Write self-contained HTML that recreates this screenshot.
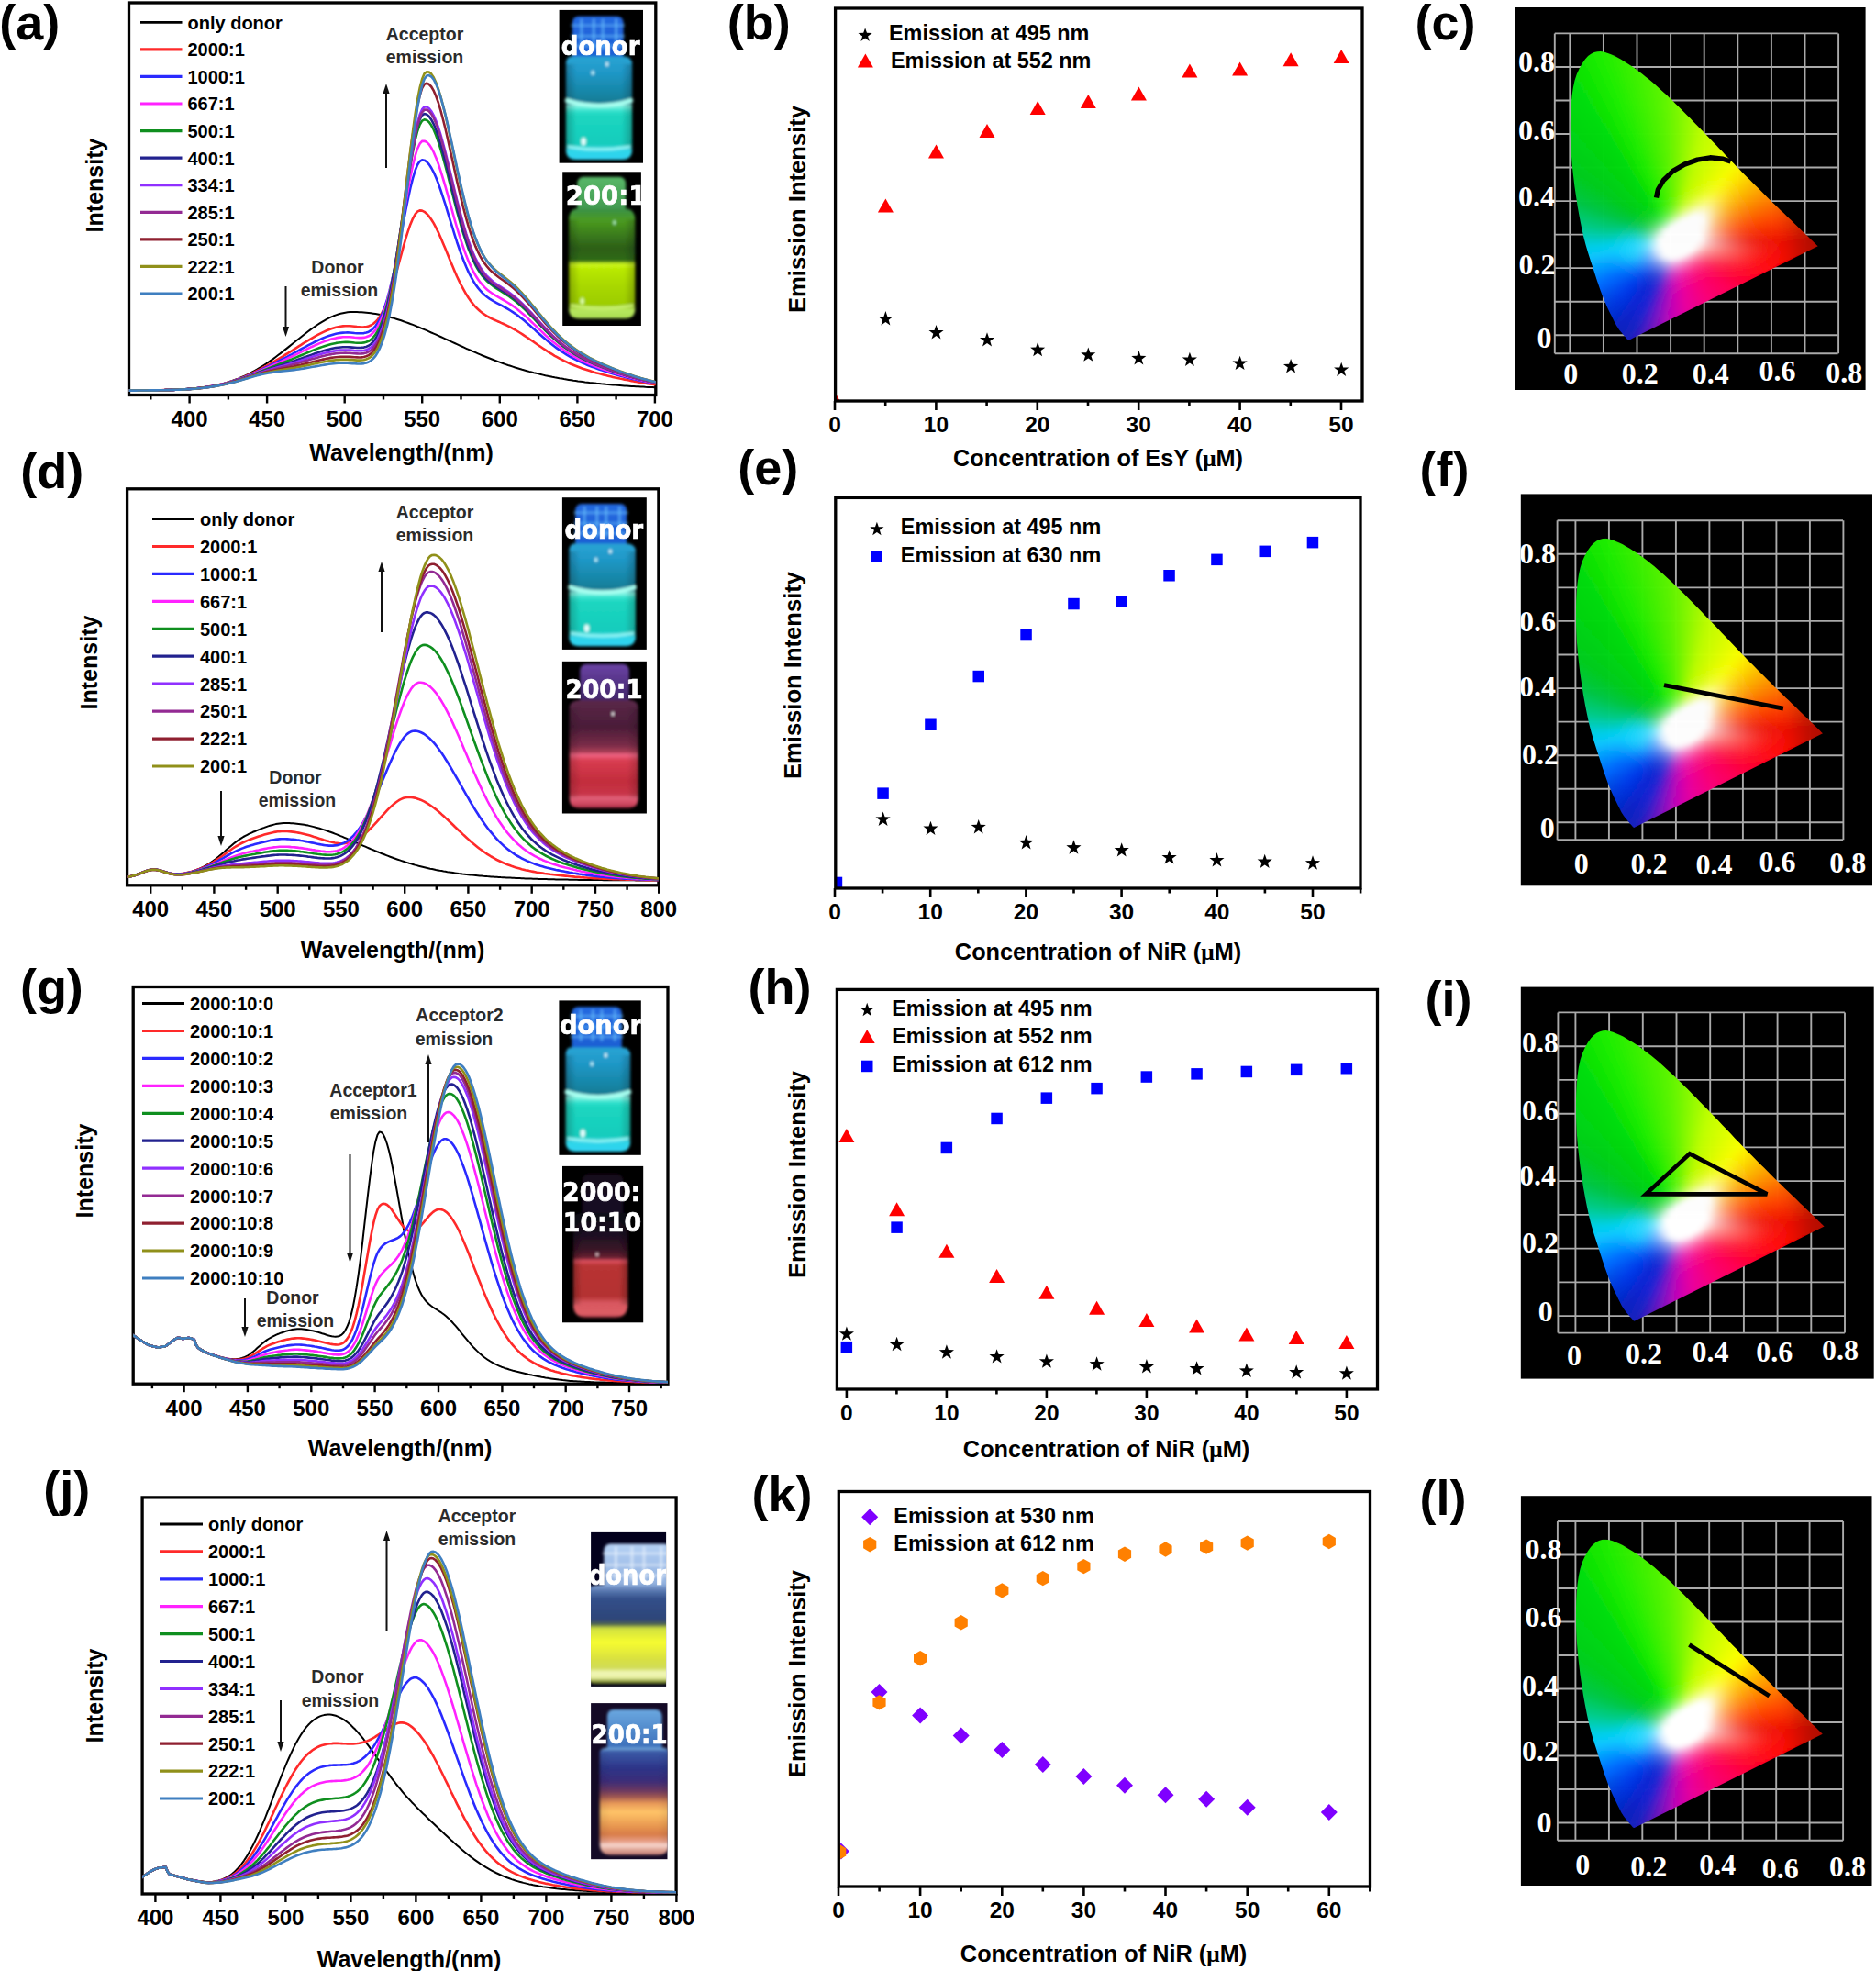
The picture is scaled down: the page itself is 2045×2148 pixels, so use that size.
<!DOCTYPE html><html><head><meta charset="utf-8"><title>figure</title><style>html,body{margin:0;padding:0;background:#fff}svg{display:block}</style></head><body><svg width="2045" height="2148" viewBox="0 0 2045 2148"><defs><filter id="vb" x="-10%" y="-10%" width="120%" height="120%"><feGaussianBlur stdDeviation="1.6"/></filter><filter id="vb3" x="-20%" y="-20%" width="140%" height="140%"><feGaussianBlur stdDeviation="3"/></filter><filter id="tb" x="-10%" y="-10%" width="120%" height="120%"><feGaussianBlur stdDeviation="0.6"/></filter><clipPath id="hsclip"><polygon points="64.5,5.5 64.4,5.5 64.4,5.5 64.3,5.6 64.2,5.6 64,5.6 63.9,5.6 63.7,5.5 63.5,5.4 63.3,5.3 63.1,5.1 62.8,4.9 62.5,4.5 62.2,4.2 61.8,3.7 61.4,3.2 60.8,2.5 60.2,1.9 59.5,1.1 58.8,0.2 57.9,-0.8 56.8,-2.2 55.5,-3.7 54.2,-5.3 53.1,-6.8 52.2,-8.1 51.5,-9.2 50.7,-10.4 49.9,-11.9 48.9,-13.8 47.8,-16 46.6,-18.4 45.4,-20.9 44.2,-23.3 42.9,-25.8 41.6,-28.6 40.1,-31.8 38.6,-35.4 36.9,-39.3 35.2,-43.7 33.4,-48.6 31.5,-54 29.5,-59.9 27.4,-66.4 25.1,-73.5 22.6,-81.2 19.9,-89.6 17.3,-98.5 14.8,-108 12.6,-118.1 10.5,-128.8 8.5,-139.8 6.8,-151 5.1,-162.5 3.7,-174.2 2.4,-186 1.5,-197.6 0.9,-209 0.5,-220.3 0.5,-231.3 0.8,-241.7 1.4,-251.6 2.2,-261.1 3.5,-269.9 5.2,-277.9 7.5,-285 10.4,-291.4 13.5,-296.8 16.7,-301.3 19.8,-304.7 23,-307.1 26.4,-308.7 29.8,-309.6 33.3,-309.8 37,-309.2 40.7,-308.1 44.3,-306.7 48,-305.2 51.7,-303.3 55.4,-301.2 59,-299 62.5,-296.9 66,-294.6 69.4,-292.2 72.8,-289.8 76.1,-287.3 79.4,-284.8 82.7,-282.1 86,-279.5 89.3,-276.7 92.5,-273.9 95.8,-271 99,-268.1 102.3,-265.1 105.5,-262.1 108.7,-259 111.9,-255.9 115.1,-252.8 118.3,-249.7 121.5,-246.5 124.7,-243.3 127.9,-240 131.1,-236.8 134.3,-233.5 137.5,-230.2 140.7,-226.9 143.9,-223.6 147.1,-220.3 150.3,-217 153.5,-213.7 156.6,-210.4 159.8,-207 163,-203.7 166.1,-200.5 169.2,-197.2 172.3,-193.9 175.4,-190.7 178.5,-187.5 181.5,-184.3 184.6,-181.2 187.6,-178.1 190.6,-175.1 193.6,-172.1 196.5,-169.2 199.4,-166.3 202.2,-163.5 205.1,-160.7 207.8,-157.9 210.5,-155.3 213.2,-152.6 215.7,-150 218.2,-147.5 220.7,-145.1 222.9,-143 225,-141 227.1,-138.9 229.8,-136.3 233.2,-133.1 237.1,-129.3 241,-125.6 244.4,-122.2 247.3,-119.5 249.8,-117 252.1,-114.8 254.1,-112.8 256,-111.1 257.6,-109.5 259,-108.1 260.3,-106.9 261.5,-105.7 262.6,-104.6 263.6,-103.7 264.5,-102.8 265.2,-102.1 265.9,-101.5 266.5,-100.9 267.1,-100.3 268,-99.5 268.9,-98.5 269.8,-97.7 270.4,-97.1"/></clipPath><linearGradient id="hr0" gradientUnits="userSpaceOnUse" x1="54.3" y1="0" x2="74.8" y2="0"><stop offset="0" stop-color="#1121be"/><stop offset="0.333" stop-color="#1720be"/><stop offset="0.667" stop-color="#231fbd"/><stop offset="1" stop-color="#3c1bba"/></linearGradient><linearGradient id="hr1" gradientUnits="userSpaceOnUse" x1="53.6" y1="0" x2="76.4" y2="0"><stop offset="0" stop-color="#0f21be"/><stop offset="0.333" stop-color="#1520be"/><stop offset="0.667" stop-color="#211fbe"/><stop offset="1" stop-color="#3f1bbb"/></linearGradient><linearGradient id="hr2" gradientUnits="userSpaceOnUse" x1="51" y1="0" x2="82.5" y2="0"><stop offset="0" stop-color="#0b21be"/><stop offset="0.25" stop-color="#1221bf"/><stop offset="0.5" stop-color="#1920c0"/><stop offset="0.75" stop-color="#331dbe"/><stop offset="1" stop-color="#5418bb"/></linearGradient><linearGradient id="hr3" gradientUnits="userSpaceOnUse" x1="48.5" y1="0" x2="88.5" y2="0"><stop offset="0" stop-color="#0822bf"/><stop offset="0.2" stop-color="#0f21bf"/><stop offset="0.4" stop-color="#1621c0"/><stop offset="0.6" stop-color="#261fc0"/><stop offset="0.8" stop-color="#481abd"/><stop offset="1" stop-color="#6c15ba"/></linearGradient><linearGradient id="hr4" gradientUnits="userSpaceOnUse" x1="46.1" y1="0" x2="94.5" y2="0"><stop offset="0" stop-color="#0725c2"/><stop offset="0.167" stop-color="#0b22bf"/><stop offset="0.333" stop-color="#1221c1"/><stop offset="0.5" stop-color="#1a21c3"/><stop offset="0.667" stop-color="#3b1cc1"/><stop offset="0.833" stop-color="#5f17bd"/><stop offset="1" stop-color="#8110b9"/></linearGradient><linearGradient id="hr5" gradientUnits="userSpaceOnUse" x1="43.9" y1="0" x2="100.5" y2="0"><stop offset="0" stop-color="#0628c5"/><stop offset="0.125" stop-color="#0823c1"/><stop offset="0.25" stop-color="#0d22c1"/><stop offset="0.375" stop-color="#1421c3"/><stop offset="0.5" stop-color="#1b21c5"/><stop offset="0.625" stop-color="#3a1dc3"/><stop offset="0.75" stop-color="#5c18c0"/><stop offset="0.875" stop-color="#7c12bc"/><stop offset="1" stop-color="#990bb7"/></linearGradient><linearGradient id="hr6" gradientUnits="userSpaceOnUse" x1="42.1" y1="0" x2="106.6" y2="0"><stop offset="0" stop-color="#042bc8"/><stop offset="0.111" stop-color="#0726c5"/><stop offset="0.222" stop-color="#0a22c2"/><stop offset="0.333" stop-color="#1122c4"/><stop offset="0.444" stop-color="#1822c6"/><stop offset="0.556" stop-color="#2f1fc6"/><stop offset="0.667" stop-color="#521ac3"/><stop offset="0.778" stop-color="#7614bf"/><stop offset="0.889" stop-color="#930dba"/><stop offset="1" stop-color="#b806ba"/></linearGradient><linearGradient id="hr7" gradientUnits="userSpaceOnUse" x1="40.5" y1="0" x2="112.6" y2="0"><stop offset="0" stop-color="#032dcb"/><stop offset="0.1" stop-color="#0629c8"/><stop offset="0.2" stop-color="#0824c5"/><stop offset="0.3" stop-color="#0e22c5"/><stop offset="0.4" stop-color="#1622c8"/><stop offset="0.5" stop-color="#2321c9"/><stop offset="0.6" stop-color="#471cc6"/><stop offset="0.7" stop-color="#6d16c2"/><stop offset="0.8" stop-color="#8d0fbd"/><stop offset="0.9" stop-color="#b107bb"/><stop offset="1" stop-color="#c703b3"/></linearGradient><linearGradient id="hr8" gradientUnits="userSpaceOnUse" x1="39.1" y1="0" x2="118.6" y2="0"><stop offset="0" stop-color="#0230ce"/><stop offset="0.091" stop-color="#042ccc"/><stop offset="0.182" stop-color="#0727c9"/><stop offset="0.273" stop-color="#0b23c7"/><stop offset="0.364" stop-color="#1223c9"/><stop offset="0.455" stop-color="#1b22cb"/><stop offset="0.545" stop-color="#3b1ec9"/><stop offset="0.636" stop-color="#6218c5"/><stop offset="0.727" stop-color="#8611c0"/><stop offset="0.818" stop-color="#aa09bd"/><stop offset="0.909" stop-color="#c404b4"/><stop offset="1" stop-color="#d402ab"/></linearGradient><linearGradient id="hr9" gradientUnits="userSpaceOnUse" x1="37.6" y1="0" x2="124.6" y2="0"><stop offset="0" stop-color="#0133d2"/><stop offset="0.083" stop-color="#032fcf"/><stop offset="0.167" stop-color="#062acc"/><stop offset="0.25" stop-color="#0825c9"/><stop offset="0.333" stop-color="#0f23ca"/><stop offset="0.417" stop-color="#1823cd"/><stop offset="0.5" stop-color="#2f20cc"/><stop offset="0.583" stop-color="#571ac8"/><stop offset="0.667" stop-color="#7e13c3"/><stop offset="0.75" stop-color="#a30bbe"/><stop offset="0.833" stop-color="#c104b6"/><stop offset="0.917" stop-color="#d202ad"/><stop offset="1" stop-color="#e200a3"/></linearGradient><linearGradient id="hr10" gradientUnits="userSpaceOnUse" x1="36.1" y1="0" x2="130.7" y2="0"><stop offset="0" stop-color="#0036d5"/><stop offset="0.077" stop-color="#0232d3"/><stop offset="0.154" stop-color="#042dd0"/><stop offset="0.231" stop-color="#0728cd"/><stop offset="0.308" stop-color="#0c24cc"/><stop offset="0.385" stop-color="#1423ce"/><stop offset="0.462" stop-color="#2122cf"/><stop offset="0.538" stop-color="#4a1ccb"/><stop offset="0.615" stop-color="#7516c6"/><stop offset="0.692" stop-color="#990dbf"/><stop offset="0.769" stop-color="#be04b8"/><stop offset="0.846" stop-color="#cf02ae"/><stop offset="0.923" stop-color="#e000a4"/><stop offset="1" stop-color="#ea009a"/></linearGradient><linearGradient id="hr11" gradientUnits="userSpaceOnUse" x1="34.6" y1="0" x2="136.7" y2="0"><stop offset="0" stop-color="#003ad8"/><stop offset="0.071" stop-color="#0135d7"/><stop offset="0.143" stop-color="#0330d5"/><stop offset="0.214" stop-color="#062bd2"/><stop offset="0.286" stop-color="#0925ce"/><stop offset="0.357" stop-color="#1124cf"/><stop offset="0.429" stop-color="#1a23d1"/><stop offset="0.5" stop-color="#3c1fce"/><stop offset="0.571" stop-color="#6818c9"/><stop offset="0.643" stop-color="#900fc2"/><stop offset="0.714" stop-color="#b606ba"/><stop offset="0.786" stop-color="#cc03b0"/><stop offset="0.857" stop-color="#de01a5"/><stop offset="0.929" stop-color="#e9009b"/><stop offset="1" stop-color="#ee0091"/></linearGradient><linearGradient id="hr12" gradientUnits="userSpaceOnUse" x1="33.1" y1="0" x2="142.7" y2="0"><stop offset="0" stop-color="#003fda"/><stop offset="0.067" stop-color="#0038da"/><stop offset="0.133" stop-color="#0234d9"/><stop offset="0.2" stop-color="#042fd6"/><stop offset="0.267" stop-color="#0729d2"/><stop offset="0.333" stop-color="#0d25d0"/><stop offset="0.4" stop-color="#1724d2"/><stop offset="0.467" stop-color="#2d21d1"/><stop offset="0.533" stop-color="#5b1acb"/><stop offset="0.6" stop-color="#8712c4"/><stop offset="0.667" stop-color="#ae09bc"/><stop offset="0.733" stop-color="#c903b2"/><stop offset="0.8" stop-color="#db01a7"/><stop offset="0.867" stop-color="#e9009c"/><stop offset="0.933" stop-color="#ee0092"/><stop offset="1" stop-color="#f20088"/></linearGradient><linearGradient id="hr13" gradientUnits="userSpaceOnUse" x1="31.8" y1="0" x2="148.7" y2="0"><stop offset="0" stop-color="#0044dc"/><stop offset="0.062" stop-color="#003ddd"/><stop offset="0.125" stop-color="#0037dd"/><stop offset="0.188" stop-color="#0332da"/><stop offset="0.25" stop-color="#062cd7"/><stop offset="0.312" stop-color="#0925d1"/><stop offset="0.375" stop-color="#1324d2"/><stop offset="0.438" stop-color="#1d24d3"/><stop offset="0.5" stop-color="#4c1dcd"/><stop offset="0.562" stop-color="#7c15c7"/><stop offset="0.625" stop-color="#a50bbe"/><stop offset="0.688" stop-color="#c504b4"/><stop offset="0.75" stop-color="#d802a9"/><stop offset="0.812" stop-color="#e9009d"/><stop offset="0.875" stop-color="#ed0092"/><stop offset="0.938" stop-color="#f20088"/><stop offset="1" stop-color="#f6007f"/></linearGradient><linearGradient id="hr14" gradientUnits="userSpaceOnUse" x1="30.5" y1="0" x2="154.7" y2="0"><stop offset="0" stop-color="#0049df"/><stop offset="0.059" stop-color="#0043e0"/><stop offset="0.118" stop-color="#003be0"/><stop offset="0.176" stop-color="#0135df"/><stop offset="0.235" stop-color="#0430db"/><stop offset="0.294" stop-color="#0829d6"/><stop offset="0.353" stop-color="#0f25d3"/><stop offset="0.412" stop-color="#1a24d4"/><stop offset="0.471" stop-color="#3c1fd0"/><stop offset="0.529" stop-color="#6f17c9"/><stop offset="0.588" stop-color="#9b0ec0"/><stop offset="0.647" stop-color="#c105b6"/><stop offset="0.706" stop-color="#d602aa"/><stop offset="0.765" stop-color="#e8009e"/><stop offset="0.824" stop-color="#ed0093"/><stop offset="0.882" stop-color="#f20088"/><stop offset="0.941" stop-color="#f6007e"/><stop offset="1" stop-color="#fa0075"/></linearGradient><linearGradient id="hr15" gradientUnits="userSpaceOnUse" x1="29.3" y1="0" x2="160.8" y2="0"><stop offset="0" stop-color="#004ee1"/><stop offset="0.056" stop-color="#0048e3"/><stop offset="0.111" stop-color="#0041e3"/><stop offset="0.167" stop-color="#0039e3"/><stop offset="0.222" stop-color="#0333e0"/><stop offset="0.278" stop-color="#062dda"/><stop offset="0.333" stop-color="#0a26d3"/><stop offset="0.389" stop-color="#1525d4"/><stop offset="0.444" stop-color="#2c22d2"/><stop offset="0.5" stop-color="#601acb"/><stop offset="0.556" stop-color="#9011c3"/><stop offset="0.611" stop-color="#bd06b9"/><stop offset="0.667" stop-color="#d303ac"/><stop offset="0.722" stop-color="#e700a0"/><stop offset="0.778" stop-color="#ed0094"/><stop offset="0.833" stop-color="#f20089"/><stop offset="0.889" stop-color="#f7007e"/><stop offset="0.944" stop-color="#fa0075"/><stop offset="1" stop-color="#fb006d"/></linearGradient><linearGradient id="hr16" gradientUnits="userSpaceOnUse" x1="28.1" y1="0" x2="166.8" y2="0"><stop offset="0" stop-color="#0053e4"/><stop offset="0.056" stop-color="#004de5"/><stop offset="0.111" stop-color="#0046e6"/><stop offset="0.167" stop-color="#003de6"/><stop offset="0.222" stop-color="#0236e3"/><stop offset="0.278" stop-color="#062fdd"/><stop offset="0.333" stop-color="#0a26d4"/><stop offset="0.389" stop-color="#1625d4"/><stop offset="0.444" stop-color="#3222d1"/><stop offset="0.5" stop-color="#6c19c9"/><stop offset="0.556" stop-color="#9f0ec0"/><stop offset="0.611" stop-color="#c705b4"/><stop offset="0.667" stop-color="#de02a6"/><stop offset="0.722" stop-color="#eb0098"/><stop offset="0.778" stop-color="#f1008b"/><stop offset="0.833" stop-color="#f60080"/><stop offset="0.889" stop-color="#fa0075"/><stop offset="0.944" stop-color="#fb006c"/><stop offset="1" stop-color="#fc0065"/></linearGradient><linearGradient id="hr17" gradientUnits="userSpaceOnUse" x1="26.9" y1="0" x2="172.8" y2="0"><stop offset="0" stop-color="#005ff9"/><stop offset="0.053" stop-color="#0053e8"/><stop offset="0.105" stop-color="#004cea"/><stop offset="0.158" stop-color="#0043ea"/><stop offset="0.211" stop-color="#003ae7"/><stop offset="0.263" stop-color="#0433e1"/><stop offset="0.316" stop-color="#082bd8"/><stop offset="0.368" stop-color="#1126d4"/><stop offset="0.421" stop-color="#1f25d4"/><stop offset="0.474" stop-color="#5b1dcc"/><stop offset="0.526" stop-color="#9312c3"/><stop offset="0.579" stop-color="#c207b7"/><stop offset="0.632" stop-color="#da03a8"/><stop offset="0.684" stop-color="#ea019a"/><stop offset="0.737" stop-color="#f0008c"/><stop offset="0.789" stop-color="#f60080"/><stop offset="0.842" stop-color="#fa0075"/><stop offset="0.895" stop-color="#fb006c"/><stop offset="0.947" stop-color="#fc0064"/><stop offset="1" stop-color="#fd005d"/></linearGradient><linearGradient id="hr18" gradientUnits="userSpaceOnUse" x1="25.8" y1="0" x2="178.8" y2="0"><stop offset="0" stop-color="#0064fb"/><stop offset="0.05" stop-color="#005df8"/><stop offset="0.1" stop-color="#0052ed"/><stop offset="0.15" stop-color="#004aed"/><stop offset="0.2" stop-color="#0040eb"/><stop offset="0.25" stop-color="#0237e5"/><stop offset="0.3" stop-color="#062fdd"/><stop offset="0.35" stop-color="#0d27d4"/><stop offset="0.4" stop-color="#1b27d4"/><stop offset="0.45" stop-color="#4921cf"/><stop offset="0.5" stop-color="#8717c6"/><stop offset="0.55" stop-color="#bc0aba"/><stop offset="0.6" stop-color="#d706ab"/><stop offset="0.65" stop-color="#ea029c"/><stop offset="0.7" stop-color="#f0018e"/><stop offset="0.75" stop-color="#f60080"/><stop offset="0.8" stop-color="#fa0075"/><stop offset="0.85" stop-color="#fb006b"/><stop offset="0.9" stop-color="#fc0063"/><stop offset="0.95" stop-color="#fe005c"/><stop offset="1" stop-color="#fe0055"/></linearGradient><linearGradient id="hr19" gradientUnits="userSpaceOnUse" x1="24.7" y1="0" x2="184.9" y2="0"><stop offset="0" stop-color="#006afd"/><stop offset="0.048" stop-color="#0063fa"/><stop offset="0.095" stop-color="#0058ef"/><stop offset="0.143" stop-color="#0050f0"/><stop offset="0.19" stop-color="#0047ee"/><stop offset="0.238" stop-color="#003cea"/><stop offset="0.286" stop-color="#0534e1"/><stop offset="0.333" stop-color="#0a2bd7"/><stop offset="0.381" stop-color="#1728d4"/><stop offset="0.429" stop-color="#3626d2"/><stop offset="0.476" stop-color="#791dc9"/><stop offset="0.524" stop-color="#b110be"/><stop offset="0.571" stop-color="#d309af"/><stop offset="0.619" stop-color="#e9059f"/><stop offset="0.667" stop-color="#f0038f"/><stop offset="0.714" stop-color="#f60181"/><stop offset="0.762" stop-color="#fa0074"/><stop offset="0.81" stop-color="#fb006a"/><stop offset="0.857" stop-color="#fd0062"/><stop offset="0.905" stop-color="#fe005a"/><stop offset="0.952" stop-color="#ff0053"/><stop offset="1" stop-color="#ff004a"/></linearGradient><linearGradient id="hr20" gradientUnits="userSpaceOnUse" x1="23.7" y1="0" x2="190.9" y2="0"><stop offset="0" stop-color="#0070ff"/><stop offset="0.045" stop-color="#0069fd"/><stop offset="0.091" stop-color="#0061f9"/><stop offset="0.136" stop-color="#0057f3"/><stop offset="0.182" stop-color="#004ef1"/><stop offset="0.227" stop-color="#0043ed"/><stop offset="0.273" stop-color="#0339e6"/><stop offset="0.318" stop-color="#0931dc"/><stop offset="0.364" stop-color="#132bd5"/><stop offset="0.409" stop-color="#252cd5"/><stop offset="0.455" stop-color="#6824cd"/><stop offset="0.5" stop-color="#a617c2"/><stop offset="0.545" stop-color="#cf0eb3"/><stop offset="0.591" stop-color="#e908a2"/><stop offset="0.636" stop-color="#f00591"/><stop offset="0.682" stop-color="#f60381"/><stop offset="0.727" stop-color="#fa0174"/><stop offset="0.773" stop-color="#fc006a"/><stop offset="0.818" stop-color="#fd0061"/><stop offset="0.864" stop-color="#fe0059"/><stop offset="0.909" stop-color="#ff0051"/><stop offset="0.955" stop-color="#ff0047"/><stop offset="1" stop-color="#ff003e"/></linearGradient><linearGradient id="hr21" gradientUnits="userSpaceOnUse" x1="22.7" y1="0" x2="196.9" y2="0"><stop offset="0" stop-color="#0179ff"/><stop offset="0.043" stop-color="#006fff"/><stop offset="0.087" stop-color="#0067fc"/><stop offset="0.13" stop-color="#005ff9"/><stop offset="0.174" stop-color="#0056f4"/><stop offset="0.217" stop-color="#004bf0"/><stop offset="0.261" stop-color="#023feb"/><stop offset="0.304" stop-color="#0837e2"/><stop offset="0.348" stop-color="#102fd7"/><stop offset="0.391" stop-color="#222fd6"/><stop offset="0.435" stop-color="#572bd1"/><stop offset="0.478" stop-color="#9b21c6"/><stop offset="0.522" stop-color="#cc15b8"/><stop offset="0.565" stop-color="#e80ea5"/><stop offset="0.609" stop-color="#ef0993"/><stop offset="0.652" stop-color="#f60583"/><stop offset="0.696" stop-color="#fa0374"/><stop offset="0.739" stop-color="#fc0169"/><stop offset="0.783" stop-color="#fd015f"/><stop offset="0.826" stop-color="#fe0158"/><stop offset="0.87" stop-color="#ff014e"/><stop offset="0.913" stop-color="#ff0144"/><stop offset="0.957" stop-color="#ff013c"/><stop offset="1" stop-color="#ff0134"/></linearGradient><linearGradient id="hr22" gradientUnits="userSpaceOnUse" x1="21.6" y1="0" x2="202.9" y2="0"><stop offset="0" stop-color="#0281ff"/><stop offset="0.042" stop-color="#0178ff"/><stop offset="0.083" stop-color="#006efe"/><stop offset="0.125" stop-color="#0066fb"/><stop offset="0.167" stop-color="#005ef8"/><stop offset="0.208" stop-color="#0154f3"/><stop offset="0.25" stop-color="#0249ee"/><stop offset="0.292" stop-color="#073fe7"/><stop offset="0.333" stop-color="#1137dd"/><stop offset="0.375" stop-color="#2134d7"/><stop offset="0.417" stop-color="#4635d5"/><stop offset="0.458" stop-color="#902ccb"/><stop offset="0.5" stop-color="#c91ebd"/><stop offset="0.542" stop-color="#e516aa"/><stop offset="0.583" stop-color="#ef0f97"/><stop offset="0.625" stop-color="#f60984"/><stop offset="0.667" stop-color="#fa0575"/><stop offset="0.708" stop-color="#fc0368"/><stop offset="0.75" stop-color="#fd025f"/><stop offset="0.792" stop-color="#fe0257"/><stop offset="0.833" stop-color="#fe024b"/><stop offset="0.875" stop-color="#ff0241"/><stop offset="0.917" stop-color="#ff0239"/><stop offset="0.958" stop-color="#ff0232"/><stop offset="1" stop-color="#ff022b"/></linearGradient><linearGradient id="hr23" gradientUnits="userSpaceOnUse" x1="20.7" y1="0" x2="209" y2="0"><stop offset="0" stop-color="#0389ff"/><stop offset="0.04" stop-color="#0281ff"/><stop offset="0.08" stop-color="#0177ff"/><stop offset="0.12" stop-color="#006dfe"/><stop offset="0.16" stop-color="#0066fb"/><stop offset="0.2" stop-color="#015ef7"/><stop offset="0.24" stop-color="#0355f2"/><stop offset="0.28" stop-color="#0749ed"/><stop offset="0.32" stop-color="#1141e3"/><stop offset="0.36" stop-color="#203bd8"/><stop offset="0.4" stop-color="#3940d9"/><stop offset="0.44" stop-color="#843ad1"/><stop offset="0.48" stop-color="#c42cc4"/><stop offset="0.52" stop-color="#e322b1"/><stop offset="0.56" stop-color="#f0189c"/><stop offset="0.6" stop-color="#f71087"/><stop offset="0.64" stop-color="#fb0976"/><stop offset="0.68" stop-color="#fc0669"/><stop offset="0.72" stop-color="#fe055e"/><stop offset="0.76" stop-color="#fe0555"/><stop offset="0.8" stop-color="#fe0549"/><stop offset="0.84" stop-color="#ff053f"/><stop offset="0.88" stop-color="#ff0437"/><stop offset="0.92" stop-color="#ff042f"/><stop offset="0.96" stop-color="#ff0329"/><stop offset="1" stop-color="#ff0223"/></linearGradient><linearGradient id="hr24" gradientUnits="userSpaceOnUse" x1="19.7" y1="0" x2="215" y2="0"><stop offset="0" stop-color="#0492ff"/><stop offset="0.038" stop-color="#038aff"/><stop offset="0.077" stop-color="#0281ff"/><stop offset="0.115" stop-color="#0177ff"/><stop offset="0.154" stop-color="#016efd"/><stop offset="0.192" stop-color="#0268fa"/><stop offset="0.231" stop-color="#0461f6"/><stop offset="0.269" stop-color="#0957f1"/><stop offset="0.308" stop-color="#124ce9"/><stop offset="0.346" stop-color="#2346de"/><stop offset="0.385" stop-color="#3c4adb"/><stop offset="0.423" stop-color="#784ad7"/><stop offset="0.462" stop-color="#bc3ecb"/><stop offset="0.5" stop-color="#e132b8"/><stop offset="0.538" stop-color="#f025a2"/><stop offset="0.577" stop-color="#f7198c"/><stop offset="0.615" stop-color="#fb1078"/><stop offset="0.654" stop-color="#fd0b6a"/><stop offset="0.692" stop-color="#fe095e"/><stop offset="0.731" stop-color="#fe0853"/><stop offset="0.769" stop-color="#fe0847"/><stop offset="0.808" stop-color="#ff083e"/><stop offset="0.846" stop-color="#ff0835"/><stop offset="0.885" stop-color="#ff072e"/><stop offset="0.923" stop-color="#ff0627"/><stop offset="0.962" stop-color="#ff0421"/><stop offset="1" stop-color="#ff031b"/></linearGradient><linearGradient id="hr25" gradientUnits="userSpaceOnUse" x1="18.7" y1="0" x2="221" y2="0"><stop offset="0" stop-color="#049aff"/><stop offset="0.037" stop-color="#0493ff"/><stop offset="0.074" stop-color="#038bff"/><stop offset="0.111" stop-color="#0282ff"/><stop offset="0.148" stop-color="#0279ff"/><stop offset="0.185" stop-color="#0373fd"/><stop offset="0.222" stop-color="#066ff9"/><stop offset="0.259" stop-color="#0b66f5"/><stop offset="0.296" stop-color="#155aef"/><stop offset="0.333" stop-color="#2754e5"/><stop offset="0.37" stop-color="#4055dd"/><stop offset="0.407" stop-color="#6e5cdd"/><stop offset="0.444" stop-color="#b655d3"/><stop offset="0.481" stop-color="#e047c2"/><stop offset="0.519" stop-color="#f137ab"/><stop offset="0.556" stop-color="#f82792"/><stop offset="0.593" stop-color="#fb1a7c"/><stop offset="0.63" stop-color="#fd126c"/><stop offset="0.667" stop-color="#fe0f60"/><stop offset="0.704" stop-color="#fe0e52"/><stop offset="0.741" stop-color="#fe0e47"/><stop offset="0.778" stop-color="#fe0d3d"/><stop offset="0.815" stop-color="#ff0d35"/><stop offset="0.852" stop-color="#ff0b2d"/><stop offset="0.889" stop-color="#ff0926"/><stop offset="0.926" stop-color="#ff071f"/><stop offset="0.963" stop-color="#ff0519"/><stop offset="1" stop-color="#fe0314"/></linearGradient><linearGradient id="hr26" gradientUnits="userSpaceOnUse" x1="17.8" y1="0" x2="227" y2="0"><stop offset="0" stop-color="#05a3ff"/><stop offset="0.036" stop-color="#059cff"/><stop offset="0.071" stop-color="#0495ff"/><stop offset="0.107" stop-color="#038dff"/><stop offset="0.143" stop-color="#0386ff"/><stop offset="0.179" stop-color="#0480ff"/><stop offset="0.214" stop-color="#087dfc"/><stop offset="0.25" stop-color="#0e77f9"/><stop offset="0.286" stop-color="#196cf4"/><stop offset="0.321" stop-color="#2c63ed"/><stop offset="0.357" stop-color="#4864e2"/><stop offset="0.393" stop-color="#6a70e3"/><stop offset="0.429" stop-color="#b36fdb"/><stop offset="0.464" stop-color="#e161cc"/><stop offset="0.5" stop-color="#f24fb5"/><stop offset="0.536" stop-color="#f93a9b"/><stop offset="0.571" stop-color="#fc2883"/><stop offset="0.607" stop-color="#fd1d70"/><stop offset="0.643" stop-color="#fe1762"/><stop offset="0.679" stop-color="#fe1653"/><stop offset="0.714" stop-color="#fe1548"/><stop offset="0.75" stop-color="#fe153f"/><stop offset="0.786" stop-color="#ff1436"/><stop offset="0.821" stop-color="#ff112e"/><stop offset="0.857" stop-color="#ff0e26"/><stop offset="0.893" stop-color="#ff0b1f"/><stop offset="0.929" stop-color="#ff0818"/><stop offset="0.964" stop-color="#fe0512"/><stop offset="1" stop-color="#fa030d"/></linearGradient><linearGradient id="hr27" gradientUnits="userSpaceOnUse" x1="16.8" y1="0" x2="233" y2="0"><stop offset="0" stop-color="#06abff"/><stop offset="0.034" stop-color="#06a5ff"/><stop offset="0.069" stop-color="#059eff"/><stop offset="0.103" stop-color="#0598ff"/><stop offset="0.138" stop-color="#0592ff"/><stop offset="0.172" stop-color="#068fff"/><stop offset="0.207" stop-color="#0a8dff"/><stop offset="0.241" stop-color="#1189fc"/><stop offset="0.276" stop-color="#1d80f8"/><stop offset="0.31" stop-color="#3175f2"/><stop offset="0.345" stop-color="#5276ea"/><stop offset="0.379" stop-color="#7783e6"/><stop offset="0.414" stop-color="#b28be4"/><stop offset="0.448" stop-color="#e380d8"/><stop offset="0.483" stop-color="#f46cc2"/><stop offset="0.517" stop-color="#fa53a7"/><stop offset="0.552" stop-color="#fc3b8c"/><stop offset="0.586" stop-color="#fe2b77"/><stop offset="0.621" stop-color="#fe2465"/><stop offset="0.655" stop-color="#fe2156"/><stop offset="0.69" stop-color="#fe204b"/><stop offset="0.724" stop-color="#fe1f42"/><stop offset="0.759" stop-color="#ff1d39"/><stop offset="0.793" stop-color="#ff1931"/><stop offset="0.828" stop-color="#ff1528"/><stop offset="0.862" stop-color="#ff101f"/><stop offset="0.897" stop-color="#ff0c18"/><stop offset="0.931" stop-color="#ff0811"/><stop offset="0.966" stop-color="#fc050b"/><stop offset="1" stop-color="#f20306"/></linearGradient><linearGradient id="hr28" gradientUnits="userSpaceOnUse" x1="15.8" y1="0" x2="239.1" y2="0"><stop offset="0" stop-color="#07b3ff"/><stop offset="0.033" stop-color="#07aeff"/><stop offset="0.067" stop-color="#06a8ff"/><stop offset="0.1" stop-color="#06a2ff"/><stop offset="0.133" stop-color="#069eff"/><stop offset="0.167" stop-color="#089dff"/><stop offset="0.2" stop-color="#0d9eff"/><stop offset="0.233" stop-color="#149bff"/><stop offset="0.267" stop-color="#2193fc"/><stop offset="0.3" stop-color="#3888f7"/><stop offset="0.333" stop-color="#5b87f1"/><stop offset="0.367" stop-color="#8696ea"/><stop offset="0.4" stop-color="#b6a9ec"/><stop offset="0.433" stop-color="#e7a4e5"/><stop offset="0.467" stop-color="#f690d2"/><stop offset="0.5" stop-color="#fb72b6"/><stop offset="0.533" stop-color="#fd5499"/><stop offset="0.567" stop-color="#fe3f81"/><stop offset="0.6" stop-color="#fe346b"/><stop offset="0.633" stop-color="#fe2f5c"/><stop offset="0.667" stop-color="#fe2d51"/><stop offset="0.7" stop-color="#fe2b48"/><stop offset="0.733" stop-color="#ff283e"/><stop offset="0.767" stop-color="#ff2335"/><stop offset="0.8" stop-color="#ff1d2b"/><stop offset="0.833" stop-color="#ff1621"/><stop offset="0.867" stop-color="#ff1018"/><stop offset="0.9" stop-color="#ff0b10"/><stop offset="0.933" stop-color="#fe0709"/><stop offset="0.967" stop-color="#f60404"/><stop offset="1" stop-color="#e80302"/></linearGradient><linearGradient id="hr29" gradientUnits="userSpaceOnUse" x1="14.9" y1="0" x2="245.1" y2="0"><stop offset="0" stop-color="#08bcff"/><stop offset="0.032" stop-color="#08b7ff"/><stop offset="0.065" stop-color="#07b2ff"/><stop offset="0.097" stop-color="#07adff"/><stop offset="0.129" stop-color="#08a9ff"/><stop offset="0.161" stop-color="#0aa9ff"/><stop offset="0.194" stop-color="#0fadff"/><stop offset="0.226" stop-color="#17aeff"/><stop offset="0.258" stop-color="#24a6ff"/><stop offset="0.29" stop-color="#3d9bfb"/><stop offset="0.323" stop-color="#659af6"/><stop offset="0.355" stop-color="#97acf2"/><stop offset="0.387" stop-color="#c3c6f3"/><stop offset="0.419" stop-color="#eccbf1"/><stop offset="0.452" stop-color="#f9bae3"/><stop offset="0.484" stop-color="#fc98c9"/><stop offset="0.516" stop-color="#fd73aa"/><stop offset="0.548" stop-color="#fe588e"/><stop offset="0.581" stop-color="#fe4875"/><stop offset="0.613" stop-color="#fe4164"/><stop offset="0.645" stop-color="#fe3e59"/><stop offset="0.677" stop-color="#fe3a4f"/><stop offset="0.71" stop-color="#fe3545"/><stop offset="0.742" stop-color="#ff2e3a"/><stop offset="0.774" stop-color="#ff252e"/><stop offset="0.806" stop-color="#ff1d23"/><stop offset="0.839" stop-color="#ff1518"/><stop offset="0.871" stop-color="#ff0e0f"/><stop offset="0.903" stop-color="#fe0a09"/><stop offset="0.935" stop-color="#f70705"/><stop offset="0.968" stop-color="#ea0503"/><stop offset="1" stop-color="#da0401"/></linearGradient><linearGradient id="hr30" gradientUnits="userSpaceOnUse" x1="13.9" y1="0" x2="251.1" y2="0"><stop offset="0" stop-color="#09c4ff"/><stop offset="0.031" stop-color="#09c0ff"/><stop offset="0.062" stop-color="#08bcff"/><stop offset="0.094" stop-color="#08b7ff"/><stop offset="0.125" stop-color="#09b4ff"/><stop offset="0.156" stop-color="#0cb4ff"/><stop offset="0.188" stop-color="#11b9ff"/><stop offset="0.219" stop-color="#1abdff"/><stop offset="0.25" stop-color="#28b8ff"/><stop offset="0.281" stop-color="#41abfe"/><stop offset="0.312" stop-color="#6dabfa"/><stop offset="0.344" stop-color="#a7bef8"/><stop offset="0.375" stop-color="#dce0f8"/><stop offset="0.406" stop-color="#f9f3fc"/><stop offset="0.438" stop-color="#fde8f6"/><stop offset="0.469" stop-color="#fdc3df"/><stop offset="0.5" stop-color="#fe98bf"/><stop offset="0.531" stop-color="#fe769e"/><stop offset="0.562" stop-color="#fe6182"/><stop offset="0.594" stop-color="#fe5670"/><stop offset="0.625" stop-color="#fe5063"/><stop offset="0.656" stop-color="#fe4a59"/><stop offset="0.688" stop-color="#fe434d"/><stop offset="0.719" stop-color="#ff3940"/><stop offset="0.75" stop-color="#ff2e33"/><stop offset="0.781" stop-color="#ff2425"/><stop offset="0.812" stop-color="#fe1a1a"/><stop offset="0.844" stop-color="#fd1311"/><stop offset="0.875" stop-color="#fc0d0b"/><stop offset="0.906" stop-color="#f80a06"/><stop offset="0.938" stop-color="#ec0703"/><stop offset="0.969" stop-color="#dd0602"/><stop offset="1" stop-color="#cd0501"/></linearGradient><linearGradient id="hr31" gradientUnits="userSpaceOnUse" x1="12.9" y1="0" x2="257.1" y2="0"><stop offset="0" stop-color="#08c9fb"/><stop offset="0.03" stop-color="#09c8fd"/><stop offset="0.061" stop-color="#09c5ff"/><stop offset="0.091" stop-color="#09c1ff"/><stop offset="0.121" stop-color="#0abeff"/><stop offset="0.152" stop-color="#0dbeff"/><stop offset="0.182" stop-color="#13c2ff"/><stop offset="0.212" stop-color="#1cc8ff"/><stop offset="0.242" stop-color="#2ac6ff"/><stop offset="0.273" stop-color="#44bcff"/><stop offset="0.303" stop-color="#72b8fe"/><stop offset="0.333" stop-color="#b3cefb"/><stop offset="0.364" stop-color="#f4f6fd"/><stop offset="0.394" stop-color="#ffffff"/><stop offset="0.424" stop-color="#ffffff"/><stop offset="0.455" stop-color="#fef3f9"/><stop offset="0.485" stop-color="#fec2d8"/><stop offset="0.515" stop-color="#fe98b2"/><stop offset="0.545" stop-color="#fe7c93"/><stop offset="0.576" stop-color="#fe6d7e"/><stop offset="0.606" stop-color="#fe6370"/><stop offset="0.636" stop-color="#fe5b63"/><stop offset="0.667" stop-color="#fe5056"/><stop offset="0.697" stop-color="#ff4447"/><stop offset="0.727" stop-color="#fe3737"/><stop offset="0.758" stop-color="#fd2b2a"/><stop offset="0.788" stop-color="#fc201e"/><stop offset="0.818" stop-color="#fb1714"/><stop offset="0.848" stop-color="#fa110d"/><stop offset="0.879" stop-color="#f80c07"/><stop offset="0.909" stop-color="#ee0904"/><stop offset="0.939" stop-color="#df0702"/><stop offset="0.97" stop-color="#cf0601"/><stop offset="1" stop-color="#c20600"/></linearGradient><linearGradient id="hr32" gradientUnits="userSpaceOnUse" x1="12" y1="0" x2="263.2" y2="0"><stop offset="0" stop-color="#06cbf5"/><stop offset="0.03" stop-color="#06caf7"/><stop offset="0.061" stop-color="#07c9fa"/><stop offset="0.091" stop-color="#09c9fc"/><stop offset="0.121" stop-color="#0bc8ff"/><stop offset="0.152" stop-color="#0ec7ff"/><stop offset="0.182" stop-color="#15cbff"/><stop offset="0.212" stop-color="#1fcfff"/><stop offset="0.242" stop-color="#2fceff"/><stop offset="0.273" stop-color="#4fc7ff"/><stop offset="0.303" stop-color="#87c8ff"/><stop offset="0.333" stop-color="#d5e5fd"/><stop offset="0.364" stop-color="#ffffff"/><stop offset="0.394" stop-color="#ffffff"/><stop offset="0.424" stop-color="#ffffff"/><stop offset="0.455" stop-color="#ffffff"/><stop offset="0.485" stop-color="#fed6e0"/><stop offset="0.515" stop-color="#fea9b7"/><stop offset="0.545" stop-color="#fe8d98"/><stop offset="0.576" stop-color="#fe7c84"/><stop offset="0.606" stop-color="#fe6f73"/><stop offset="0.636" stop-color="#fe6263"/><stop offset="0.667" stop-color="#fe5453"/><stop offset="0.697" stop-color="#fd4543"/><stop offset="0.727" stop-color="#fc3633"/><stop offset="0.758" stop-color="#fb2825"/><stop offset="0.788" stop-color="#fa1d19"/><stop offset="0.818" stop-color="#f9150f"/><stop offset="0.848" stop-color="#f80f09"/><stop offset="0.879" stop-color="#f00c05"/><stop offset="0.909" stop-color="#e30902"/><stop offset="0.939" stop-color="#d20801"/><stop offset="0.97" stop-color="#c30700"/><stop offset="1" stop-color="#ba0600"/></linearGradient><linearGradient id="hr33" gradientUnits="userSpaceOnUse" x1="11.1" y1="0" x2="269.2" y2="0"><stop offset="0" stop-color="#03cdf0"/><stop offset="0.029" stop-color="#04ccf1"/><stop offset="0.059" stop-color="#05ccf3"/><stop offset="0.088" stop-color="#06cbf5"/><stop offset="0.118" stop-color="#08cbf8"/><stop offset="0.147" stop-color="#0dcdfb"/><stop offset="0.176" stop-color="#15d0fe"/><stop offset="0.206" stop-color="#1ed3ff"/><stop offset="0.235" stop-color="#2ed4ff"/><stop offset="0.265" stop-color="#4dd2ff"/><stop offset="0.294" stop-color="#85d4ff"/><stop offset="0.324" stop-color="#d7ebff"/><stop offset="0.353" stop-color="#ffffff"/><stop offset="0.382" stop-color="#ffffff"/><stop offset="0.412" stop-color="#ffffff"/><stop offset="0.441" stop-color="#ffffff"/><stop offset="0.471" stop-color="#ffffff"/><stop offset="0.5" stop-color="#feccd1"/><stop offset="0.529" stop-color="#fea7ac"/><stop offset="0.559" stop-color="#fe9092"/><stop offset="0.588" stop-color="#fe7f7f"/><stop offset="0.618" stop-color="#fd6f6d"/><stop offset="0.647" stop-color="#fc5e5b"/><stop offset="0.676" stop-color="#fb4c49"/><stop offset="0.706" stop-color="#fa3c37"/><stop offset="0.735" stop-color="#f92d27"/><stop offset="0.765" stop-color="#f8211a"/><stop offset="0.794" stop-color="#f71810"/><stop offset="0.824" stop-color="#f6120a"/><stop offset="0.853" stop-color="#f10e05"/><stop offset="0.882" stop-color="#e50b02"/><stop offset="0.912" stop-color="#d50901"/><stop offset="0.941" stop-color="#c50800"/><stop offset="0.971" stop-color="#ba0800"/><stop offset="1" stop-color="#b70700"/></linearGradient><linearGradient id="hr34" gradientUnits="userSpaceOnUse" x1="10.2" y1="0" x2="275.2" y2="0"><stop offset="0" stop-color="#01cfea"/><stop offset="0.029" stop-color="#01ceeb"/><stop offset="0.057" stop-color="#02ceec"/><stop offset="0.086" stop-color="#03ceee"/><stop offset="0.114" stop-color="#05cef1"/><stop offset="0.143" stop-color="#0acff5"/><stop offset="0.171" stop-color="#11d1f9"/><stop offset="0.2" stop-color="#1cd5fd"/><stop offset="0.229" stop-color="#2cd8fe"/><stop offset="0.257" stop-color="#4ad9ff"/><stop offset="0.286" stop-color="#80ddff"/><stop offset="0.314" stop-color="#d3efff"/><stop offset="0.343" stop-color="#ffffff"/><stop offset="0.371" stop-color="#ffffff"/><stop offset="0.4" stop-color="#ffffff"/><stop offset="0.429" stop-color="#ffffff"/><stop offset="0.457" stop-color="#ffffff"/><stop offset="0.486" stop-color="#feefef"/><stop offset="0.514" stop-color="#fec1c1"/><stop offset="0.543" stop-color="#fea3a2"/><stop offset="0.571" stop-color="#fc8e8b"/><stop offset="0.6" stop-color="#fb7976"/><stop offset="0.629" stop-color="#fa6561"/><stop offset="0.657" stop-color="#f9514c"/><stop offset="0.686" stop-color="#f83f39"/><stop offset="0.714" stop-color="#f73028"/><stop offset="0.743" stop-color="#f6231b"/><stop offset="0.771" stop-color="#f51a11"/><stop offset="0.8" stop-color="#f5140a"/><stop offset="0.829" stop-color="#f10f05"/><stop offset="0.857" stop-color="#e60d02"/><stop offset="0.886" stop-color="#d70b01"/><stop offset="0.914" stop-color="#c70900"/><stop offset="0.943" stop-color="#bb0900"/><stop offset="0.971" stop-color="#b60800"/><stop offset="1" stop-color="#b60800"/></linearGradient><linearGradient id="hr35" gradientUnits="userSpaceOnUse" x1="9.3" y1="0" x2="277" y2="0"><stop offset="0" stop-color="#00cfe1"/><stop offset="0.028" stop-color="#00cfe2"/><stop offset="0.056" stop-color="#00cfe4"/><stop offset="0.083" stop-color="#00d0e6"/><stop offset="0.111" stop-color="#01d0e9"/><stop offset="0.139" stop-color="#05d1ed"/><stop offset="0.167" stop-color="#0dd2f3"/><stop offset="0.194" stop-color="#17d5f8"/><stop offset="0.222" stop-color="#25d7fb"/><stop offset="0.25" stop-color="#3ddbfa"/><stop offset="0.278" stop-color="#6be1fb"/><stop offset="0.306" stop-color="#b8effe"/><stop offset="0.333" stop-color="#ffffff"/><stop offset="0.361" stop-color="#ffffff"/><stop offset="0.389" stop-color="#ffffff"/><stop offset="0.417" stop-color="#ffffff"/><stop offset="0.444" stop-color="#ffffff"/><stop offset="0.472" stop-color="#ffffff"/><stop offset="0.5" stop-color="#fee6e6"/><stop offset="0.528" stop-color="#fdbebc"/><stop offset="0.556" stop-color="#fba19e"/><stop offset="0.583" stop-color="#fa8984"/><stop offset="0.611" stop-color="#f9716b"/><stop offset="0.639" stop-color="#f75b54"/><stop offset="0.667" stop-color="#f6473f"/><stop offset="0.694" stop-color="#f5372d"/><stop offset="0.722" stop-color="#f4291f"/><stop offset="0.75" stop-color="#f31f14"/><stop offset="0.778" stop-color="#f3170c"/><stop offset="0.806" stop-color="#f21307"/><stop offset="0.833" stop-color="#ec0f03"/><stop offset="0.861" stop-color="#e00d01"/><stop offset="0.889" stop-color="#d10b00"/><stop offset="0.917" stop-color="#c20a00"/><stop offset="0.944" stop-color="#b80a00"/><stop offset="0.972" stop-color="#b50900"/><stop offset="1" stop-color="#b50900"/></linearGradient><linearGradient id="hr36" gradientUnits="userSpaceOnUse" x1="8.5" y1="0" x2="273.9" y2="0"><stop offset="0" stop-color="#00cfd5"/><stop offset="0.029" stop-color="#00cfd5"/><stop offset="0.057" stop-color="#00cfd5"/><stop offset="0.086" stop-color="#00cfd6"/><stop offset="0.114" stop-color="#01cfd8"/><stop offset="0.143" stop-color="#04d0de"/><stop offset="0.171" stop-color="#0bd2e6"/><stop offset="0.2" stop-color="#15d5ef"/><stop offset="0.229" stop-color="#22d7f3"/><stop offset="0.257" stop-color="#3bdbf1"/><stop offset="0.286" stop-color="#6be4f1"/><stop offset="0.314" stop-color="#bcf2f8"/><stop offset="0.343" stop-color="#ffffff"/><stop offset="0.371" stop-color="#ffffff"/><stop offset="0.4" stop-color="#ffffff"/><stop offset="0.429" stop-color="#ffffff"/><stop offset="0.457" stop-color="#ffffff"/><stop offset="0.486" stop-color="#ffffff"/><stop offset="0.514" stop-color="#fde8e7"/><stop offset="0.543" stop-color="#fbbdba"/><stop offset="0.571" stop-color="#f99e98"/><stop offset="0.6" stop-color="#f7827b"/><stop offset="0.629" stop-color="#f6685f"/><stop offset="0.657" stop-color="#f45147"/><stop offset="0.686" stop-color="#f33e32"/><stop offset="0.714" stop-color="#f22e22"/><stop offset="0.743" stop-color="#f22316"/><stop offset="0.771" stop-color="#f11b0d"/><stop offset="0.8" stop-color="#f11507"/><stop offset="0.829" stop-color="#ef1204"/><stop offset="0.857" stop-color="#e50f02"/><stop offset="0.886" stop-color="#d70d01"/><stop offset="0.914" stop-color="#c80c00"/><stop offset="0.943" stop-color="#bb0b00"/><stop offset="0.971" stop-color="#b40a00"/><stop offset="1" stop-color="#b40a00"/></linearGradient><linearGradient id="hr37" gradientUnits="userSpaceOnUse" x1="7.7" y1="0" x2="270.8" y2="0"><stop offset="0" stop-color="#00cec8"/><stop offset="0.029" stop-color="#00cec8"/><stop offset="0.057" stop-color="#00cec7"/><stop offset="0.086" stop-color="#00cec6"/><stop offset="0.114" stop-color="#01cfc7"/><stop offset="0.143" stop-color="#03cfcb"/><stop offset="0.171" stop-color="#08d1d3"/><stop offset="0.2" stop-color="#10d3de"/><stop offset="0.229" stop-color="#1cd5e3"/><stop offset="0.257" stop-color="#30d9df"/><stop offset="0.286" stop-color="#59e0db"/><stop offset="0.314" stop-color="#a0ede3"/><stop offset="0.343" stop-color="#ffffff"/><stop offset="0.371" stop-color="#ffffff"/><stop offset="0.4" stop-color="#ffffff"/><stop offset="0.429" stop-color="#ffffff"/><stop offset="0.457" stop-color="#ffffff"/><stop offset="0.486" stop-color="#ffffff"/><stop offset="0.514" stop-color="#ffffff"/><stop offset="0.543" stop-color="#fccfc9"/><stop offset="0.571" stop-color="#faaaa0"/><stop offset="0.6" stop-color="#f88b7f"/><stop offset="0.629" stop-color="#f77061"/><stop offset="0.657" stop-color="#f55747"/><stop offset="0.686" stop-color="#f44331"/><stop offset="0.714" stop-color="#f33321"/><stop offset="0.743" stop-color="#f22815"/><stop offset="0.771" stop-color="#f2200d"/><stop offset="0.8" stop-color="#f11b07"/><stop offset="0.829" stop-color="#f11704"/><stop offset="0.857" stop-color="#ea1402"/><stop offset="0.886" stop-color="#dd1201"/><stop offset="0.914" stop-color="#ce1000"/><stop offset="0.943" stop-color="#c00f00"/><stop offset="0.971" stop-color="#b60e00"/><stop offset="1" stop-color="#b40d00"/></linearGradient><linearGradient id="hr38" gradientUnits="userSpaceOnUse" x1="6.9" y1="0" x2="267.7" y2="0"><stop offset="0" stop-color="#00cebc"/><stop offset="0.029" stop-color="#00ceba"/><stop offset="0.057" stop-color="#00ceb9"/><stop offset="0.086" stop-color="#00ceb7"/><stop offset="0.114" stop-color="#00ceb6"/><stop offset="0.143" stop-color="#02cfb8"/><stop offset="0.171" stop-color="#06d0be"/><stop offset="0.2" stop-color="#0cd1c8"/><stop offset="0.229" stop-color="#16d3cd"/><stop offset="0.257" stop-color="#27d6c9"/><stop offset="0.286" stop-color="#48dcc1"/><stop offset="0.314" stop-color="#84e6c8"/><stop offset="0.343" stop-color="#dbf7ea"/><stop offset="0.371" stop-color="#ffffff"/><stop offset="0.4" stop-color="#ffffff"/><stop offset="0.429" stop-color="#ffffff"/><stop offset="0.457" stop-color="#ffffff"/><stop offset="0.486" stop-color="#ffffff"/><stop offset="0.514" stop-color="#ffffff"/><stop offset="0.543" stop-color="#fee1d9"/><stop offset="0.571" stop-color="#fcb8a8"/><stop offset="0.6" stop-color="#fb9783"/><stop offset="0.629" stop-color="#f97a62"/><stop offset="0.657" stop-color="#f86046"/><stop offset="0.686" stop-color="#f64b30"/><stop offset="0.714" stop-color="#f53b1f"/><stop offset="0.743" stop-color="#f42f13"/><stop offset="0.771" stop-color="#f4270b"/><stop offset="0.8" stop-color="#f32206"/><stop offset="0.829" stop-color="#f31e03"/><stop offset="0.857" stop-color="#ef1b01"/><stop offset="0.886" stop-color="#e41900"/><stop offset="0.914" stop-color="#d51600"/><stop offset="0.943" stop-color="#c61400"/><stop offset="0.971" stop-color="#ba1200"/><stop offset="1" stop-color="#b51100"/></linearGradient><linearGradient id="hr39" gradientUnits="userSpaceOnUse" x1="6.2" y1="0" x2="264.5" y2="0"><stop offset="0" stop-color="#00ceb0"/><stop offset="0.029" stop-color="#00cead"/><stop offset="0.059" stop-color="#00ceab"/><stop offset="0.088" stop-color="#00cda8"/><stop offset="0.118" stop-color="#00cda5"/><stop offset="0.147" stop-color="#01cea5"/><stop offset="0.176" stop-color="#04cfa9"/><stop offset="0.206" stop-color="#0ad0af"/><stop offset="0.235" stop-color="#13d2b3"/><stop offset="0.265" stop-color="#23d4ae"/><stop offset="0.294" stop-color="#44d9a7"/><stop offset="0.324" stop-color="#7ee4b1"/><stop offset="0.353" stop-color="#d2f5dd"/><stop offset="0.382" stop-color="#ffffff"/><stop offset="0.412" stop-color="#ffffff"/><stop offset="0.441" stop-color="#ffffff"/><stop offset="0.471" stop-color="#ffffff"/><stop offset="0.5" stop-color="#ffffff"/><stop offset="0.529" stop-color="#ffffff"/><stop offset="0.559" stop-color="#fed9ca"/><stop offset="0.588" stop-color="#feb197"/><stop offset="0.618" stop-color="#fc9071"/><stop offset="0.647" stop-color="#fb7350"/><stop offset="0.676" stop-color="#f95a36"/><stop offset="0.706" stop-color="#f84722"/><stop offset="0.735" stop-color="#f73a15"/><stop offset="0.765" stop-color="#f6300c"/><stop offset="0.794" stop-color="#f62a06"/><stop offset="0.824" stop-color="#f52603"/><stop offset="0.853" stop-color="#f42301"/><stop offset="0.882" stop-color="#ec2000"/><stop offset="0.912" stop-color="#de1c00"/><stop offset="0.941" stop-color="#ce1900"/><stop offset="0.971" stop-color="#c01700"/><stop offset="1" stop-color="#b71500"/></linearGradient><linearGradient id="hr40" gradientUnits="userSpaceOnUse" x1="5.6" y1="0" x2="261.4" y2="0"><stop offset="0" stop-color="#00cda4"/><stop offset="0.029" stop-color="#00cda1"/><stop offset="0.059" stop-color="#00cd9d"/><stop offset="0.088" stop-color="#00cd99"/><stop offset="0.118" stop-color="#00cd94"/><stop offset="0.147" stop-color="#01cd91"/><stop offset="0.176" stop-color="#03cd93"/><stop offset="0.206" stop-color="#07ce98"/><stop offset="0.235" stop-color="#0dcf9a"/><stop offset="0.265" stop-color="#1ad194"/><stop offset="0.294" stop-color="#33d58c"/><stop offset="0.324" stop-color="#62dd92"/><stop offset="0.353" stop-color="#a7edb7"/><stop offset="0.382" stop-color="#fcfefd"/><stop offset="0.412" stop-color="#ffffff"/><stop offset="0.441" stop-color="#ffffff"/><stop offset="0.471" stop-color="#ffffff"/><stop offset="0.5" stop-color="#ffffff"/><stop offset="0.529" stop-color="#ffffff"/><stop offset="0.559" stop-color="#fee9db"/><stop offset="0.588" stop-color="#febfa0"/><stop offset="0.618" stop-color="#fe9c74"/><stop offset="0.647" stop-color="#fe7e52"/><stop offset="0.676" stop-color="#fc6537"/><stop offset="0.706" stop-color="#fb5122"/><stop offset="0.735" stop-color="#fa4314"/><stop offset="0.765" stop-color="#f9390b"/><stop offset="0.794" stop-color="#f83206"/><stop offset="0.824" stop-color="#f72d03"/><stop offset="0.853" stop-color="#f72a01"/><stop offset="0.882" stop-color="#f12700"/><stop offset="0.912" stop-color="#e52300"/><stop offset="0.941" stop-color="#d52000"/><stop offset="0.971" stop-color="#c61c00"/><stop offset="1" stop-color="#bb1a00"/></linearGradient><linearGradient id="hr41" gradientUnits="userSpaceOnUse" x1="4.9" y1="0" x2="258.3" y2="0"><stop offset="0" stop-color="#00cd98"/><stop offset="0.029" stop-color="#00cd94"/><stop offset="0.059" stop-color="#00cd90"/><stop offset="0.088" stop-color="#00cc8b"/><stop offset="0.118" stop-color="#00cc87"/><stop offset="0.147" stop-color="#00cc84"/><stop offset="0.176" stop-color="#02cc82"/><stop offset="0.206" stop-color="#04cc83"/><stop offset="0.235" stop-color="#09cd82"/><stop offset="0.265" stop-color="#12ce7b"/><stop offset="0.294" stop-color="#25d170"/><stop offset="0.324" stop-color="#49d976"/><stop offset="0.353" stop-color="#7fe690"/><stop offset="0.382" stop-color="#c7f6cb"/><stop offset="0.412" stop-color="#ffffff"/><stop offset="0.441" stop-color="#ffffff"/><stop offset="0.471" stop-color="#ffffff"/><stop offset="0.5" stop-color="#ffffff"/><stop offset="0.529" stop-color="#ffffff"/><stop offset="0.559" stop-color="#fef8f2"/><stop offset="0.588" stop-color="#fecfac"/><stop offset="0.618" stop-color="#feaa7a"/><stop offset="0.647" stop-color="#fe8c55"/><stop offset="0.676" stop-color="#fe7239"/><stop offset="0.706" stop-color="#fe5d23"/><stop offset="0.735" stop-color="#fd4d14"/><stop offset="0.765" stop-color="#fb420a"/><stop offset="0.794" stop-color="#fa3b05"/><stop offset="0.824" stop-color="#fa3602"/><stop offset="0.853" stop-color="#f93201"/><stop offset="0.882" stop-color="#f62f00"/><stop offset="0.912" stop-color="#eb2b00"/><stop offset="0.941" stop-color="#dc2600"/><stop offset="0.971" stop-color="#cc2200"/><stop offset="1" stop-color="#bf1f00"/></linearGradient><linearGradient id="hr42" gradientUnits="userSpaceOnUse" x1="4.3" y1="0" x2="255.3" y2="0"><stop offset="0" stop-color="#00cd8d"/><stop offset="0.03" stop-color="#00cc89"/><stop offset="0.061" stop-color="#00cc85"/><stop offset="0.091" stop-color="#00cc81"/><stop offset="0.121" stop-color="#00cb7b"/><stop offset="0.152" stop-color="#00cb76"/><stop offset="0.182" stop-color="#01cb72"/><stop offset="0.212" stop-color="#03cb6f"/><stop offset="0.242" stop-color="#07cb69"/><stop offset="0.273" stop-color="#0fcc5f"/><stop offset="0.303" stop-color="#21d15b"/><stop offset="0.333" stop-color="#41d960"/><stop offset="0.364" stop-color="#71e67f"/><stop offset="0.394" stop-color="#b0f4b3"/><stop offset="0.424" stop-color="#fafef9"/><stop offset="0.455" stop-color="#ffffff"/><stop offset="0.485" stop-color="#ffffff"/><stop offset="0.515" stop-color="#ffffff"/><stop offset="0.545" stop-color="#ffffff"/><stop offset="0.576" stop-color="#feefdd"/><stop offset="0.606" stop-color="#fec898"/><stop offset="0.636" stop-color="#fea568"/><stop offset="0.667" stop-color="#fe8845"/><stop offset="0.697" stop-color="#ff702b"/><stop offset="0.727" stop-color="#ff5d19"/><stop offset="0.758" stop-color="#fe4f0d"/><stop offset="0.788" stop-color="#fd4606"/><stop offset="0.818" stop-color="#fc3f03"/><stop offset="0.848" stop-color="#fb3b01"/><stop offset="0.879" stop-color="#fa3700"/><stop offset="0.909" stop-color="#f23300"/><stop offset="0.939" stop-color="#e42e00"/><stop offset="0.97" stop-color="#d42900"/><stop offset="1" stop-color="#c52400"/></linearGradient><linearGradient id="hr43" gradientUnits="userSpaceOnUse" x1="3.7" y1="0" x2="252.2" y2="0"><stop offset="0" stop-color="#00cc85"/><stop offset="0.03" stop-color="#00cc81"/><stop offset="0.061" stop-color="#00cb7c"/><stop offset="0.091" stop-color="#00cb77"/><stop offset="0.121" stop-color="#00cb71"/><stop offset="0.152" stop-color="#00ca6a"/><stop offset="0.182" stop-color="#00ca64"/><stop offset="0.212" stop-color="#02c95d"/><stop offset="0.242" stop-color="#04c954"/><stop offset="0.273" stop-color="#0acc4e"/><stop offset="0.303" stop-color="#16d048"/><stop offset="0.333" stop-color="#2dd749"/><stop offset="0.364" stop-color="#51e260"/><stop offset="0.394" stop-color="#83ef86"/><stop offset="0.424" stop-color="#cbfbbc"/><stop offset="0.455" stop-color="#ffffff"/><stop offset="0.485" stop-color="#ffffff"/><stop offset="0.515" stop-color="#ffffff"/><stop offset="0.545" stop-color="#ffffff"/><stop offset="0.576" stop-color="#fefbf4"/><stop offset="0.606" stop-color="#fed9a9"/><stop offset="0.636" stop-color="#feb670"/><stop offset="0.667" stop-color="#fe984a"/><stop offset="0.697" stop-color="#ff7f2f"/><stop offset="0.727" stop-color="#ff6b1b"/><stop offset="0.758" stop-color="#ff5c0e"/><stop offset="0.788" stop-color="#ff5107"/><stop offset="0.818" stop-color="#ff4903"/><stop offset="0.848" stop-color="#fe4301"/><stop offset="0.879" stop-color="#fd3f00"/><stop offset="0.909" stop-color="#f73b00"/><stop offset="0.939" stop-color="#eb3500"/><stop offset="0.97" stop-color="#db3000"/><stop offset="1" stop-color="#cb2a00"/></linearGradient><linearGradient id="hr44" gradientUnits="userSpaceOnUse" x1="3.1" y1="0" x2="249" y2="0"><stop offset="0" stop-color="#00cb7d"/><stop offset="0.03" stop-color="#00cb79"/><stop offset="0.061" stop-color="#00cb73"/><stop offset="0.091" stop-color="#00ca6e"/><stop offset="0.121" stop-color="#00ca67"/><stop offset="0.152" stop-color="#00c95f"/><stop offset="0.182" stop-color="#00c957"/><stop offset="0.212" stop-color="#01c84e"/><stop offset="0.242" stop-color="#02c947"/><stop offset="0.273" stop-color="#06cc40"/><stop offset="0.303" stop-color="#0fcf38"/><stop offset="0.333" stop-color="#1fd539"/><stop offset="0.364" stop-color="#38df48"/><stop offset="0.394" stop-color="#5fea61"/><stop offset="0.424" stop-color="#a0f888"/><stop offset="0.455" stop-color="#dffdc0"/><stop offset="0.485" stop-color="#ffffff"/><stop offset="0.515" stop-color="#ffffff"/><stop offset="0.545" stop-color="#ffffff"/><stop offset="0.576" stop-color="#ffffff"/><stop offset="0.606" stop-color="#fee8bd"/><stop offset="0.636" stop-color="#fec67d"/><stop offset="0.667" stop-color="#fea850"/><stop offset="0.697" stop-color="#ff8e33"/><stop offset="0.727" stop-color="#ff791e"/><stop offset="0.758" stop-color="#ff6910"/><stop offset="0.788" stop-color="#ff5d08"/><stop offset="0.818" stop-color="#ff5403"/><stop offset="0.848" stop-color="#ff4d01"/><stop offset="0.879" stop-color="#ff4800"/><stop offset="0.909" stop-color="#fc4300"/><stop offset="0.939" stop-color="#f13d00"/><stop offset="0.97" stop-color="#e23700"/><stop offset="1" stop-color="#d13100"/></linearGradient><linearGradient id="hr45" gradientUnits="userSpaceOnUse" x1="2.5" y1="0" x2="245.9" y2="0"><stop offset="0" stop-color="#00cb75"/><stop offset="0.031" stop-color="#00cb70"/><stop offset="0.062" stop-color="#00ca6b"/><stop offset="0.094" stop-color="#00ca64"/><stop offset="0.125" stop-color="#00c95c"/><stop offset="0.156" stop-color="#00c954"/><stop offset="0.188" stop-color="#00c849"/><stop offset="0.219" stop-color="#00c942"/><stop offset="0.25" stop-color="#02ca3b"/><stop offset="0.281" stop-color="#05cd32"/><stop offset="0.312" stop-color="#0cd12a"/><stop offset="0.344" stop-color="#19d72f"/><stop offset="0.375" stop-color="#2ee03a"/><stop offset="0.406" stop-color="#59ee4e"/><stop offset="0.438" stop-color="#96f770"/><stop offset="0.469" stop-color="#d6fda0"/><stop offset="0.5" stop-color="#f8fedd"/><stop offset="0.531" stop-color="#ffffff"/><stop offset="0.562" stop-color="#ffffff"/><stop offset="0.594" stop-color="#fefaea"/><stop offset="0.625" stop-color="#fee2a5"/><stop offset="0.656" stop-color="#fec269"/><stop offset="0.688" stop-color="#fea540"/><stop offset="0.719" stop-color="#ff8e27"/><stop offset="0.75" stop-color="#ff7b16"/><stop offset="0.781" stop-color="#ff6c0b"/><stop offset="0.812" stop-color="#ff6105"/><stop offset="0.844" stop-color="#ff5802"/><stop offset="0.875" stop-color="#ff5200"/><stop offset="0.906" stop-color="#fe4d00"/><stop offset="0.938" stop-color="#f74600"/><stop offset="0.969" stop-color="#e93f00"/><stop offset="1" stop-color="#d83800"/></linearGradient><linearGradient id="hr46" gradientUnits="userSpaceOnUse" x1="2" y1="0" x2="242.8" y2="0"><stop offset="0" stop-color="#00ca6e"/><stop offset="0.031" stop-color="#00ca69"/><stop offset="0.062" stop-color="#00ca62"/><stop offset="0.094" stop-color="#00c95b"/><stop offset="0.125" stop-color="#00c853"/><stop offset="0.156" stop-color="#00c84a"/><stop offset="0.188" stop-color="#00c842"/><stop offset="0.219" stop-color="#00c93b"/><stop offset="0.25" stop-color="#01cb32"/><stop offset="0.281" stop-color="#03cd28"/><stop offset="0.312" stop-color="#07d123"/><stop offset="0.344" stop-color="#10d724"/><stop offset="0.375" stop-color="#1ede2a"/><stop offset="0.406" stop-color="#42ec35"/><stop offset="0.438" stop-color="#77f54c"/><stop offset="0.469" stop-color="#b4fb6f"/><stop offset="0.5" stop-color="#e8fea0"/><stop offset="0.531" stop-color="#fafed9"/><stop offset="0.562" stop-color="#fefefb"/><stop offset="0.594" stop-color="#fefcec"/><stop offset="0.625" stop-color="#feedb5"/><stop offset="0.656" stop-color="#fed276"/><stop offset="0.688" stop-color="#feb547"/><stop offset="0.719" stop-color="#ff9d2a"/><stop offset="0.75" stop-color="#ff8918"/><stop offset="0.781" stop-color="#ff790d"/><stop offset="0.812" stop-color="#ff6d06"/><stop offset="0.844" stop-color="#ff6402"/><stop offset="0.875" stop-color="#ff5c00"/><stop offset="0.906" stop-color="#fe5600"/><stop offset="0.938" stop-color="#fa5000"/><stop offset="0.969" stop-color="#ee4800"/><stop offset="1" stop-color="#de4000"/></linearGradient><linearGradient id="hr47" gradientUnits="userSpaceOnUse" x1="1.5" y1="0" x2="239.7" y2="0"><stop offset="0" stop-color="#00ca67"/><stop offset="0.031" stop-color="#00c961"/><stop offset="0.062" stop-color="#00c95a"/><stop offset="0.094" stop-color="#00c853"/><stop offset="0.125" stop-color="#00c84a"/><stop offset="0.156" stop-color="#00c843"/><stop offset="0.188" stop-color="#00c93c"/><stop offset="0.219" stop-color="#00ca34"/><stop offset="0.25" stop-color="#00cc2b"/><stop offset="0.281" stop-color="#01ce20"/><stop offset="0.312" stop-color="#04d21e"/><stop offset="0.344" stop-color="#0ad71d"/><stop offset="0.375" stop-color="#13dd1e"/><stop offset="0.406" stop-color="#31ea24"/><stop offset="0.438" stop-color="#5ef332"/><stop offset="0.469" stop-color="#94f849"/><stop offset="0.5" stop-color="#d1fe6d"/><stop offset="0.531" stop-color="#effe9f"/><stop offset="0.562" stop-color="#fbfece"/><stop offset="0.594" stop-color="#fefddc"/><stop offset="0.625" stop-color="#fef4bc"/><stop offset="0.656" stop-color="#fedf84"/><stop offset="0.688" stop-color="#fec551"/><stop offset="0.719" stop-color="#ffac2f"/><stop offset="0.75" stop-color="#ff971a"/><stop offset="0.781" stop-color="#ff870e"/><stop offset="0.812" stop-color="#ff7a07"/><stop offset="0.844" stop-color="#ff6f03"/><stop offset="0.875" stop-color="#ff6701"/><stop offset="0.906" stop-color="#ff6000"/><stop offset="0.938" stop-color="#fc5900"/><stop offset="0.969" stop-color="#f25100"/><stop offset="1" stop-color="#e34800"/></linearGradient><linearGradient id="hr48" gradientUnits="userSpaceOnUse" x1="0.9" y1="0" x2="236.6" y2="0"><stop offset="0" stop-color="#00c95f"/><stop offset="0.032" stop-color="#00c959"/><stop offset="0.065" stop-color="#00c852"/><stop offset="0.097" stop-color="#00c84a"/><stop offset="0.129" stop-color="#00c843"/><stop offset="0.161" stop-color="#00c93c"/><stop offset="0.194" stop-color="#00ca35"/><stop offset="0.226" stop-color="#00cb2c"/><stop offset="0.258" stop-color="#00cd22"/><stop offset="0.29" stop-color="#01d01c"/><stop offset="0.323" stop-color="#03d419"/><stop offset="0.355" stop-color="#07d917"/><stop offset="0.387" stop-color="#13e017"/><stop offset="0.419" stop-color="#33ef19"/><stop offset="0.452" stop-color="#61f425"/><stop offset="0.484" stop-color="#97f938"/><stop offset="0.516" stop-color="#d2fe57"/><stop offset="0.548" stop-color="#ecfe85"/><stop offset="0.581" stop-color="#fafeb1"/><stop offset="0.613" stop-color="#fefbbd"/><stop offset="0.645" stop-color="#fef09e"/><stop offset="0.677" stop-color="#fedb6b"/><stop offset="0.71" stop-color="#fec23e"/><stop offset="0.742" stop-color="#ffab22"/><stop offset="0.774" stop-color="#ff9812"/><stop offset="0.806" stop-color="#ff8909"/><stop offset="0.839" stop-color="#ff7d04"/><stop offset="0.871" stop-color="#ff7301"/><stop offset="0.903" stop-color="#ff6b00"/><stop offset="0.935" stop-color="#fe6400"/><stop offset="0.968" stop-color="#f65b00"/><stop offset="1" stop-color="#e85200"/></linearGradient><linearGradient id="hr49" gradientUnits="userSpaceOnUse" x1="0.4" y1="0" x2="233.5" y2="0"><stop offset="0" stop-color="#00c958"/><stop offset="0.032" stop-color="#00c852"/><stop offset="0.065" stop-color="#00c84b"/><stop offset="0.097" stop-color="#00c844"/><stop offset="0.129" stop-color="#00c93e"/><stop offset="0.161" stop-color="#00ca38"/><stop offset="0.194" stop-color="#00cb30"/><stop offset="0.226" stop-color="#00cc27"/><stop offset="0.258" stop-color="#00ce1e"/><stop offset="0.29" stop-color="#00d11a"/><stop offset="0.323" stop-color="#01d416"/><stop offset="0.355" stop-color="#04d913"/><stop offset="0.387" stop-color="#0ee010"/><stop offset="0.419" stop-color="#29ed10"/><stop offset="0.452" stop-color="#51f217"/><stop offset="0.484" stop-color="#80f722"/><stop offset="0.516" stop-color="#b9fd36"/><stop offset="0.548" stop-color="#defe57"/><stop offset="0.581" stop-color="#f2fe82"/><stop offset="0.613" stop-color="#fcfe9e"/><stop offset="0.645" stop-color="#fef798"/><stop offset="0.677" stop-color="#fee672"/><stop offset="0.71" stop-color="#fed046"/><stop offset="0.742" stop-color="#ffb926"/><stop offset="0.774" stop-color="#ffa614"/><stop offset="0.806" stop-color="#ff960a"/><stop offset="0.839" stop-color="#ff8905"/><stop offset="0.871" stop-color="#ff7e02"/><stop offset="0.903" stop-color="#ff7500"/><stop offset="0.935" stop-color="#ff6e00"/><stop offset="0.968" stop-color="#f96500"/><stop offset="1" stop-color="#ed5b00"/></linearGradient><linearGradient id="hr50" gradientUnits="userSpaceOnUse" x1="-0" y1="0" x2="230.4" y2="0"><stop offset="0" stop-color="#00c852"/><stop offset="0.032" stop-color="#00c84b"/><stop offset="0.065" stop-color="#00c844"/><stop offset="0.097" stop-color="#00c83f"/><stop offset="0.129" stop-color="#00c93a"/><stop offset="0.161" stop-color="#00ca33"/><stop offset="0.194" stop-color="#00cb2b"/><stop offset="0.226" stop-color="#00cd22"/><stop offset="0.258" stop-color="#00cf1c"/><stop offset="0.29" stop-color="#00d218"/><stop offset="0.323" stop-color="#01d514"/><stop offset="0.355" stop-color="#02d910"/><stop offset="0.387" stop-color="#0be00c"/><stop offset="0.419" stop-color="#23ec0a"/><stop offset="0.452" stop-color="#46f10e"/><stop offset="0.484" stop-color="#6cf514"/><stop offset="0.516" stop-color="#a3fb1f"/><stop offset="0.548" stop-color="#d0fe35"/><stop offset="0.581" stop-color="#e7fe56"/><stop offset="0.613" stop-color="#f6fe78"/><stop offset="0.645" stop-color="#fdfb84"/><stop offset="0.677" stop-color="#feef71"/><stop offset="0.71" stop-color="#fedc4d"/><stop offset="0.742" stop-color="#ffc72c"/><stop offset="0.774" stop-color="#ffb416"/><stop offset="0.806" stop-color="#ffa30b"/><stop offset="0.839" stop-color="#ff9505"/><stop offset="0.871" stop-color="#ff8a02"/><stop offset="0.903" stop-color="#ff8001"/><stop offset="0.935" stop-color="#ff7800"/><stop offset="0.968" stop-color="#ff7100"/><stop offset="1" stop-color="#f06500"/></linearGradient><linearGradient id="hr51" gradientUnits="userSpaceOnUse" x1="-0.5" y1="0" x2="227.3" y2="0"><stop offset="0" stop-color="#00c84b"/><stop offset="0.033" stop-color="#00c844"/><stop offset="0.067" stop-color="#00c840"/><stop offset="0.1" stop-color="#00c93a"/><stop offset="0.133" stop-color="#00ca34"/><stop offset="0.167" stop-color="#00cb2d"/><stop offset="0.2" stop-color="#00cc25"/><stop offset="0.233" stop-color="#00ce1d"/><stop offset="0.267" stop-color="#00d01a"/><stop offset="0.3" stop-color="#00d316"/><stop offset="0.333" stop-color="#00d711"/><stop offset="0.367" stop-color="#01db0d"/><stop offset="0.4" stop-color="#12e508"/><stop offset="0.433" stop-color="#2aef06"/><stop offset="0.467" stop-color="#4df20a"/><stop offset="0.5" stop-color="#76f70e"/><stop offset="0.533" stop-color="#aafc17"/><stop offset="0.567" stop-color="#d1fe29"/><stop offset="0.6" stop-color="#e6fe46"/><stop offset="0.633" stop-color="#f5fe62"/><stop offset="0.667" stop-color="#fdfa6a"/><stop offset="0.7" stop-color="#feed58"/><stop offset="0.733" stop-color="#ffda38"/><stop offset="0.767" stop-color="#ffc51e"/><stop offset="0.8" stop-color="#ffb30e"/><stop offset="0.833" stop-color="#ffa407"/><stop offset="0.867" stop-color="#ff9703"/><stop offset="0.9" stop-color="#ff8c01"/><stop offset="0.933" stop-color="#ff8300"/><stop offset="0.967" stop-color="#ff7b00"/><stop offset="1" stop-color="#ff7400"/></linearGradient><linearGradient id="hr52" gradientUnits="userSpaceOnUse" x1="-1" y1="0" x2="224.3" y2="0"><stop offset="0" stop-color="#00c845"/><stop offset="0.033" stop-color="#00c841"/><stop offset="0.067" stop-color="#00c93c"/><stop offset="0.1" stop-color="#00ca36"/><stop offset="0.133" stop-color="#00cb30"/><stop offset="0.167" stop-color="#00cc29"/><stop offset="0.2" stop-color="#00cd21"/><stop offset="0.233" stop-color="#00cf1c"/><stop offset="0.267" stop-color="#00d118"/><stop offset="0.3" stop-color="#00d414"/><stop offset="0.333" stop-color="#00d710"/><stop offset="0.367" stop-color="#00db0b"/><stop offset="0.4" stop-color="#10e507"/><stop offset="0.433" stop-color="#26ee03"/><stop offset="0.467" stop-color="#46f205"/><stop offset="0.5" stop-color="#68f508"/><stop offset="0.533" stop-color="#99fa0c"/><stop offset="0.567" stop-color="#c5fe16"/><stop offset="0.6" stop-color="#dbfe29"/><stop offset="0.633" stop-color="#edfe42"/><stop offset="0.667" stop-color="#f9fe52"/><stop offset="0.7" stop-color="#fdf54f"/><stop offset="0.733" stop-color="#ffe53a"/><stop offset="0.767" stop-color="#ffd221"/><stop offset="0.8" stop-color="#ffc010"/><stop offset="0.833" stop-color="#ffb007"/><stop offset="0.867" stop-color="#ffa303"/><stop offset="0.9" stop-color="#ff9701"/><stop offset="0.933" stop-color="#ff8d00"/><stop offset="0.967" stop-color="#ff8500"/><stop offset="1" stop-color="#ff7d00"/></linearGradient><linearGradient id="hr53" gradientUnits="userSpaceOnUse" x1="-1.4" y1="0" x2="221.3" y2="0"><stop offset="0" stop-color="#00c841"/><stop offset="0.033" stop-color="#00c93d"/><stop offset="0.067" stop-color="#00ca38"/><stop offset="0.1" stop-color="#00ca32"/><stop offset="0.133" stop-color="#00cb2c"/><stop offset="0.167" stop-color="#00cc25"/><stop offset="0.2" stop-color="#00ce1d"/><stop offset="0.233" stop-color="#00d01a"/><stop offset="0.267" stop-color="#00d217"/><stop offset="0.3" stop-color="#00d513"/><stop offset="0.333" stop-color="#00d80f"/><stop offset="0.367" stop-color="#00db0a"/><stop offset="0.4" stop-color="#10e506"/><stop offset="0.433" stop-color="#23ee02"/><stop offset="0.467" stop-color="#40f103"/><stop offset="0.5" stop-color="#5ef404"/><stop offset="0.533" stop-color="#8af906"/><stop offset="0.567" stop-color="#b6fd0b"/><stop offset="0.6" stop-color="#d0fe16"/><stop offset="0.633" stop-color="#e3fe27"/><stop offset="0.667" stop-color="#f2fe39"/><stop offset="0.7" stop-color="#fbfc40"/><stop offset="0.733" stop-color="#fef036"/><stop offset="0.767" stop-color="#ffde24"/><stop offset="0.8" stop-color="#ffcc13"/><stop offset="0.833" stop-color="#ffbc08"/><stop offset="0.867" stop-color="#ffaf03"/><stop offset="0.9" stop-color="#ffa301"/><stop offset="0.933" stop-color="#ff9800"/><stop offset="0.967" stop-color="#ff8f00"/><stop offset="1" stop-color="#ff8700"/></linearGradient><linearGradient id="hr54" gradientUnits="userSpaceOnUse" x1="-1.9" y1="0" x2="218.3" y2="0"><stop offset="0" stop-color="#00c93e"/><stop offset="0.034" stop-color="#00c939"/><stop offset="0.069" stop-color="#00ca34"/><stop offset="0.103" stop-color="#00cb2e"/><stop offset="0.138" stop-color="#00cc28"/><stop offset="0.172" stop-color="#00cd20"/><stop offset="0.207" stop-color="#00cf1c"/><stop offset="0.241" stop-color="#00d119"/><stop offset="0.276" stop-color="#00d315"/><stop offset="0.31" stop-color="#00d611"/><stop offset="0.345" stop-color="#00d90d"/><stop offset="0.379" stop-color="#06df08"/><stop offset="0.414" stop-color="#16e903"/><stop offset="0.448" stop-color="#2def01"/><stop offset="0.483" stop-color="#49f202"/><stop offset="0.517" stop-color="#69f603"/><stop offset="0.552" stop-color="#94fa04"/><stop offset="0.586" stop-color="#befe08"/><stop offset="0.621" stop-color="#d3fe11"/><stop offset="0.655" stop-color="#e4fe1f"/><stop offset="0.69" stop-color="#f2fe2c"/><stop offset="0.724" stop-color="#fbfb2f"/><stop offset="0.759" stop-color="#feee26"/><stop offset="0.793" stop-color="#ffdc17"/><stop offset="0.828" stop-color="#ffcb0b"/><stop offset="0.862" stop-color="#ffbc04"/><stop offset="0.897" stop-color="#ffaf02"/><stop offset="0.931" stop-color="#ffa400"/><stop offset="0.966" stop-color="#ff9a00"/><stop offset="1" stop-color="#ff9100"/></linearGradient><linearGradient id="hr55" gradientUnits="userSpaceOnUse" x1="-2.3" y1="0" x2="215.3" y2="0"><stop offset="0" stop-color="#00c93a"/><stop offset="0.034" stop-color="#00ca35"/><stop offset="0.069" stop-color="#00cb30"/><stop offset="0.103" stop-color="#00cc2a"/><stop offset="0.138" stop-color="#00cd24"/><stop offset="0.172" stop-color="#00ce1d"/><stop offset="0.207" stop-color="#00d01b"/><stop offset="0.241" stop-color="#00d218"/><stop offset="0.276" stop-color="#00d414"/><stop offset="0.31" stop-color="#00d710"/><stop offset="0.345" stop-color="#00da0c"/><stop offset="0.379" stop-color="#07e007"/><stop offset="0.414" stop-color="#16e903"/><stop offset="0.448" stop-color="#2aef00"/><stop offset="0.483" stop-color="#44f201"/><stop offset="0.517" stop-color="#5ff501"/><stop offset="0.552" stop-color="#88f902"/><stop offset="0.586" stop-color="#b0fd03"/><stop offset="0.621" stop-color="#cafe08"/><stop offset="0.655" stop-color="#dbfe10"/><stop offset="0.69" stop-color="#eafe1b"/><stop offset="0.724" stop-color="#f6ff22"/><stop offset="0.759" stop-color="#fcf620"/><stop offset="0.793" stop-color="#ffe817"/><stop offset="0.828" stop-color="#ffd70c"/><stop offset="0.862" stop-color="#ffc805"/><stop offset="0.897" stop-color="#ffba02"/><stop offset="0.931" stop-color="#ffaf00"/><stop offset="0.966" stop-color="#ffa400"/><stop offset="1" stop-color="#ff9b00"/></linearGradient><linearGradient id="hr56" gradientUnits="userSpaceOnUse" x1="-2.7" y1="0" x2="212.2" y2="0"><stop offset="0" stop-color="#00ca37"/><stop offset="0.034" stop-color="#00ca32"/><stop offset="0.069" stop-color="#00cb2d"/><stop offset="0.103" stop-color="#00cc27"/><stop offset="0.138" stop-color="#00cd20"/><stop offset="0.172" stop-color="#00ce1c"/><stop offset="0.207" stop-color="#00d01a"/><stop offset="0.241" stop-color="#00d217"/><stop offset="0.276" stop-color="#00d513"/><stop offset="0.31" stop-color="#00d710"/><stop offset="0.345" stop-color="#00da0b"/><stop offset="0.379" stop-color="#07e007"/><stop offset="0.414" stop-color="#15e802"/><stop offset="0.448" stop-color="#28ef00"/><stop offset="0.483" stop-color="#40f100"/><stop offset="0.517" stop-color="#5af400"/><stop offset="0.552" stop-color="#7df801"/><stop offset="0.586" stop-color="#a3fc01"/><stop offset="0.621" stop-color="#c2fe03"/><stop offset="0.655" stop-color="#d3fe07"/><stop offset="0.69" stop-color="#e2fe0f"/><stop offset="0.724" stop-color="#efff16"/><stop offset="0.759" stop-color="#fafe18"/><stop offset="0.793" stop-color="#fdf214"/><stop offset="0.828" stop-color="#ffe30d"/><stop offset="0.862" stop-color="#ffd306"/><stop offset="0.897" stop-color="#ffc602"/><stop offset="0.931" stop-color="#ffb901"/><stop offset="0.966" stop-color="#ffaf00"/><stop offset="1" stop-color="#ffa500"/></linearGradient><linearGradient id="hr57" gradientUnits="userSpaceOnUse" x1="-3.1" y1="0" x2="209.2" y2="0"><stop offset="0" stop-color="#00ca33"/><stop offset="0.036" stop-color="#00cb2e"/><stop offset="0.071" stop-color="#00cc29"/><stop offset="0.107" stop-color="#00cd23"/><stop offset="0.143" stop-color="#00ce1d"/><stop offset="0.179" stop-color="#00cf1b"/><stop offset="0.214" stop-color="#00d118"/><stop offset="0.25" stop-color="#00d415"/><stop offset="0.286" stop-color="#00d612"/><stop offset="0.321" stop-color="#00d90e"/><stop offset="0.357" stop-color="#00dc09"/><stop offset="0.393" stop-color="#0de405"/><stop offset="0.429" stop-color="#1bec00"/><stop offset="0.464" stop-color="#30f000"/><stop offset="0.5" stop-color="#48f200"/><stop offset="0.536" stop-color="#63f500"/><stop offset="0.571" stop-color="#88f900"/><stop offset="0.607" stop-color="#acfd01"/><stop offset="0.643" stop-color="#c6fe02"/><stop offset="0.679" stop-color="#d6fe05"/><stop offset="0.714" stop-color="#e4fe0b"/><stop offset="0.75" stop-color="#f1ff0f"/><stop offset="0.786" stop-color="#fafd11"/><stop offset="0.821" stop-color="#fdf00d"/><stop offset="0.857" stop-color="#ffe107"/><stop offset="0.893" stop-color="#ffd203"/><stop offset="0.929" stop-color="#ffc501"/><stop offset="0.964" stop-color="#ffb900"/><stop offset="1" stop-color="#ffaf00"/></linearGradient><linearGradient id="hr58" gradientUnits="userSpaceOnUse" x1="-3.5" y1="0" x2="206.2" y2="0"><stop offset="0" stop-color="#00cb30"/><stop offset="0.036" stop-color="#00cb2b"/><stop offset="0.071" stop-color="#00cc26"/><stop offset="0.107" stop-color="#00cd20"/><stop offset="0.143" stop-color="#00cf1c"/><stop offset="0.179" stop-color="#00d01a"/><stop offset="0.214" stop-color="#00d217"/><stop offset="0.25" stop-color="#00d414"/><stop offset="0.286" stop-color="#00d611"/><stop offset="0.321" stop-color="#00d90d"/><stop offset="0.357" stop-color="#01dc09"/><stop offset="0.393" stop-color="#0de405"/><stop offset="0.429" stop-color="#1bec01"/><stop offset="0.464" stop-color="#2eef00"/><stop offset="0.5" stop-color="#45f200"/><stop offset="0.536" stop-color="#5cf400"/><stop offset="0.571" stop-color="#7ef800"/><stop offset="0.607" stop-color="#a0fb00"/><stop offset="0.643" stop-color="#c0fe01"/><stop offset="0.679" stop-color="#cffe02"/><stop offset="0.714" stop-color="#ddfe05"/><stop offset="0.75" stop-color="#eaff08"/><stop offset="0.786" stop-color="#f5ff0b"/><stop offset="0.821" stop-color="#fbf80a"/><stop offset="0.857" stop-color="#feec07"/><stop offset="0.893" stop-color="#ffdd04"/><stop offset="0.929" stop-color="#ffd001"/><stop offset="0.964" stop-color="#ffc400"/><stop offset="1" stop-color="#ffb900"/></linearGradient><linearGradient id="hr59" gradientUnits="userSpaceOnUse" x1="-3.9" y1="0" x2="203.2" y2="0"><stop offset="0" stop-color="#00cb2d"/><stop offset="0.036" stop-color="#00cc28"/><stop offset="0.071" stop-color="#00cd23"/><stop offset="0.107" stop-color="#00ce1d"/><stop offset="0.143" stop-color="#00cf1b"/><stop offset="0.179" stop-color="#00d119"/><stop offset="0.214" stop-color="#00d316"/><stop offset="0.25" stop-color="#00d513"/><stop offset="0.286" stop-color="#00d710"/><stop offset="0.321" stop-color="#00d90c"/><stop offset="0.357" stop-color="#02dd09"/><stop offset="0.393" stop-color="#0ee405"/><stop offset="0.429" stop-color="#1aec01"/><stop offset="0.464" stop-color="#2cef00"/><stop offset="0.5" stop-color="#41f100"/><stop offset="0.536" stop-color="#57f400"/><stop offset="0.571" stop-color="#75f700"/><stop offset="0.607" stop-color="#96fa00"/><stop offset="0.643" stop-color="#b6fe00"/><stop offset="0.679" stop-color="#c8fe00"/><stop offset="0.714" stop-color="#d6fe02"/><stop offset="0.75" stop-color="#e3ff04"/><stop offset="0.786" stop-color="#eeff06"/><stop offset="0.821" stop-color="#f8ff07"/><stop offset="0.857" stop-color="#fcf406"/><stop offset="0.893" stop-color="#ffe904"/><stop offset="0.929" stop-color="#ffdb01"/><stop offset="0.964" stop-color="#ffce00"/><stop offset="1" stop-color="#ffc300"/></linearGradient><linearGradient id="hr60" gradientUnits="userSpaceOnUse" x1="-4.2" y1="0" x2="200.2" y2="0"><stop offset="0" stop-color="#00cc2a"/><stop offset="0.037" stop-color="#00cc25"/><stop offset="0.074" stop-color="#00cd1f"/><stop offset="0.111" stop-color="#00cf1c"/><stop offset="0.148" stop-color="#00d01a"/><stop offset="0.185" stop-color="#00d217"/><stop offset="0.222" stop-color="#00d415"/><stop offset="0.259" stop-color="#00d612"/><stop offset="0.296" stop-color="#00d80e"/><stop offset="0.333" stop-color="#00db0b"/><stop offset="0.37" stop-color="#07e007"/><stop offset="0.407" stop-color="#13e703"/><stop offset="0.444" stop-color="#20ee00"/><stop offset="0.481" stop-color="#34f000"/><stop offset="0.519" stop-color="#49f200"/><stop offset="0.556" stop-color="#5ff500"/><stop offset="0.593" stop-color="#7ff800"/><stop offset="0.63" stop-color="#9ffb00"/><stop offset="0.667" stop-color="#befe00"/><stop offset="0.704" stop-color="#ccfe00"/><stop offset="0.741" stop-color="#d9ff01"/><stop offset="0.778" stop-color="#e5ff03"/><stop offset="0.815" stop-color="#f0ff04"/><stop offset="0.852" stop-color="#fafe04"/><stop offset="0.889" stop-color="#fdf203"/><stop offset="0.926" stop-color="#ffe602"/><stop offset="0.963" stop-color="#ffd900"/><stop offset="1" stop-color="#ffcd00"/></linearGradient><linearGradient id="hr61" gradientUnits="userSpaceOnUse" x1="-4.6" y1="0" x2="197.2" y2="0"><stop offset="0" stop-color="#00cc27"/><stop offset="0.037" stop-color="#00cd22"/><stop offset="0.074" stop-color="#00ce1d"/><stop offset="0.111" stop-color="#00cf1b"/><stop offset="0.148" stop-color="#00d119"/><stop offset="0.185" stop-color="#00d217"/><stop offset="0.222" stop-color="#00d414"/><stop offset="0.259" stop-color="#00d611"/><stop offset="0.296" stop-color="#00d80e"/><stop offset="0.333" stop-color="#00db0a"/><stop offset="0.37" stop-color="#08e007"/><stop offset="0.407" stop-color="#13e703"/><stop offset="0.444" stop-color="#1fee00"/><stop offset="0.481" stop-color="#32f000"/><stop offset="0.519" stop-color="#46f200"/><stop offset="0.556" stop-color="#5af400"/><stop offset="0.593" stop-color="#77f700"/><stop offset="0.63" stop-color="#95fa00"/><stop offset="0.667" stop-color="#b3fd00"/><stop offset="0.704" stop-color="#c6fe00"/><stop offset="0.741" stop-color="#d3ff00"/><stop offset="0.778" stop-color="#dfff01"/><stop offset="0.815" stop-color="#eaff02"/><stop offset="0.852" stop-color="#f4ff02"/><stop offset="0.889" stop-color="#fbfa02"/><stop offset="0.926" stop-color="#fdef01"/><stop offset="0.963" stop-color="#ffe301"/><stop offset="1" stop-color="#ffd700"/></linearGradient><linearGradient id="hr62" gradientUnits="userSpaceOnUse" x1="-4.9" y1="0" x2="194.2" y2="0"><stop offset="0" stop-color="#00cd24"/><stop offset="0.037" stop-color="#00cd1f"/><stop offset="0.074" stop-color="#00ce1c"/><stop offset="0.111" stop-color="#00d01a"/><stop offset="0.148" stop-color="#00d118"/><stop offset="0.185" stop-color="#00d316"/><stop offset="0.222" stop-color="#00d513"/><stop offset="0.259" stop-color="#00d710"/><stop offset="0.296" stop-color="#00d90d"/><stop offset="0.333" stop-color="#00db0a"/><stop offset="0.37" stop-color="#08e107"/><stop offset="0.407" stop-color="#13e703"/><stop offset="0.444" stop-color="#1fee00"/><stop offset="0.481" stop-color="#30f000"/><stop offset="0.519" stop-color="#43f200"/><stop offset="0.556" stop-color="#56f400"/><stop offset="0.593" stop-color="#6ff600"/><stop offset="0.63" stop-color="#8cf900"/><stop offset="0.667" stop-color="#a9fc00"/><stop offset="0.704" stop-color="#c1ff00"/><stop offset="0.741" stop-color="#cdff00"/><stop offset="0.778" stop-color="#d9ff00"/><stop offset="0.815" stop-color="#e4ff01"/><stop offset="0.852" stop-color="#eeff01"/><stop offset="0.889" stop-color="#f7ff01"/><stop offset="0.926" stop-color="#fbf701"/><stop offset="0.963" stop-color="#feed00"/><stop offset="1" stop-color="#ffe100"/></linearGradient><linearGradient id="hr63" gradientUnits="userSpaceOnUse" x1="-5.2" y1="0" x2="191.3" y2="0"><stop offset="0" stop-color="#00cd21"/><stop offset="0.038" stop-color="#00ce1d"/><stop offset="0.077" stop-color="#00cf1b"/><stop offset="0.115" stop-color="#00d119"/><stop offset="0.154" stop-color="#00d217"/><stop offset="0.192" stop-color="#00d415"/><stop offset="0.231" stop-color="#00d612"/><stop offset="0.269" stop-color="#00d80f"/><stop offset="0.308" stop-color="#00da0c"/><stop offset="0.346" stop-color="#03dd08"/><stop offset="0.385" stop-color="#0de305"/><stop offset="0.423" stop-color="#18ea01"/><stop offset="0.462" stop-color="#26ee00"/><stop offset="0.5" stop-color="#37f000"/><stop offset="0.538" stop-color="#4af200"/><stop offset="0.577" stop-color="#5df400"/><stop offset="0.615" stop-color="#79f700"/><stop offset="0.654" stop-color="#96fa00"/><stop offset="0.692" stop-color="#b2fd00"/><stop offset="0.731" stop-color="#c5ff00"/><stop offset="0.769" stop-color="#d1ff00"/><stop offset="0.808" stop-color="#dcff00"/><stop offset="0.846" stop-color="#e6ff00"/><stop offset="0.885" stop-color="#f0ff01"/><stop offset="0.923" stop-color="#f9ff01"/><stop offset="0.962" stop-color="#fcf500"/><stop offset="1" stop-color="#feeb00"/></linearGradient><linearGradient id="hr64" gradientUnits="userSpaceOnUse" x1="-5.5" y1="0" x2="188.4" y2="0"><stop offset="0" stop-color="#00cd1e"/><stop offset="0.038" stop-color="#00ce1c"/><stop offset="0.077" stop-color="#00d01a"/><stop offset="0.115" stop-color="#00d118"/><stop offset="0.154" stop-color="#00d316"/><stop offset="0.192" stop-color="#00d414"/><stop offset="0.231" stop-color="#00d611"/><stop offset="0.269" stop-color="#00d80e"/><stop offset="0.308" stop-color="#00da0b"/><stop offset="0.346" stop-color="#04de08"/><stop offset="0.385" stop-color="#0de405"/><stop offset="0.423" stop-color="#17ea02"/><stop offset="0.462" stop-color="#25ee00"/><stop offset="0.5" stop-color="#36f000"/><stop offset="0.538" stop-color="#47f200"/><stop offset="0.577" stop-color="#59f400"/><stop offset="0.615" stop-color="#72f700"/><stop offset="0.654" stop-color="#8df900"/><stop offset="0.692" stop-color="#a8fc00"/><stop offset="0.731" stop-color="#c0ff00"/><stop offset="0.769" stop-color="#cbff00"/><stop offset="0.808" stop-color="#d6ff00"/><stop offset="0.846" stop-color="#e1ff00"/><stop offset="0.885" stop-color="#eaff00"/><stop offset="0.923" stop-color="#f3ff00"/><stop offset="0.962" stop-color="#fafc00"/><stop offset="1" stop-color="#fdf200"/></linearGradient><linearGradient id="hr65" gradientUnits="userSpaceOnUse" x1="-5.8" y1="0" x2="185.5" y2="0"><stop offset="0" stop-color="#00ce1d"/><stop offset="0.038" stop-color="#00cf1b"/><stop offset="0.077" stop-color="#00d019"/><stop offset="0.115" stop-color="#00d218"/><stop offset="0.154" stop-color="#00d315"/><stop offset="0.192" stop-color="#00d513"/><stop offset="0.231" stop-color="#00d711"/><stop offset="0.269" stop-color="#00d80e"/><stop offset="0.308" stop-color="#00db0b"/><stop offset="0.346" stop-color="#04de08"/><stop offset="0.385" stop-color="#0ee405"/><stop offset="0.423" stop-color="#17ea02"/><stop offset="0.462" stop-color="#24ee00"/><stop offset="0.5" stop-color="#34f000"/><stop offset="0.538" stop-color="#45f200"/><stop offset="0.577" stop-color="#56f400"/><stop offset="0.615" stop-color="#6cf600"/><stop offset="0.654" stop-color="#85f900"/><stop offset="0.692" stop-color="#9ffb00"/><stop offset="0.731" stop-color="#b8fe00"/><stop offset="0.769" stop-color="#c6ff00"/><stop offset="0.808" stop-color="#d1ff00"/><stop offset="0.846" stop-color="#dbff00"/><stop offset="0.885" stop-color="#e5ff00"/><stop offset="0.923" stop-color="#eeff00"/><stop offset="0.962" stop-color="#f6ff00"/><stop offset="1" stop-color="#fbf900"/></linearGradient><linearGradient id="hr66" gradientUnits="userSpaceOnUse" x1="-6" y1="0" x2="182.6" y2="0"><stop offset="0" stop-color="#00cf1c"/><stop offset="0.04" stop-color="#00d01a"/><stop offset="0.08" stop-color="#00d118"/><stop offset="0.12" stop-color="#00d216"/><stop offset="0.16" stop-color="#00d414"/><stop offset="0.2" stop-color="#00d612"/><stop offset="0.24" stop-color="#00d70f"/><stop offset="0.28" stop-color="#00d90c"/><stop offset="0.32" stop-color="#00dc09"/><stop offset="0.36" stop-color="#08e107"/><stop offset="0.4" stop-color="#12e603"/><stop offset="0.44" stop-color="#1cec00"/><stop offset="0.48" stop-color="#2aef00"/><stop offset="0.52" stop-color="#3bf100"/><stop offset="0.56" stop-color="#4bf200"/><stop offset="0.6" stop-color="#5df400"/><stop offset="0.64" stop-color="#75f700"/><stop offset="0.68" stop-color="#8ffa00"/><stop offset="0.72" stop-color="#a8fc00"/><stop offset="0.76" stop-color="#bfff00"/><stop offset="0.8" stop-color="#caff00"/><stop offset="0.84" stop-color="#d5ff00"/><stop offset="0.88" stop-color="#dfff00"/><stop offset="0.92" stop-color="#e8ff00"/><stop offset="0.96" stop-color="#f0ff00"/><stop offset="1" stop-color="#f8ff00"/></linearGradient><linearGradient id="hr67" gradientUnits="userSpaceOnUse" x1="-6.3" y1="0" x2="179.7" y2="0"><stop offset="0" stop-color="#00cf1b"/><stop offset="0.04" stop-color="#00d01a"/><stop offset="0.08" stop-color="#00d218"/><stop offset="0.12" stop-color="#00d316"/><stop offset="0.16" stop-color="#00d414"/><stop offset="0.2" stop-color="#00d611"/><stop offset="0.24" stop-color="#00d80f"/><stop offset="0.28" stop-color="#00da0c"/><stop offset="0.32" stop-color="#01dc09"/><stop offset="0.36" stop-color="#09e106"/><stop offset="0.4" stop-color="#12e703"/><stop offset="0.44" stop-color="#1cec00"/><stop offset="0.48" stop-color="#29ef00"/><stop offset="0.52" stop-color="#39f000"/><stop offset="0.56" stop-color="#49f200"/><stop offset="0.6" stop-color="#59f400"/><stop offset="0.64" stop-color="#6ff600"/><stop offset="0.68" stop-color="#87f900"/><stop offset="0.72" stop-color="#a0fb00"/><stop offset="0.76" stop-color="#b7fe00"/><stop offset="0.8" stop-color="#c5ff00"/><stop offset="0.84" stop-color="#d0ff00"/><stop offset="0.88" stop-color="#d9ff00"/><stop offset="0.92" stop-color="#e3ff00"/><stop offset="0.96" stop-color="#ebff00"/><stop offset="1" stop-color="#f3ff00"/></linearGradient><linearGradient id="hr68" gradientUnits="userSpaceOnUse" x1="-6.5" y1="0" x2="176.9" y2="0"><stop offset="0" stop-color="#00d01a"/><stop offset="0.042" stop-color="#00d119"/><stop offset="0.083" stop-color="#00d217"/><stop offset="0.125" stop-color="#00d415"/><stop offset="0.167" stop-color="#00d513"/><stop offset="0.208" stop-color="#00d710"/><stop offset="0.25" stop-color="#00d90e"/><stop offset="0.292" stop-color="#00db0b"/><stop offset="0.333" stop-color="#04de08"/><stop offset="0.375" stop-color="#0de405"/><stop offset="0.417" stop-color="#16e902"/><stop offset="0.458" stop-color="#21ee00"/><stop offset="0.5" stop-color="#30ef00"/><stop offset="0.542" stop-color="#3ff100"/><stop offset="0.583" stop-color="#4ff300"/><stop offset="0.625" stop-color="#60f500"/><stop offset="0.667" stop-color="#79f700"/><stop offset="0.708" stop-color="#91fa00"/><stop offset="0.75" stop-color="#a9fc00"/><stop offset="0.792" stop-color="#bfff00"/><stop offset="0.833" stop-color="#c9ff00"/><stop offset="0.875" stop-color="#d3ff00"/><stop offset="0.917" stop-color="#ddff00"/><stop offset="0.958" stop-color="#e6ff00"/><stop offset="1" stop-color="#eeff00"/></linearGradient><linearGradient id="hr69" gradientUnits="userSpaceOnUse" x1="-6.7" y1="0" x2="174.1" y2="0"><stop offset="0" stop-color="#00d01a"/><stop offset="0.042" stop-color="#00d118"/><stop offset="0.083" stop-color="#00d316"/><stop offset="0.125" stop-color="#00d414"/><stop offset="0.167" stop-color="#00d612"/><stop offset="0.208" stop-color="#00d710"/><stop offset="0.25" stop-color="#00d90d"/><stop offset="0.292" stop-color="#00db0a"/><stop offset="0.333" stop-color="#05df08"/><stop offset="0.375" stop-color="#0de405"/><stop offset="0.417" stop-color="#16e902"/><stop offset="0.458" stop-color="#20ee00"/><stop offset="0.5" stop-color="#2fef00"/><stop offset="0.542" stop-color="#3df100"/><stop offset="0.583" stop-color="#4df300"/><stop offset="0.625" stop-color="#5cf400"/><stop offset="0.667" stop-color="#72f700"/><stop offset="0.708" stop-color="#8af900"/><stop offset="0.75" stop-color="#a1fb00"/><stop offset="0.792" stop-color="#b7fe00"/><stop offset="0.833" stop-color="#c5ff00"/><stop offset="0.875" stop-color="#cfff00"/><stop offset="0.917" stop-color="#d8ff00"/><stop offset="0.958" stop-color="#e1ff00"/><stop offset="1" stop-color="#e9ff00"/></linearGradient><linearGradient id="hr70" gradientUnits="userSpaceOnUse" x1="-6.8" y1="0" x2="171.2" y2="0"><stop offset="0" stop-color="#00d119"/><stop offset="0.042" stop-color="#00d217"/><stop offset="0.083" stop-color="#00d315"/><stop offset="0.125" stop-color="#00d513"/><stop offset="0.167" stop-color="#00d611"/><stop offset="0.208" stop-color="#00d80f"/><stop offset="0.25" stop-color="#00d90c"/><stop offset="0.292" stop-color="#00db0a"/><stop offset="0.333" stop-color="#06df07"/><stop offset="0.375" stop-color="#0ee405"/><stop offset="0.417" stop-color="#16e902"/><stop offset="0.458" stop-color="#20ee00"/><stop offset="0.5" stop-color="#2def00"/><stop offset="0.542" stop-color="#3cf100"/><stop offset="0.583" stop-color="#4af200"/><stop offset="0.625" stop-color="#59f400"/><stop offset="0.667" stop-color="#6df600"/><stop offset="0.708" stop-color="#83f800"/><stop offset="0.75" stop-color="#99fb00"/><stop offset="0.792" stop-color="#aefd00"/><stop offset="0.833" stop-color="#c0ff00"/><stop offset="0.875" stop-color="#caff00"/><stop offset="0.917" stop-color="#d3ff00"/><stop offset="0.958" stop-color="#dcff00"/><stop offset="1" stop-color="#e4ff00"/></linearGradient><linearGradient id="hr71" gradientUnits="userSpaceOnUse" x1="-7" y1="0" x2="168.3" y2="0"><stop offset="0" stop-color="#00d118"/><stop offset="0.043" stop-color="#00d216"/><stop offset="0.087" stop-color="#00d414"/><stop offset="0.13" stop-color="#00d512"/><stop offset="0.174" stop-color="#00d710"/><stop offset="0.217" stop-color="#00d80e"/><stop offset="0.261" stop-color="#00da0b"/><stop offset="0.304" stop-color="#02dd09"/><stop offset="0.348" stop-color="#09e106"/><stop offset="0.391" stop-color="#11e604"/><stop offset="0.435" stop-color="#1aeb01"/><stop offset="0.478" stop-color="#26ee00"/><stop offset="0.522" stop-color="#33f000"/><stop offset="0.565" stop-color="#42f100"/><stop offset="0.609" stop-color="#50f300"/><stop offset="0.652" stop-color="#60f500"/><stop offset="0.696" stop-color="#76f700"/><stop offset="0.739" stop-color="#8cf900"/><stop offset="0.783" stop-color="#a2fc00"/><stop offset="0.826" stop-color="#b7fe00"/><stop offset="0.87" stop-color="#c4ff00"/><stop offset="0.913" stop-color="#ceff00"/><stop offset="0.957" stop-color="#d7ff00"/><stop offset="1" stop-color="#dfff00"/></linearGradient><linearGradient id="hr72" gradientUnits="userSpaceOnUse" x1="-7.2" y1="0" x2="165.5" y2="0"><stop offset="0" stop-color="#00d217"/><stop offset="0.043" stop-color="#00d316"/><stop offset="0.087" stop-color="#00d414"/><stop offset="0.13" stop-color="#00d612"/><stop offset="0.174" stop-color="#00d710"/><stop offset="0.217" stop-color="#00d90d"/><stop offset="0.261" stop-color="#00db0b"/><stop offset="0.304" stop-color="#03dd08"/><stop offset="0.348" stop-color="#0ae206"/><stop offset="0.391" stop-color="#12e603"/><stop offset="0.435" stop-color="#1aeb01"/><stop offset="0.478" stop-color="#25ee00"/><stop offset="0.522" stop-color="#32f000"/><stop offset="0.565" stop-color="#40f100"/><stop offset="0.609" stop-color="#4ef300"/><stop offset="0.652" stop-color="#5cf400"/><stop offset="0.696" stop-color="#70f600"/><stop offset="0.739" stop-color="#85f900"/><stop offset="0.783" stop-color="#9afb00"/><stop offset="0.826" stop-color="#affd00"/><stop offset="0.87" stop-color="#c0ff00"/><stop offset="0.913" stop-color="#c9ff00"/><stop offset="0.957" stop-color="#d2ff00"/><stop offset="1" stop-color="#daff00"/></linearGradient><linearGradient id="hr73" gradientUnits="userSpaceOnUse" x1="-7.2" y1="0" x2="162.6" y2="0"><stop offset="0" stop-color="#00d217"/><stop offset="0.043" stop-color="#00d315"/><stop offset="0.087" stop-color="#00d513"/><stop offset="0.13" stop-color="#00d611"/><stop offset="0.174" stop-color="#00d80f"/><stop offset="0.217" stop-color="#00d90d"/><stop offset="0.261" stop-color="#00db0a"/><stop offset="0.304" stop-color="#04de08"/><stop offset="0.348" stop-color="#0be206"/><stop offset="0.391" stop-color="#12e703"/><stop offset="0.435" stop-color="#1aeb01"/><stop offset="0.478" stop-color="#24ee00"/><stop offset="0.522" stop-color="#31f000"/><stop offset="0.565" stop-color="#3ef100"/><stop offset="0.609" stop-color="#4bf200"/><stop offset="0.652" stop-color="#59f400"/><stop offset="0.696" stop-color="#6bf600"/><stop offset="0.739" stop-color="#7ff800"/><stop offset="0.783" stop-color="#93fa00"/><stop offset="0.826" stop-color="#a7fc00"/><stop offset="0.87" stop-color="#bafe00"/><stop offset="0.913" stop-color="#c5ff00"/><stop offset="0.957" stop-color="#ceff00"/><stop offset="1" stop-color="#d6ff00"/></linearGradient><linearGradient id="hr74" gradientUnits="userSpaceOnUse" x1="-7.3" y1="0" x2="159.7" y2="0"><stop offset="0" stop-color="#00d316"/><stop offset="0.045" stop-color="#00d414"/><stop offset="0.091" stop-color="#00d512"/><stop offset="0.136" stop-color="#00d710"/><stop offset="0.182" stop-color="#00d80e"/><stop offset="0.227" stop-color="#00da0c"/><stop offset="0.273" stop-color="#00dc09"/><stop offset="0.318" stop-color="#07e007"/><stop offset="0.364" stop-color="#0ee405"/><stop offset="0.409" stop-color="#15e902"/><stop offset="0.455" stop-color="#1eee00"/><stop offset="0.5" stop-color="#2aef00"/><stop offset="0.545" stop-color="#37f000"/><stop offset="0.591" stop-color="#44f200"/><stop offset="0.636" stop-color="#51f300"/><stop offset="0.682" stop-color="#5ff500"/><stop offset="0.727" stop-color="#74f700"/><stop offset="0.773" stop-color="#88f900"/><stop offset="0.818" stop-color="#9cfb00"/><stop offset="0.864" stop-color="#b0fd00"/><stop offset="0.909" stop-color="#c0ff00"/><stop offset="0.955" stop-color="#c9ff00"/><stop offset="1" stop-color="#d1ff00"/></linearGradient><linearGradient id="hr75" gradientUnits="userSpaceOnUse" x1="-7.4" y1="0" x2="156.8" y2="0"><stop offset="0" stop-color="#00d315"/><stop offset="0.045" stop-color="#00d414"/><stop offset="0.091" stop-color="#00d612"/><stop offset="0.136" stop-color="#00d710"/><stop offset="0.182" stop-color="#00d90e"/><stop offset="0.227" stop-color="#00da0b"/><stop offset="0.273" stop-color="#01dc09"/><stop offset="0.318" stop-color="#07e007"/><stop offset="0.364" stop-color="#0ee405"/><stop offset="0.409" stop-color="#16e902"/><stop offset="0.455" stop-color="#1ded00"/><stop offset="0.5" stop-color="#29ef00"/><stop offset="0.545" stop-color="#35f000"/><stop offset="0.591" stop-color="#42f100"/><stop offset="0.636" stop-color="#4ff300"/><stop offset="0.682" stop-color="#5cf400"/><stop offset="0.727" stop-color="#6ef600"/><stop offset="0.773" stop-color="#81f800"/><stop offset="0.818" stop-color="#95fa00"/><stop offset="0.864" stop-color="#a8fc00"/><stop offset="0.909" stop-color="#bafe00"/><stop offset="0.955" stop-color="#c5ff00"/><stop offset="1" stop-color="#cdff00"/></linearGradient><linearGradient id="hr76" gradientUnits="userSpaceOnUse" x1="-7.5" y1="0" x2="153.9" y2="0"><stop offset="0" stop-color="#00d415"/><stop offset="0.045" stop-color="#00d513"/><stop offset="0.091" stop-color="#00d611"/><stop offset="0.136" stop-color="#00d80f"/><stop offset="0.182" stop-color="#00d90d"/><stop offset="0.227" stop-color="#00da0b"/><stop offset="0.273" stop-color="#02dd09"/><stop offset="0.318" stop-color="#08e107"/><stop offset="0.364" stop-color="#0fe504"/><stop offset="0.409" stop-color="#16e902"/><stop offset="0.455" stop-color="#1ded00"/><stop offset="0.5" stop-color="#28ef00"/><stop offset="0.545" stop-color="#34f000"/><stop offset="0.591" stop-color="#40f100"/><stop offset="0.636" stop-color="#4cf300"/><stop offset="0.682" stop-color="#59f400"/><stop offset="0.727" stop-color="#69f600"/><stop offset="0.773" stop-color="#7bf800"/><stop offset="0.818" stop-color="#8ef900"/><stop offset="0.864" stop-color="#a0fb00"/><stop offset="0.909" stop-color="#b2fd00"/><stop offset="0.955" stop-color="#c1ff00"/><stop offset="1" stop-color="#c9ff00"/></linearGradient><linearGradient id="hr77" gradientUnits="userSpaceOnUse" x1="-7.5" y1="0" x2="151.1" y2="0"><stop offset="0" stop-color="#00d414"/><stop offset="0.048" stop-color="#00d512"/><stop offset="0.095" stop-color="#00d710"/><stop offset="0.143" stop-color="#00d80e"/><stop offset="0.19" stop-color="#00da0c"/><stop offset="0.238" stop-color="#00db0a"/><stop offset="0.286" stop-color="#04de08"/><stop offset="0.333" stop-color="#0be206"/><stop offset="0.381" stop-color="#12e703"/><stop offset="0.429" stop-color="#19eb01"/><stop offset="0.476" stop-color="#22ee00"/><stop offset="0.524" stop-color="#2eef00"/><stop offset="0.571" stop-color="#39f000"/><stop offset="0.619" stop-color="#46f200"/><stop offset="0.667" stop-color="#52f300"/><stop offset="0.714" stop-color="#5ff500"/><stop offset="0.762" stop-color="#71f600"/><stop offset="0.81" stop-color="#84f800"/><stop offset="0.857" stop-color="#97fa00"/><stop offset="0.905" stop-color="#a9fc00"/><stop offset="0.952" stop-color="#bbfe00"/><stop offset="1" stop-color="#c5ff00"/></linearGradient><linearGradient id="hr78" gradientUnits="userSpaceOnUse" x1="-7.5" y1="0" x2="148.2" y2="0"><stop offset="0" stop-color="#00d513"/><stop offset="0.048" stop-color="#00d612"/><stop offset="0.095" stop-color="#00d710"/><stop offset="0.143" stop-color="#00d90e"/><stop offset="0.19" stop-color="#00da0c"/><stop offset="0.238" stop-color="#00db0a"/><stop offset="0.286" stop-color="#05df08"/><stop offset="0.333" stop-color="#0ce305"/><stop offset="0.381" stop-color="#12e703"/><stop offset="0.429" stop-color="#19eb01"/><stop offset="0.476" stop-color="#22ee00"/><stop offset="0.524" stop-color="#2def00"/><stop offset="0.571" stop-color="#38f000"/><stop offset="0.619" stop-color="#44f200"/><stop offset="0.667" stop-color="#4ff300"/><stop offset="0.714" stop-color="#5cf400"/><stop offset="0.762" stop-color="#6cf600"/><stop offset="0.81" stop-color="#7ef800"/><stop offset="0.857" stop-color="#90fa00"/><stop offset="0.905" stop-color="#a2fc00"/><stop offset="0.952" stop-color="#b3fd00"/><stop offset="1" stop-color="#c1ff00"/></linearGradient><linearGradient id="hr79" gradientUnits="userSpaceOnUse" x1="-7.5" y1="0" x2="145.3" y2="0"><stop offset="0" stop-color="#00d513"/><stop offset="0.05" stop-color="#00d611"/><stop offset="0.1" stop-color="#00d80f"/><stop offset="0.15" stop-color="#00d90d"/><stop offset="0.2" stop-color="#00db0b"/><stop offset="0.25" stop-color="#02dd09"/><stop offset="0.3" stop-color="#08e107"/><stop offset="0.35" stop-color="#0ee405"/><stop offset="0.4" stop-color="#15e902"/><stop offset="0.45" stop-color="#1ced00"/><stop offset="0.5" stop-color="#27ee00"/><stop offset="0.55" stop-color="#32f000"/><stop offset="0.6" stop-color="#3df100"/><stop offset="0.65" stop-color="#49f200"/><stop offset="0.7" stop-color="#55f300"/><stop offset="0.75" stop-color="#63f500"/><stop offset="0.8" stop-color="#75f700"/><stop offset="0.85" stop-color="#87f900"/><stop offset="0.9" stop-color="#99fb00"/><stop offset="0.95" stop-color="#aafc00"/><stop offset="1" stop-color="#bcfe00"/></linearGradient><linearGradient id="hr80" gradientUnits="userSpaceOnUse" x1="-7.4" y1="0" x2="142.3" y2="0"><stop offset="0" stop-color="#00d612"/><stop offset="0.05" stop-color="#00d710"/><stop offset="0.1" stop-color="#00d80e"/><stop offset="0.15" stop-color="#00d90c"/><stop offset="0.2" stop-color="#00db0a"/><stop offset="0.25" stop-color="#03dd08"/><stop offset="0.3" stop-color="#09e106"/><stop offset="0.35" stop-color="#0fe504"/><stop offset="0.4" stop-color="#15e902"/><stop offset="0.45" stop-color="#1ced00"/><stop offset="0.5" stop-color="#26ee00"/><stop offset="0.55" stop-color="#31f000"/><stop offset="0.6" stop-color="#3cf100"/><stop offset="0.65" stop-color="#47f200"/><stop offset="0.7" stop-color="#53f300"/><stop offset="0.75" stop-color="#5ef400"/><stop offset="0.8" stop-color="#6ff600"/><stop offset="0.85" stop-color="#81f800"/><stop offset="0.9" stop-color="#92fa00"/><stop offset="0.95" stop-color="#a3fc00"/><stop offset="1" stop-color="#b4fd00"/></linearGradient><linearGradient id="hr81" gradientUnits="userSpaceOnUse" x1="-7.3" y1="0" x2="139.4" y2="0"><stop offset="0" stop-color="#00d611"/><stop offset="0.05" stop-color="#00d710"/><stop offset="0.1" stop-color="#00d80e"/><stop offset="0.15" stop-color="#00da0c"/><stop offset="0.2" stop-color="#00db0a"/><stop offset="0.25" stop-color="#04de08"/><stop offset="0.3" stop-color="#09e106"/><stop offset="0.35" stop-color="#0fe504"/><stop offset="0.4" stop-color="#16e902"/><stop offset="0.45" stop-color="#1ced00"/><stop offset="0.5" stop-color="#26ee00"/><stop offset="0.55" stop-color="#30ef00"/><stop offset="0.6" stop-color="#3af100"/><stop offset="0.65" stop-color="#45f200"/><stop offset="0.7" stop-color="#50f300"/><stop offset="0.75" stop-color="#5bf400"/><stop offset="0.8" stop-color="#6af600"/><stop offset="0.85" stop-color="#7bf700"/><stop offset="0.9" stop-color="#8bf900"/><stop offset="0.95" stop-color="#9cfb00"/><stop offset="1" stop-color="#acfd00"/></linearGradient><linearGradient id="hr82" gradientUnits="userSpaceOnUse" x1="-7.3" y1="0" x2="136.4" y2="0"><stop offset="0" stop-color="#00d611"/><stop offset="0.053" stop-color="#00d80f"/><stop offset="0.105" stop-color="#00d90d"/><stop offset="0.158" stop-color="#00da0b"/><stop offset="0.211" stop-color="#00dc09"/><stop offset="0.263" stop-color="#06df07"/><stop offset="0.316" stop-color="#0ce305"/><stop offset="0.368" stop-color="#12e703"/><stop offset="0.421" stop-color="#19eb01"/><stop offset="0.474" stop-color="#20ee00"/><stop offset="0.526" stop-color="#2aef00"/><stop offset="0.579" stop-color="#35f000"/><stop offset="0.632" stop-color="#3ff100"/><stop offset="0.684" stop-color="#4af200"/><stop offset="0.737" stop-color="#56f400"/><stop offset="0.789" stop-color="#62f500"/><stop offset="0.842" stop-color="#73f700"/><stop offset="0.895" stop-color="#83f800"/><stop offset="0.947" stop-color="#94fa00"/><stop offset="1" stop-color="#a4fc00"/></linearGradient><linearGradient id="hr83" gradientUnits="userSpaceOnUse" x1="-7.2" y1="0" x2="133.5" y2="0"><stop offset="0" stop-color="#00d710"/><stop offset="0.053" stop-color="#00d80e"/><stop offset="0.105" stop-color="#00d90d"/><stop offset="0.158" stop-color="#00db0b"/><stop offset="0.211" stop-color="#01dd09"/><stop offset="0.263" stop-color="#07e007"/><stop offset="0.316" stop-color="#0de305"/><stop offset="0.368" stop-color="#12e703"/><stop offset="0.421" stop-color="#19eb01"/><stop offset="0.474" stop-color="#20ee00"/><stop offset="0.526" stop-color="#29ef00"/><stop offset="0.579" stop-color="#33f000"/><stop offset="0.632" stop-color="#3ef100"/><stop offset="0.684" stop-color="#48f200"/><stop offset="0.737" stop-color="#53f300"/><stop offset="0.789" stop-color="#5ef400"/><stop offset="0.842" stop-color="#6df600"/><stop offset="0.895" stop-color="#7df800"/><stop offset="0.947" stop-color="#8df900"/><stop offset="1" stop-color="#9dfb00"/></linearGradient><linearGradient id="hr84" gradientUnits="userSpaceOnUse" x1="-7" y1="0" x2="130.5" y2="0"><stop offset="0" stop-color="#00d70f"/><stop offset="0.056" stop-color="#00d90e"/><stop offset="0.111" stop-color="#00da0c"/><stop offset="0.167" stop-color="#00db0a"/><stop offset="0.222" stop-color="#04de08"/><stop offset="0.278" stop-color="#09e106"/><stop offset="0.333" stop-color="#0fe504"/><stop offset="0.389" stop-color="#15e802"/><stop offset="0.444" stop-color="#1cec00"/><stop offset="0.5" stop-color="#24ee00"/><stop offset="0.556" stop-color="#2eef00"/><stop offset="0.611" stop-color="#38f000"/><stop offset="0.667" stop-color="#43f200"/><stop offset="0.722" stop-color="#4df300"/><stop offset="0.778" stop-color="#58f400"/><stop offset="0.833" stop-color="#66f500"/><stop offset="0.889" stop-color="#76f700"/><stop offset="0.944" stop-color="#86f900"/><stop offset="1" stop-color="#96fa00"/></linearGradient><linearGradient id="hr85" gradientUnits="userSpaceOnUse" x1="-6.8" y1="0" x2="127.5" y2="0"><stop offset="0" stop-color="#00d80f"/><stop offset="0.056" stop-color="#00d90d"/><stop offset="0.111" stop-color="#00da0b"/><stop offset="0.167" stop-color="#00db0a"/><stop offset="0.222" stop-color="#05df08"/><stop offset="0.278" stop-color="#0ae206"/><stop offset="0.333" stop-color="#10e504"/><stop offset="0.389" stop-color="#15e902"/><stop offset="0.444" stop-color="#1cec00"/><stop offset="0.5" stop-color="#24ee00"/><stop offset="0.556" stop-color="#2def00"/><stop offset="0.611" stop-color="#37f000"/><stop offset="0.667" stop-color="#41f100"/><stop offset="0.722" stop-color="#4bf200"/><stop offset="0.778" stop-color="#56f400"/><stop offset="0.833" stop-color="#61f500"/><stop offset="0.889" stop-color="#70f600"/><stop offset="0.944" stop-color="#80f800"/><stop offset="1" stop-color="#8ffa00"/></linearGradient><linearGradient id="hr86" gradientUnits="userSpaceOnUse" x1="-6.6" y1="0" x2="124.4" y2="0"><stop offset="0" stop-color="#00d80e"/><stop offset="0.059" stop-color="#00d90d"/><stop offset="0.118" stop-color="#00db0b"/><stop offset="0.176" stop-color="#01dd09"/><stop offset="0.235" stop-color="#07e007"/><stop offset="0.294" stop-color="#0ce305"/><stop offset="0.353" stop-color="#12e703"/><stop offset="0.412" stop-color="#18ea01"/><stop offset="0.471" stop-color="#1fee00"/><stop offset="0.529" stop-color="#28ef00"/><stop offset="0.588" stop-color="#32f000"/><stop offset="0.647" stop-color="#3cf100"/><stop offset="0.706" stop-color="#46f200"/><stop offset="0.765" stop-color="#51f300"/><stop offset="0.824" stop-color="#5bf400"/><stop offset="0.882" stop-color="#69f600"/><stop offset="0.941" stop-color="#79f700"/><stop offset="1" stop-color="#88f900"/></linearGradient><linearGradient id="hr87" gradientUnits="userSpaceOnUse" x1="-6.4" y1="0" x2="121.4" y2="0"><stop offset="0" stop-color="#00d90e"/><stop offset="0.059" stop-color="#00da0c"/><stop offset="0.118" stop-color="#00db0a"/><stop offset="0.176" stop-color="#02dd09"/><stop offset="0.235" stop-color="#08e007"/><stop offset="0.294" stop-color="#0de405"/><stop offset="0.353" stop-color="#12e703"/><stop offset="0.412" stop-color="#18ea01"/><stop offset="0.471" stop-color="#1fee00"/><stop offset="0.529" stop-color="#28ef00"/><stop offset="0.588" stop-color="#31f000"/><stop offset="0.647" stop-color="#3af100"/><stop offset="0.706" stop-color="#44f200"/><stop offset="0.765" stop-color="#4ef300"/><stop offset="0.824" stop-color="#58f400"/><stop offset="0.882" stop-color="#64f500"/><stop offset="0.941" stop-color="#73f700"/><stop offset="1" stop-color="#82f800"/></linearGradient><linearGradient id="hr88" gradientUnits="userSpaceOnUse" x1="-6.1" y1="0" x2="118.3" y2="0"><stop offset="0" stop-color="#00d90d"/><stop offset="0.059" stop-color="#00da0b"/><stop offset="0.118" stop-color="#00db0a"/><stop offset="0.176" stop-color="#04de08"/><stop offset="0.235" stop-color="#08e107"/><stop offset="0.294" stop-color="#0ee405"/><stop offset="0.353" stop-color="#13e703"/><stop offset="0.412" stop-color="#18ea01"/><stop offset="0.471" stop-color="#1eee00"/><stop offset="0.529" stop-color="#27ef00"/><stop offset="0.588" stop-color="#30ef00"/><stop offset="0.647" stop-color="#39f000"/><stop offset="0.706" stop-color="#42f100"/><stop offset="0.765" stop-color="#4cf200"/><stop offset="0.824" stop-color="#55f300"/><stop offset="0.882" stop-color="#5ff500"/><stop offset="0.941" stop-color="#6df600"/><stop offset="1" stop-color="#7cf800"/></linearGradient><linearGradient id="hr89" gradientUnits="userSpaceOnUse" x1="-5.8" y1="0" x2="115.1" y2="0"><stop offset="0" stop-color="#00d90d"/><stop offset="0.062" stop-color="#00db0b"/><stop offset="0.125" stop-color="#01dc09"/><stop offset="0.188" stop-color="#05df08"/><stop offset="0.25" stop-color="#0ae206"/><stop offset="0.312" stop-color="#10e504"/><stop offset="0.375" stop-color="#15e902"/><stop offset="0.438" stop-color="#1bec00"/><stop offset="0.5" stop-color="#22ee00"/><stop offset="0.562" stop-color="#2bef00"/><stop offset="0.625" stop-color="#34f000"/><stop offset="0.688" stop-color="#3ef100"/><stop offset="0.75" stop-color="#47f200"/><stop offset="0.812" stop-color="#51f300"/><stop offset="0.875" stop-color="#5af400"/><stop offset="0.938" stop-color="#67f500"/><stop offset="1" stop-color="#75f700"/></linearGradient><linearGradient id="hr90" gradientUnits="userSpaceOnUse" x1="-5.4" y1="0" x2="112" y2="0"><stop offset="0" stop-color="#00da0c"/><stop offset="0.062" stop-color="#00db0a"/><stop offset="0.125" stop-color="#02dd09"/><stop offset="0.188" stop-color="#06e007"/><stop offset="0.25" stop-color="#0be306"/><stop offset="0.312" stop-color="#10e604"/><stop offset="0.375" stop-color="#16e902"/><stop offset="0.438" stop-color="#1bec00"/><stop offset="0.5" stop-color="#22ee00"/><stop offset="0.562" stop-color="#2aef00"/><stop offset="0.625" stop-color="#33f000"/><stop offset="0.688" stop-color="#3cf100"/><stop offset="0.75" stop-color="#45f200"/><stop offset="0.812" stop-color="#4ef300"/><stop offset="0.875" stop-color="#57f400"/><stop offset="0.938" stop-color="#62f500"/><stop offset="1" stop-color="#6ff600"/></linearGradient><linearGradient id="hr91" gradientUnits="userSpaceOnUse" x1="-5" y1="0" x2="108.7" y2="0"><stop offset="0" stop-color="#00da0b"/><stop offset="0.067" stop-color="#00db0a"/><stop offset="0.133" stop-color="#04de08"/><stop offset="0.2" stop-color="#08e107"/><stop offset="0.267" stop-color="#0de405"/><stop offset="0.333" stop-color="#13e703"/><stop offset="0.4" stop-color="#18ea01"/><stop offset="0.467" stop-color="#1eee00"/><stop offset="0.533" stop-color="#26ee00"/><stop offset="0.6" stop-color="#2fef00"/><stop offset="0.667" stop-color="#37f000"/><stop offset="0.733" stop-color="#41f100"/><stop offset="0.8" stop-color="#4af200"/><stop offset="0.867" stop-color="#53f300"/><stop offset="0.933" stop-color="#5df400"/><stop offset="1" stop-color="#6af600"/></linearGradient><linearGradient id="hr92" gradientUnits="userSpaceOnUse" x1="-4.6" y1="0" x2="105.4" y2="0"><stop offset="0" stop-color="#00db0b"/><stop offset="0.067" stop-color="#00dc09"/><stop offset="0.133" stop-color="#05df08"/><stop offset="0.2" stop-color="#09e106"/><stop offset="0.267" stop-color="#0ee405"/><stop offset="0.333" stop-color="#13e703"/><stop offset="0.4" stop-color="#18ea01"/><stop offset="0.467" stop-color="#1eee00"/><stop offset="0.533" stop-color="#25ee00"/><stop offset="0.6" stop-color="#2eef00"/><stop offset="0.667" stop-color="#36f000"/><stop offset="0.733" stop-color="#3ff100"/><stop offset="0.8" stop-color="#47f200"/><stop offset="0.867" stop-color="#50f300"/><stop offset="0.933" stop-color="#59f400"/><stop offset="1" stop-color="#64f500"/></linearGradient><linearGradient id="hr93" gradientUnits="userSpaceOnUse" x1="-4" y1="0" x2="102.1" y2="0"><stop offset="0" stop-color="#00db0a"/><stop offset="0.071" stop-color="#02dd09"/><stop offset="0.143" stop-color="#06e007"/><stop offset="0.214" stop-color="#0be306"/><stop offset="0.286" stop-color="#10e604"/><stop offset="0.357" stop-color="#15e902"/><stop offset="0.429" stop-color="#1bec00"/><stop offset="0.5" stop-color="#21ee00"/><stop offset="0.571" stop-color="#29ef00"/><stop offset="0.643" stop-color="#32f000"/><stop offset="0.714" stop-color="#3af100"/><stop offset="0.786" stop-color="#43f200"/><stop offset="0.857" stop-color="#4cf300"/><stop offset="0.929" stop-color="#55f300"/><stop offset="1" stop-color="#5ef400"/></linearGradient><linearGradient id="hr94" gradientUnits="userSpaceOnUse" x1="-3.3" y1="0" x2="98.7" y2="0"><stop offset="0" stop-color="#00db0a"/><stop offset="0.071" stop-color="#03de08"/><stop offset="0.143" stop-color="#08e007"/><stop offset="0.214" stop-color="#0ce305"/><stop offset="0.286" stop-color="#11e604"/><stop offset="0.357" stop-color="#16e902"/><stop offset="0.429" stop-color="#1bec00"/><stop offset="0.5" stop-color="#21ee00"/><stop offset="0.571" stop-color="#29ef00"/><stop offset="0.643" stop-color="#31f000"/><stop offset="0.714" stop-color="#39f000"/><stop offset="0.786" stop-color="#41f100"/><stop offset="0.857" stop-color="#49f200"/><stop offset="0.929" stop-color="#52f300"/><stop offset="1" stop-color="#5af400"/></linearGradient><linearGradient id="hr95" gradientUnits="userSpaceOnUse" x1="-2.6" y1="0" x2="95.1" y2="0"><stop offset="0" stop-color="#01dc09"/><stop offset="0.077" stop-color="#05df08"/><stop offset="0.154" stop-color="#09e106"/><stop offset="0.231" stop-color="#0ee405"/><stop offset="0.308" stop-color="#13e703"/><stop offset="0.385" stop-color="#18ea01"/><stop offset="0.462" stop-color="#1ded00"/><stop offset="0.538" stop-color="#25ee00"/><stop offset="0.615" stop-color="#2def00"/><stop offset="0.692" stop-color="#35f000"/><stop offset="0.769" stop-color="#3df100"/><stop offset="0.846" stop-color="#45f200"/><stop offset="0.923" stop-color="#4ef300"/><stop offset="1" stop-color="#57f400"/></linearGradient><linearGradient id="hr96" gradientUnits="userSpaceOnUse" x1="-1.6" y1="0" x2="91.5" y2="0"><stop offset="0" stop-color="#02dd09"/><stop offset="0.083" stop-color="#07e007"/><stop offset="0.167" stop-color="#0be306"/><stop offset="0.25" stop-color="#10e604"/><stop offset="0.333" stop-color="#15e802"/><stop offset="0.417" stop-color="#1aec01"/><stop offset="0.5" stop-color="#21ee00"/><stop offset="0.583" stop-color="#28ef00"/><stop offset="0.667" stop-color="#31f000"/><stop offset="0.75" stop-color="#39f000"/><stop offset="0.833" stop-color="#41f100"/><stop offset="0.917" stop-color="#4af200"/><stop offset="1" stop-color="#53f300"/></linearGradient><linearGradient id="hr97" gradientUnits="userSpaceOnUse" x1="-0.6" y1="0" x2="87.8" y2="0"><stop offset="0" stop-color="#04de08"/><stop offset="0.083" stop-color="#08e107"/><stop offset="0.167" stop-color="#0ce305"/><stop offset="0.25" stop-color="#11e604"/><stop offset="0.333" stop-color="#16e902"/><stop offset="0.417" stop-color="#1bec00"/><stop offset="0.5" stop-color="#20ee00"/><stop offset="0.583" stop-color="#28ef00"/><stop offset="0.667" stop-color="#2fef00"/><stop offset="0.75" stop-color="#37f000"/><stop offset="0.833" stop-color="#3ff100"/><stop offset="0.917" stop-color="#47f200"/><stop offset="1" stop-color="#4ff300"/></linearGradient><linearGradient id="hr98" gradientUnits="userSpaceOnUse" x1="0.6" y1="0" x2="83.9" y2="0"><stop offset="0" stop-color="#06df07"/><stop offset="0.091" stop-color="#0ae206"/><stop offset="0.182" stop-color="#0ee405"/><stop offset="0.273" stop-color="#13e703"/><stop offset="0.364" stop-color="#18ea01"/><stop offset="0.455" stop-color="#1ded00"/><stop offset="0.545" stop-color="#24ee00"/><stop offset="0.636" stop-color="#2bef00"/><stop offset="0.727" stop-color="#33f000"/><stop offset="0.818" stop-color="#3bf100"/><stop offset="0.909" stop-color="#43f200"/><stop offset="1" stop-color="#4bf200"/></linearGradient><linearGradient id="hr99" gradientUnits="userSpaceOnUse" x1="2" y1="0" x2="79.8" y2="0"><stop offset="0" stop-color="#07e007"/><stop offset="0.1" stop-color="#0ce305"/><stop offset="0.2" stop-color="#10e604"/><stop offset="0.3" stop-color="#15e902"/><stop offset="0.4" stop-color="#1aec01"/><stop offset="0.5" stop-color="#20ee00"/><stop offset="0.6" stop-color="#28ef00"/><stop offset="0.7" stop-color="#2fef00"/><stop offset="0.8" stop-color="#37f000"/><stop offset="0.9" stop-color="#3ff100"/><stop offset="1" stop-color="#48f200"/></linearGradient><linearGradient id="hr100" gradientUnits="userSpaceOnUse" x1="3.6" y1="0" x2="75.6" y2="0"><stop offset="0" stop-color="#09e106"/><stop offset="0.1" stop-color="#0de405"/><stop offset="0.2" stop-color="#12e603"/><stop offset="0.3" stop-color="#16e902"/><stop offset="0.4" stop-color="#1bec00"/><stop offset="0.5" stop-color="#20ee00"/><stop offset="0.6" stop-color="#27ee00"/><stop offset="0.7" stop-color="#2eef00"/><stop offset="0.8" stop-color="#35f000"/><stop offset="0.9" stop-color="#3cf100"/><stop offset="1" stop-color="#44f200"/></linearGradient><linearGradient id="hr101" gradientUnits="userSpaceOnUse" x1="5.3" y1="0" x2="71.1" y2="0"><stop offset="0" stop-color="#0be306"/><stop offset="0.111" stop-color="#0fe504"/><stop offset="0.222" stop-color="#14e803"/><stop offset="0.333" stop-color="#18ea01"/><stop offset="0.444" stop-color="#1ded00"/><stop offset="0.556" stop-color="#23ee00"/><stop offset="0.667" stop-color="#2aef00"/><stop offset="0.778" stop-color="#31f000"/><stop offset="0.889" stop-color="#38f000"/><stop offset="1" stop-color="#40f100"/></linearGradient><linearGradient id="hr102" gradientUnits="userSpaceOnUse" x1="7.4" y1="0" x2="66.2" y2="0"><stop offset="0" stop-color="#0de405"/><stop offset="0.125" stop-color="#12e603"/><stop offset="0.25" stop-color="#16e902"/><stop offset="0.375" stop-color="#1aec01"/><stop offset="0.5" stop-color="#1fee00"/><stop offset="0.625" stop-color="#26ee00"/><stop offset="0.75" stop-color="#2def00"/><stop offset="0.875" stop-color="#34f000"/><stop offset="1" stop-color="#3cf100"/></linearGradient><linearGradient id="hr103" gradientUnits="userSpaceOnUse" x1="9.7" y1="0" x2="61.1" y2="0"><stop offset="0" stop-color="#10e504"/><stop offset="0.143" stop-color="#14e803"/><stop offset="0.286" stop-color="#18ea01"/><stop offset="0.429" stop-color="#1ced00"/><stop offset="0.571" stop-color="#23ee00"/><stop offset="0.714" stop-color="#29ef00"/><stop offset="0.857" stop-color="#30f000"/><stop offset="1" stop-color="#37f000"/></linearGradient><linearGradient id="hr104" gradientUnits="userSpaceOnUse" x1="12.8" y1="0" x2="55.2" y2="0"><stop offset="0" stop-color="#12e703"/><stop offset="0.167" stop-color="#16e902"/><stop offset="0.333" stop-color="#1aec01"/><stop offset="0.5" stop-color="#1fee00"/><stop offset="0.667" stop-color="#25ee00"/><stop offset="0.833" stop-color="#2cef00"/><stop offset="1" stop-color="#32f000"/></linearGradient><linearGradient id="hr105" gradientUnits="userSpaceOnUse" x1="18" y1="0" x2="47.2" y2="0"><stop offset="0" stop-color="#16e902"/><stop offset="0.25" stop-color="#1aeb01"/><stop offset="0.5" stop-color="#1fee00"/><stop offset="0.75" stop-color="#25ee00"/><stop offset="1" stop-color="#2cef00"/></linearGradient><linearGradient id="hr106" gradientUnits="userSpaceOnUse" x1="20.6" y1="0" x2="44.2" y2="0"><stop offset="0" stop-color="#18ea01"/><stop offset="0.333" stop-color="#1ded00"/><stop offset="0.667" stop-color="#23ee00"/><stop offset="1" stop-color="#2aef00"/></linearGradient><filter id="hsb" x="-5%" y="-5%" width="110%" height="110%"><feGaussianBlur stdDeviation="2"/></filter><g id="hs"><g clip-path="url(#hsclip)"><g filter="url(#hsb)"><rect x="54.3" y="4.7" width="20.5" height="3.6" fill="url(#hr0)"/><rect x="53.6" y="1.7" width="22.8" height="3.6" fill="url(#hr1)"/><rect x="51" y="-1.3" width="31.4" height="3.6" fill="url(#hr2)"/><rect x="48.5" y="-4.3" width="40" height="3.6" fill="url(#hr3)"/><rect x="46.1" y="-7.3" width="48.4" height="3.6" fill="url(#hr4)"/><rect x="43.9" y="-10.3" width="56.6" height="3.6" fill="url(#hr5)"/><rect x="42.1" y="-13.3" width="64.5" height="3.6" fill="url(#hr6)"/><rect x="40.5" y="-16.3" width="72" height="3.6" fill="url(#hr7)"/><rect x="39.1" y="-19.3" width="79.5" height="3.6" fill="url(#hr8)"/><rect x="37.6" y="-22.3" width="87" height="3.6" fill="url(#hr9)"/><rect x="36.1" y="-25.3" width="94.5" height="3.6" fill="url(#hr10)"/><rect x="34.6" y="-28.3" width="102.1" height="3.6" fill="url(#hr11)"/><rect x="33.1" y="-31.3" width="109.6" height="3.6" fill="url(#hr12)"/><rect x="31.8" y="-34.3" width="116.9" height="3.6" fill="url(#hr13)"/><rect x="30.5" y="-37.3" width="124.2" height="3.6" fill="url(#hr14)"/><rect x="29.3" y="-40.3" width="131.5" height="3.6" fill="url(#hr15)"/><rect x="28.1" y="-43.3" width="138.7" height="3.6" fill="url(#hr16)"/><rect x="26.9" y="-46.3" width="145.9" height="3.6" fill="url(#hr17)"/><rect x="25.8" y="-49.3" width="153" height="3.6" fill="url(#hr18)"/><rect x="24.7" y="-52.3" width="160.1" height="3.6" fill="url(#hr19)"/><rect x="23.7" y="-55.3" width="167.2" height="3.6" fill="url(#hr20)"/><rect x="22.7" y="-58.3" width="174.2" height="3.6" fill="url(#hr21)"/><rect x="21.6" y="-61.3" width="181.3" height="3.6" fill="url(#hr22)"/><rect x="20.7" y="-64.3" width="188.3" height="3.6" fill="url(#hr23)"/><rect x="19.7" y="-67.3" width="195.3" height="3.6" fill="url(#hr24)"/><rect x="18.7" y="-70.3" width="202.3" height="3.6" fill="url(#hr25)"/><rect x="17.8" y="-73.3" width="209.3" height="3.6" fill="url(#hr26)"/><rect x="16.8" y="-76.3" width="216.2" height="3.6" fill="url(#hr27)"/><rect x="15.8" y="-79.3" width="223.2" height="3.6" fill="url(#hr28)"/><rect x="14.9" y="-82.3" width="230.2" height="3.6" fill="url(#hr29)"/><rect x="13.9" y="-85.3" width="237.2" height="3.6" fill="url(#hr30)"/><rect x="12.9" y="-88.3" width="244.2" height="3.6" fill="url(#hr31)"/><rect x="12" y="-91.3" width="251.2" height="3.6" fill="url(#hr32)"/><rect x="11.1" y="-94.3" width="258.1" height="3.6" fill="url(#hr33)"/><rect x="10.2" y="-97.3" width="265" height="3.6" fill="url(#hr34)"/><rect x="9.3" y="-100.3" width="267.7" height="3.6" fill="url(#hr35)"/><rect x="8.5" y="-103.3" width="265.4" height="3.6" fill="url(#hr36)"/><rect x="7.7" y="-106.3" width="263.1" height="3.6" fill="url(#hr37)"/><rect x="6.9" y="-109.3" width="260.7" height="3.6" fill="url(#hr38)"/><rect x="6.2" y="-112.3" width="258.3" height="3.6" fill="url(#hr39)"/><rect x="5.6" y="-115.3" width="255.9" height="3.6" fill="url(#hr40)"/><rect x="4.9" y="-118.3" width="253.4" height="3.6" fill="url(#hr41)"/><rect x="4.3" y="-121.3" width="251" height="3.6" fill="url(#hr42)"/><rect x="3.7" y="-124.3" width="248.5" height="3.6" fill="url(#hr43)"/><rect x="3.1" y="-127.3" width="245.9" height="3.6" fill="url(#hr44)"/><rect x="2.5" y="-130.3" width="243.4" height="3.6" fill="url(#hr45)"/><rect x="2" y="-133.3" width="240.8" height="3.6" fill="url(#hr46)"/><rect x="1.5" y="-136.3" width="238.2" height="3.6" fill="url(#hr47)"/><rect x="0.9" y="-139.3" width="235.6" height="3.6" fill="url(#hr48)"/><rect x="0.4" y="-142.3" width="233" height="3.6" fill="url(#hr49)"/><rect x="-0" y="-145.3" width="230.4" height="3.6" fill="url(#hr50)"/><rect x="-0.5" y="-148.3" width="227.8" height="3.6" fill="url(#hr51)"/><rect x="-1" y="-151.3" width="225.3" height="3.6" fill="url(#hr52)"/><rect x="-1.4" y="-154.3" width="222.7" height="3.6" fill="url(#hr53)"/><rect x="-1.9" y="-157.3" width="220.1" height="3.6" fill="url(#hr54)"/><rect x="-2.3" y="-160.3" width="217.5" height="3.6" fill="url(#hr55)"/><rect x="-2.7" y="-163.3" width="215" height="3.6" fill="url(#hr56)"/><rect x="-3.1" y="-166.3" width="212.3" height="3.6" fill="url(#hr57)"/><rect x="-3.5" y="-169.3" width="209.7" height="3.6" fill="url(#hr58)"/><rect x="-3.9" y="-172.3" width="207" height="3.6" fill="url(#hr59)"/><rect x="-4.2" y="-175.3" width="204.4" height="3.6" fill="url(#hr60)"/><rect x="-4.6" y="-178.3" width="201.7" height="3.6" fill="url(#hr61)"/><rect x="-4.9" y="-181.3" width="199.1" height="3.6" fill="url(#hr62)"/><rect x="-5.2" y="-184.3" width="196.5" height="3.6" fill="url(#hr63)"/><rect x="-5.5" y="-187.3" width="193.9" height="3.6" fill="url(#hr64)"/><rect x="-5.8" y="-190.3" width="191.3" height="3.6" fill="url(#hr65)"/><rect x="-6" y="-193.3" width="188.6" height="3.6" fill="url(#hr66)"/><rect x="-6.3" y="-196.3" width="186" height="3.6" fill="url(#hr67)"/><rect x="-6.5" y="-199.3" width="183.4" height="3.6" fill="url(#hr68)"/><rect x="-6.7" y="-202.3" width="180.7" height="3.6" fill="url(#hr69)"/><rect x="-6.8" y="-205.3" width="178.1" height="3.6" fill="url(#hr70)"/><rect x="-7" y="-208.3" width="175.3" height="3.6" fill="url(#hr71)"/><rect x="-7.2" y="-211.3" width="172.6" height="3.6" fill="url(#hr72)"/><rect x="-7.2" y="-214.3" width="169.8" height="3.6" fill="url(#hr73)"/><rect x="-7.3" y="-217.3" width="167" height="3.6" fill="url(#hr74)"/><rect x="-7.4" y="-220.3" width="164.2" height="3.6" fill="url(#hr75)"/><rect x="-7.5" y="-223.3" width="161.4" height="3.6" fill="url(#hr76)"/><rect x="-7.5" y="-226.3" width="158.5" height="3.6" fill="url(#hr77)"/><rect x="-7.5" y="-229.3" width="155.7" height="3.6" fill="url(#hr78)"/><rect x="-7.5" y="-232.3" width="152.7" height="3.6" fill="url(#hr79)"/><rect x="-7.4" y="-235.3" width="149.8" height="3.6" fill="url(#hr80)"/><rect x="-7.3" y="-238.3" width="146.7" height="3.6" fill="url(#hr81)"/><rect x="-7.3" y="-241.3" width="143.7" height="3.6" fill="url(#hr82)"/><rect x="-7.2" y="-244.3" width="140.6" height="3.6" fill="url(#hr83)"/><rect x="-7" y="-247.3" width="137.4" height="3.6" fill="url(#hr84)"/><rect x="-6.8" y="-250.3" width="134.3" height="3.6" fill="url(#hr85)"/><rect x="-6.6" y="-253.3" width="131.1" height="3.6" fill="url(#hr86)"/><rect x="-6.4" y="-256.3" width="127.7" height="3.6" fill="url(#hr87)"/><rect x="-6.1" y="-259.3" width="124.3" height="3.6" fill="url(#hr88)"/><rect x="-5.8" y="-262.3" width="120.9" height="3.6" fill="url(#hr89)"/><rect x="-5.4" y="-265.3" width="117.4" height="3.6" fill="url(#hr90)"/><rect x="-5" y="-268.3" width="113.7" height="3.6" fill="url(#hr91)"/><rect x="-4.6" y="-271.3" width="110" height="3.6" fill="url(#hr92)"/><rect x="-4" y="-274.3" width="106.1" height="3.6" fill="url(#hr93)"/><rect x="-3.3" y="-277.3" width="102" height="3.6" fill="url(#hr94)"/><rect x="-2.6" y="-280.3" width="97.8" height="3.6" fill="url(#hr95)"/><rect x="-1.6" y="-283.3" width="93.1" height="3.6" fill="url(#hr96)"/><rect x="-0.6" y="-286.3" width="88.4" height="3.6" fill="url(#hr97)"/><rect x="0.6" y="-289.3" width="83.3" height="3.6" fill="url(#hr98)"/><rect x="2" y="-292.3" width="77.8" height="3.6" fill="url(#hr99)"/><rect x="3.6" y="-295.3" width="72" height="3.6" fill="url(#hr100)"/><rect x="5.3" y="-298.3" width="65.8" height="3.6" fill="url(#hr101)"/><rect x="7.4" y="-301.3" width="58.8" height="3.6" fill="url(#hr102)"/><rect x="9.7" y="-304.3" width="51.3" height="3.6" fill="url(#hr103)"/><rect x="12.8" y="-307.3" width="42.4" height="3.6" fill="url(#hr104)"/><rect x="18" y="-310.3" width="29.2" height="3.6" fill="url(#hr105)"/><rect x="20.6" y="-313.3" width="23.5" height="3.6" fill="url(#hr106)"/></g></g></g><clipPath id="clipa"><rect x="140.5" y="3" width="574.3" height="427.5"/></clipPath><clipPath id="vc1"><rect x="609.6" y="10.9" width="91.4" height="166.8"/></clipPath><linearGradient id="vn1" x1="0" y1="0" x2="0" y2="1"><stop offset="0" stop-color="#2468e0"/><stop offset="1" stop-color="#165cd0"/></linearGradient><linearGradient id="vg1" x1="0" y1="0" x2="0" y2="1"><stop offset="0" stop-color="#2aa4d4"/><stop offset="0.15" stop-color="#1f98c8"/><stop offset="0.4" stop-color="#14819e"/><stop offset="0.45" stop-color="#0f7890"/><stop offset="0.475" stop-color="#8ff8e8"/><stop offset="0.53" stop-color="#2fe0cc"/><stop offset="0.57" stop-color="#1cd6c0"/><stop offset="0.85" stop-color="#14ccbc"/><stop offset="0.9" stop-color="#30d8e8"/><stop offset="1" stop-color="#2cd0f0"/></linearGradient><linearGradient id="vs1" x1="0" y1="0" x2="1" y2="0"><stop offset="0" stop-color="#000" stop-opacity="0.22"/><stop offset="0.16" stop-color="#000" stop-opacity="0"/><stop offset="0.84" stop-color="#000" stop-opacity="0"/><stop offset="1" stop-color="#000" stop-opacity="0.22"/></linearGradient><clipPath id="vc2"><rect x="613.2" y="187.3" width="85.7" height="167.7"/></clipPath><linearGradient id="vn2" x1="0" y1="0" x2="0" y2="1"><stop offset="0" stop-color="#58b868"/><stop offset="1" stop-color="#3a9048"/></linearGradient><linearGradient id="vg2" x1="0" y1="0" x2="0" y2="1"><stop offset="0" stop-color="#3a9048"/><stop offset="0.11" stop-color="#4a9a20"/><stop offset="0.36" stop-color="#2c5e18"/><stop offset="0.47" stop-color="#2f6a14"/><stop offset="0.505" stop-color="#d0f820"/><stop offset="0.55" stop-color="#b8e800"/><stop offset="0.7" stop-color="#a8d800"/><stop offset="0.88" stop-color="#9ccc00"/><stop offset="0.92" stop-color="#b8e860"/><stop offset="1" stop-color="#a8dc50"/></linearGradient><linearGradient id="vs2" x1="0" y1="0" x2="1" y2="0"><stop offset="0" stop-color="#000" stop-opacity="0.22"/><stop offset="0.16" stop-color="#000" stop-opacity="0"/><stop offset="0.84" stop-color="#000" stop-opacity="0"/><stop offset="1" stop-color="#000" stop-opacity="0.22"/></linearGradient><clipPath id="clipd"><rect x="138.6" y="532.8" width="579.3" height="432"/></clipPath><clipPath id="vc3"><rect x="612.9" y="542.2" width="91.9" height="165.7"/></clipPath><linearGradient id="vn3" x1="0" y1="0" x2="0" y2="1"><stop offset="0" stop-color="#2468e0"/><stop offset="1" stop-color="#165cd0"/></linearGradient><linearGradient id="vg3" x1="0" y1="0" x2="0" y2="1"><stop offset="0" stop-color="#2aa4d4"/><stop offset="0.15" stop-color="#1f98c8"/><stop offset="0.4" stop-color="#14819e"/><stop offset="0.45" stop-color="#0f7890"/><stop offset="0.475" stop-color="#8ff8e8"/><stop offset="0.53" stop-color="#2fe0cc"/><stop offset="0.57" stop-color="#1cd6c0"/><stop offset="0.85" stop-color="#14ccbc"/><stop offset="0.9" stop-color="#30d8e8"/><stop offset="1" stop-color="#2cd0f0"/></linearGradient><linearGradient id="vs3" x1="0" y1="0" x2="1" y2="0"><stop offset="0" stop-color="#000" stop-opacity="0.22"/><stop offset="0.16" stop-color="#000" stop-opacity="0"/><stop offset="0.84" stop-color="#000" stop-opacity="0"/><stop offset="1" stop-color="#000" stop-opacity="0.22"/></linearGradient><clipPath id="vc4"><rect x="612.9" y="720.8" width="92" height="165.7"/></clipPath><linearGradient id="vn4" x1="0" y1="0" x2="0" y2="1"><stop offset="0" stop-color="#6a42a4"/><stop offset="1" stop-color="#38205c"/></linearGradient><linearGradient id="vg4" x1="0" y1="0" x2="0" y2="1"><stop offset="0" stop-color="#5a2848"/><stop offset="0.25" stop-color="#4a1c38"/><stop offset="0.42" stop-color="#7a2c48"/><stop offset="0.485" stop-color="#b04058"/><stop offset="0.505" stop-color="#f06484"/><stop offset="0.56" stop-color="#d83c50"/><stop offset="0.75" stop-color="#c22c3c"/><stop offset="0.87" stop-color="#c83448"/><stop offset="0.905" stop-color="#e06078"/><stop offset="0.96" stop-color="#d04860"/><stop offset="1" stop-color="#a02840"/></linearGradient><linearGradient id="vs4" x1="0" y1="0" x2="1" y2="0"><stop offset="0" stop-color="#000" stop-opacity="0.18"/><stop offset="0.16" stop-color="#000" stop-opacity="0"/><stop offset="0.84" stop-color="#000" stop-opacity="0"/><stop offset="1" stop-color="#000" stop-opacity="0.18"/></linearGradient><clipPath id="clipg"><rect x="145.2" y="1075.5" width="582.8" height="432.7"/></clipPath><clipPath id="vc5"><rect x="609.4" y="1090.4" width="89.4" height="168.4"/></clipPath><linearGradient id="vn5" x1="0" y1="0" x2="0" y2="1"><stop offset="0" stop-color="#2468e0"/><stop offset="1" stop-color="#165cd0"/></linearGradient><linearGradient id="vg5" x1="0" y1="0" x2="0" y2="1"><stop offset="0" stop-color="#2aa4d4"/><stop offset="0.15" stop-color="#1f98c8"/><stop offset="0.4" stop-color="#14819e"/><stop offset="0.45" stop-color="#0f7890"/><stop offset="0.475" stop-color="#8ff8e8"/><stop offset="0.53" stop-color="#2fe0cc"/><stop offset="0.57" stop-color="#1cd6c0"/><stop offset="0.85" stop-color="#14ccbc"/><stop offset="0.9" stop-color="#30d8e8"/><stop offset="1" stop-color="#2cd0f0"/></linearGradient><linearGradient id="vs5" x1="0" y1="0" x2="1" y2="0"><stop offset="0" stop-color="#000" stop-opacity="0.22"/><stop offset="0.16" stop-color="#000" stop-opacity="0"/><stop offset="0.84" stop-color="#000" stop-opacity="0"/><stop offset="1" stop-color="#000" stop-opacity="0.22"/></linearGradient><clipPath id="vc6"><rect x="613" y="1270.9" width="88.2" height="170.4"/></clipPath><linearGradient id="vn6" x1="0" y1="0" x2="0" y2="1"><stop offset="0" stop-color="#140c1c"/><stop offset="1" stop-color="#1a1024"/></linearGradient><linearGradient id="vg6" x1="0" y1="0" x2="0" y2="1"><stop offset="0" stop-color="#0c0814"/><stop offset="0.2" stop-color="#1a1020"/><stop offset="0.35" stop-color="#3a1428"/><stop offset="0.43" stop-color="#6a2030"/><stop offset="0.458" stop-color="#e05060"/><stop offset="0.5" stop-color="#b83434"/><stop offset="0.8" stop-color="#b43030"/><stop offset="0.86" stop-color="#d85860"/><stop offset="0.97" stop-color="#dc5c64"/><stop offset="1" stop-color="#a03040"/></linearGradient><linearGradient id="vs6" x1="0" y1="0" x2="1" y2="0"><stop offset="0" stop-color="#000" stop-opacity="0.25"/><stop offset="0.16" stop-color="#000" stop-opacity="0"/><stop offset="0.84" stop-color="#000" stop-opacity="0"/><stop offset="1" stop-color="#000" stop-opacity="0.25"/></linearGradient><clipPath id="clipj"><rect x="155.1" y="1631.9" width="582" height="432.1"/></clipPath><clipPath id="vc7"><rect x="644.1" y="1669.9" width="82" height="168"/></clipPath><linearGradient id="vn7" x1="0" y1="0" x2="0" y2="1"><stop offset="0" stop-color="#b4d0f4"/><stop offset="1" stop-color="#88a8d8"/></linearGradient><linearGradient id="vg7" x1="0" y1="0" x2="0" y2="1"><stop offset="0" stop-color="#88a8d8"/><stop offset="0.06" stop-color="#5878b0"/><stop offset="0.14" stop-color="#34508a"/><stop offset="0.35" stop-color="#2c4478"/><stop offset="0.4" stop-color="#50684c"/><stop offset="0.44" stop-color="#d0e040"/><stop offset="0.58" stop-color="#f6fc30"/><stop offset="0.75" stop-color="#d8e040"/><stop offset="0.84" stop-color="#d0dc58"/><stop offset="0.88" stop-color="#f0f6b8"/><stop offset="0.94" stop-color="#e8f0a0"/><stop offset="0.97" stop-color="#8a9838"/><stop offset="1" stop-color="#3a4810"/></linearGradient><linearGradient id="vs7" x1="0" y1="0" x2="1" y2="0"><stop offset="0" stop-color="#000" stop-opacity="0.0"/><stop offset="0.16" stop-color="#000" stop-opacity="0"/><stop offset="0.84" stop-color="#000" stop-opacity="0"/><stop offset="1" stop-color="#000" stop-opacity="0.0"/></linearGradient><clipPath id="vc8"><rect x="644.1" y="1856.1" width="83.4" height="170.1"/></clipPath><linearGradient id="vn8" x1="0" y1="0" x2="0" y2="1"><stop offset="0" stop-color="#6aa8e0"/><stop offset="1" stop-color="#3060b0"/></linearGradient><linearGradient id="vg8" x1="0" y1="0" x2="0" y2="1"><stop offset="0" stop-color="#88c8f0"/><stop offset="0.03" stop-color="#3c5ca8"/><stop offset="0.19" stop-color="#2c3488"/><stop offset="0.31" stop-color="#3a2c78"/><stop offset="0.4" stop-color="#6a3860"/><stop offset="0.46" stop-color="#a05850"/><stop offset="0.52" stop-color="#e89858"/><stop offset="0.6" stop-color="#ffc468"/><stop offset="0.73" stop-color="#e89850"/><stop offset="0.81" stop-color="#d87c48"/><stop offset="0.875" stop-color="#e8a088"/><stop offset="0.91" stop-color="#f8d8d0"/><stop offset="0.95" stop-color="#e0a898"/><stop offset="1" stop-color="#c07870"/></linearGradient><linearGradient id="vs8" x1="0" y1="0" x2="1" y2="0"><stop offset="0" stop-color="#000" stop-opacity="0.08"/><stop offset="0.16" stop-color="#000" stop-opacity="0"/><stop offset="0.84" stop-color="#000" stop-opacity="0"/><stop offset="1" stop-color="#000" stop-opacity="0.08"/></linearGradient><clipPath id="clipb"><rect x="910.6" y="9" width="574.4" height="428"/></clipPath><clipPath id="clipe"><rect x="910.8" y="542.4" width="572.2" height="425.6"/></clipPath><clipPath id="cliph"><rect x="912.4" y="1078.4" width="589.1" height="435.6"/></clipPath><clipPath id="clipk"><rect x="914.3" y="1625.5" width="579.2" height="430.5"/></clipPath><clipPath id="cbc"><rect x="1652" y="8" width="381.6" height="417"/></clipPath><clipPath id="cbf"><rect x="1657.8" y="538.4" width="383.2" height="426.9"/></clipPath><clipPath id="cbi"><rect x="1657.8" y="1075.6" width="384.9" height="427"/></clipPath><clipPath id="cbl"><rect x="1657.9" y="1630.2" width="382.6" height="424.8"/></clipPath></defs><rect width="2045" height="2148" fill="#fff"/><rect x="140.5" y="3" width="574.3" height="427.5" fill="none" stroke="#000" stroke-width="3.3" />
<line x1="164.3" y1="430.5" x2="164.3" y2="435.5" stroke="#000" stroke-width="2.4" />
<line x1="206.6" y1="430.5" x2="206.6" y2="439.5" stroke="#000" stroke-width="2.4" />
<text x="206.6" y="464.9" font-size="24" text-anchor="middle" fill="#000" font-family='"Liberation Sans",sans-serif' font-weight="bold" >400</text>
<line x1="248.9" y1="430.5" x2="248.9" y2="435.5" stroke="#000" stroke-width="2.4" />
<line x1="291.1" y1="430.5" x2="291.1" y2="439.5" stroke="#000" stroke-width="2.4" />
<text x="291.1" y="464.9" font-size="24" text-anchor="middle" fill="#000" font-family='"Liberation Sans",sans-serif' font-weight="bold" >450</text>
<line x1="333.4" y1="430.5" x2="333.4" y2="435.5" stroke="#000" stroke-width="2.4" />
<line x1="375.7" y1="430.5" x2="375.7" y2="439.5" stroke="#000" stroke-width="2.4" />
<text x="375.7" y="464.9" font-size="24" text-anchor="middle" fill="#000" font-family='"Liberation Sans",sans-serif' font-weight="bold" >500</text>
<line x1="418" y1="430.5" x2="418" y2="435.5" stroke="#000" stroke-width="2.4" />
<line x1="460.2" y1="430.5" x2="460.2" y2="439.5" stroke="#000" stroke-width="2.4" />
<text x="460.2" y="464.9" font-size="24" text-anchor="middle" fill="#000" font-family='"Liberation Sans",sans-serif' font-weight="bold" >550</text>
<line x1="502.5" y1="430.5" x2="502.5" y2="435.5" stroke="#000" stroke-width="2.4" />
<line x1="544.8" y1="430.5" x2="544.8" y2="439.5" stroke="#000" stroke-width="2.4" />
<text x="544.8" y="464.9" font-size="24" text-anchor="middle" fill="#000" font-family='"Liberation Sans",sans-serif' font-weight="bold" >600</text>
<line x1="587.1" y1="430.5" x2="587.1" y2="435.5" stroke="#000" stroke-width="2.4" />
<line x1="629.4" y1="430.5" x2="629.4" y2="439.5" stroke="#000" stroke-width="2.4" />
<text x="629.4" y="464.9" font-size="24" text-anchor="middle" fill="#000" font-family='"Liberation Sans",sans-serif' font-weight="bold" >650</text>
<line x1="671.6" y1="430.5" x2="671.6" y2="435.5" stroke="#000" stroke-width="2.4" />
<line x1="713.9" y1="430.5" x2="713.9" y2="439.5" stroke="#000" stroke-width="2.4" />
<text x="713.9" y="464.9" font-size="24" text-anchor="middle" fill="#000" font-family='"Liberation Sans",sans-serif' font-weight="bold" >700</text>
<text x="437.5" y="501.8" font-size="25" text-anchor="middle" fill="#000" font-family='"Liberation Sans",sans-serif' font-weight="bold" >Wavelength/(nm)</text>
<text transform="translate(112,202) rotate(-90)" font-size="25" text-anchor="middle" fill="#000" font-family='"Liberation Sans",sans-serif' font-weight="bold">Intensity</text>
<g clip-path="url(#clipa)" fill="none" stroke-linejoin="round" stroke-linecap="round">
<polyline points="140.5,425.6 143,425.6 145.6,425.6 148.1,425.5 150.6,425.5 153.2,425.5 155.7,425.5 158.3,425.5 160.8,425.4 163.3,425.4 165.9,425.4 168.4,425.3 170.9,425.3 173.5,425.2 176,425.2 178.5,425.1 181.1,425.1 183.6,425 186.2,424.9 188.7,424.8 191.2,424.7 193.8,424.6 196.3,424.5 198.8,424.3 201.4,424.2 203.9,424 206.4,423.8 209,423.6 211.5,423.3 214.1,423.1 216.6,422.8 219.1,422.5 221.7,422.2 224.2,421.8 226.7,421.4 229.3,421 231.8,420.5 234.4,420 236.9,419.5 239.4,418.9 242,418.3 244.5,417.6 247,416.9 249.6,416.1 252.1,415.3 254.6,414.4 257.2,413.5 259.7,412.6 262.3,411.5 264.8,410.4 267.3,409.3 269.9,408.1 272.4,406.8 274.9,405.5 277.5,404.1 280,402.7 282.5,401.2 285.1,399.6 287.6,398 290.2,396.4 292.7,394.6 295.2,392.9 297.8,391.1 300.3,389.2 302.8,387.3 305.4,385.4 307.9,383.4 310.4,381.4 313,379.4 315.5,377.4 318.1,375.3 320.6,373.3 323.1,371.2 325.7,369.2 328.2,367.2 330.7,365.2 333.3,363.2 335.8,361.3 338.3,359.4 340.9,357.5 343.4,355.8 346,354 348.5,352.4 351,350.8 353.6,349.3 356.1,347.9 358.6,346.6 361.2,345.4 363.7,344.3 366.2,343.4 368.8,342.5 371.3,341.8 373.9,341.2 376.4,340.7 378.9,340.3 381.5,340.1 384,340 386.5,340 389.1,340.1 391.6,340.2 394.1,340.3 396.7,340.5 399.2,340.7 401.8,341 404.3,341.3 406.8,341.7 409.4,342.1 411.9,342.6 414.4,343.1 417,343.6 419.5,344.2 422.1,344.8 424.6,345.5 427.1,346.2 429.7,346.9 432.2,347.7 434.7,348.5 437.3,349.3 439.8,350.2 442.3,351.1 444.9,352 447.4,353 450,353.9 452.5,354.9 455,356 457.6,357 460.1,358.1 462.6,359.1 465.2,360.2 467.7,361.3 470.2,362.5 472.8,363.6 475.3,364.7 477.9,365.9 480.4,367 482.9,368.2 485.5,369.4 488,370.5 490.5,371.7 493.1,372.9 495.6,374 498.1,375.2 500.7,376.4 503.2,377.5 505.8,378.7 508.3,379.8 510.8,380.9 513.4,382 515.9,383.1 518.4,384.2 521,385.3 523.5,386.4 526,387.5 528.6,388.5 531.1,389.5 533.7,390.5 536.2,391.5 538.7,392.5 541.3,393.5 543.8,394.4 546.3,395.3 548.9,396.2 551.4,397.1 553.9,398 556.5,398.8 559,399.6 561.6,400.5 564.1,401.2 566.6,402 569.2,402.8 571.7,403.5 574.2,404.2 576.8,404.9 579.3,405.5 581.9,406.2 584.4,406.8 586.9,407.4 589.5,408 592,408.6 594.5,409.2 597.1,409.7 599.6,410.2 602.1,410.8 604.7,411.3 607.2,411.7 609.8,412.2 612.3,412.6 614.8,413.1 617.4,413.5 619.9,413.9 622.4,414.3 625,414.7 627.5,415 630,415.4 632.6,415.7 635.1,416 637.7,416.4 640.2,416.7 642.7,417 645.3,417.2 647.8,417.5 650.3,417.8 652.9,418 655.4,418.3 657.9,418.5 660.5,418.8 663,419 665.6,419.2 668.1,419.4 670.6,419.6 673.2,419.8 675.7,420 678.2,420.2 680.8,420.4 683.3,420.5 685.8,420.7 688.4,420.9 690.9,421 693.5,421.2 696,421.3 698.5,421.5 701.1,421.6 703.6,421.8 706.1,421.9 708.7,422 711.2,422.1 713.7,422.3" stroke="#000000" stroke-width="2"/>
<polyline points="140.5,425.6 143,425.6 145.6,425.6 148.1,425.5 150.6,425.5 153.2,425.5 155.7,425.5 158.3,425.5 160.8,425.4 163.3,425.4 165.9,425.4 168.4,425.3 170.9,425.3 173.5,425.3 176,425.2 178.5,425.1 181.1,425.1 183.6,425 186.2,424.9 188.7,424.8 191.2,424.7 193.8,424.6 196.3,424.5 198.8,424.3 201.4,424.2 203.9,424 206.4,423.8 209,423.6 211.5,423.4 214.1,423.2 216.6,422.9 219.1,422.6 221.7,422.3 224.2,421.9 226.7,421.5 229.3,421.1 231.8,420.7 234.4,420.2 236.9,419.7 239.4,419.1 242,418.5 244.5,417.9 247,417.2 249.6,416.5 252.1,415.7 254.6,414.9 257.2,414 259.7,413.1 262.3,412.1 264.8,411.1 267.3,410.1 269.9,409 272.4,407.8 274.9,406.7 277.5,405.5 280,404.2 282.5,402.9 285.1,401.6 287.6,400.2 290.2,398.9 292.7,397.5 295.2,396 297.8,394.6 300.3,393.1 302.8,391.6 305.4,390.1 307.9,388.6 310.4,387 313,385.5 315.5,383.9 318.1,382.3 320.6,380.7 323.1,379.1 325.7,377.4 328.2,375.8 330.7,374.2 333.3,372.7 335.8,371.1 338.3,369.6 340.9,368.1 343.4,366.6 346,365.2 348.5,363.9 351,362.6 353.6,361.4 356.1,360.3 358.6,359.3 361.2,358.3 363.7,357.5 366.2,356.8 368.8,356.2 371.3,355.7 373.9,355.4 376.4,355.2 378.9,355.2 381.5,355.3 384,355.5 386.5,355.8 389.1,356.1 391.6,356.3 394.1,356.5 396.7,356.4 399.2,356.2 401.8,355.5 404.3,354.5 406.8,353 409.4,350.8 411.9,348 414.4,344.4 417,340 419.5,334.7 422.1,328.6 424.6,321.6 427.1,313.9 429.7,305.5 432.2,296.6 434.7,287.3 437.3,277.9 439.8,268.7 442.3,259.8 444.9,251.6 447.4,244.4 450,238.3 452.5,233.7 455,230.7 457.6,229.4 460.1,229.6 462.6,230.8 465.2,232.9 467.7,235.7 470.2,239.2 472.8,243.4 475.3,248.2 477.9,253.4 480.4,259 482.9,264.9 485.5,271 488,277.2 490.5,283.4 493.1,289.5 495.6,295.5 498.1,301.2 500.7,306.6 503.2,311.7 505.8,316.4 508.3,320.8 510.8,324.8 513.4,328.4 515.9,331.6 518.4,334.5 521,337 523.5,339.3 526,341.3 528.6,343 531.1,344.6 533.7,346 536.2,347.3 538.7,348.5 541.3,349.6 543.8,350.7 546.3,351.9 548.9,353 551.4,354.2 553.9,355.4 556.5,356.7 559,358.1 561.6,359.5 564.1,361 566.6,362.5 569.2,364.1 571.7,365.8 574.2,367.5 576.8,369.2 579.3,371 581.9,372.7 584.4,374.5 586.9,376.3 589.5,378 592,379.7 594.5,381.4 597.1,383.1 599.6,384.7 602.1,386.2 604.7,387.8 607.2,389.2 609.8,390.6 612.3,391.9 614.8,393.2 617.4,394.4 619.9,395.6 622.4,396.7 625,397.8 627.5,398.8 630,399.8 632.6,400.8 635.1,401.7 637.7,402.5 640.2,403.3 642.7,404.1 645.3,404.9 647.8,405.7 650.3,406.4 652.9,407.1 655.4,407.8 657.9,408.4 660.5,409.1 663,409.7 665.6,410.3 668.1,410.9 670.6,411.5 673.2,412 675.7,412.6 678.2,413.1 680.8,413.6 683.3,414.1 685.8,414.6 688.4,415.1 690.9,415.6 693.5,416 696,416.5 698.5,416.9 701.1,417.3 703.6,417.7 706.1,418.1 708.7,418.4 711.2,418.8 713.7,419.1" stroke="#ff2a2a" stroke-width="2.6"/>
<polyline points="140.5,425.6 143,425.6 145.6,425.6 148.1,425.5 150.6,425.5 153.2,425.5 155.7,425.5 158.3,425.5 160.8,425.5 163.3,425.4 165.9,425.4 168.4,425.4 170.9,425.3 173.5,425.3 176,425.2 178.5,425.2 181.1,425.1 183.6,425 186.2,424.9 188.7,424.9 191.2,424.8 193.8,424.6 196.3,424.5 198.8,424.4 201.4,424.2 203.9,424.1 206.4,423.9 209,423.7 211.5,423.5 214.1,423.2 216.6,422.9 219.1,422.7 221.7,422.3 224.2,422 226.7,421.6 229.3,421.2 231.8,420.8 234.4,420.3 236.9,419.8 239.4,419.3 242,418.7 244.5,418.1 247,417.4 249.6,416.7 252.1,416 254.6,415.2 257.2,414.3 259.7,413.5 262.3,412.5 264.8,411.6 267.3,410.6 269.9,409.6 272.4,408.5 274.9,407.4 277.5,406.3 280,405.1 282.5,403.9 285.1,402.8 287.6,401.5 290.2,400.3 292.7,399.1 295.2,397.8 297.8,396.6 300.3,395.3 302.8,394 305.4,392.7 307.9,391.4 310.4,390.1 313,388.8 315.5,387.4 318.1,386.1 320.6,384.7 323.1,383.3 325.7,381.9 328.2,380.5 330.7,379.1 333.3,377.8 335.8,376.4 338.3,375.1 340.9,373.8 343.4,372.5 346,371.3 348.5,370.1 351,369 353.6,367.9 356.1,366.9 358.6,366 361.2,365.2 363.7,364.4 366.2,363.8 368.8,363.3 371.3,362.9 373.9,362.6 376.4,362.5 378.9,362.4 381.5,362.5 384,362.7 386.5,363 389.1,363.2 391.6,363.3 394.1,363.3 396.7,363.1 399.2,362.6 401.8,361.7 404.3,360.2 406.8,358.2 409.4,355.3 411.9,351.6 414.4,346.9 417,341.2 419.5,334.2 422.1,326.1 424.6,316.8 427.1,306.4 429.7,294.9 432.2,282.5 434.7,269.4 437.3,255.9 439.8,242.3 442.3,228.9 444.9,216.3 447.4,204.7 450,194.5 452.5,186.1 455,179.8 457.6,175.8 460.1,174.3 462.6,174.7 465.2,176.3 467.7,179.1 470.2,183 472.8,187.8 475.3,193.6 477.9,200.1 480.4,207.2 482.9,214.8 485.5,222.9 488,231.1 490.5,239.4 493.1,247.7 495.6,255.8 498.1,263.7 500.7,271.2 503.2,278.3 505.8,284.9 508.3,291 510.8,296.6 513.4,301.6 515.9,306.1 518.4,310.1 521,313.6 523.5,316.7 526,319.4 528.6,321.7 531.1,323.8 533.7,325.6 536.2,327.2 538.7,328.7 541.3,330.1 543.8,331.4 546.3,332.7 548.9,334.1 551.4,335.5 553.9,336.9 556.5,338.5 559,340.1 561.6,341.8 564.1,343.6 566.6,345.6 569.2,347.5 571.7,349.6 574.2,351.8 576.8,353.9 579.3,356.2 581.9,358.4 584.4,360.7 586.9,362.9 589.5,365.2 592,367.4 594.5,369.6 597.1,371.7 599.6,373.8 602.1,375.8 604.7,377.7 607.2,379.6 609.8,381.4 612.3,383.1 614.8,384.7 617.4,386.3 619.9,387.8 622.4,389.3 625,390.6 627.5,391.9 630,393.2 632.6,394.4 635.1,395.5 637.7,396.6 640.2,397.7 642.7,398.7 645.3,399.7 647.8,400.6 650.3,401.5 652.9,402.4 655.4,403.3 657.9,404.1 660.5,404.9 663,405.7 665.6,406.5 668.1,407.3 670.6,408 673.2,408.7 675.7,409.4 678.2,410.1 680.8,410.8 683.3,411.4 685.8,412.1 688.4,412.7 690.9,413.3 693.5,413.8 696,414.4 698.5,414.9 701.1,415.5 703.6,416 706.1,416.5 708.7,416.9 711.2,417.4 713.7,417.8" stroke="#2a2aff" stroke-width="2.6"/>
<polyline points="140.5,425.6 143,425.6 145.6,425.6 148.1,425.6 150.6,425.5 153.2,425.5 155.7,425.5 158.3,425.5 160.8,425.5 163.3,425.4 165.9,425.4 168.4,425.4 170.9,425.3 173.5,425.3 176,425.2 178.5,425.2 181.1,425.1 183.6,425 186.2,425 188.7,424.9 191.2,424.8 193.8,424.7 196.3,424.5 198.8,424.4 201.4,424.2 203.9,424.1 206.4,423.9 209,423.7 211.5,423.5 214.1,423.2 216.6,423 219.1,422.7 221.7,422.4 224.2,422.1 226.7,421.7 229.3,421.3 231.8,420.9 234.4,420.4 236.9,419.9 239.4,419.4 242,418.8 244.5,418.2 247,417.5 249.6,416.9 252.1,416.1 254.6,415.4 257.2,414.5 259.7,413.7 262.3,412.8 264.8,411.9 267.3,410.9 269.9,409.9 272.4,408.9 274.9,407.9 277.5,406.8 280,405.7 282.5,404.6 285.1,403.5 287.6,402.4 290.2,401.3 292.7,400.1 295.2,399 297.8,397.9 300.3,396.8 302.8,395.6 305.4,394.5 307.9,393.3 310.4,392.1 313,390.9 315.5,389.7 318.1,388.5 320.6,387.3 323.1,386.1 325.7,384.8 328.2,383.6 330.7,382.3 333.3,381.1 335.8,379.9 338.3,378.7 340.9,377.5 343.4,376.3 346,375.2 348.5,374.1 351,373.1 353.6,372.1 356.1,371.2 358.6,370.4 361.2,369.6 363.7,369 366.2,368.4 368.8,367.9 371.3,367.6 373.9,367.3 376.4,367.2 378.9,367.2 381.5,367.3 384,367.5 386.5,367.8 389.1,368 391.6,368.1 394.1,368.1 396.7,367.9 399.2,367.3 401.8,366.3 404.3,364.8 406.8,362.6 409.4,359.6 411.9,355.7 414.4,350.7 417,344.6 419.5,337.2 422.1,328.4 424.6,318.4 427.1,307 429.7,294.5 432.2,280.8 434.7,266.3 437.3,251.2 439.8,235.9 442.3,220.8 444.9,206.2 447.4,192.6 450,180.5 452.5,170.2 455,162.2 457.6,156.7 460.1,153.9 462.6,153.7 465.2,154.8 467.7,157.3 470.2,161.1 472.8,166 475.3,171.9 477.9,178.7 480.4,186.3 482.9,194.5 485.5,203.1 488,212.1 490.5,221.2 493.1,230.3 495.6,239.3 498.1,248 500.7,256.4 503.2,264.3 505.8,271.7 508.3,278.6 510.8,284.9 513.4,290.6 515.9,295.7 518.4,300.2 521,304.2 523.5,307.7 526,310.7 528.6,313.4 531.1,315.7 533.7,317.7 536.2,319.5 538.7,321.1 541.3,322.7 543.8,324.1 546.3,325.5 548.9,327 551.4,328.5 553.9,330 556.5,331.7 559,333.4 561.6,335.2 564.1,337.2 566.6,339.2 569.2,341.4 571.7,343.6 574.2,345.9 576.8,348.3 579.3,350.7 581.9,353.1 584.4,355.5 586.9,358 589.5,360.4 592,362.8 594.5,365.2 597.1,367.5 599.6,369.7 602.1,371.9 604.7,374 607.2,376 609.8,378 612.3,379.8 614.8,381.6 617.4,383.3 619.9,385 622.4,386.5 625,388 627.5,389.4 630,390.8 632.6,392 635.1,393.3 637.7,394.5 640.2,395.6 642.7,396.7 645.3,397.8 647.8,398.8 650.3,399.8 652.9,400.7 655.4,401.7 657.9,402.6 660.5,403.4 663,404.3 665.6,405.1 668.1,406 670.6,406.8 673.2,407.5 675.7,408.3 678.2,409 680.8,409.8 683.3,410.5 685.8,411.1 688.4,411.8 690.9,412.4 693.5,413.1 696,413.7 698.5,414.3 701.1,414.8 703.6,415.4 706.1,415.9 708.7,416.4 711.2,416.9 713.7,417.4" stroke="#ff22ff" stroke-width="2.6"/>
<polyline points="140.5,425.6 143,425.6 145.6,425.6 148.1,425.6 150.6,425.5 153.2,425.5 155.7,425.5 158.3,425.5 160.8,425.5 163.3,425.4 165.9,425.4 168.4,425.4 170.9,425.3 173.5,425.3 176,425.2 178.5,425.2 181.1,425.1 183.6,425 186.2,425 188.7,424.9 191.2,424.8 193.8,424.7 196.3,424.6 198.8,424.4 201.4,424.3 203.9,424.1 206.4,423.9 209,423.7 211.5,423.5 214.1,423.3 216.6,423 219.1,422.8 221.7,422.5 224.2,422.1 226.7,421.8 229.3,421.4 231.8,421 234.4,420.5 236.9,420 239.4,419.5 242,418.9 244.5,418.3 247,417.7 249.6,417 252.1,416.3 254.6,415.6 257.2,414.8 259.7,414 262.3,413.1 264.8,412.2 267.3,411.3 269.9,410.4 272.4,409.4 274.9,408.4 277.5,407.4 280,406.4 282.5,405.4 285.1,404.4 287.6,403.4 290.2,402.4 292.7,401.4 295.2,400.4 297.8,399.4 300.3,398.5 302.8,397.5 305.4,396.5 307.9,395.5 310.4,394.5 313,393.5 315.5,392.5 318.1,391.5 320.6,390.4 323.1,389.4 325.7,388.3 328.2,387.2 330.7,386.2 333.3,385.1 335.8,384 338.3,383 340.9,381.9 343.4,380.9 346,379.9 348.5,379 351,378.1 353.6,377.2 356.1,376.4 358.6,375.7 361.2,375 363.7,374.4 366.2,373.9 368.8,373.5 371.3,373.2 373.9,373 376.4,372.9 378.9,372.9 381.5,373 384,373.2 386.5,373.5 389.1,373.7 391.6,373.8 394.1,373.7 396.7,373.4 399.2,372.8 401.8,371.8 404.3,370.1 406.8,367.8 409.4,364.6 411.9,360.5 414.4,355.2 417,348.7 419.5,340.8 422.1,331.4 424.6,320.6 427.1,308.3 429.7,294.6 432.2,279.6 434.7,263.6 437.3,246.8 439.8,229.6 442.3,212.4 444.9,195.7 447.4,179.9 450,165.6 452.5,153.2 455,143.2 457.6,135.9 460.1,131.6 462.6,130.3 465.2,131 467.7,133.1 470.2,136.6 472.8,141.5 475.3,147.5 477.9,154.7 480.4,162.7 482.9,171.4 485.5,180.8 488,190.5 490.5,200.5 493.1,210.5 495.6,220.4 498.1,230.1 500.7,239.5 503.2,248.4 505.8,256.7 508.3,264.4 510.8,271.6 513.4,278 515.9,283.8 518.4,289 521,293.5 523.5,297.5 526,300.9 528.6,303.9 531.1,306.5 533.7,308.8 536.2,310.8 538.7,312.7 541.3,314.3 543.8,315.9 546.3,317.5 548.9,319.1 551.4,320.7 553.9,322.3 556.5,324.1 559,325.9 561.6,327.9 564.1,330 566.6,332.2 569.2,334.5 571.7,336.9 574.2,339.4 576.8,342 579.3,344.6 581.9,347.2 584.4,349.8 586.9,352.5 589.5,355.1 592,357.7 594.5,360.3 597.1,362.8 599.6,365.2 602.1,367.6 604.7,369.9 607.2,372.1 609.8,374.2 612.3,376.2 614.8,378.2 617.4,380 619.9,381.8 622.4,383.5 625,385.1 627.5,386.6 630,388.1 632.6,389.5 635.1,390.8 637.7,392.1 640.2,393.3 642.7,394.5 645.3,395.6 647.8,396.7 650.3,397.8 652.9,398.8 655.4,399.8 657.9,400.8 660.5,401.8 663,402.7 665.6,403.6 668.1,404.5 670.6,405.4 673.2,406.2 675.7,407 678.2,407.8 680.8,408.6 683.3,409.4 685.8,410.1 688.4,410.8 690.9,411.5 693.5,412.2 696,412.9 698.5,413.5 701.1,414.1 703.6,414.7 706.1,415.3 708.7,415.8 711.2,416.4 713.7,416.9" stroke="#0f8f1f" stroke-width="2.6"/>
<polyline points="140.5,425.6 143,425.6 145.6,425.6 148.1,425.6 150.6,425.5 153.2,425.5 155.7,425.5 158.3,425.5 160.8,425.5 163.3,425.4 165.9,425.4 168.4,425.4 170.9,425.3 173.5,425.3 176,425.2 178.5,425.2 181.1,425.1 183.6,425.1 186.2,425 188.7,424.9 191.2,424.8 193.8,424.7 196.3,424.6 198.8,424.4 201.4,424.3 203.9,424.1 206.4,424 209,423.8 211.5,423.6 214.1,423.3 216.6,423.1 219.1,422.8 221.7,422.5 224.2,422.2 226.7,421.8 229.3,421.5 231.8,421 234.4,420.6 236.9,420.1 239.4,419.6 242,419.1 244.5,418.5 247,417.9 249.6,417.2 252.1,416.5 254.6,415.8 257.2,415 259.7,414.3 262.3,413.4 264.8,412.6 267.3,411.7 269.9,410.8 272.4,409.9 274.9,409 277.5,408 280,407.1 282.5,406.2 285.1,405.3 287.6,404.4 290.2,403.5 292.7,402.6 295.2,401.8 297.8,400.9 300.3,400.1 302.8,399.3 305.4,398.5 307.9,397.7 310.4,396.8 313,396 315.5,395.1 318.1,394.3 320.6,393.4 323.1,392.5 325.7,391.6 328.2,390.7 330.7,389.8 333.3,388.9 335.8,388 338.3,387.1 340.9,386.2 343.4,385.3 346,384.4 348.5,383.6 351,382.8 353.6,382 356.1,381.3 358.6,380.7 361.2,380.1 363.7,379.6 366.2,379.1 368.8,378.8 371.3,378.5 373.9,378.3 376.4,378.3 378.9,378.3 381.5,378.4 384,378.6 386.5,378.8 389.1,379 391.6,379 394.1,378.9 396.7,378.6 399.2,377.9 401.8,376.7 404.3,375 406.8,372.5 409.4,369.1 411.9,364.8 414.4,359.2 417,352.4 419.5,344.2 422.1,334.4 424.6,323.1 427.1,310.3 429.7,296 432.2,280.4 434.7,263.7 437.3,246.1 439.8,228.2 442.3,210.2 444.9,192.7 447.4,176.3 450,161.3 452.5,148.3 455,137.8 457.6,130.1 460.1,125.5 462.6,124.1 465.2,124.7 467.7,126.8 470.2,130.4 472.8,135.3 475.3,141.5 477.9,148.8 480.4,157.1 482.9,166.1 485.5,175.8 488,185.8 490.5,196.1 493.1,206.4 495.6,216.6 498.1,226.6 500.7,236.2 503.2,245.4 505.8,254 508.3,261.9 510.8,269.2 513.4,275.8 515.9,281.8 518.4,287 521,291.7 523.5,295.7 526,299.2 528.6,302.3 531.1,304.9 533.7,307.2 536.2,309.2 538.7,311 541.3,312.7 543.8,314.2 546.3,315.8 548.9,317.3 551.4,318.9 553.9,320.6 556.5,322.3 559,324.2 561.6,326.2 564.1,328.3 566.6,330.5 569.2,332.8 571.7,335.2 574.2,337.8 576.8,340.4 579.3,343 581.9,345.7 584.4,348.4 586.9,351.1 589.5,353.8 592,356.5 594.5,359.1 597.1,361.6 599.6,364.1 602.1,366.6 604.7,368.9 607.2,371.1 609.8,373.3 612.3,375.4 614.8,377.3 617.4,379.2 619.9,381 622.4,382.7 625,384.4 627.5,385.9 630,387.4 632.6,388.9 635.1,390.2 637.7,391.5 640.2,392.8 642.7,394 645.3,395.1 647.8,396.3 650.3,397.4 652.9,398.4 655.4,399.4 657.9,400.4 660.5,401.4 663,402.4 665.6,403.3 668.1,404.2 670.6,405.1 673.2,405.9 675.7,406.8 678.2,407.6 680.8,408.4 683.3,409.2 685.8,409.9 688.4,410.7 690.9,411.4 693.5,412.1 696,412.7 698.5,413.4 701.1,414 703.6,414.6 706.1,415.2 708.7,415.8 711.2,416.3 713.7,416.8" stroke="#22228f" stroke-width="2.6"/>
<polyline points="140.5,425.6 143,425.6 145.6,425.6 148.1,425.6 150.6,425.5 153.2,425.5 155.7,425.5 158.3,425.5 160.8,425.5 163.3,425.4 165.9,425.4 168.4,425.4 170.9,425.3 173.5,425.3 176,425.2 178.5,425.2 181.1,425.1 183.6,425.1 186.2,425 188.7,424.9 191.2,424.8 193.8,424.7 196.3,424.6 198.8,424.5 201.4,424.3 203.9,424.2 206.4,424 209,423.8 211.5,423.6 214.1,423.4 216.6,423.1 219.1,422.8 221.7,422.5 224.2,422.2 226.7,421.9 229.3,421.5 231.8,421.1 234.4,420.7 236.9,420.2 239.4,419.7 242,419.1 244.5,418.6 247,418 249.6,417.3 252.1,416.6 254.6,415.9 257.2,415.2 259.7,414.4 262.3,413.6 264.8,412.8 267.3,411.9 269.9,411.1 272.4,410.2 274.9,409.3 277.5,408.4 280,407.5 282.5,406.6 285.1,405.8 287.6,404.9 290.2,404.1 292.7,403.3 295.2,402.6 297.8,401.8 300.3,401.1 302.8,400.3 305.4,399.6 307.9,398.9 310.4,398.2 313,397.4 315.5,396.7 318.1,395.9 320.6,395.2 323.1,394.4 325.7,393.6 328.2,392.8 330.7,391.9 333.3,391.1 335.8,390.3 338.3,389.4 340.9,388.6 343.4,387.8 346,387 348.5,386.3 351,385.5 353.6,384.8 356.1,384.2 358.6,383.6 361.2,383.1 363.7,382.6 366.2,382.2 368.8,381.9 371.3,381.6 373.9,381.5 376.4,381.5 378.9,381.5 381.5,381.6 384,381.8 386.5,382.1 389.1,382.2 391.6,382.3 394.1,382.3 396.7,382 399.2,381.3 401.8,380.2 404.3,378.6 406.8,376.2 409.4,373 411.9,368.8 414.4,363.4 417,356.7 419.5,348.6 422.1,338.9 424.6,327.7 427.1,314.9 429.7,300.5 432.2,284.7 434.7,267.7 437.3,249.7 439.8,231.2 442.3,212.5 444.9,194 447.4,176.5 450,160.3 452.5,146 455,134.2 457.6,125.1 460.1,119.2 462.6,116.5 465.2,116.5 467.7,118.1 470.2,121.2 472.8,125.8 475.3,131.7 477.9,138.8 480.4,146.9 482.9,155.9 485.5,165.6 488,175.8 490.5,186.3 493.1,196.9 495.6,207.5 498.1,217.8 500.7,227.9 503.2,237.4 505.8,246.5 508.3,254.9 510.8,262.6 513.4,269.7 515.9,276 518.4,281.7 521,286.7 523.5,291.1 526,294.9 528.6,298.2 531.1,301 533.7,303.5 536.2,305.8 538.7,307.7 541.3,309.5 543.8,311.2 546.3,312.9 548.9,314.5 551.4,316.2 553.9,317.9 556.5,319.7 559,321.7 561.6,323.7 564.1,325.9 566.6,328.2 569.2,330.6 571.7,333.1 574.2,335.7 576.8,338.3 579.3,341 581.9,343.8 584.4,346.6 586.9,349.4 589.5,352.1 592,354.8 594.5,357.5 597.1,360.2 599.6,362.7 602.1,365.2 604.7,367.6 607.2,369.9 609.8,372.1 612.3,374.2 614.8,376.3 617.4,378.2 619.9,380 622.4,381.8 625,383.5 627.5,385.1 630,386.6 632.6,388 635.1,389.4 637.7,390.8 640.2,392.1 642.7,393.3 645.3,394.5 647.8,395.6 650.3,396.8 652.9,397.8 655.4,398.9 657.9,399.9 660.5,400.9 663,401.9 665.6,402.8 668.1,403.7 670.6,404.6 673.2,405.5 675.7,406.4 678.2,407.2 680.8,408 683.3,408.8 685.8,409.6 688.4,410.4 690.9,411.1 693.5,411.8 696,412.5 698.5,413.2 701.1,413.8 703.6,414.4 706.1,415 708.7,415.6 711.2,416.2 713.7,416.7" stroke="#9030ff" stroke-width="2.6"/>
<polyline points="140.5,425.6 143,425.6 145.6,425.6 148.1,425.6 150.6,425.5 153.2,425.5 155.7,425.5 158.3,425.5 160.8,425.5 163.3,425.4 165.9,425.4 168.4,425.4 170.9,425.3 173.5,425.3 176,425.2 178.5,425.2 181.1,425.1 183.6,425.1 186.2,425 188.7,424.9 191.2,424.8 193.8,424.7 196.3,424.6 198.8,424.5 201.4,424.3 203.9,424.2 206.4,424 209,423.8 211.5,423.6 214.1,423.4 216.6,423.1 219.1,422.9 221.7,422.6 224.2,422.3 226.7,421.9 229.3,421.5 231.8,421.1 234.4,420.7 236.9,420.3 239.4,419.8 242,419.2 244.5,418.7 247,418.1 249.6,417.4 252.1,416.8 254.6,416.1 257.2,415.3 259.7,414.6 262.3,413.8 264.8,413 267.3,412.1 269.9,411.3 272.4,410.5 274.9,409.6 277.5,408.7 280,407.9 282.5,407.1 285.1,406.3 287.6,405.5 290.2,404.8 292.7,404 295.2,403.3 297.8,402.7 300.3,402 302.8,401.4 305.4,400.8 307.9,400.1 310.4,399.5 313,398.9 315.5,398.2 318.1,397.6 320.6,396.9 323.1,396.2 325.7,395.5 328.2,394.8 330.7,394.1 333.3,393.3 335.8,392.6 338.3,391.8 340.9,391.1 343.4,390.4 346,389.7 348.5,389 351,388.3 353.6,387.7 356.1,387.1 358.6,386.5 361.2,386.1 363.7,385.6 366.2,385.3 368.8,385 371.3,384.8 373.9,384.7 376.4,384.6 378.9,384.7 381.5,384.8 384,385 386.5,385.3 389.1,385.4 391.6,385.5 394.1,385.4 396.7,385.1 399.2,384.5 401.8,383.4 404.3,381.7 406.8,379.4 409.4,376.1 411.9,371.9 414.4,366.5 417,359.8 419.5,351.7 422.1,342 424.6,330.8 427.1,318 429.7,303.6 432.2,287.9 434.7,270.8 437.3,252.9 439.8,234.3 442.3,215.6 444.9,197.2 447.4,179.7 450,163.5 452.5,149.2 455,137.3 457.6,128.3 460.1,122.3 462.6,119.6 465.2,119.6 467.7,121.1 470.2,124.2 472.8,128.7 475.3,134.5 477.9,141.6 480.4,149.7 482.9,158.6 485.5,168.2 488,178.4 490.5,188.8 493.1,199.3 495.6,209.8 498.1,220.1 500.7,230.1 503.2,239.6 505.8,248.6 508.3,256.9 510.8,264.6 513.4,271.6 515.9,277.9 518.4,283.5 521,288.5 523.5,292.8 526,296.5 528.6,299.8 531.1,302.6 533.7,305.1 536.2,307.3 538.7,309.2 541.3,311 543.8,312.6 546.3,314.2 548.9,315.8 551.4,317.5 553.9,319.2 556.5,321 559,322.9 561.6,324.9 564.1,327 566.6,329.3 569.2,331.6 571.7,334.1 574.2,336.6 576.8,339.3 579.3,342 581.9,344.7 584.4,347.4 586.9,350.2 589.5,352.9 592,355.6 594.5,358.3 597.1,360.9 599.6,363.4 602.1,365.9 604.7,368.2 607.2,370.5 609.8,372.7 612.3,374.8 614.8,376.8 617.4,378.7 619.9,380.6 622.4,382.3 625,384 627.5,385.5 630,387.1 632.6,388.5 635.1,389.9 637.7,391.2 640.2,392.5 642.7,393.7 645.3,394.9 647.8,396 650.3,397.1 652.9,398.2 655.4,399.2 657.9,400.2 660.5,401.2 663,402.2 665.6,403.1 668.1,404 670.6,404.9 673.2,405.8 675.7,406.6 678.2,407.5 680.8,408.3 683.3,409.1 685.8,409.8 688.4,410.6 690.9,411.3 693.5,412 696,412.7 698.5,413.3 701.1,414 703.6,414.6 706.1,415.2 708.7,415.8 711.2,416.3 713.7,416.8" stroke="#932a93" stroke-width="2.6"/>
<polyline points="140.5,425.6 143,425.6 145.6,425.6 148.1,425.6 150.6,425.5 153.2,425.5 155.7,425.5 158.3,425.5 160.8,425.5 163.3,425.4 165.9,425.4 168.4,425.4 170.9,425.3 173.5,425.3 176,425.3 178.5,425.2 181.1,425.1 183.6,425.1 186.2,425 188.7,424.9 191.2,424.8 193.8,424.7 196.3,424.6 198.8,424.5 201.4,424.3 203.9,424.2 206.4,424 209,423.8 211.5,423.6 214.1,423.4 216.6,423.2 219.1,422.9 221.7,422.6 224.2,422.3 226.7,422 229.3,421.6 231.8,421.2 234.4,420.8 236.9,420.3 239.4,419.8 242,419.3 244.5,418.8 247,418.2 249.6,417.6 252.1,416.9 254.6,416.2 257.2,415.5 259.7,414.8 262.3,414 264.8,413.2 267.3,412.4 269.9,411.6 272.4,410.8 274.9,410 277.5,409.2 280,408.4 282.5,407.7 285.1,406.9 287.6,406.3 290.2,405.6 292.7,405 295.2,404.4 297.8,403.8 300.3,403.3 302.8,402.8 305.4,402.3 307.9,401.8 310.4,401.3 313,400.8 315.5,400.3 318.1,399.7 320.6,399.2 323.1,398.6 325.7,398.1 328.2,397.5 330.7,396.8 333.3,396.2 335.8,395.6 338.3,395 340.9,394.3 343.4,393.7 346,393.1 348.5,392.5 351,391.9 353.6,391.4 356.1,390.8 358.6,390.4 361.2,389.9 363.7,389.5 366.2,389.2 368.8,389 371.3,388.8 373.9,388.7 376.4,388.7 378.9,388.8 381.5,388.9 384,389.1 386.5,389.3 389.1,389.4 391.6,389.5 394.1,389.4 396.7,389 399.2,388.3 401.8,387.1 404.3,385.4 406.8,382.9 409.4,379.6 411.9,375.1 414.4,369.5 417,362.5 419.5,353.9 422.1,343.7 424.6,331.8 427.1,318.1 429.7,302.7 432.2,285.6 434.7,267 437.3,247.3 439.8,226.8 442.3,205.9 444.9,185.2 447.4,165.2 450,146.5 452.5,129.7 455,115.5 457.6,104.1 460.1,96.2 462.6,91.8 465.2,90.8 467.7,91.8 470.2,94.5 472.8,98.9 475.3,104.7 477.9,112 480.4,120.5 482.9,130 485.5,140.3 488,151.3 490.5,162.6 493.1,174.2 495.6,185.8 498.1,197.2 500.7,208.3 503.2,218.9 505.8,229 508.3,238.4 510.8,247.1 513.4,255.1 515.9,262.2 518.4,268.6 521,274.3 523.5,279.3 526,283.7 528.6,287.4 531.1,290.7 533.7,293.6 536.2,296.1 538.7,298.3 541.3,300.3 543.8,302.2 546.3,304 548.9,305.8 551.4,307.6 553.9,309.5 556.5,311.5 559,313.6 561.6,315.8 564.1,318.1 566.6,320.6 569.2,323.2 571.7,325.9 574.2,328.6 576.8,331.5 579.3,334.5 581.9,337.4 584.4,340.4 586.9,343.4 589.5,346.4 592,349.4 594.5,352.3 597.1,355.1 599.6,357.9 602.1,360.6 604.7,363.2 607.2,365.7 609.8,368.1 612.3,370.4 614.8,372.5 617.4,374.6 619.9,376.6 622.4,378.5 625,380.3 627.5,382.1 630,383.7 632.6,385.3 635.1,386.8 637.7,388.2 640.2,389.6 642.7,390.9 645.3,392.2 647.8,393.5 650.3,394.7 652.9,395.8 655.4,397 657.9,398.1 660.5,399.1 663,400.2 665.6,401.2 668.1,402.2 670.6,403.2 673.2,404.1 675.7,405.1 678.2,406 680.8,406.8 683.3,407.7 685.8,408.5 688.4,409.3 690.9,410.1 693.5,410.9 696,411.6 698.5,412.4 701.1,413.1 703.6,413.7 706.1,414.4 708.7,415 711.2,415.6 713.7,416.2" stroke="#8f2030" stroke-width="2.6"/>
<polyline points="140.5,425.6 143,425.6 145.6,425.6 148.1,425.6 150.6,425.5 153.2,425.5 155.7,425.5 158.3,425.5 160.8,425.5 163.3,425.4 165.9,425.4 168.4,425.4 170.9,425.3 173.5,425.3 176,425.3 178.5,425.2 181.1,425.1 183.6,425.1 186.2,425 188.7,424.9 191.2,424.8 193.8,424.7 196.3,424.6 198.8,424.5 201.4,424.4 203.9,424.2 206.4,424 209,423.9 211.5,423.7 214.1,423.4 216.6,423.2 219.1,422.9 221.7,422.7 224.2,422.4 226.7,422 229.3,421.7 231.8,421.3 234.4,420.9 236.9,420.4 239.4,419.9 242,419.4 244.5,418.9 247,418.3 249.6,417.7 252.1,417 254.6,416.4 257.2,415.7 259.7,415 262.3,414.2 264.8,413.4 267.3,412.7 269.9,411.9 272.4,411.1 274.9,410.3 277.5,409.6 280,408.8 282.5,408.1 285.1,407.5 287.6,406.8 290.2,406.2 292.7,405.7 295.2,405.2 297.8,404.7 300.3,404.2 302.8,403.8 305.4,403.4 307.9,403 310.4,402.6 313,402.2 315.5,401.8 318.1,401.4 320.6,400.9 323.1,400.5 325.7,400 328.2,399.5 330.7,399 333.3,398.5 335.8,397.9 338.3,397.4 340.9,396.8 343.4,396.3 346,395.7 348.5,395.2 351,394.7 353.6,394.2 356.1,393.7 358.6,393.3 361.2,392.9 363.7,392.6 366.2,392.3 368.8,392.1 371.3,391.9 373.9,391.9 376.4,391.9 378.9,391.9 381.5,392.1 384,392.3 386.5,392.4 389.1,392.6 391.6,392.6 394.1,392.5 396.7,392.2 399.2,391.5 401.8,390.4 404.3,388.7 406.8,386.3 409.4,383.1 411.9,378.8 414.4,373.2 417,366.3 419.5,357.9 422.1,347.7 424.6,335.8 427.1,322.1 429.7,306.5 432.2,289.1 434.7,270.1 437.3,249.8 439.8,228.5 442.3,206.7 444.9,184.8 447.4,163.5 450,143.3 452.5,124.9 455,109 457.6,95.9 460.1,86.3 462.6,80.3 465.2,78.2 467.7,78.5 470.2,80.6 472.8,84.5 475.3,90 477.9,97.1 480.4,105.4 482.9,114.9 485.5,125.4 488,136.5 490.5,148.2 493.1,160.2 495.6,172.2 498.1,184.1 500.7,195.8 503.2,207 505.8,217.7 508.3,227.8 510.8,237.1 513.4,245.6 515.9,253.4 518.4,260.3 521,266.5 523.5,272 526,276.8 528.6,280.9 531.1,284.5 533.7,287.7 536.2,290.5 538.7,292.9 541.3,295.2 543.8,297.3 546.3,299.2 548.9,301.2 551.4,303.2 553.9,305.2 556.5,307.2 559,309.4 561.6,311.8 564.1,314.2 566.6,316.8 569.2,319.5 571.7,322.3 574.2,325.2 576.8,328.1 579.3,331.2 581.9,334.3 584.4,337.4 586.9,340.5 589.5,343.6 592,346.7 594.5,349.7 597.1,352.6 599.6,355.5 602.1,358.3 604.7,361 607.2,363.6 609.8,366.1 612.3,368.4 614.8,370.7 617.4,372.9 619.9,375 622.4,376.9 625,378.8 627.5,380.6 630,382.3 632.6,383.9 635.1,385.5 637.7,387 640.2,388.4 642.7,389.8 645.3,391.1 647.8,392.4 650.3,393.6 652.9,394.8 655.4,396 657.9,397.1 660.5,398.3 663,399.3 665.6,400.4 668.1,401.4 670.6,402.4 673.2,403.4 675.7,404.4 678.2,405.3 680.8,406.2 683.3,407.1 685.8,408 688.4,408.8 690.9,409.7 693.5,410.5 696,411.2 698.5,412 701.1,412.7 703.6,413.4 706.1,414.1 708.7,414.7 711.2,415.3 713.7,415.9" stroke="#90901a" stroke-width="2.6"/>
<polyline points="140.5,425.6 143,425.6 145.6,425.6 148.1,425.6 150.6,425.5 153.2,425.5 155.7,425.5 158.3,425.5 160.8,425.5 163.3,425.4 165.9,425.4 168.4,425.4 170.9,425.4 173.5,425.3 176,425.3 178.5,425.2 181.1,425.2 183.6,425.1 186.2,425 188.7,424.9 191.2,424.8 193.8,424.7 196.3,424.6 198.8,424.5 201.4,424.4 203.9,424.2 206.4,424.1 209,423.9 211.5,423.7 214.1,423.5 216.6,423.2 219.1,423 221.7,422.7 224.2,422.4 226.7,422.1 229.3,421.7 231.8,421.3 234.4,420.9 236.9,420.5 239.4,420 242,419.5 244.5,419 247,418.4 249.6,417.8 252.1,417.2 254.6,416.5 257.2,415.9 259.7,415.2 262.3,414.4 264.8,413.7 267.3,413 269.9,412.2 272.4,411.5 274.9,410.7 277.5,410 280,409.3 282.5,408.7 285.1,408.1 287.6,407.5 290.2,407 292.7,406.5 295.2,406.1 297.8,405.7 300.3,405.4 302.8,405.1 305.4,404.8 307.9,404.5 310.4,404.2 313,404 315.5,403.7 318.1,403.4 320.6,403.1 323.1,402.7 325.7,402.4 328.2,402 330.7,401.6 333.3,401.1 335.8,400.7 338.3,400.3 340.9,399.8 343.4,399.4 346,398.9 348.5,398.5 351,398 353.6,397.6 356.1,397.2 358.6,396.8 361.2,396.5 363.7,396.2 366.2,396 368.8,395.8 371.3,395.7 373.9,395.6 376.4,395.7 378.9,395.7 381.5,395.9 384,396.1 386.5,396.2 389.1,396.4 391.6,396.5 394.1,396.4 396.7,396.1 399.2,395.5 401.8,394.5 404.3,393 406.8,390.8 409.4,387.8 411.9,383.8 414.4,378.6 417,372.2 419.5,364.3 422.1,354.7 424.6,343.4 427.1,330.3 429.7,315.4 432.2,298.7 434.7,280.3 437.3,260.5 439.8,239.6 442.3,217.9 444.9,196.1 447.4,174.5 450,154 452.5,135 455,118.1 457.6,104.1 460.1,93.2 462.6,86 465.2,82.6 467.7,82.1 470.2,83.5 472.8,86.7 475.3,91.6 477.9,98 480.4,105.8 482.9,114.8 485.5,124.8 488,135.6 490.5,147 493.1,158.7 495.6,170.6 498.1,182.5 500.7,194.1 503.2,205.4 505.8,216.1 508.3,226.3 510.8,235.8 513.4,244.5 515.9,252.5 518.4,259.6 521,266 523.5,271.7 526,276.7 528.6,281.1 531.1,284.9 533.7,288.2 536.2,291.2 538.7,293.8 541.3,296.2 543.8,298.3 546.3,300.4 548.9,302.4 551.4,304.5 553.9,306.5 556.5,308.6 559,310.8 561.6,313.2 564.1,315.6 566.6,318.2 569.2,320.8 571.7,323.6 574.2,326.5 576.8,329.4 579.3,332.5 581.9,335.5 584.4,338.6 586.9,341.7 589.5,344.7 592,347.8 594.5,350.7 597.1,353.7 599.6,356.5 602.1,359.3 604.7,361.9 607.2,364.5 609.8,366.9 612.3,369.3 614.8,371.5 617.4,373.7 619.9,375.7 622.4,377.6 625,379.5 627.5,381.2 630,382.9 632.6,384.5 635.1,386.1 637.7,387.5 640.2,389 642.7,390.3 645.3,391.6 647.8,392.9 650.3,394.1 652.9,395.3 655.4,396.5 657.9,397.6 660.5,398.7 663,399.7 665.6,400.8 668.1,401.8 670.6,402.8 673.2,403.8 675.7,404.7 678.2,405.7 680.8,406.6 683.3,407.4 685.8,408.3 688.4,409.1 690.9,409.9 693.5,410.7 696,411.5 698.5,412.2 701.1,412.9 703.6,413.6 706.1,414.3 708.7,414.9 711.2,415.5 713.7,416.1" stroke="#3f7fc0" stroke-width="2.6"/>
</g>
<line x1="153" y1="24.3" x2="198.5" y2="24.3" stroke="#000000" stroke-width="2.8" />
<text x="204.5" y="31.6" font-size="20" text-anchor="start" fill="#000" font-family='"Liberation Sans",sans-serif' font-weight="bold" >only donor</text>
<line x1="153" y1="53.9" x2="198.5" y2="53.9" stroke="#ff2a2a" stroke-width="3.2" />
<text x="204.5" y="61.2" font-size="20" text-anchor="start" fill="#000" font-family='"Liberation Sans",sans-serif' font-weight="bold" >2000:1</text>
<line x1="153" y1="83.4" x2="198.5" y2="83.4" stroke="#2a2aff" stroke-width="3.2" />
<text x="204.5" y="90.7" font-size="20" text-anchor="start" fill="#000" font-family='"Liberation Sans",sans-serif' font-weight="bold" >1000:1</text>
<line x1="153" y1="113" x2="198.5" y2="113" stroke="#ff22ff" stroke-width="3.2" />
<text x="204.5" y="120.3" font-size="20" text-anchor="start" fill="#000" font-family='"Liberation Sans",sans-serif' font-weight="bold" >667:1</text>
<line x1="153" y1="142.6" x2="198.5" y2="142.6" stroke="#0f8f1f" stroke-width="3.2" />
<text x="204.5" y="149.9" font-size="20" text-anchor="start" fill="#000" font-family='"Liberation Sans",sans-serif' font-weight="bold" >500:1</text>
<line x1="153" y1="172.2" x2="198.5" y2="172.2" stroke="#22228f" stroke-width="3.2" />
<text x="204.5" y="179.5" font-size="20" text-anchor="start" fill="#000" font-family='"Liberation Sans",sans-serif' font-weight="bold" >400:1</text>
<line x1="153" y1="201.7" x2="198.5" y2="201.7" stroke="#9030ff" stroke-width="3.2" />
<text x="204.5" y="209" font-size="20" text-anchor="start" fill="#000" font-family='"Liberation Sans",sans-serif' font-weight="bold" >334:1</text>
<line x1="153" y1="231.3" x2="198.5" y2="231.3" stroke="#932a93" stroke-width="3.2" />
<text x="204.5" y="238.6" font-size="20" text-anchor="start" fill="#000" font-family='"Liberation Sans",sans-serif' font-weight="bold" >285:1</text>
<line x1="153" y1="260.9" x2="198.5" y2="260.9" stroke="#8f2030" stroke-width="3.2" />
<text x="204.5" y="268.2" font-size="20" text-anchor="start" fill="#000" font-family='"Liberation Sans",sans-serif' font-weight="bold" >250:1</text>
<line x1="153" y1="290.4" x2="198.5" y2="290.4" stroke="#90901a" stroke-width="3.2" />
<text x="204.5" y="297.7" font-size="20" text-anchor="start" fill="#000" font-family='"Liberation Sans",sans-serif' font-weight="bold" >222:1</text>
<line x1="153" y1="320" x2="198.5" y2="320" stroke="#3f7fc0" stroke-width="3.2" />
<text x="204.5" y="327.3" font-size="20" text-anchor="start" fill="#000" font-family='"Liberation Sans",sans-serif' font-weight="bold" >200:1</text>
<text x="463" y="44" font-size="19.5" text-anchor="middle" fill="#2b2b2b" font-family='"Liberation Sans",sans-serif' font-weight="bold" >Acceptor</text>
<text x="463" y="69" font-size="19.5" text-anchor="middle" fill="#2b2b2b" font-family='"Liberation Sans",sans-serif' font-weight="bold" >emission</text>
<text x="368" y="298" font-size="19.5" text-anchor="middle" fill="#2b2b2b" font-family='"Liberation Sans",sans-serif' font-weight="bold" >Donor</text>
<text x="370" y="323" font-size="19.5" text-anchor="middle" fill="#2b2b2b" font-family='"Liberation Sans",sans-serif' font-weight="bold" >emission</text>
<line x1="421" y1="183" x2="421" y2="97" stroke="#111" stroke-width="2" />
<polygon points="421,91 417.4,102 424.6,102" fill="#111"/>
<line x1="311.5" y1="312" x2="311.5" y2="361" stroke="#111" stroke-width="2" />
<polygon points="311.5,367 307.9,356 315.1,356" fill="#111"/>
<text transform="translate(-0.8,43.2) scale(1,1)" font-size="54" fill="#000" font-family='"Liberation Sans",sans-serif' font-weight="bold">(a)</text>
<rect x="609.6" y="10.9" width="91.4" height="166.8" fill="#000" stroke="none" stroke-width="0" />
<g clip-path="url(#vc1)">
<g filter="url(#vb)">
<rect x="623.8" y="17.7" width="55.8" height="54.9" rx="7" fill="url(#vn1)"/>
<line x1="622.3" y1="27.6" x2="681" y2="27.6" stroke="#6cc4ff" stroke-width="2.4" stroke-opacity="0.55"/>
<line x1="622.3" y1="39.3" x2="681" y2="39.3" stroke="#6cc4ff" stroke-width="2.4" stroke-opacity="0.55"/>
<line x1="622.3" y1="50" x2="681" y2="50" stroke="#6cc4ff" stroke-width="2.4" stroke-opacity="0.55"/>
<line x1="633.8" y1="20.7" x2="633.8" y2="54.6" stroke="#6cc4ff" stroke-width="2.6" stroke-opacity="0.6"/>
<line x1="647.2" y1="20.7" x2="647.2" y2="54.6" stroke="#6cc4ff" stroke-width="2.6" stroke-opacity="0.6"/>
<line x1="657.2" y1="20.7" x2="657.2" y2="54.6" stroke="#6cc4ff" stroke-width="2.6" stroke-opacity="0.6"/>
<line x1="671.7" y1="20.7" x2="671.7" y2="54.6" stroke="#6cc4ff" stroke-width="2.6" stroke-opacity="0.6"/>
<path d="M621.8,61.6 L681.5,61.6 Q689.1,62.9 689.1,69.9 L689.1,163 Q689.1,174 678.1,174 L627.9,174 Q616.9,174 616.9,163 L616.9,69.9 Q616.9,62.9 621.8,61.6 Z" fill="url(#vg1)"/>
<rect x="616.9" y="69.9" width="72.2" height="93.1" fill="url(#vs1)"/>
<path d="M617.9,109.5 Q653,120.5 688.1,109.5" fill="none" stroke="#a8fff0" stroke-width="4.5" stroke-linecap="round"/>
<path d="M619.9,159.9 Q653,165.7 686.1,159.9" fill="none" stroke="#8ff4f4" stroke-width="3" stroke-linecap="round"/>
<ellipse cx="636.1" cy="154.3" rx="2.6" ry="4.2" fill="#e8ffff"/>
<ellipse cx="646.2" cy="79.3" rx="1.6" ry="2.6" fill="#bff4ff"/>
<ellipse cx="661.7" cy="70.1" rx="1.5" ry="2.4" fill="#e0fbff"/>
</g>
<text transform="translate(611.8,60.3) scale(0.93,1)" font-size="28" font-family='"DejaVu Sans",sans-serif' font-weight="bold" fill="#fff" stroke="#fff" stroke-width="0.7" filter="url(#tb)">donor</text>
</g>
<rect x="613.2" y="187.3" width="85.7" height="167.7" fill="#000" stroke="none" stroke-width="0" />
<g clip-path="url(#vc2)">
<g filter="url(#vb)">
<rect x="629.2" y="192.8" width="53" height="45.6" rx="7" fill="url(#vn2)"/>
<path d="M627.2,227.5 L684.3,227.5 Q692.3,229.3 692.3,239.3 L692.3,336.3 Q692.3,347.3 681.3,347.3 L631.1,347.3 Q620.1,347.3 620.1,336.3 L620.1,239.3 Q620.1,229.3 627.2,227.5 Z" fill="url(#vg2)"/>
<rect x="620.1" y="239.3" width="72.2" height="97" fill="url(#vs2)"/>
<path d="M623.1,333 Q656.2,338.9 689.3,333" fill="none" stroke="#c8f070" stroke-width="3" stroke-linecap="round"/>
<ellipse cx="634.6" cy="328.2" rx="2" ry="3.2" fill="#e0ffb0"/>
<ellipse cx="669.8" cy="242.6" rx="1.5" ry="2.4" fill="#b0f0c0"/>
</g>
<text transform="translate(616.8,223.1) scale(1,1)" font-size="27.5" font-family='"DejaVu Sans",sans-serif' font-weight="bold" fill="#fff" stroke="#fff" stroke-width="0.7" filter="url(#tb)">200:1</text>
</g>
<rect x="138.6" y="532.8" width="579.3" height="432" fill="none" stroke="#000" stroke-width="3.3" />
<line x1="164.2" y1="964.8" x2="164.2" y2="973.8" stroke="#000" stroke-width="2.4" />
<text x="164.2" y="999.2" font-size="24" text-anchor="middle" fill="#000" font-family='"Liberation Sans",sans-serif' font-weight="bold" >400</text>
<line x1="198.8" y1="964.8" x2="198.8" y2="969.8" stroke="#000" stroke-width="2.4" />
<line x1="233.4" y1="964.8" x2="233.4" y2="973.8" stroke="#000" stroke-width="2.4" />
<text x="233.4" y="999.2" font-size="24" text-anchor="middle" fill="#000" font-family='"Liberation Sans",sans-serif' font-weight="bold" >450</text>
<line x1="268.1" y1="964.8" x2="268.1" y2="969.8" stroke="#000" stroke-width="2.4" />
<line x1="302.7" y1="964.8" x2="302.7" y2="973.8" stroke="#000" stroke-width="2.4" />
<text x="302.7" y="999.2" font-size="24" text-anchor="middle" fill="#000" font-family='"Liberation Sans",sans-serif' font-weight="bold" >500</text>
<line x1="337.3" y1="964.8" x2="337.3" y2="969.8" stroke="#000" stroke-width="2.4" />
<line x1="371.9" y1="964.8" x2="371.9" y2="973.8" stroke="#000" stroke-width="2.4" />
<text x="371.9" y="999.2" font-size="24" text-anchor="middle" fill="#000" font-family='"Liberation Sans",sans-serif' font-weight="bold" >550</text>
<line x1="406.6" y1="964.8" x2="406.6" y2="969.8" stroke="#000" stroke-width="2.4" />
<line x1="441.2" y1="964.8" x2="441.2" y2="973.8" stroke="#000" stroke-width="2.4" />
<text x="441.2" y="999.2" font-size="24" text-anchor="middle" fill="#000" font-family='"Liberation Sans",sans-serif' font-weight="bold" >600</text>
<line x1="475.8" y1="964.8" x2="475.8" y2="969.8" stroke="#000" stroke-width="2.4" />
<line x1="510.4" y1="964.8" x2="510.4" y2="973.8" stroke="#000" stroke-width="2.4" />
<text x="510.4" y="999.2" font-size="24" text-anchor="middle" fill="#000" font-family='"Liberation Sans",sans-serif' font-weight="bold" >650</text>
<line x1="545.1" y1="964.8" x2="545.1" y2="969.8" stroke="#000" stroke-width="2.4" />
<line x1="579.7" y1="964.8" x2="579.7" y2="973.8" stroke="#000" stroke-width="2.4" />
<text x="579.7" y="999.2" font-size="24" text-anchor="middle" fill="#000" font-family='"Liberation Sans",sans-serif' font-weight="bold" >700</text>
<line x1="614.3" y1="964.8" x2="614.3" y2="969.8" stroke="#000" stroke-width="2.4" />
<line x1="649" y1="964.8" x2="649" y2="973.8" stroke="#000" stroke-width="2.4" />
<text x="649" y="999.2" font-size="24" text-anchor="middle" fill="#000" font-family='"Liberation Sans",sans-serif' font-weight="bold" >750</text>
<line x1="683.6" y1="964.8" x2="683.6" y2="969.8" stroke="#000" stroke-width="2.4" />
<line x1="718.2" y1="964.8" x2="718.2" y2="973.8" stroke="#000" stroke-width="2.4" />
<text x="718.2" y="999.2" font-size="24" text-anchor="middle" fill="#000" font-family='"Liberation Sans",sans-serif' font-weight="bold" >800</text>
<text x="428" y="1044" font-size="25" text-anchor="middle" fill="#000" font-family='"Liberation Sans",sans-serif' font-weight="bold" >Wavelength/(nm)</text>
<text transform="translate(106,722) rotate(-90)" font-size="25" text-anchor="middle" fill="#000" font-family='"Liberation Sans",sans-serif' font-weight="bold">Intensity</text>
<g clip-path="url(#clipd)" fill="none" stroke-linejoin="round" stroke-linecap="round">
<polyline points="138.6,955.6 140.7,955.3 142.8,954.9 144.8,954.5 146.9,953.9 149,953.2 151.1,952.5 153.1,951.7 155.2,950.8 157.3,950 159.4,949.2 161.5,948.5 163.5,948 165.6,947.7 167.7,947.6 169.8,947.6 171.8,947.9 173.9,948.4 176,948.9 178.1,949.6 180.2,950.2 182.2,950.8 184.3,951.3 186.4,951.8 188.5,952.1 190.5,952.3 192.6,952.3 194.7,952.3 196.8,952.1 198.8,951.9 200.9,951.6 203,951.2 205.1,950.7 207.2,950.2 209.2,949.6 211.3,948.9 213.4,948.2 215.5,947.4 217.5,946.6 219.6,945.7 221.7,944.7 223.8,943.6 225.9,942.4 227.9,941.2 230,939.8 232.1,938.4 234.2,936.9 236.2,935.2 238.3,933.6 240.4,931.8 242.5,930 244.6,928.2 246.6,926.3 248.7,924.5 250.8,922.7 252.9,920.9 254.9,919.2 257,917.6 259.1,916.1 261.2,914.6 263.2,913.3 265.3,912 267.4,910.9 269.5,909.8 271.6,908.7 273.6,907.8 275.7,906.8 277.8,906 279.9,905.1 281.9,904.3 284,903.4 286.1,902.6 288.2,901.9 290.3,901.1 292.3,900.4 294.4,899.8 296.5,899.2 298.6,898.6 300.6,898.1 302.7,897.7 304.8,897.4 306.9,897.2 309,897 311,897 313.1,897 315.2,897.1 317.3,897.2 319.3,897.3 321.4,897.5 323.5,897.7 325.6,897.9 327.7,898.2 329.7,898.5 331.8,898.8 333.9,899.2 336,899.6 338,900.1 340.1,900.6 342.2,901.1 344.3,901.7 346.3,902.2 348.4,902.8 350.5,903.5 352.6,904.1 354.7,904.8 356.7,905.5 358.8,906.3 360.9,907 363,907.8 365,908.6 367.1,909.4 369.2,910.2 371.3,911.1 373.4,911.9 375.4,912.8 377.5,913.7 379.6,914.6 381.7,915.4 383.7,916.3 385.8,917.2 387.9,918.1 390,919.1 392.1,920 394.1,920.9 396.2,921.8 398.3,922.7 400.4,923.6 402.4,924.5 404.5,925.4 406.6,926.2 408.7,927.1 410.8,928 412.8,928.8 414.9,929.7 417,930.5 419.1,931.3 421.1,932.1 423.2,932.9 425.3,933.7 427.4,934.5 429.4,935.3 431.5,936 433.6,936.7 435.7,937.4 437.8,938.1 439.8,938.8 441.9,939.5 444,940.1 446.1,940.8 448.1,941.4 450.2,942 452.3,942.6 454.4,943.1 456.5,943.7 458.5,944.2 460.6,944.7 462.7,945.2 464.8,945.7 466.8,946.2 468.9,946.7 471,947.1 473.1,947.5 475.2,948 477.2,948.4 479.3,948.8 481.4,949.1 483.5,949.5 485.5,949.8 487.6,950.2 489.7,950.5 491.8,950.8 493.9,951.1 495.9,951.4 498,951.7 500.1,952 502.2,952.2 504.2,952.5 506.3,952.7 508.4,953 510.5,953.2 512.5,953.4 514.6,953.6 516.7,953.8 518.8,954 520.9,954.2 522.9,954.4 525,954.6 527.1,954.8 529.2,954.9 531.2,955.1 533.3,955.2 535.4,955.4 537.5,955.5 539.6,955.7 541.6,955.8 543.7,955.9 545.8,956.1 547.9,956.2 549.9,956.3 552,956.4 554.1,956.5 556.2,956.6 558.3,956.7 560.3,956.8 562.4,956.9 564.5,957 566.6,957.1 568.6,957.2 570.7,957.3 572.8,957.4 574.9,957.5 577,957.5 579,957.6 581.1,957.7 583.2,957.7 585.3,957.8 587.3,957.9 589.4,957.9 591.5,958 593.6,958.1 595.6,958.1 597.7,958.2 599.8,958.2 601.9,958.3 604,958.3 606,958.4 608.1,958.4 610.2,958.5 612.3,958.5 614.3,958.6 616.4,958.6 618.5,958.6 620.6,958.7 622.7,958.7 624.7,958.8 626.8,958.8 628.9,958.8 631,958.9 633,958.9 635.1,958.9 637.2,958.9 639.3,959 641.4,959 643.4,959 645.5,959 647.6,959.1 649.7,959.1 651.7,959.1 653.8,959.1 655.9,959.1 658,959.2 660.1,959.2 662.1,959.2 664.2,959.2 666.3,959.2 668.4,959.2 670.4,959.2 672.5,959.3 674.6,959.3 676.7,959.3 678.8,959.3 680.8,959.3 682.9,959.3 685,959.3 687.1,959.3 689.1,959.3 691.2,959.3 693.3,959.4 695.4,959.4 697.4,959.4 699.5,959.4 701.6,959.4 703.7,959.4 705.8,959.4 707.8,959.4 709.9,959.4 712,959.4 714.1,959.4 716.1,959.4 718.2,959.4" stroke="#000000" stroke-width="2"/>
<polyline points="138.6,955.6 140.7,955.3 142.8,954.9 144.8,954.5 146.9,953.9 149,953.3 151.1,952.5 153.1,951.7 155.2,950.8 157.3,950 159.4,949.2 161.5,948.5 163.5,948 165.6,947.7 167.7,947.6 169.8,947.7 171.8,948 173.9,948.4 176,949 178.1,949.6 180.2,950.2 182.2,950.9 184.3,951.4 186.4,951.8 188.5,952.2 190.5,952.4 192.6,952.4 194.7,952.4 196.8,952.3 198.8,952 200.9,951.7 203,951.3 205.1,950.9 207.2,950.4 209.2,949.8 211.3,949.2 213.4,948.5 215.5,947.8 217.5,947 219.6,946.2 221.7,945.3 223.8,944.3 225.9,943.3 227.9,942.2 230,941 232.1,939.8 234.2,938.4 236.2,937.1 238.3,935.7 240.4,934.2 242.5,932.7 244.6,931.2 246.6,929.7 248.7,928.1 250.8,926.7 252.9,925.2 254.9,923.8 257,922.5 259.1,921.3 261.2,920.1 263.2,919 265.3,918 267.4,917 269.5,916.1 271.6,915.3 273.6,914.5 275.7,913.7 277.8,913 279.9,912.3 281.9,911.6 284,910.9 286.1,910.2 288.2,909.6 290.3,909 292.3,908.4 294.4,907.9 296.5,907.4 298.6,906.9 300.6,906.6 302.7,906.3 304.8,906.1 306.9,905.9 309,905.9 311,905.9 313.1,906 315.2,906.2 317.3,906.4 319.3,906.6 321.4,906.9 323.5,907.2 325.6,907.6 327.7,908 329.7,908.4 331.8,908.9 333.9,909.4 336,910 338,910.6 340.1,911.2 342.2,911.9 344.3,912.5 346.3,913.2 348.4,913.9 350.5,914.6 352.6,915.3 354.7,915.9 356.7,916.5 358.8,917.1 360.9,917.6 363,918.1 365,918.5 367.1,918.8 369.2,919.1 371.3,919.2 373.4,919.2 375.4,919.1 377.5,918.8 379.6,918.4 381.7,917.9 383.7,917.2 385.8,916.4 387.9,915.4 390,914.2 392.1,913 394.1,911.5 396.2,909.9 398.3,908.2 400.4,906.3 402.4,904.3 404.5,902.3 406.6,900.1 408.7,897.9 410.8,895.6 412.8,893.3 414.9,890.9 417,888.6 419.1,886.3 421.1,884.1 423.2,881.9 425.3,879.9 427.4,877.9 429.4,876.1 431.5,874.5 433.6,873 435.7,871.7 437.8,870.7 439.8,869.8 441.9,869.2 444,868.9 446.1,868.7 448.1,868.9 450.2,869.2 452.3,869.6 454.4,870.2 456.5,870.9 458.5,871.7 460.6,872.7 462.7,873.7 464.8,874.9 466.8,876.1 468.9,877.5 471,879 473.1,880.5 475.2,882.1 477.2,883.8 479.3,885.5 481.4,887.4 483.5,889.2 485.5,891.1 487.6,893 489.7,895 491.8,897 493.9,899 495.9,901 498,903 500.1,905 502.2,906.9 504.2,908.9 506.3,910.8 508.4,912.7 510.5,914.6 512.5,916.5 514.6,918.3 516.7,920 518.8,921.7 520.9,923.4 522.9,925 525,926.5 527.1,928 529.2,929.5 531.2,930.9 533.3,932.2 535.4,933.5 537.5,934.7 539.6,935.9 541.6,937 543.7,938 545.8,939 547.9,940 549.9,940.9 552,941.8 554.1,942.6 556.2,943.3 558.3,944.1 560.3,944.8 562.4,945.4 564.5,946 566.6,946.6 568.6,947.2 570.7,947.7 572.8,948.2 574.9,948.6 577,949.1 579,949.5 581.1,949.9 583.2,950.3 585.3,950.7 587.3,951 589.4,951.3 591.5,951.6 593.6,952 595.6,952.2 597.7,952.5 599.8,952.8 601.9,953 604,953.3 606,953.5 608.1,953.8 610.2,954 612.3,954.2 614.3,954.4 616.4,954.6 618.5,954.8 620.6,955 622.7,955.2 624.7,955.4 626.8,955.6 628.9,955.7 631,955.9 633,956.1 635.1,956.2 637.2,956.4 639.3,956.5 641.4,956.7 643.4,956.8 645.5,956.9 647.6,957.1 649.7,957.2 651.7,957.3 653.8,957.4 655.9,957.5 658,957.6 660.1,957.7 662.1,957.8 664.2,957.9 666.3,958 668.4,958.1 670.4,958.2 672.5,958.3 674.6,958.3 676.7,958.4 678.8,958.5 680.8,958.5 682.9,958.6 685,958.7 687.1,958.7 689.1,958.8 691.2,958.8 693.3,958.9 695.4,958.9 697.4,958.9 699.5,959 701.6,959 703.7,959.1 705.8,959.1 707.8,959.1 709.9,959.1 712,959.2 714.1,959.2 716.1,959.2 718.2,959.2" stroke="#ff2a2a" stroke-width="2.6"/>
<polyline points="138.6,955.6 140.7,955.3 142.8,955 144.8,954.5 146.9,953.9 149,953.3 151.1,952.5 153.1,951.7 155.2,950.8 157.3,950 159.4,949.2 161.5,948.6 163.5,948.1 165.6,947.7 167.7,947.6 169.8,947.7 171.8,948 173.9,948.5 176,949 178.1,949.7 180.2,950.3 182.2,950.9 184.3,951.5 186.4,952 188.5,952.3 190.5,952.5 192.6,952.6 194.7,952.6 196.8,952.5 198.8,952.2 200.9,952 203,951.6 205.1,951.2 207.2,950.7 209.2,950.2 211.3,949.6 213.4,949 215.5,948.4 217.5,947.6 219.6,946.9 221.7,946.1 223.8,945.2 225.9,944.3 227.9,943.4 230,942.4 232.1,941.3 234.2,940.2 236.2,939.1 238.3,937.9 240.4,936.7 242.5,935.6 244.6,934.4 246.6,933.2 248.7,932 250.8,930.8 252.9,929.7 254.9,928.6 257,927.6 259.1,926.6 261.2,925.7 263.2,924.9 265.3,924.1 267.4,923.3 269.5,922.6 271.6,921.9 273.6,921.3 275.7,920.7 277.8,920.1 279.9,919.5 281.9,919 284,918.4 286.1,917.9 288.2,917.4 290.3,916.9 292.3,916.4 294.4,915.9 296.5,915.5 298.6,915.2 300.6,914.9 302.7,914.6 304.8,914.4 306.9,914.3 309,914.3 311,914.3 313.1,914.4 315.2,914.5 317.3,914.7 319.3,914.9 321.4,915.1 323.5,915.4 325.6,915.6 327.7,916 329.7,916.3 331.8,916.7 333.9,917.1 336,917.5 338,917.9 340.1,918.4 342.2,918.8 344.3,919.3 346.3,919.7 348.4,920.1 350.5,920.5 352.6,920.9 354.7,921.2 356.7,921.4 358.8,921.6 360.9,921.6 363,921.6 365,921.4 367.1,921.2 369.2,920.7 371.3,920.1 373.4,919.3 375.4,918.4 377.5,917.2 379.6,915.8 381.7,914.1 383.7,912.3 385.8,910.1 387.9,907.7 390,905.1 392.1,902.2 394.1,899.1 396.2,895.6 398.3,892 400.4,888.1 402.4,884 404.5,879.7 406.6,875.2 408.7,870.5 410.8,865.7 412.8,860.8 414.9,855.8 417,850.8 419.1,845.8 421.1,840.9 423.2,836 425.3,831.2 427.4,826.6 429.4,822.2 431.5,818 433.6,814.1 435.7,810.5 437.8,807.3 439.8,804.4 441.9,801.9 444,799.9 446.1,798.4 448.1,797.3 450.2,796.7 452.3,796.5 454.4,796.8 456.5,797.3 458.5,798 460.6,799 462.7,800.2 464.8,801.7 466.8,803.4 468.9,805.3 471,807.4 473.1,809.7 475.2,812.2 477.2,814.8 479.3,817.7 481.4,820.6 483.5,823.7 485.5,827 487.6,830.3 489.7,833.7 491.8,837.2 493.9,840.8 495.9,844.4 498,848 500.1,851.7 502.2,855.4 504.2,859 506.3,862.7 508.4,866.3 510.5,869.9 512.5,873.5 514.6,877 516.7,880.4 518.8,883.7 520.9,887 522.9,890.2 525,893.3 527.1,896.3 529.2,899.2 531.2,902 533.3,904.7 535.4,907.2 537.5,909.7 539.6,912.1 541.6,914.4 543.7,916.6 545.8,918.6 547.9,920.6 549.9,922.5 552,924.2 554.1,925.9 556.2,927.5 558.3,929 560.3,930.4 562.4,931.8 564.5,933 566.6,934.2 568.6,935.3 570.7,936.4 572.8,937.4 574.9,938.4 577,939.3 579,940.1 581.1,940.9 583.2,941.7 585.3,942.4 587.3,943.1 589.4,943.7 591.5,944.3 593.6,944.9 595.6,945.5 597.7,946 599.8,946.5 601.9,947 604,947.5 606,948 608.1,948.4 610.2,948.8 612.3,949.2 614.3,949.6 616.4,950 618.5,950.4 620.6,950.8 622.7,951.1 624.7,951.5 626.8,951.8 628.9,952.1 631,952.5 633,952.8 635.1,953.1 637.2,953.3 639.3,953.6 641.4,953.9 643.4,954.2 645.5,954.4 647.6,954.7 649.7,954.9 651.7,955.1 653.8,955.4 655.9,955.6 658,955.8 660.1,956 662.1,956.2 664.2,956.4 666.3,956.5 668.4,956.7 670.4,956.9 672.5,957 674.6,957.2 676.7,957.3 678.8,957.5 680.8,957.6 682.9,957.7 685,957.8 687.1,957.9 689.1,958 691.2,958.1 693.3,958.2 695.4,958.3 697.4,958.4 699.5,958.5 701.6,958.5 703.7,958.6 705.8,958.7 707.8,958.7 709.9,958.8 712,958.8 714.1,958.9 716.1,958.9 718.2,959" stroke="#2a2aff" stroke-width="2.6"/>
<polyline points="138.6,955.6 140.7,955.3 142.8,955 144.8,954.5 146.9,953.9 149,953.3 151.1,952.5 153.1,951.7 155.2,950.9 157.3,950 159.4,949.3 161.5,948.6 163.5,948.1 165.6,947.8 167.7,947.7 169.8,947.8 171.8,948.1 173.9,948.5 176,949.1 178.1,949.7 180.2,950.4 182.2,951 184.3,951.6 186.4,952.1 188.5,952.4 190.5,952.6 192.6,952.8 194.7,952.8 196.8,952.7 198.8,952.5 200.9,952.2 203,951.9 205.1,951.5 207.2,951.1 209.2,950.6 211.3,950.1 213.4,949.5 215.5,948.9 217.5,948.3 219.6,947.6 221.7,946.9 223.8,946.1 225.9,945.4 227.9,944.6 230,943.7 232.1,942.9 234.2,942 236.2,941.1 238.3,940.2 240.4,939.3 242.5,938.4 244.6,937.5 246.6,936.7 248.7,935.8 250.8,935 252.9,934.2 254.9,933.4 257,932.7 259.1,932 261.2,931.3 263.2,930.7 265.3,930.1 267.4,929.6 269.5,929.1 271.6,928.6 273.6,928.1 275.7,927.7 277.8,927.2 279.9,926.8 281.9,926.4 284,925.9 286.1,925.5 288.2,925.1 290.3,924.7 292.3,924.3 294.4,924 296.5,923.7 298.6,923.4 300.6,923.2 302.7,923 304.8,922.8 306.9,922.7 309,922.7 311,922.8 313.1,922.8 315.2,922.9 317.3,923.1 319.3,923.2 321.4,923.4 323.5,923.6 325.6,923.9 327.7,924.1 329.7,924.4 331.8,924.7 333.9,925 336,925.4 338,925.7 340.1,926.1 342.2,926.4 344.3,926.8 346.3,927.1 348.4,927.4 350.5,927.7 352.6,927.9 354.7,928.1 356.7,928.2 358.8,928.2 360.9,928.1 363,927.9 365,927.6 367.1,927.2 369.2,926.6 371.3,925.8 373.4,924.8 375.4,923.6 377.5,922.2 379.6,920.5 381.7,918.5 383.7,916.3 385.8,913.8 387.9,911 390,907.8 392.1,904.3 394.1,900.6 396.2,896.4 398.3,892 400.4,887.2 402.4,882.1 404.5,876.6 406.6,870.9 408.7,865 410.8,858.7 412.8,852.3 414.9,845.6 417,838.8 419.1,831.9 421.1,824.9 423.2,817.9 425.3,811 427.4,804 429.4,797.3 431.5,790.7 433.6,784.3 435.7,778.3 437.8,772.5 439.8,767.2 441.9,762.3 444,757.9 446.1,754.1 448.1,750.8 450.2,748.1 452.3,746 454.4,744.6 456.5,743.8 458.5,743.7 460.6,744 462.7,744.6 464.8,745.5 466.8,746.8 468.9,748.4 471,750.4 473.1,752.6 475.2,755.1 477.2,757.9 479.3,761 481.4,764.3 483.5,767.9 485.5,771.7 487.6,775.6 489.7,779.8 491.8,784.1 493.9,788.6 495.9,793.1 498,797.8 500.1,802.6 502.2,807.4 504.2,812.3 506.3,817.2 508.4,822.1 510.5,827 512.5,831.9 514.6,836.7 516.7,841.5 518.8,846.2 520.9,850.9 522.9,855.4 525,859.9 527.1,864.2 529.2,868.4 531.2,872.5 533.3,876.5 535.4,880.4 537.5,884.1 539.6,887.6 541.6,891.1 543.7,894.4 545.8,897.5 547.9,900.5 549.9,903.4 552,906.1 554.1,908.7 556.2,911.1 558.3,913.4 560.3,915.6 562.4,917.7 564.5,919.7 566.6,921.6 568.6,923.3 570.7,925 572.8,926.5 574.9,928 577,929.4 579,930.7 581.1,931.9 583.2,933.1 585.3,934.2 587.3,935.3 589.4,936.2 591.5,937.2 593.6,938.1 595.6,938.9 597.7,939.7 599.8,940.5 601.9,941.2 604,941.9 606,942.6 608.1,943.2 610.2,943.9 612.3,944.4 614.3,945 616.4,945.6 618.5,946.1 620.6,946.6 622.7,947.1 624.7,947.6 626.8,948.1 628.9,948.6 631,949 633,949.5 635.1,949.9 637.2,950.3 639.3,950.7 641.4,951.1 643.4,951.5 645.5,951.8 647.6,952.2 649.7,952.5 651.7,952.9 653.8,953.2 655.9,953.5 658,953.8 660.1,954.1 662.1,954.4 664.2,954.7 666.3,954.9 668.4,955.2 670.4,955.4 672.5,955.7 674.6,955.9 676.7,956.1 678.8,956.3 680.8,956.5 682.9,956.7 685,956.9 687.1,957 689.1,957.2 691.2,957.3 693.3,957.5 695.4,957.6 697.4,957.7 699.5,957.9 701.6,958 703.7,958.1 705.8,958.2 707.8,958.3 709.9,958.4 712,958.5 714.1,958.5 716.1,958.6 718.2,958.7" stroke="#ff22ff" stroke-width="2.6"/>
<polyline points="138.6,955.6 140.7,955.3 142.8,955 144.8,954.5 146.9,953.9 149,953.3 151.1,952.5 153.1,951.7 155.2,950.9 157.3,950 159.4,949.3 161.5,948.6 163.5,948.1 165.6,947.8 167.7,947.7 169.8,947.8 171.8,948.1 173.9,948.6 176,949.1 178.1,949.8 180.2,950.5 182.2,951.1 184.3,951.7 186.4,952.1 188.5,952.5 190.5,952.7 192.6,952.8 194.7,952.8 196.8,952.8 198.8,952.6 200.9,952.3 203,952 205.1,951.6 207.2,951.2 209.2,950.8 211.3,950.3 213.4,949.7 215.5,949.2 217.5,948.6 219.6,947.9 221.7,947.3 223.8,946.6 225.9,945.9 227.9,945.2 230,944.4 232.1,943.6 234.2,942.9 236.2,942.1 238.3,941.3 240.4,940.6 242.5,939.8 244.6,939.1 246.6,938.4 248.7,937.7 250.8,937 252.9,936.3 254.9,935.7 257,935.1 259.1,934.5 261.2,934 263.2,933.5 265.3,933.1 267.4,932.6 269.5,932.2 271.6,931.8 273.6,931.4 275.7,931 277.8,930.7 279.9,930.3 281.9,929.9 284,929.6 286.1,929.2 288.2,928.8 290.3,928.5 292.3,928.2 294.4,927.9 296.5,927.6 298.6,927.4 300.6,927.2 302.7,927 304.8,926.9 306.9,926.8 309,926.8 311,926.8 313.1,926.9 315.2,927 317.3,927.1 319.3,927.2 321.4,927.4 323.5,927.6 325.6,927.8 327.7,928.1 329.7,928.3 331.8,928.6 333.9,928.9 336,929.2 338,929.5 340.1,929.8 342.2,930.2 344.3,930.5 346.3,930.8 348.4,931 350.5,931.3 352.6,931.5 354.7,931.6 356.7,931.7 358.8,931.7 360.9,931.7 363,931.5 365,931.2 367.1,930.7 369.2,930.1 371.3,929.3 373.4,928.3 375.4,927.1 377.5,925.7 379.6,924 381.7,922 383.7,919.7 385.8,917.2 387.9,914.3 390,911 392.1,907.4 394.1,903.4 396.2,899 398.3,894.3 400.4,889.1 402.4,883.6 404.5,877.7 406.6,871.4 408.7,864.8 410.8,857.8 412.8,850.5 414.9,842.9 417,835 419.1,826.9 421.1,818.7 423.2,810.3 425.3,801.8 427.4,793.3 429.4,784.9 431.5,776.5 433.6,768.3 435.7,760.3 437.8,752.6 439.8,745.2 441.9,738.3 444,731.8 446.1,725.9 448.1,720.5 450.2,715.8 452.3,711.8 454.4,708.5 456.5,705.9 458.5,704.1 460.6,703.1 462.7,702.8 464.8,703.1 466.8,703.8 468.9,704.9 471,706.3 473.1,708.2 475.2,710.4 477.2,713 479.3,716 481.4,719.3 483.5,722.9 485.5,726.9 487.6,731.1 489.7,735.5 491.8,740.3 493.9,745.2 495.9,750.3 498,755.6 500.1,761 502.2,766.6 504.2,772.3 506.3,778 508.4,783.9 510.5,789.7 512.5,795.6 514.6,801.4 516.7,807.2 518.8,813 520.9,818.7 522.9,824.4 525,829.9 527.1,835.3 529.2,840.7 531.2,845.9 533.3,850.9 535.4,855.8 537.5,860.6 539.6,865.2 541.6,869.6 543.7,873.9 545.8,878 547.9,881.9 549.9,885.6 552,889.2 554.1,892.6 556.2,895.9 558.3,899 560.3,901.9 562.4,904.7 564.5,907.3 566.6,909.8 568.6,912.2 570.7,914.4 572.8,916.5 574.9,918.4 577,920.3 579,922.1 581.1,923.7 583.2,925.3 585.3,926.7 587.3,928.1 589.4,929.4 591.5,930.7 593.6,931.9 595.6,933 597.7,934 599.8,935 601.9,936 604,936.9 606,937.8 608.1,938.6 610.2,939.4 612.3,940.2 614.3,940.9 616.4,941.6 618.5,942.3 620.6,943 622.7,943.6 624.7,944.2 626.8,944.8 628.9,945.4 631,946 633,946.5 635.1,947.1 637.2,947.6 639.3,948.1 641.4,948.6 643.4,949 645.5,949.5 647.6,950 649.7,950.4 651.7,950.8 653.8,951.2 655.9,951.6 658,952 660.1,952.4 662.1,952.8 664.2,953.1 666.3,953.4 668.4,953.8 670.4,954.1 672.5,954.4 674.6,954.7 676.7,954.9 678.8,955.2 680.8,955.5 682.9,955.7 685,955.9 687.1,956.2 689.1,956.4 691.2,956.6 693.3,956.8 695.4,956.9 697.4,957.1 699.5,957.3 701.6,957.4 703.7,957.6 705.8,957.7 707.8,957.8 709.9,957.9 712,958.1 714.1,958.2 716.1,958.3 718.2,958.4" stroke="#0f8f1f" stroke-width="2.6"/>
<polyline points="138.6,955.6 140.7,955.3 142.8,955 144.8,954.5 146.9,954 149,953.3 151.1,952.5 153.1,951.7 155.2,950.9 157.3,950.1 159.4,949.3 161.5,948.6 163.5,948.1 165.6,947.8 167.7,947.7 169.8,947.8 171.8,948.1 173.9,948.6 176,949.2 178.1,949.8 180.2,950.5 182.2,951.1 184.3,951.7 186.4,952.2 188.5,952.6 190.5,952.8 192.6,952.9 194.7,953 196.8,952.9 198.8,952.7 200.9,952.5 203,952.2 205.1,951.8 207.2,951.4 209.2,951 211.3,950.5 213.4,950 215.5,949.5 217.5,949 219.6,948.4 221.7,947.8 223.8,947.1 225.9,946.5 227.9,945.9 230,945.2 232.1,944.6 234.2,943.9 236.2,943.3 238.3,942.7 240.4,942.1 242.5,941.5 244.6,940.9 246.6,940.3 248.7,939.8 250.8,939.3 252.9,938.8 254.9,938.4 257,937.9 259.1,937.5 261.2,937.2 263.2,936.8 265.3,936.4 267.4,936.1 269.5,935.8 271.6,935.5 273.6,935.2 275.7,934.9 277.8,934.6 279.9,934.3 281.9,934 284,933.7 286.1,933.4 288.2,933.2 290.3,932.9 292.3,932.6 294.4,932.4 296.5,932.1 298.6,931.9 300.6,931.8 302.7,931.6 304.8,931.5 306.9,931.5 309,931.5 311,931.5 313.1,931.6 315.2,931.7 317.3,931.8 319.3,931.9 321.4,932 323.5,932.2 325.6,932.4 327.7,932.6 329.7,932.8 331.8,933 333.9,933.3 336,933.6 338,933.8 340.1,934.1 342.2,934.4 344.3,934.6 346.3,934.9 348.4,935.1 350.5,935.3 352.6,935.4 354.7,935.5 356.7,935.5 358.8,935.5 360.9,935.4 363,935.1 365,934.8 367.1,934.3 369.2,933.6 371.3,932.8 373.4,931.7 375.4,930.5 377.5,929 379.6,927.2 381.7,925.2 383.7,922.8 385.8,920.2 387.9,917.2 390,913.8 392.1,910 394.1,905.9 396.2,901.3 398.3,896.3 400.4,890.9 402.4,885 404.5,878.7 406.6,871.9 408.7,864.8 410.8,857.2 412.8,849.2 414.9,840.9 417,832.2 419.1,823.2 421.1,814 423.2,804.5 425.3,794.9 427.4,785.1 429.4,775.3 431.5,765.5 433.6,755.8 435.7,746.3 437.8,737 439.8,728 441.9,719.3 444,711.2 446.1,703.5 448.1,696.4 450.2,690 452.3,684.3 454.4,679.3 456.5,675.2 458.5,671.8 460.6,669.4 462.7,667.9 464.8,667.3 466.8,667.4 468.9,667.9 471,668.9 473.1,670.4 475.2,672.3 477.2,674.7 479.3,677.5 481.4,680.7 483.5,684.3 485.5,688.3 487.6,692.6 489.7,697.3 491.8,702.3 493.9,707.6 495.9,713.1 498,718.8 500.1,724.8 502.2,731 504.2,737.3 506.3,743.7 508.4,750.2 510.5,756.8 512.5,763.5 514.6,770.2 516.7,776.8 518.8,783.5 520.9,790.1 522.9,796.7 525,803.1 527.1,809.5 529.2,815.8 531.2,821.9 533.3,827.9 535.4,833.7 537.5,839.4 539.6,844.9 541.6,850.2 543.7,855.3 545.8,860.2 547.9,865 549.9,869.5 552,873.9 554.1,878 556.2,882 558.3,885.8 560.3,889.4 562.4,892.8 564.5,896 566.6,899.1 568.6,902 570.7,904.7 572.8,907.3 574.9,909.7 577,912 579,914.2 581.1,916.2 583.2,918.1 585.3,919.9 587.3,921.7 589.4,923.3 591.5,924.8 593.6,926.2 595.6,927.6 597.7,928.9 599.8,930.1 601.9,931.3 604,932.4 606,933.4 608.1,934.4 610.2,935.4 612.3,936.3 614.3,937.2 616.4,938 618.5,938.9 620.6,939.6 622.7,940.4 624.7,941.1 626.8,941.9 628.9,942.6 631,943.2 633,943.9 635.1,944.5 637.2,945.1 639.3,945.7 641.4,946.3 643.4,946.9 645.5,947.4 647.6,947.9 649.7,948.5 651.7,949 653.8,949.5 655.9,949.9 658,950.4 660.1,950.8 662.1,951.3 664.2,951.7 666.3,952.1 668.4,952.5 670.4,952.8 672.5,953.2 674.6,953.5 676.7,953.9 678.8,954.2 680.8,954.5 682.9,954.8 685,955.1 687.1,955.4 689.1,955.6 691.2,955.8 693.3,956.1 695.4,956.3 697.4,956.5 699.5,956.7 701.6,956.9 703.7,957.1 705.8,957.2 707.8,957.4 709.9,957.5 712,957.7 714.1,957.8 716.1,957.9 718.2,958.1" stroke="#22228f" stroke-width="2.6"/>
<polyline points="138.6,955.6 140.7,955.4 142.8,955 144.8,954.5 146.9,954 149,953.3 151.1,952.6 153.1,951.7 155.2,950.9 157.3,950.1 159.4,949.3 161.5,948.7 163.5,948.2 165.6,947.8 167.7,947.8 169.8,947.9 171.8,948.2 173.9,948.6 176,949.2 178.1,949.9 180.2,950.6 182.2,951.2 184.3,951.8 186.4,952.3 188.5,952.7 190.5,952.9 192.6,953.1 194.7,953.1 196.8,953.1 198.8,952.9 200.9,952.7 203,952.4 205.1,952.1 207.2,951.8 209.2,951.4 211.3,950.9 213.4,950.5 215.5,950 217.5,949.5 219.6,949 221.7,948.5 223.8,947.9 225.9,947.4 227.9,946.9 230,946.3 232.1,945.8 234.2,945.3 236.2,944.9 238.3,944.5 240.4,944.1 242.5,943.7 244.6,943.3 246.6,943 248.7,942.7 250.8,942.5 252.9,942.2 254.9,942 257,941.8 259.1,941.5 261.2,941.3 263.2,941.2 265.3,941 267.4,940.8 269.5,940.6 271.6,940.4 273.6,940.3 275.7,940.1 277.8,939.9 279.9,939.7 281.9,939.5 284,939.3 286.1,939.1 288.2,938.9 290.3,938.7 292.3,938.5 294.4,938.3 296.5,938.2 298.6,938 300.6,937.9 302.7,937.8 304.8,937.7 306.9,937.7 309,937.7 311,937.7 313.1,937.8 315.2,937.9 317.3,938 319.3,938.1 321.4,938.2 323.5,938.3 325.6,938.5 327.7,938.6 329.7,938.8 331.8,939 333.9,939.2 336,939.4 338,939.6 340.1,939.8 342.2,940 344.3,940.2 346.3,940.4 348.4,940.6 350.5,940.7 352.6,940.8 354.7,940.9 356.7,940.9 358.8,940.9 360.9,940.7 363,940.5 365,940.2 367.1,939.7 369.2,939.1 371.3,938.4 373.4,937.4 375.4,936.3 377.5,935 379.6,933.4 381.7,931.6 383.7,929.4 385.8,927 387.9,924.2 390,921.1 392.1,917.6 394.1,913.7 396.2,909.4 398.3,904.7 400.4,899.5 402.4,893.8 404.5,887.7 406.6,881.1 408.7,874 410.8,866.5 412.8,858.5 414.9,850 417,841.1 419.1,831.8 421.1,822.2 423.2,812.2 425.3,801.9 427.4,791.4 429.4,780.7 431.5,769.8 433.6,759 435.7,748.1 437.8,737.3 439.8,726.7 441.9,716.4 444,706.4 446.1,696.8 448.1,687.6 450.2,679.1 452.3,671.2 454.4,664.1 456.5,657.7 458.5,652.1 460.6,647.5 462.7,643.8 464.8,641 466.8,639.3 468.9,638.5 471,638.6 473.1,639.1 475.2,640.2 477.2,641.7 479.3,643.8 481.4,646.4 483.5,649.4 485.5,652.9 487.6,656.8 489.7,661.2 491.8,665.9 493.9,671 495.9,676.5 498,682.3 500.1,688.3 502.2,694.6 504.2,701.2 506.3,708 508.4,714.9 510.5,722 512.5,729.1 514.6,736.4 516.7,743.7 518.8,751.1 520.9,758.4 522.9,765.8 525,773.1 527.1,780.3 529.2,787.4 531.2,794.4 533.3,801.3 535.4,808.1 537.5,814.7 539.6,821.1 541.6,827.3 543.7,833.4 545.8,839.2 547.9,844.9 549.9,850.3 552,855.5 554.1,860.5 556.2,865.3 558.3,869.9 560.3,874.3 562.4,878.4 564.5,882.4 566.6,886.1 568.6,889.7 570.7,893.1 572.8,896.2 574.9,899.3 577,902.1 579,904.8 581.1,907.3 583.2,909.7 585.3,911.9 587.3,914 589.4,916 591.5,917.9 593.6,919.7 595.6,921.4 597.7,923 599.8,924.4 601.9,925.9 604,927.2 606,928.5 608.1,929.7 610.2,930.9 612.3,932 614.3,933 616.4,934 618.5,935 620.6,935.9 622.7,936.8 624.7,937.7 626.8,938.5 628.9,939.3 631,940.1 633,940.9 635.1,941.6 637.2,942.3 639.3,943 641.4,943.7 643.4,944.3 645.5,945 647.6,945.6 649.7,946.2 651.7,946.8 653.8,947.4 655.9,947.9 658,948.5 660.1,949 662.1,949.5 664.2,950 666.3,950.4 668.4,950.9 670.4,951.3 672.5,951.8 674.6,952.2 676.7,952.6 678.8,953 680.8,953.3 682.9,953.7 685,954 687.1,954.3 689.1,954.6 691.2,954.9 693.3,955.2 695.4,955.5 697.4,955.7 699.5,956 701.6,956.2 703.7,956.4 705.8,956.6 707.8,956.8 709.9,957 712,957.2 714.1,957.4 716.1,957.5 718.2,957.7" stroke="#9030ff" stroke-width="2.6"/>
<polyline points="138.6,955.6 140.7,955.4 142.8,955 144.8,954.5 146.9,954 149,953.3 151.1,952.6 153.1,951.8 155.2,950.9 157.3,950.1 159.4,949.3 161.5,948.7 163.5,948.2 165.6,947.9 167.7,947.8 169.8,947.9 171.8,948.2 173.9,948.7 176,949.3 178.1,949.9 180.2,950.6 182.2,951.3 184.3,951.9 186.4,952.4 188.5,952.7 190.5,953 192.6,953.2 194.7,953.2 196.8,953.2 198.8,953 200.9,952.8 203,952.6 205.1,952.3 207.2,951.9 209.2,951.5 211.3,951.1 213.4,950.7 215.5,950.2 217.5,949.7 219.6,949.3 221.7,948.8 223.8,948.3 225.9,947.8 227.9,947.3 230,946.8 232.1,946.4 234.2,945.9 236.2,945.6 238.3,945.2 240.4,944.9 242.5,944.6 244.6,944.4 246.6,944.1 248.7,943.9 250.8,943.7 252.9,943.6 254.9,943.4 257,943.3 259.1,943.2 261.2,943 263.2,942.9 265.3,942.8 267.4,942.7 269.5,942.5 271.6,942.4 273.6,942.3 275.7,942.1 277.8,942 279.9,941.8 281.9,941.7 284,941.5 286.1,941.4 288.2,941.2 290.3,941 292.3,940.9 294.4,940.7 296.5,940.6 298.6,940.5 300.6,940.4 302.7,940.3 304.8,940.2 306.9,940.2 309,940.2 311,940.2 313.1,940.3 315.2,940.4 317.3,940.4 319.3,940.5 321.4,940.6 323.5,940.7 325.6,940.9 327.7,941 329.7,941.2 331.8,941.3 333.9,941.5 336,941.7 338,941.8 340.1,942 342.2,942.2 344.3,942.3 346.3,942.5 348.4,942.6 350.5,942.7 352.6,942.7 354.7,942.7 356.7,942.7 358.8,942.5 360.9,942.3 363,942 365,941.6 367.1,941 369.2,940.4 371.3,939.5 373.4,938.5 375.4,937.2 377.5,935.7 379.6,934 381.7,932 383.7,929.7 385.8,927.1 387.9,924.2 390,920.8 392.1,917.1 394.1,913 396.2,908.4 398.3,903.4 400.4,897.9 402.4,891.9 404.5,885.5 406.6,878.5 408.7,871.1 410.8,863.1 412.8,854.7 414.9,845.8 417,836.4 419.1,826.6 421.1,816.5 423.2,806 425.3,795.1 427.4,784.1 429.4,772.8 431.5,761.4 433.6,749.9 435.7,738.5 437.8,727.2 439.8,716 441.9,705.1 444,694.6 446.1,684.5 448.1,674.9 450.2,665.9 452.3,657.6 454.4,650 456.5,643.3 458.5,637.5 460.6,632.6 462.7,628.6 464.8,625.7 466.8,623.9 468.9,623.1 471,623.1 473.1,623.6 475.2,624.7 477.2,626.4 479.3,628.5 481.4,631.2 483.5,634.4 485.5,638 487.6,642.1 489.7,646.7 491.8,651.6 493.9,657 495.9,662.7 498,668.7 500.1,675.1 502.2,681.7 504.2,688.6 506.3,695.7 508.4,702.9 510.5,710.3 512.5,717.9 514.6,725.5 516.7,733.2 518.8,740.9 520.9,748.6 522.9,756.3 525,763.9 527.1,771.5 529.2,779 531.2,786.4 533.3,793.6 535.4,800.7 537.5,807.6 539.6,814.3 541.6,820.9 543.7,827.2 545.8,833.3 547.9,839.3 549.9,845 552,850.5 554.1,855.7 556.2,860.7 558.3,865.5 560.3,870.1 562.4,874.5 564.5,878.6 566.6,882.6 568.6,886.3 570.7,889.8 572.8,893.2 574.9,896.3 577,899.3 579,902.1 581.1,904.8 583.2,907.3 585.3,909.6 587.3,911.8 589.4,913.9 591.5,915.9 593.6,917.8 595.6,919.5 597.7,921.2 599.8,922.8 601.9,924.2 604,925.6 606,927 608.1,928.3 610.2,929.5 612.3,930.6 614.3,931.7 616.4,932.8 618.5,933.8 620.6,934.8 622.7,935.7 624.7,936.6 626.8,937.5 628.9,938.4 631,939.2 633,940 635.1,940.7 637.2,941.5 639.3,942.2 641.4,942.9 643.4,943.6 645.5,944.3 647.6,944.9 649.7,945.6 651.7,946.2 653.8,946.8 655.9,947.4 658,947.9 660.1,948.5 662.1,949 664.2,949.5 666.3,950 668.4,950.5 670.4,950.9 672.5,951.4 674.6,951.8 676.7,952.2 678.8,952.6 680.8,953 682.9,953.4 685,953.7 687.1,954.1 689.1,954.4 691.2,954.7 693.3,955 695.4,955.3 697.4,955.6 699.5,955.8 701.6,956.1 703.7,956.3 705.8,956.5 707.8,956.7 709.9,956.9 712,957.1 714.1,957.3 716.1,957.4 718.2,957.6" stroke="#932a93" stroke-width="2.6"/>
<polyline points="138.6,955.6 140.7,955.4 142.8,955 144.8,954.5 146.9,954 149,953.3 151.1,952.6 153.1,951.8 155.2,950.9 157.3,950.1 159.4,949.3 161.5,948.7 163.5,948.2 165.6,947.9 167.7,947.8 169.8,947.9 171.8,948.2 173.9,948.7 176,949.3 178.1,950 180.2,950.6 182.2,951.3 184.3,951.9 186.4,952.4 188.5,952.8 190.5,953.1 192.6,953.2 194.7,953.3 196.8,953.2 198.8,953.1 200.9,952.9 203,952.6 205.1,952.3 207.2,952 209.2,951.6 211.3,951.2 213.4,950.8 215.5,950.4 217.5,949.9 219.6,949.4 221.7,949 223.8,948.5 225.9,948 227.9,947.6 230,947.1 232.1,946.7 234.2,946.3 236.2,946 238.3,945.7 240.4,945.4 242.5,945.2 244.6,945 246.6,944.8 248.7,944.7 250.8,944.6 252.9,944.4 254.9,944.3 257,944.3 259.1,944.2 261.2,944.1 263.2,944 265.3,943.9 267.4,943.8 269.5,943.7 271.6,943.7 273.6,943.6 275.7,943.4 277.8,943.3 279.9,943.2 281.9,943.1 284,942.9 286.1,942.8 288.2,942.6 290.3,942.5 292.3,942.3 294.4,942.2 296.5,942.1 298.6,942 300.6,941.9 302.7,941.8 304.8,941.8 306.9,941.8 309,941.8 311,941.8 313.1,941.8 315.2,941.9 317.3,942 319.3,942.1 321.4,942.2 323.5,942.3 325.6,942.4 327.7,942.5 329.7,942.7 331.8,942.8 333.9,943 336,943.1 338,943.3 340.1,943.5 342.2,943.6 344.3,943.8 346.3,943.9 348.4,944 350.5,944.1 352.6,944.1 354.7,944.1 356.7,944.1 358.8,943.9 360.9,943.7 363,943.4 365,943.1 367.1,942.5 369.2,941.9 371.3,941.1 373.4,940.1 375.4,938.9 377.5,937.5 379.6,935.9 381.7,934 383.7,931.8 385.8,929.3 387.9,926.5 390,923.3 392.1,919.7 394.1,915.7 396.2,911.3 398.3,906.4 400.4,901.1 402.4,895.2 404.5,888.9 406.6,882.1 408.7,874.8 410.8,866.9 412.8,858.6 414.9,849.8 417,840.4 419.1,830.7 421.1,820.5 423.2,809.9 425.3,799 427.4,787.8 429.4,776.3 431.5,764.7 433.6,753 435.7,741.2 437.8,729.5 439.8,717.9 441.9,706.5 444,695.5 446.1,684.8 448.1,674.6 450.2,664.9 452.3,655.9 454.4,647.6 456.5,640.1 458.5,633.5 460.6,627.8 462.7,623.1 464.8,619.4 466.8,616.7 468.9,615.2 471,614.7 473.1,614.8 475.2,615.6 477.2,616.9 479.3,618.7 481.4,621.1 483.5,624 485.5,627.4 487.6,631.3 489.7,635.6 491.8,640.4 493.9,645.7 495.9,651.3 498,657.2 500.1,663.5 502.2,670.1 504.2,677 506.3,684.1 508.4,691.5 510.5,699 512.5,706.6 514.6,714.4 516.7,722.2 518.8,730.1 520.9,738 522.9,745.9 525,753.8 527.1,761.6 529.2,769.3 531.2,777 533.3,784.5 535.4,791.8 537.5,799 539.6,806.1 541.6,812.9 543.7,819.6 545.8,826 547.9,832.2 549.9,838.2 552,844 554.1,849.5 556.2,854.8 558.3,859.9 560.3,864.8 562.4,869.4 564.5,873.8 566.6,878 568.6,881.9 570.7,885.7 572.8,889.3 574.9,892.6 577,895.8 579,898.8 581.1,901.6 583.2,904.3 585.3,906.8 587.3,909.2 589.4,911.4 591.5,913.5 593.6,915.5 595.6,917.3 597.7,919.1 599.8,920.8 601.9,922.4 604,923.9 606,925.3 608.1,926.6 610.2,927.9 612.3,929.1 614.3,930.3 616.4,931.4 618.5,932.5 620.6,933.5 622.7,934.5 624.7,935.4 626.8,936.4 628.9,937.3 631,938.1 633,938.9 635.1,939.7 637.2,940.5 639.3,941.3 641.4,942 643.4,942.7 645.5,943.4 647.6,944.1 649.7,944.8 651.7,945.4 653.8,946 655.9,946.7 658,947.2 660.1,947.8 662.1,948.4 664.2,948.9 666.3,949.4 668.4,949.9 670.4,950.4 672.5,950.9 674.6,951.3 676.7,951.8 678.8,952.2 680.8,952.6 682.9,953 685,953.4 687.1,953.7 689.1,954.1 691.2,954.4 693.3,954.7 695.4,955 697.4,955.3 699.5,955.6 701.6,955.8 703.7,956.1 705.8,956.3 707.8,956.5 709.9,956.7 712,956.9 714.1,957.1 716.1,957.3 718.2,957.4" stroke="#8f2030" stroke-width="2.6"/>
<polyline points="138.6,955.6 140.7,955.4 142.8,955 144.8,954.5 146.9,954 149,953.3 151.1,952.6 153.1,951.8 155.2,950.9 157.3,950.1 159.4,949.3 161.5,948.7 163.5,948.2 165.6,947.9 167.7,947.8 169.8,947.9 171.8,948.2 173.9,948.7 176,949.3 178.1,950 180.2,950.7 182.2,951.3 184.3,951.9 186.4,952.4 188.5,952.8 190.5,953.1 192.6,953.3 194.7,953.3 196.8,953.3 198.8,953.2 200.9,953 203,952.7 205.1,952.4 207.2,952.1 209.2,951.7 211.3,951.4 213.4,950.9 215.5,950.5 217.5,950.1 219.6,949.6 221.7,949.2 223.8,948.7 225.9,948.3 227.9,947.8 230,947.4 232.1,947.1 234.2,946.7 236.2,946.4 238.3,946.2 240.4,946 242.5,945.8 244.6,945.6 246.6,945.5 248.7,945.4 250.8,945.4 252.9,945.3 254.9,945.3 257,945.2 259.1,945.2 261.2,945.2 263.2,945.1 265.3,945.1 267.4,945 269.5,945 271.6,944.9 273.6,944.8 275.7,944.7 277.8,944.6 279.9,944.5 281.9,944.4 284,944.3 286.1,944.2 288.2,944.1 290.3,943.9 292.3,943.8 294.4,943.7 296.5,943.6 298.6,943.5 300.6,943.4 302.7,943.4 304.8,943.3 306.9,943.3 309,943.3 311,943.4 313.1,943.4 315.2,943.5 317.3,943.5 319.3,943.6 321.4,943.7 323.5,943.8 325.6,943.9 327.7,944 329.7,944.2 331.8,944.3 333.9,944.4 336,944.6 338,944.7 340.1,944.9 342.2,945 344.3,945.2 346.3,945.3 348.4,945.4 350.5,945.4 352.6,945.5 354.7,945.5 356.7,945.4 358.8,945.3 360.9,945.1 363,944.9 365,944.5 367.1,944 369.2,943.4 371.3,942.6 373.4,941.7 375.4,940.5 377.5,939.2 379.6,937.7 381.7,935.8 383.7,933.7 385.8,931.3 387.9,928.6 390,925.5 392.1,922.1 394.1,918.2 396.2,913.9 398.3,909.2 400.4,904 402.4,898.3 404.5,892.1 406.6,885.4 408.7,878.2 410.8,870.4 412.8,862.2 414.9,853.4 417,844.1 419.1,834.3 421.1,824.1 423.2,813.5 425.3,802.5 427.4,791.1 429.4,779.5 431.5,767.6 433.6,755.6 435.7,743.4 437.8,731.3 439.8,719.3 441.9,707.4 444,695.7 446.1,684.4 448.1,673.6 450.2,663.2 452.3,653.5 454.4,644.4 456.5,636.1 458.5,628.7 460.6,622.2 462.7,616.6 464.8,612.1 466.8,608.6 468.9,606.2 471,605 473.1,604.8 475.2,605.1 477.2,606.1 479.3,607.6 481.4,609.6 483.5,612.3 485.5,615.4 487.6,619.1 489.7,623.2 491.8,627.9 493.9,632.9 495.9,638.4 498,644.3 500.1,650.6 502.2,657.2 504.2,664.1 506.3,671.2 508.4,678.6 510.5,686.2 512.5,694 514.6,701.9 516.7,709.9 518.8,718 520.9,726.1 522.9,734.3 525,742.4 527.1,750.5 529.2,758.5 531.2,766.4 533.3,774.2 535.4,781.9 537.5,789.4 539.6,796.8 541.6,804 543.7,811 545.8,817.7 547.9,824.3 549.9,830.6 552,836.7 554.1,842.6 556.2,848.2 558.3,853.6 560.3,858.7 562.4,863.6 564.5,868.3 566.6,872.8 568.6,877 570.7,881 572.8,884.8 574.9,888.4 577,891.8 579,895 581.1,898 583.2,900.9 585.3,903.6 587.3,906.1 589.4,908.5 591.5,910.7 593.6,912.9 595.6,914.9 597.7,916.7 599.8,918.5 601.9,920.2 604,921.8 606,923.3 608.1,924.8 610.2,926.1 612.3,927.4 614.3,928.7 616.4,929.8 618.5,931 620.6,932.1 622.7,933.1 624.7,934.1 626.8,935.1 628.9,936 631,936.9 633,937.8 635.1,938.6 637.2,939.4 639.3,940.2 641.4,941 643.4,941.8 645.5,942.5 647.6,943.2 649.7,943.9 651.7,944.6 653.8,945.2 655.9,945.9 658,946.5 660.1,947.1 662.1,947.7 664.2,948.2 666.3,948.8 668.4,949.3 670.4,949.8 672.5,950.3 674.6,950.8 676.7,951.3 678.8,951.7 680.8,952.1 682.9,952.5 685,952.9 687.1,953.3 689.1,953.7 691.2,954 693.3,954.3 695.4,954.7 697.4,955 699.5,955.3 701.6,955.5 703.7,955.8 705.8,956 707.8,956.3 709.9,956.5 712,956.7 714.1,956.9 716.1,957.1 718.2,957.2" stroke="#90901a" stroke-width="2.6"/>
</g>
<line x1="166" y1="565.5" x2="212" y2="565.5" stroke="#000000" stroke-width="2.8" />
<text x="218" y="572.8" font-size="20" text-anchor="start" fill="#000" font-family='"Liberation Sans",sans-serif' font-weight="bold" >only donor</text>
<line x1="166" y1="595.5" x2="212" y2="595.5" stroke="#ff2a2a" stroke-width="3.2" />
<text x="218" y="602.8" font-size="20" text-anchor="start" fill="#000" font-family='"Liberation Sans",sans-serif' font-weight="bold" >2000:1</text>
<line x1="166" y1="625.4" x2="212" y2="625.4" stroke="#2a2aff" stroke-width="3.2" />
<text x="218" y="632.7" font-size="20" text-anchor="start" fill="#000" font-family='"Liberation Sans",sans-serif' font-weight="bold" >1000:1</text>
<line x1="166" y1="655.4" x2="212" y2="655.4" stroke="#ff22ff" stroke-width="3.2" />
<text x="218" y="662.6" font-size="20" text-anchor="start" fill="#000" font-family='"Liberation Sans",sans-serif' font-weight="bold" >667:1</text>
<line x1="166" y1="685.3" x2="212" y2="685.3" stroke="#0f8f1f" stroke-width="3.2" />
<text x="218" y="692.6" font-size="20" text-anchor="start" fill="#000" font-family='"Liberation Sans",sans-serif' font-weight="bold" >500:1</text>
<line x1="166" y1="715.2" x2="212" y2="715.2" stroke="#22228f" stroke-width="3.2" />
<text x="218" y="722.5" font-size="20" text-anchor="start" fill="#000" font-family='"Liberation Sans",sans-serif' font-weight="bold" >400:1</text>
<line x1="166" y1="745.2" x2="212" y2="745.2" stroke="#9030ff" stroke-width="3.2" />
<text x="218" y="752.5" font-size="20" text-anchor="start" fill="#000" font-family='"Liberation Sans",sans-serif' font-weight="bold" >285:1</text>
<line x1="166" y1="775.1" x2="212" y2="775.1" stroke="#932a93" stroke-width="3.2" />
<text x="218" y="782.4" font-size="20" text-anchor="start" fill="#000" font-family='"Liberation Sans",sans-serif' font-weight="bold" >250:1</text>
<line x1="166" y1="805.1" x2="212" y2="805.1" stroke="#8f2030" stroke-width="3.2" />
<text x="218" y="812.4" font-size="20" text-anchor="start" fill="#000" font-family='"Liberation Sans",sans-serif' font-weight="bold" >222:1</text>
<line x1="166" y1="835" x2="212" y2="835" stroke="#90901a" stroke-width="3.2" />
<text x="218" y="842.3" font-size="20" text-anchor="start" fill="#000" font-family='"Liberation Sans",sans-serif' font-weight="bold" >200:1</text>
<text x="474" y="565" font-size="19.5" text-anchor="middle" fill="#2b2b2b" font-family='"Liberation Sans",sans-serif' font-weight="bold" >Acceptor</text>
<text x="474" y="590" font-size="19.5" text-anchor="middle" fill="#2b2b2b" font-family='"Liberation Sans",sans-serif' font-weight="bold" >emission</text>
<text x="322" y="854" font-size="19.5" text-anchor="middle" fill="#2b2b2b" font-family='"Liberation Sans",sans-serif' font-weight="bold" >Donor</text>
<text x="324" y="879" font-size="19.5" text-anchor="middle" fill="#2b2b2b" font-family='"Liberation Sans",sans-serif' font-weight="bold" >emission</text>
<line x1="416" y1="689" x2="416" y2="618" stroke="#111" stroke-width="2" />
<polygon points="416,612 412.4,623 419.6,623" fill="#111"/>
<line x1="241" y1="862" x2="241" y2="916" stroke="#111" stroke-width="2" />
<polygon points="241,922 237.4,911 244.6,911" fill="#111"/>
<text transform="translate(22.2,532.2) scale(1,1)" font-size="54" fill="#000" font-family='"Liberation Sans",sans-serif' font-weight="bold">(d)</text>
<rect x="612.9" y="542.2" width="91.9" height="165.7" fill="#000" stroke="none" stroke-width="0" />
<g clip-path="url(#vc3)">
<g filter="url(#vb)">
<rect x="627.1" y="549" width="56.1" height="54.6" rx="7" fill="url(#vn3)"/>
<line x1="625.6" y1="558.8" x2="684.7" y2="558.8" stroke="#6cc4ff" stroke-width="2.4" stroke-opacity="0.55"/>
<line x1="625.6" y1="570.4" x2="684.7" y2="570.4" stroke="#6cc4ff" stroke-width="2.4" stroke-opacity="0.55"/>
<line x1="625.6" y1="581.1" x2="684.7" y2="581.1" stroke="#6cc4ff" stroke-width="2.4" stroke-opacity="0.55"/>
<line x1="637.2" y1="552" x2="637.2" y2="585.6" stroke="#6cc4ff" stroke-width="2.6" stroke-opacity="0.6"/>
<line x1="650.7" y1="552" x2="650.7" y2="585.6" stroke="#6cc4ff" stroke-width="2.6" stroke-opacity="0.6"/>
<line x1="660.8" y1="552" x2="660.8" y2="585.6" stroke="#6cc4ff" stroke-width="2.6" stroke-opacity="0.6"/>
<line x1="675.4" y1="552" x2="675.4" y2="585.6" stroke="#6cc4ff" stroke-width="2.6" stroke-opacity="0.6"/>
<path d="M625.1,592.6 L685.2,592.6 Q692.9,593.8 692.9,600.9 L692.9,693.3 Q692.9,704.3 681.9,704.3 L631.3,704.3 Q620.3,704.3 620.3,693.3 L620.3,600.9 Q620.3,593.8 625.1,592.6 Z" fill="url(#vg3)"/>
<rect x="620.3" y="600.9" width="72.6" height="92.4" fill="url(#vs3)"/>
<path d="M621.3,640.1 Q656.6,651.1 691.9,640.1" fill="none" stroke="#a8fff0" stroke-width="4.5" stroke-linecap="round"/>
<path d="M623.3,690.2 Q656.6,696 689.9,690.2" fill="none" stroke="#8ff4f4" stroke-width="3" stroke-linecap="round"/>
<ellipse cx="639.6" cy="684.7" rx="2.6" ry="4.2" fill="#e8ffff"/>
<ellipse cx="649.7" cy="610.1" rx="1.6" ry="2.6" fill="#bff4ff"/>
<ellipse cx="665.3" cy="601" rx="1.5" ry="2.4" fill="#e0fbff"/>
</g>
<text transform="translate(615.4,586.7) scale(0.93,1)" font-size="28" font-family='"DejaVu Sans",sans-serif' font-weight="bold" fill="#fff" stroke="#fff" stroke-width="0.7" filter="url(#tb)">donor</text>
</g>
<rect x="612.9" y="720.8" width="92" height="165.7" fill="#000" stroke="none" stroke-width="0" />
<g clip-path="url(#vc4)">
<g filter="url(#vb)">
<rect x="632.2" y="723.8" width="53.7" height="49.3" rx="7" fill="url(#vn4)"/>
<path d="M630.2,763.1 L687.9,763.1 Q695.7,764.3 695.7,771.3 L695.7,869.7 Q695.7,880.7 684.7,880.7 L631.7,880.7 Q620.7,880.7 620.7,869.7 L620.7,771.3 Q620.7,764.3 630.2,763.1 Z" fill="url(#vg4)"/>
<rect x="620.7" y="771.3" width="75" height="98.4" fill="url(#vs4)"/>
<ellipse cx="668.1" cy="778" rx="1.3" ry="2.1" fill="#fff"/>
</g>
<text transform="translate(616.6,760.7) scale(0.95,1)" font-size="27.8" font-family='"DejaVu Sans",sans-serif' font-weight="bold" fill="#fff" stroke="#fff" stroke-width="0.7" filter="url(#tb)">200:1</text>
</g>
<rect x="145.2" y="1075.5" width="582.8" height="432.7" fill="none" stroke="#000" stroke-width="3.3" />
<line x1="165.9" y1="1508.2" x2="165.9" y2="1513.2" stroke="#000" stroke-width="2.4" />
<line x1="200.6" y1="1508.2" x2="200.6" y2="1517.2" stroke="#000" stroke-width="2.4" />
<text x="200.6" y="1542.6" font-size="24" text-anchor="middle" fill="#000" font-family='"Liberation Sans",sans-serif' font-weight="bold" >400</text>
<line x1="235.3" y1="1508.2" x2="235.3" y2="1513.2" stroke="#000" stroke-width="2.4" />
<line x1="269.9" y1="1508.2" x2="269.9" y2="1517.2" stroke="#000" stroke-width="2.4" />
<text x="269.9" y="1542.6" font-size="24" text-anchor="middle" fill="#000" font-family='"Liberation Sans",sans-serif' font-weight="bold" >450</text>
<line x1="304.6" y1="1508.2" x2="304.6" y2="1513.2" stroke="#000" stroke-width="2.4" />
<line x1="339.3" y1="1508.2" x2="339.3" y2="1517.2" stroke="#000" stroke-width="2.4" />
<text x="339.3" y="1542.6" font-size="24" text-anchor="middle" fill="#000" font-family='"Liberation Sans",sans-serif' font-weight="bold" >500</text>
<line x1="374" y1="1508.2" x2="374" y2="1513.2" stroke="#000" stroke-width="2.4" />
<line x1="408.6" y1="1508.2" x2="408.6" y2="1517.2" stroke="#000" stroke-width="2.4" />
<text x="408.6" y="1542.6" font-size="24" text-anchor="middle" fill="#000" font-family='"Liberation Sans",sans-serif' font-weight="bold" >550</text>
<line x1="443.3" y1="1508.2" x2="443.3" y2="1513.2" stroke="#000" stroke-width="2.4" />
<line x1="478" y1="1508.2" x2="478" y2="1517.2" stroke="#000" stroke-width="2.4" />
<text x="478" y="1542.6" font-size="24" text-anchor="middle" fill="#000" font-family='"Liberation Sans",sans-serif' font-weight="bold" >600</text>
<line x1="512.7" y1="1508.2" x2="512.7" y2="1513.2" stroke="#000" stroke-width="2.4" />
<line x1="547.4" y1="1508.2" x2="547.4" y2="1517.2" stroke="#000" stroke-width="2.4" />
<text x="547.4" y="1542.6" font-size="24" text-anchor="middle" fill="#000" font-family='"Liberation Sans",sans-serif' font-weight="bold" >650</text>
<line x1="582" y1="1508.2" x2="582" y2="1513.2" stroke="#000" stroke-width="2.4" />
<line x1="616.7" y1="1508.2" x2="616.7" y2="1517.2" stroke="#000" stroke-width="2.4" />
<text x="616.7" y="1542.6" font-size="24" text-anchor="middle" fill="#000" font-family='"Liberation Sans",sans-serif' font-weight="bold" >700</text>
<line x1="651.4" y1="1508.2" x2="651.4" y2="1513.2" stroke="#000" stroke-width="2.4" />
<line x1="686" y1="1508.2" x2="686" y2="1517.2" stroke="#000" stroke-width="2.4" />
<text x="686" y="1542.6" font-size="24" text-anchor="middle" fill="#000" font-family='"Liberation Sans",sans-serif' font-weight="bold" >750</text>
<line x1="720.7" y1="1508.2" x2="720.7" y2="1513.2" stroke="#000" stroke-width="2.4" />
<text x="436" y="1587" font-size="25" text-anchor="middle" fill="#000" font-family='"Liberation Sans",sans-serif' font-weight="bold" >Wavelength/(nm)</text>
<text transform="translate(101,1276) rotate(-90)" font-size="25" text-anchor="middle" fill="#000" font-family='"Liberation Sans",sans-serif' font-weight="bold">Intensity</text>
<g clip-path="url(#clipg)" fill="none" stroke-linejoin="round" stroke-linecap="round">
<polyline points="145.2,1455.2 147.3,1456.6 149.4,1458 151.4,1459.4 153.5,1460.7 155.6,1462 157.7,1463.3 159.8,1464.6 161.8,1465.8 163.9,1466.4 166,1466.9 168.1,1467.4 170.2,1467.9 172.2,1468.5 174.3,1468.3 176.4,1467.8 178.5,1467.4 180.6,1466.9 182.6,1465.6 184.7,1463.9 186.8,1462.2 188.9,1460.6 191,1459.3 193.1,1458 195.1,1458 197.2,1458.4 199.3,1458.9 201.4,1458.6 203.5,1458.3 205.5,1458 207.6,1458.4 209.7,1459.1 211.8,1460 213.9,1465.9 215.9,1468.7 218,1470.3 220.1,1471.5 222.2,1472.5 224.3,1473.4 226.3,1474.4 228.4,1475.4 230.5,1476 232.6,1476.7 234.7,1477.3 236.7,1477.9 238.8,1478.5 240.9,1479.1 243,1479.6 245.1,1480 247.1,1480.4 249.2,1480.7 251.3,1480.9 253.4,1481.1 255.5,1481.2 257.5,1481.1 259.6,1480.9 261.7,1480.5 263.8,1480 265.9,1479.3 267.9,1478.4 270,1477.4 272.1,1476 274.2,1474.4 276.3,1472.7 278.4,1470.9 280.4,1469.1 282.5,1467.2 284.6,1465.4 286.7,1463.6 288.8,1461.9 290.8,1460.4 292.9,1459 295,1457.8 297.1,1456.7 299.2,1455.6 301.2,1454.6 303.3,1453.8 305.4,1452.9 307.5,1452.2 309.6,1451.5 311.6,1450.8 313.7,1450.2 315.8,1449.6 317.9,1449.1 320,1448.7 322,1448.4 324.1,1448.2 326.2,1448.2 328.3,1448.3 330.4,1448.5 332.4,1448.8 334.5,1449.1 336.6,1449.5 338.7,1449.9 340.8,1450.3 342.8,1450.8 344.9,1451.3 347,1451.9 349.1,1452.5 351.2,1453.2 353.2,1453.8 355.3,1454.5 357.4,1455.2 359.5,1455.8 361.6,1456.3 363.7,1456.6 365.7,1456.7 367.8,1456.6 369.9,1456 372,1454.9 374.1,1453.1 376.1,1450.3 378.2,1446.3 380.3,1441.1 382.4,1434.3 384.5,1425.7 386.5,1415.4 388.6,1403.2 390.7,1389.1 392.8,1373.4 394.9,1356.2 396.9,1338.1 399,1319.6 401.1,1301.3 403.2,1283.8 405.3,1267.9 407.3,1254.4 409.4,1243.9 411.5,1236.8 413.6,1233.6 415.7,1233.9 417.7,1236.2 419.8,1240.5 421.9,1246.5 424,1254 426.1,1262.9 428.1,1273 430.2,1284 432.3,1295.5 434.4,1307.4 436.5,1319.4 438.6,1331.2 440.6,1342.7 442.7,1353.6 444.8,1363.8 446.9,1373.2 449,1381.7 451,1389.2 453.1,1395.9 455.2,1401.6 457.3,1406.5 459.4,1410.7 461.4,1414.1 463.5,1417 465.6,1419.3 467.7,1421.3 469.8,1423 471.8,1424.5 473.9,1425.9 476,1427.2 478.1,1428.5 480.2,1429.8 482.2,1431.3 484.3,1432.8 486.4,1434.5 488.5,1436.4 490.6,1438.4 492.6,1440.5 494.7,1442.8 496.8,1445.2 498.9,1447.7 501,1450.2 503,1452.8 505.1,1455.3 507.2,1457.9 509.3,1460.4 511.4,1462.9 513.4,1465.3 515.5,1467.6 517.6,1469.8 519.7,1471.9 521.8,1473.9 523.9,1475.8 525.9,1477.6 528,1479.2 530.1,1480.7 532.2,1482.2 534.3,1483.5 536.3,1484.7 538.4,1485.9 540.5,1486.9 542.6,1487.9 544.7,1488.8 546.7,1489.7 548.8,1490.4 550.9,1491.2 553,1491.8 555.1,1492.5 557.1,1493.1 559.2,1493.7 561.3,1494.2 563.4,1494.8 565.5,1495.3 567.5,1495.8 569.6,1496.3 571.7,1496.8 573.8,1497.3 575.9,1497.8 577.9,1498.2 580,1498.6 582.1,1499.1 584.2,1499.5 586.3,1499.9 588.3,1500.3 590.4,1500.7 592.5,1501 594.6,1501.4 596.7,1501.7 598.7,1502.1 600.8,1502.4 602.9,1502.7 605,1503 607.1,1503.3 609.2,1503.6 611.2,1503.8 613.3,1504.1 615.4,1504.3 617.5,1504.5 619.6,1504.7 621.6,1504.9 623.7,1505 625.8,1505.2 627.9,1505.3 630,1505.5 632,1505.6 634.1,1505.7 636.2,1505.8 638.3,1505.9 640.4,1506 642.4,1506.1 644.5,1506.2 646.6,1506.3 648.7,1506.4 650.8,1506.4 652.8,1506.5 654.9,1506.5 657,1506.6 659.1,1506.6 661.2,1506.7 663.2,1506.7 665.3,1506.7 667.4,1506.8 669.5,1506.8 671.6,1506.8 673.6,1506.8 675.7,1506.8 677.8,1506.9 679.9,1506.9 682,1506.9 684,1506.9 686.1,1506.9 688.2,1506.9 690.3,1506.9 692.4,1506.9 694.5,1507 696.5,1507 698.6,1507 700.7,1507 702.8,1507 704.9,1507 706.9,1507 709,1507 711.1,1507 713.2,1507 715.3,1507 717.3,1507 719.4,1507 721.5,1507 723.6,1507 725.7,1507 727.7,1507" stroke="#000000" stroke-width="2"/>
<polyline points="145.2,1455.2 147.3,1456.6 149.4,1458 151.4,1459.4 153.5,1460.7 155.6,1462 157.7,1463.3 159.8,1464.6 161.8,1465.8 163.9,1466.4 166,1466.9 168.1,1467.4 170.2,1467.9 172.2,1468.5 174.3,1468.3 176.4,1467.8 178.5,1467.4 180.6,1466.9 182.6,1465.6 184.7,1463.9 186.8,1462.2 188.9,1460.6 191,1459.3 193.1,1458 195.1,1458 197.2,1458.4 199.3,1458.9 201.4,1458.6 203.5,1458.3 205.5,1458 207.6,1458.4 209.7,1459.1 211.8,1460 213.9,1465.9 215.9,1468.8 218,1470.3 220.1,1471.5 222.2,1472.5 224.3,1473.5 226.3,1474.5 228.4,1475.4 230.5,1476.1 232.6,1476.7 234.7,1477.4 236.7,1478 238.8,1478.6 240.9,1479.2 243,1479.8 245.1,1480.2 247.1,1480.7 249.2,1481 251.3,1481.4 253.4,1481.7 255.5,1481.9 257.5,1481.9 259.6,1481.8 261.7,1481.6 263.8,1481.3 265.9,1480.9 267.9,1480.3 270,1479.6 272.1,1478.6 274.2,1477.5 276.3,1476.2 278.4,1474.9 280.4,1473.6 282.5,1472.2 284.6,1470.8 286.7,1469.5 288.8,1468.3 290.8,1467.1 292.9,1466.1 295,1465.2 297.1,1464.4 299.2,1463.7 301.2,1462.9 303.3,1462.3 305.4,1461.7 307.5,1461.1 309.6,1460.6 311.6,1460.1 313.7,1459.6 315.8,1459.2 317.9,1458.8 320,1458.6 322,1458.4 324.1,1458.2 326.2,1458.3 328.3,1458.4 330.4,1458.6 332.4,1458.8 334.5,1459.1 336.6,1459.4 338.7,1459.7 340.8,1460.1 342.8,1460.5 344.9,1460.9 347,1461.4 349.1,1461.9 351.2,1462.4 353.2,1462.9 355.3,1463.5 357.4,1464 359.5,1464.5 361.6,1464.9 363.7,1465.3 365.7,1465.4 367.8,1465.5 369.9,1465.2 372,1464.6 374.1,1463.6 376.1,1461.9 378.2,1459.4 380.3,1456.1 382.4,1451.8 384.5,1446.4 386.5,1439.8 388.6,1431.9 390.7,1422.8 392.8,1412.6 394.9,1401.4 396.9,1389.5 399,1377.3 401.1,1365 403.2,1353.1 405.3,1342.1 407.3,1332.4 409.4,1324.4 411.5,1318.4 413.6,1314.5 415.7,1312.6 417.7,1311.8 419.8,1312 421.9,1313 424,1314.8 426.1,1317.1 428.1,1319.9 430.2,1323 432.3,1326.2 434.4,1329.5 436.5,1332.6 438.6,1335.4 440.6,1337.8 442.7,1339.7 444.8,1341 446.9,1341.7 449,1341.9 451,1341.5 453.1,1340.5 455.2,1339 457.3,1337.2 459.4,1335 461.4,1332.6 463.5,1330.1 465.6,1327.6 467.7,1325.2 469.8,1323 471.8,1321.1 473.9,1319.6 476,1318.5 478.1,1317.9 480.2,1317.9 482.2,1318.4 484.3,1319.4 486.4,1320.8 488.5,1322.8 490.6,1325.1 492.6,1327.9 494.7,1331.1 496.8,1334.6 498.9,1338.5 501,1342.8 503,1347.3 505.1,1352 507.2,1356.9 509.3,1362 511.4,1367.2 513.4,1372.5 515.5,1377.9 517.6,1383.3 519.7,1388.6 521.8,1393.9 523.9,1399.2 525.9,1404.4 528,1409.5 530.1,1414.4 532.2,1419.2 534.3,1423.9 536.3,1428.4 538.4,1432.7 540.5,1436.9 542.6,1440.9 544.7,1444.7 546.7,1448.3 548.8,1451.7 550.9,1454.9 553,1458 555.1,1460.9 557.1,1463.6 559.2,1466.1 561.3,1468.5 563.4,1470.8 565.5,1472.9 567.5,1474.9 569.6,1476.7 571.7,1478.4 573.8,1480 575.9,1481.5 577.9,1482.9 580,1484.2 582.1,1485.4 584.2,1486.5 586.3,1487.6 588.3,1488.6 590.4,1489.5 592.5,1490.4 594.6,1491.2 596.7,1492 598.7,1492.7 600.8,1493.4 602.9,1494 605,1494.7 607.1,1495.3 609.2,1495.8 611.2,1496.4 613.3,1496.9 615.4,1497.4 617.5,1497.8 619.6,1498.3 621.6,1498.7 623.7,1499.1 625.8,1499.5 627.9,1499.8 630,1500.2 632,1500.5 634.1,1500.9 636.2,1501.2 638.3,1501.5 640.4,1501.8 642.4,1502.1 644.5,1502.4 646.6,1502.6 648.7,1502.9 650.8,1503.1 652.8,1503.3 654.9,1503.6 657,1503.8 659.1,1504 661.2,1504.2 663.2,1504.4 665.3,1504.5 667.4,1504.7 669.5,1504.9 671.6,1505 673.6,1505.2 675.7,1505.3 677.8,1505.4 679.9,1505.5 682,1505.6 684,1505.7 686.1,1505.8 688.2,1505.9 690.3,1506 692.4,1506.1 694.5,1506.2 696.5,1506.2 698.6,1506.3 700.7,1506.4 702.8,1506.4 704.9,1506.5 706.9,1506.5 709,1506.6 711.1,1506.6 713.2,1506.6 715.3,1506.7 717.3,1506.7 719.4,1506.7 721.5,1506.8 723.6,1506.8 725.7,1506.8 727.7,1506.8" stroke="#ff2a2a" stroke-width="2.6"/>
<polyline points="145.2,1455.2 147.3,1456.6 149.4,1458 151.4,1459.4 153.5,1460.7 155.6,1462 157.7,1463.3 159.8,1464.6 161.8,1465.8 163.9,1466.4 166,1466.9 168.1,1467.4 170.2,1467.9 172.2,1468.5 174.3,1468.3 176.4,1467.8 178.5,1467.4 180.6,1466.9 182.6,1465.6 184.7,1463.9 186.8,1462.2 188.9,1460.6 191,1459.3 193.1,1458 195.1,1458 197.2,1458.4 199.3,1458.9 201.4,1458.6 203.5,1458.3 205.5,1458 207.6,1458.4 209.7,1459.1 211.8,1460 213.9,1465.9 215.9,1468.8 218,1470.3 220.1,1471.5 222.2,1472.5 224.3,1473.5 226.3,1474.5 228.4,1475.5 230.5,1476.1 232.6,1476.8 234.7,1477.5 236.7,1478.1 238.8,1478.7 240.9,1479.4 243,1479.9 245.1,1480.4 247.1,1480.9 249.2,1481.3 251.3,1481.7 253.4,1482.1 255.5,1482.4 257.5,1482.5 259.6,1482.5 261.7,1482.5 263.8,1482.3 265.9,1482.1 267.9,1481.7 270,1481.3 272.1,1480.5 274.2,1479.7 276.3,1478.8 278.4,1477.8 280.4,1476.8 282.5,1475.7 284.6,1474.7 286.7,1473.7 288.8,1472.8 290.8,1472 292.9,1471.2 295,1470.6 297.1,1470 299.2,1469.4 301.2,1468.9 303.3,1468.4 305.4,1467.9 307.5,1467.5 309.6,1467.1 311.6,1466.8 313.7,1466.4 315.8,1466.1 317.9,1465.9 320,1465.7 322,1465.5 324.1,1465.5 326.2,1465.5 328.3,1465.6 330.4,1465.8 332.4,1466 334.5,1466.3 336.6,1466.5 338.7,1466.8 340.8,1467.1 342.8,1467.5 344.9,1467.8 347,1468.2 349.1,1468.6 351.2,1469.1 353.2,1469.5 355.3,1469.9 357.4,1470.4 359.5,1470.8 361.6,1471.2 363.7,1471.5 365.7,1471.7 367.8,1471.8 369.9,1471.7 372,1471.4 374.1,1470.8 376.1,1469.7 378.2,1468 380.3,1465.8 382.4,1462.9 384.5,1459.1 386.5,1454.5 388.6,1449.1 390.7,1442.7 392.8,1435.5 394.9,1427.6 396.9,1419.2 399,1410.4 401.1,1401.5 403.2,1392.8 405.3,1384.6 407.3,1377.2 409.4,1370.8 411.5,1365.6 413.6,1361.8 415.7,1359.1 417.7,1357 419.8,1355.4 421.9,1354.1 424,1353.1 426.1,1352.3 428.1,1351.5 430.2,1350.7 432.3,1349.8 434.4,1348.6 436.5,1347.1 438.6,1345.1 440.6,1342.7 442.7,1339.6 444.8,1336 446.9,1331.8 449,1327.1 451,1321.8 453.1,1316 455.2,1309.8 457.3,1303.3 459.4,1296.7 461.4,1289.9 463.5,1283.2 465.6,1276.6 467.7,1270.3 469.8,1264.4 471.8,1258.9 473.9,1254.1 476,1249.9 478.1,1246.5 480.2,1243.9 482.2,1242.1 484.3,1241.2 486.4,1241.3 488.5,1242.2 490.6,1243.7 492.6,1245.8 494.7,1248.6 496.8,1252 498.9,1256 501,1260.5 503,1265.6 505.1,1271 507.2,1276.9 509.3,1283.2 511.4,1289.8 513.4,1296.7 515.5,1303.7 517.6,1311 519.7,1318.4 521.8,1325.9 523.9,1333.4 525.9,1340.9 528,1348.4 530.1,1355.9 532.2,1363.2 534.3,1370.4 536.3,1377.4 538.4,1384.3 540.5,1391 542.6,1397.4 544.7,1403.6 546.7,1409.6 548.8,1415.3 550.9,1420.7 553,1425.9 555.1,1430.8 557.1,1435.4 559.2,1439.8 561.3,1443.9 563.4,1447.7 565.5,1451.4 567.5,1454.7 569.6,1457.9 571.7,1460.8 573.8,1463.6 575.9,1466.1 577.9,1468.5 580,1470.7 582.1,1472.7 584.2,1474.6 586.3,1476.3 588.3,1477.9 590.4,1479.4 592.5,1480.8 594.6,1482.1 596.7,1483.4 598.7,1484.5 600.8,1485.5 602.9,1486.5 605,1487.5 607.1,1488.4 609.2,1489.2 611.2,1490 613.3,1490.8 615.4,1491.5 617.5,1492.2 619.6,1492.8 621.6,1493.4 623.7,1494 625.8,1494.6 627.9,1495.2 630,1495.7 632,1496.2 634.1,1496.7 636.2,1497.2 638.3,1497.7 640.4,1498.1 642.4,1498.6 644.5,1499 646.6,1499.4 648.7,1499.8 650.8,1500.2 652.8,1500.6 654.9,1500.9 657,1501.3 659.1,1501.6 661.2,1501.9 663.2,1502.3 665.3,1502.6 667.4,1502.8 669.5,1503.1 671.6,1503.4 673.6,1503.6 675.7,1503.8 677.8,1504.1 679.9,1504.3 682,1504.5 684,1504.6 686.1,1504.8 688.2,1505 690.3,1505.1 692.4,1505.3 694.5,1505.4 696.5,1505.5 698.6,1505.7 700.7,1505.8 702.8,1505.9 704.9,1506 706.9,1506.1 709,1506.1 711.1,1506.2 713.2,1506.3 715.3,1506.4 717.3,1506.4 719.4,1506.5 721.5,1506.5 723.6,1506.6 725.7,1506.6 727.7,1506.6" stroke="#2a2aff" stroke-width="2.6"/>
<polyline points="145.2,1455.2 147.3,1456.6 149.4,1458 151.4,1459.4 153.5,1460.7 155.6,1462 157.7,1463.3 159.8,1464.6 161.8,1465.8 163.9,1466.4 166,1466.9 168.1,1467.4 170.2,1467.9 172.2,1468.5 174.3,1468.3 176.4,1467.8 178.5,1467.4 180.6,1466.9 182.6,1465.6 184.7,1463.9 186.8,1462.2 188.9,1460.6 191,1459.3 193.1,1458 195.1,1458 197.2,1458.4 199.3,1458.9 201.4,1458.6 203.5,1458.3 205.5,1458 207.6,1458.4 209.7,1459.1 211.8,1460 213.9,1465.9 215.9,1468.8 218,1470.3 220.1,1471.5 222.2,1472.5 224.3,1473.5 226.3,1474.5 228.4,1475.5 230.5,1476.2 232.6,1476.8 234.7,1477.5 236.7,1478.2 238.8,1478.8 240.9,1479.5 243,1480 245.1,1480.6 247.1,1481 249.2,1481.5 251.3,1482 253.4,1482.4 255.5,1482.7 257.5,1482.9 259.6,1483 261.7,1483.1 263.8,1483.1 265.9,1483 267.9,1482.8 270,1482.5 272.1,1481.9 274.2,1481.3 276.3,1480.6 278.4,1479.9 280.4,1479.1 282.5,1478.3 284.6,1477.6 286.7,1476.8 288.8,1476.2 290.8,1475.5 292.9,1475 295,1474.5 297.1,1474.1 299.2,1473.7 301.2,1473.3 303.3,1472.9 305.4,1472.6 307.5,1472.3 309.6,1472 311.6,1471.7 313.7,1471.5 315.8,1471.2 317.9,1471 320,1470.9 322,1470.8 324.1,1470.8 326.2,1470.9 328.3,1471 330.4,1471.2 332.4,1471.4 334.5,1471.6 336.6,1471.8 338.7,1472.1 340.8,1472.3 342.8,1472.6 344.9,1472.9 347,1473.3 349.1,1473.6 351.2,1474 353.2,1474.4 355.3,1474.7 357.4,1475.1 359.5,1475.5 361.6,1475.8 363.7,1476.1 365.7,1476.3 367.8,1476.4 369.9,1476.4 372,1476.3 374.1,1475.8 376.1,1475.1 378.2,1473.9 380.3,1472.3 382.4,1470.1 384.5,1467.3 386.5,1463.9 388.6,1459.8 390.7,1455 392.8,1449.6 394.9,1443.6 396.9,1437.2 399,1430.5 401.1,1423.7 403.2,1417 405.3,1410.6 407.3,1404.7 409.4,1399.5 411.5,1395.1 413.6,1391.6 415.7,1388.9 417.7,1386.6 419.8,1384.4 421.9,1382.4 424,1380.4 426.1,1378.5 428.1,1376.4 430.2,1374.1 432.3,1371.6 434.4,1368.7 436.5,1365.4 438.6,1361.5 440.6,1357.1 442.7,1352.1 444.8,1346.5 446.9,1340.4 449,1333.6 451,1326.3 453.1,1318.5 455.2,1310.3 457.3,1301.8 459.4,1293.2 461.4,1284.4 463.5,1275.6 465.6,1267 467.7,1258.7 469.8,1250.7 471.8,1243.2 473.9,1236.4 476,1230.2 478.1,1224.9 480.2,1220.3 482.2,1216.7 484.3,1214.1 486.4,1212.5 488.5,1212 490.6,1212.4 492.6,1213.7 494.7,1215.6 496.8,1218.3 498.9,1221.6 501,1225.6 503,1230.2 505.1,1235.4 507.2,1241.1 509.3,1247.4 511.4,1254 513.4,1261.1 515.5,1268.5 517.6,1276.2 519.7,1284.1 521.8,1292.2 523.9,1300.5 525.9,1308.8 528,1317.2 530.1,1325.6 532.2,1333.9 534.3,1342.2 536.3,1350.3 538.4,1358.3 540.5,1366.1 542.6,1373.7 544.7,1381.1 546.7,1388.2 548.8,1395 550.9,1401.6 553,1407.8 555.1,1413.8 557.1,1419.4 559.2,1424.8 561.3,1429.9 563.4,1434.6 565.5,1439.1 567.5,1443.3 569.6,1447.2 571.7,1450.9 573.8,1454.3 575.9,1457.5 577.9,1460.4 580,1463.1 582.1,1465.7 584.2,1468 586.3,1470.2 588.3,1472.2 590.4,1474 592.5,1475.7 594.6,1477.3 596.7,1478.8 598.7,1480.2 600.8,1481.5 602.9,1482.7 605,1483.8 607.1,1484.8 609.2,1485.8 611.2,1486.8 613.3,1487.6 615.4,1488.5 617.5,1489.3 619.6,1490 621.6,1490.8 623.7,1491.5 625.8,1492.1 627.9,1492.8 630,1493.4 632,1494 634.1,1494.6 636.2,1495.1 638.3,1495.7 640.4,1496.2 642.4,1496.7 644.5,1497.2 646.6,1497.7 648.7,1498.2 650.8,1498.7 652.8,1499.1 654.9,1499.5 657,1499.9 659.1,1500.3 661.2,1500.7 663.2,1501.1 665.3,1501.4 667.4,1501.8 669.5,1502.1 671.6,1502.4 673.6,1502.7 675.7,1503 677.8,1503.3 679.9,1503.5 682,1503.8 684,1504 686.1,1504.2 688.2,1504.4 690.3,1504.6 692.4,1504.8 694.5,1505 696.5,1505.1 698.6,1505.3 700.7,1505.4 702.8,1505.5 704.9,1505.7 706.9,1505.8 709,1505.9 711.1,1506 713.2,1506.1 715.3,1506.2 717.3,1506.2 719.4,1506.3 721.5,1506.4 723.6,1506.4 725.7,1506.5 727.7,1506.5" stroke="#ff22ff" stroke-width="2.6"/>
<polyline points="145.2,1455.2 147.3,1456.6 149.4,1458 151.4,1459.4 153.5,1460.7 155.6,1462 157.7,1463.3 159.8,1464.6 161.8,1465.8 163.9,1466.4 166,1466.9 168.1,1467.4 170.2,1467.9 172.2,1468.5 174.3,1468.3 176.4,1467.8 178.5,1467.4 180.6,1466.9 182.6,1465.6 184.7,1463.9 186.8,1462.2 188.9,1460.6 191,1459.3 193.1,1458 195.1,1458 197.2,1458.4 199.3,1458.9 201.4,1458.6 203.5,1458.3 205.5,1458 207.6,1458.4 209.7,1459.1 211.8,1460 213.9,1465.9 215.9,1468.8 218,1470.3 220.1,1471.5 222.2,1472.5 224.3,1473.5 226.3,1474.5 228.4,1475.5 230.5,1476.2 232.6,1476.9 234.7,1477.5 236.7,1478.2 238.8,1478.9 240.9,1479.5 243,1480.1 245.1,1480.7 247.1,1481.2 249.2,1481.7 251.3,1482.2 253.4,1482.6 255.5,1483 257.5,1483.3 259.6,1483.5 261.7,1483.6 263.8,1483.7 265.9,1483.7 267.9,1483.7 270,1483.6 272.1,1483.2 274.2,1482.8 276.3,1482.3 278.4,1481.8 280.4,1481.2 282.5,1480.7 284.6,1480.1 286.7,1479.6 288.8,1479.1 290.8,1478.7 292.9,1478.3 295,1478 297.1,1477.8 299.2,1477.5 301.2,1477.2 303.3,1476.9 305.4,1476.7 307.5,1476.4 309.6,1476.2 311.6,1476.1 313.7,1475.9 315.8,1475.7 317.9,1475.6 320,1475.5 322,1475.5 324.1,1475.5 326.2,1475.6 328.3,1475.7 330.4,1475.9 332.4,1476.1 334.5,1476.3 336.6,1476.5 338.7,1476.7 340.8,1476.9 342.8,1477.2 344.9,1477.4 347,1477.7 349.1,1478 351.2,1478.3 353.2,1478.6 355.3,1478.9 357.4,1479.3 359.5,1479.6 361.6,1479.8 363.7,1480.1 365.7,1480.3 367.8,1480.4 369.9,1480.4 372,1480.3 374.1,1480 376.1,1479.5 378.2,1478.6 380.3,1477.4 382.4,1475.8 384.5,1473.6 386.5,1471 388.6,1467.8 390.7,1464.1 392.8,1459.9 394.9,1455.2 396.9,1450.2 399,1445 401.1,1439.6 403.2,1434.2 405.3,1429 407.3,1424.1 409.4,1419.7 411.5,1415.8 413.6,1412.5 415.7,1409.8 417.7,1407.2 419.8,1404.6 421.9,1402 424,1399.3 426.1,1396.5 428.1,1393.5 430.2,1390.1 432.3,1386.4 434.4,1382.3 436.5,1377.7 438.6,1372.5 440.6,1366.8 442.7,1360.4 444.8,1353.5 446.9,1345.9 449,1337.8 451,1329.1 453.1,1320 455.2,1310.5 457.3,1300.7 459.4,1290.7 461.4,1280.6 463.5,1270.5 465.6,1260.6 467.7,1250.9 469.8,1241.6 471.8,1232.9 473.9,1224.7 476,1217.3 478.1,1210.7 480.2,1205 482.2,1200.2 484.3,1196.4 486.4,1193.8 488.5,1192.3 490.6,1191.9 492.6,1192.5 494.7,1193.9 496.8,1196 498.9,1199 501,1202.6 503,1206.9 505.1,1211.9 507.2,1217.5 509.3,1223.7 511.4,1230.4 513.4,1237.6 515.5,1245.2 517.6,1253.1 519.7,1261.4 521.8,1269.9 523.9,1278.6 525.9,1287.5 528,1296.5 530.1,1305.5 532.2,1314.4 534.3,1323.4 536.3,1332.2 538.4,1340.9 540.5,1349.5 542.6,1357.9 544.7,1366 546.7,1373.8 548.8,1381.4 550.9,1388.7 553,1395.7 555.1,1402.3 557.1,1408.7 559.2,1414.7 561.3,1420.4 563.4,1425.8 565.5,1430.8 567.5,1435.6 569.6,1440 571.7,1444.1 573.8,1448 575.9,1451.6 577.9,1454.9 580,1458 582.1,1460.9 584.2,1463.5 586.3,1466 588.3,1468.2 590.4,1470.3 592.5,1472.3 594.6,1474.1 596.7,1475.7 598.7,1477.3 600.8,1478.7 602.9,1480 605,1481.3 607.1,1482.4 609.2,1483.5 611.2,1484.6 613.3,1485.5 615.4,1486.5 617.5,1487.3 619.6,1488.2 621.6,1489 623.7,1489.7 625.8,1490.5 627.9,1491.2 630,1491.8 632,1492.5 634.1,1493.1 636.2,1493.8 638.3,1494.4 640.4,1494.9 642.4,1495.5 644.5,1496.1 646.6,1496.6 648.7,1497.1 650.8,1497.6 652.8,1498.1 654.9,1498.6 657,1499 659.1,1499.5 661.2,1499.9 663.2,1500.3 665.3,1500.7 667.4,1501.1 669.5,1501.4 671.6,1501.8 673.6,1502.1 675.7,1502.4 677.8,1502.7 679.9,1503 682,1503.3 684,1503.6 686.1,1503.8 688.2,1504 690.3,1504.3 692.4,1504.5 694.5,1504.7 696.5,1504.8 698.6,1505 700.7,1505.2 702.8,1505.3 704.9,1505.5 706.9,1505.6 709,1505.7 711.1,1505.8 713.2,1505.9 715.3,1506 717.3,1506.1 719.4,1506.2 721.5,1506.3 723.6,1506.3 725.7,1506.4 727.7,1506.5" stroke="#0f8f1f" stroke-width="2.6"/>
<polyline points="145.2,1455.2 147.3,1456.6 149.4,1458 151.4,1459.4 153.5,1460.7 155.6,1462 157.7,1463.3 159.8,1464.6 161.8,1465.8 163.9,1466.4 166,1466.9 168.1,1467.4 170.2,1467.9 172.2,1468.5 174.3,1468.3 176.4,1467.8 178.5,1467.4 180.6,1466.9 182.6,1465.6 184.7,1463.9 186.8,1462.2 188.9,1460.6 191,1459.3 193.1,1458 195.1,1458 197.2,1458.4 199.3,1458.9 201.4,1458.6 203.5,1458.3 205.5,1458 207.6,1458.4 209.7,1459.1 211.8,1460 213.9,1465.9 215.9,1468.8 218,1470.4 220.1,1471.5 222.2,1472.5 224.3,1473.5 226.3,1474.5 228.4,1475.5 230.5,1476.2 232.6,1476.9 234.7,1477.6 236.7,1478.3 238.8,1478.9 240.9,1479.6 243,1480.2 245.1,1480.8 247.1,1481.3 249.2,1481.8 251.3,1482.3 253.4,1482.8 255.5,1483.2 257.5,1483.6 259.6,1483.8 261.7,1484 263.8,1484.1 265.9,1484.2 267.9,1484.3 270,1484.3 272.1,1484 274.2,1483.7 276.3,1483.4 278.4,1483 280.4,1482.6 282.5,1482.2 284.6,1481.8 286.7,1481.4 288.8,1481.1 290.8,1480.8 292.9,1480.6 295,1480.4 297.1,1480.2 299.2,1480 301.2,1479.8 303.3,1479.6 305.4,1479.4 307.5,1479.2 309.6,1479.1 311.6,1479 313.7,1478.8 315.8,1478.7 317.9,1478.7 320,1478.6 322,1478.6 324.1,1478.6 326.2,1478.7 328.3,1478.9 330.4,1479 332.4,1479.2 334.5,1479.4 336.6,1479.6 338.7,1479.8 340.8,1480 342.8,1480.2 344.9,1480.4 347,1480.7 349.1,1480.9 351.2,1481.2 353.2,1481.5 355.3,1481.8 357.4,1482 359.5,1482.3 361.6,1482.6 363.7,1482.8 365.7,1483 367.8,1483.1 369.9,1483.2 372,1483.2 374.1,1483.1 376.1,1482.7 378.2,1482.1 380.3,1481.3 382.4,1480.1 384.5,1478.6 386.5,1476.7 388.6,1474.4 390.7,1471.7 392.8,1468.6 394.9,1465.1 396.9,1461.4 399,1457.4 401.1,1453.3 403.2,1449.2 405.3,1445.1 407.3,1441.2 409.4,1437.6 411.5,1434.3 413.6,1431.3 415.7,1428.7 417.7,1426 419.8,1423.2 421.9,1420.4 424,1417.3 426.1,1413.9 428.1,1410.2 430.2,1406.2 432.3,1401.7 434.4,1396.8 436.5,1391.4 438.6,1385.4 440.6,1378.7 442.7,1371.5 444.8,1363.7 446.9,1355.3 449,1346.3 451,1336.8 453.1,1326.8 455.2,1316.5 457.3,1305.9 459.4,1295 461.4,1284.1 463.5,1273.1 465.6,1262.3 467.7,1251.7 469.8,1241.5 471.8,1231.8 473.9,1222.7 476,1214.2 478.1,1206.6 480.2,1199.8 482.2,1194 484.3,1189.2 486.4,1185.6 488.5,1183.1 490.6,1181.7 492.6,1181.6 494.7,1182.3 496.8,1183.9 498.9,1186.2 501,1189.4 503,1193.2 505.1,1197.8 507.2,1203.1 509.3,1209 511.4,1215.5 513.4,1222.5 515.5,1230 517.6,1237.9 519.7,1246.2 521.8,1254.8 523.9,1263.7 525.9,1272.7 528,1281.9 530.1,1291.2 532.2,1300.5 534.3,1309.9 536.3,1319.1 538.4,1328.3 540.5,1337.3 542.6,1346.1 544.7,1354.7 546.7,1363.1 548.8,1371.2 550.9,1379 553,1386.5 555.1,1393.6 557.1,1400.5 559.2,1407 561.3,1413.1 563.4,1418.9 565.5,1424.4 567.5,1429.6 569.6,1434.4 571.7,1439 573.8,1443.2 575.9,1447.1 577.9,1450.7 580,1454.1 582.1,1457.3 584.2,1460.1 586.3,1462.8 588.3,1465.3 590.4,1467.6 592.5,1469.7 594.6,1471.6 596.7,1473.5 598.7,1475.1 600.8,1476.7 602.9,1478.1 605,1479.5 607.1,1480.7 609.2,1481.9 611.2,1483 613.3,1484.1 615.4,1485 617.5,1486 619.6,1486.9 621.6,1487.7 623.7,1488.5 625.8,1489.3 627.9,1490 630,1490.7 632,1491.4 634.1,1492.1 636.2,1492.8 638.3,1493.4 640.4,1494 642.4,1494.6 644.5,1495.2 646.6,1495.8 648.7,1496.3 650.8,1496.8 652.8,1497.4 654.9,1497.9 657,1498.3 659.1,1498.8 661.2,1499.3 663.2,1499.7 665.3,1500.1 667.4,1500.5 669.5,1500.9 671.6,1501.3 673.6,1501.7 675.7,1502 677.8,1502.3 679.9,1502.6 682,1502.9 684,1503.2 686.1,1503.5 688.2,1503.7 690.3,1504 692.4,1504.2 694.5,1504.4 696.5,1504.6 698.6,1504.8 700.7,1505 702.8,1505.1 704.9,1505.3 706.9,1505.4 709,1505.6 711.1,1505.7 713.2,1505.8 715.3,1505.9 717.3,1506 719.4,1506.1 721.5,1506.2 723.6,1506.3 725.7,1506.3 727.7,1506.4" stroke="#22228f" stroke-width="2.6"/>
<polyline points="145.2,1455.2 147.3,1456.6 149.4,1458 151.4,1459.4 153.5,1460.7 155.6,1462 157.7,1463.3 159.8,1464.6 161.8,1465.8 163.9,1466.4 166,1466.9 168.1,1467.4 170.2,1467.9 172.2,1468.5 174.3,1468.3 176.4,1467.8 178.5,1467.4 180.6,1466.9 182.6,1465.6 184.7,1463.9 186.8,1462.2 188.9,1460.6 191,1459.3 193.1,1458 195.1,1458 197.2,1458.4 199.3,1458.9 201.4,1458.6 203.5,1458.3 205.5,1458 207.6,1458.4 209.7,1459.1 211.8,1460 213.9,1465.9 215.9,1468.8 218,1470.4 220.1,1471.5 222.2,1472.5 224.3,1473.5 226.3,1474.5 228.4,1475.5 230.5,1476.2 232.6,1476.9 234.7,1477.6 236.7,1478.3 238.8,1479 240.9,1479.6 243,1480.3 245.1,1480.8 247.1,1481.4 249.2,1481.9 251.3,1482.5 253.4,1483 255.5,1483.4 257.5,1483.8 259.6,1484.1 261.7,1484.4 263.8,1484.6 265.9,1484.8 267.9,1484.9 270,1485 272.1,1484.9 274.2,1484.7 276.3,1484.5 278.4,1484.3 280.4,1484 282.5,1483.8 284.6,1483.5 286.7,1483.3 288.8,1483.1 290.8,1482.9 292.9,1482.8 295,1482.7 297.1,1482.6 299.2,1482.5 301.2,1482.3 303.3,1482.2 305.4,1482.1 307.5,1482 309.6,1481.9 311.6,1481.9 313.7,1481.8 315.8,1481.8 317.9,1481.7 320,1481.7 322,1481.7 324.1,1481.8 326.2,1481.9 328.3,1482 330.4,1482.2 332.4,1482.3 334.5,1482.5 336.6,1482.7 338.7,1482.9 340.8,1483.1 342.8,1483.2 344.9,1483.4 347,1483.7 349.1,1483.9 351.2,1484.1 353.2,1484.3 355.3,1484.6 357.4,1484.8 359.5,1485 361.6,1485.3 363.7,1485.4 365.7,1485.6 367.8,1485.7 369.9,1485.8 372,1485.9 374.1,1485.7 376.1,1485.5 378.2,1485 380.3,1484.3 382.4,1483.4 384.5,1482.1 386.5,1480.6 388.6,1478.6 390.7,1476.4 392.8,1473.8 394.9,1470.9 396.9,1467.8 399,1464.5 401.1,1461.1 403.2,1457.7 405.3,1454.3 407.3,1451 409.4,1447.9 411.5,1445.1 413.6,1442.6 415.7,1440.2 417.7,1437.8 419.8,1435.3 421.9,1432.7 424,1429.8 426.1,1426.7 428.1,1423.2 430.2,1419.3 432.3,1415 434.4,1410.2 436.5,1404.9 438.6,1399 440.6,1392.5 442.7,1385.3 444.8,1377.5 446.9,1369.1 449,1360.1 451,1350.5 453.1,1340.4 455.2,1329.8 457.3,1318.9 459.4,1307.6 461.4,1296.2 463.5,1284.6 465.6,1273.1 467.7,1261.7 469.8,1250.5 471.8,1239.7 473.9,1229.4 476,1219.7 478.1,1210.7 480.2,1202.4 482.2,1195 484.3,1188.6 486.4,1183.3 488.5,1179.1 490.6,1176.1 492.6,1174.3 494.7,1173.7 496.8,1174.1 498.9,1175.4 501,1177.4 503,1180.3 505.1,1184 507.2,1188.4 509.3,1193.5 511.4,1199.3 513.4,1205.7 515.5,1212.6 517.6,1220.1 519.7,1228.1 521.8,1236.4 523.9,1245.1 525.9,1254.1 528,1263.3 530.1,1272.7 532.2,1282.2 534.3,1291.7 536.3,1301.3 538.4,1310.8 540.5,1320.3 542.6,1329.6 544.7,1338.7 546.7,1347.6 548.8,1356.3 550.9,1364.7 553,1372.8 555.1,1380.6 557.1,1388.1 559.2,1395.3 561.3,1402.1 563.4,1408.5 565.5,1414.6 567.5,1420.4 569.6,1425.8 571.7,1430.9 573.8,1435.7 575.9,1440.1 577.9,1444.2 580,1448.1 582.1,1451.6 584.2,1454.9 586.3,1458 588.3,1460.8 590.4,1463.4 592.5,1465.8 594.6,1468.1 596.7,1470.1 598.7,1472 600.8,1473.8 602.9,1475.4 605,1476.9 607.1,1478.3 609.2,1479.6 611.2,1480.9 613.3,1482 615.4,1483.1 617.5,1484.1 619.6,1485.1 621.6,1486 623.7,1486.9 625.8,1487.7 627.9,1488.5 630,1489.3 632,1490 634.1,1490.8 636.2,1491.4 638.3,1492.1 640.4,1492.8 642.4,1493.4 644.5,1494 646.6,1494.6 648.7,1495.2 650.8,1495.8 652.8,1496.4 654.9,1496.9 657,1497.4 659.1,1497.9 661.2,1498.4 663.2,1498.9 665.3,1499.3 667.4,1499.8 669.5,1500.2 671.6,1500.6 673.6,1501 675.7,1501.4 677.8,1501.7 679.9,1502.1 682,1502.4 684,1502.7 686.1,1503 688.2,1503.3 690.3,1503.5 692.4,1503.8 694.5,1504 696.5,1504.2 698.6,1504.5 700.7,1504.7 702.8,1504.8 704.9,1505 706.9,1505.2 709,1505.3 711.1,1505.5 713.2,1505.6 715.3,1505.7 717.3,1505.8 719.4,1505.9 721.5,1506 723.6,1506.1 725.7,1506.2 727.7,1506.3" stroke="#9030ff" stroke-width="2.6"/>
<polyline points="145.2,1455.2 147.3,1456.6 149.4,1458 151.4,1459.4 153.5,1460.7 155.6,1462 157.7,1463.3 159.8,1464.6 161.8,1465.8 163.9,1466.4 166,1466.9 168.1,1467.4 170.2,1467.9 172.2,1468.5 174.3,1468.3 176.4,1467.8 178.5,1467.4 180.6,1466.9 182.6,1465.6 184.7,1463.9 186.8,1462.2 188.9,1460.6 191,1459.3 193.1,1458 195.1,1458 197.2,1458.4 199.3,1458.9 201.4,1458.6 203.5,1458.3 205.5,1458 207.6,1458.4 209.7,1459.1 211.8,1460.1 213.9,1465.9 215.9,1468.8 218,1470.4 220.1,1471.5 222.2,1472.5 224.3,1473.5 226.3,1474.5 228.4,1475.5 230.5,1476.2 232.6,1476.9 234.7,1477.6 236.7,1478.3 238.8,1479 240.9,1479.7 243,1480.3 245.1,1480.9 247.1,1481.5 249.2,1482 251.3,1482.6 253.4,1483.1 255.5,1483.6 257.5,1484 259.6,1484.3 261.7,1484.6 263.8,1484.9 265.9,1485.2 267.9,1485.4 270,1485.6 272.1,1485.5 274.2,1485.5 276.3,1485.4 278.4,1485.2 280.4,1485.1 282.5,1485 284.6,1484.9 286.7,1484.8 288.8,1484.7 290.8,1484.6 292.9,1484.6 295,1484.5 297.1,1484.6 299.2,1484.5 301.2,1484.4 303.3,1484.3 305.4,1484.3 307.5,1484.2 309.6,1484.2 311.6,1484.2 313.7,1484.2 315.8,1484.2 317.9,1484.2 320,1484.2 322,1484.2 324.1,1484.3 326.2,1484.4 328.3,1484.5 330.4,1484.7 332.4,1484.8 334.5,1485 336.6,1485.2 338.7,1485.3 340.8,1485.5 342.8,1485.7 344.9,1485.8 347,1486 349.1,1486.2 351.2,1486.4 353.2,1486.6 355.3,1486.8 357.4,1487 359.5,1487.2 361.6,1487.4 363.7,1487.5 365.7,1487.7 367.8,1487.8 369.9,1487.9 372,1487.9 374.1,1487.8 376.1,1487.5 378.2,1487.1 380.3,1486.5 382.4,1485.7 384.5,1484.6 386.5,1483.2 388.6,1481.5 390.7,1479.6 392.8,1477.3 394.9,1474.8 396.9,1472 399,1469.1 401.1,1466.1 403.2,1463 405.3,1459.9 407.3,1457 409.4,1454.1 411.5,1451.5 413.6,1449 415.7,1446.7 417.7,1444.3 419.8,1441.8 421.9,1439.1 424,1436.1 426.1,1432.8 428.1,1429.2 430.2,1425.1 432.3,1420.6 434.4,1415.7 436.5,1410.1 438.6,1404 440.6,1397.2 442.7,1389.9 444.8,1381.9 446.9,1373.2 449,1364 451,1354.2 453.1,1343.8 455.2,1333 457.3,1321.8 459.4,1310.3 461.4,1298.5 463.5,1286.7 465.6,1274.8 467.7,1263.1 469.8,1251.5 471.8,1240.3 473.9,1229.6 476,1219.5 478.1,1210 480.2,1201.2 482.2,1193.4 484.3,1186.5 486.4,1180.6 488.5,1175.9 490.6,1172.4 492.6,1170.1 494.7,1169 496.8,1169.1 498.9,1170.1 501,1171.8 503,1174.5 505.1,1177.9 507.2,1182 509.3,1187 511.4,1192.6 513.4,1198.8 515.5,1205.7 517.6,1213.1 519.7,1221 521.8,1229.3 523.9,1238 525.9,1247 528,1256.3 530.1,1265.7 532.2,1275.3 534.3,1285 536.3,1294.7 538.4,1304.4 540.5,1314 542.6,1323.6 544.7,1332.9 546.7,1342.1 548.8,1351 550.9,1359.6 553,1367.9 555.1,1376 557.1,1383.7 559.2,1391.1 561.3,1398.1 563.4,1404.8 565.5,1411.1 567.5,1417.1 569.6,1422.7 571.7,1428 573.8,1433 575.9,1437.6 577.9,1441.9 580,1445.9 582.1,1449.6 584.2,1453.1 586.3,1456.2 588.3,1459.2 590.4,1461.9 592.5,1464.4 594.6,1466.7 596.7,1468.9 598.7,1470.9 600.8,1472.7 602.9,1474.4 605,1476 607.1,1477.4 609.2,1478.8 611.2,1480.1 613.3,1481.3 615.4,1482.4 617.5,1483.4 619.6,1484.4 621.6,1485.4 623.7,1486.3 625.8,1487.1 627.9,1487.9 630,1488.7 632,1489.5 634.1,1490.2 636.2,1490.9 638.3,1491.6 640.4,1492.3 642.4,1493 644.5,1493.6 646.6,1494.2 648.7,1494.8 650.8,1495.4 652.8,1496 654.9,1496.5 657,1497.1 659.1,1497.6 661.2,1498.1 663.2,1498.6 665.3,1499 667.4,1499.5 669.5,1499.9 671.6,1500.3 673.6,1500.7 675.7,1501.1 677.8,1501.5 679.9,1501.9 682,1502.2 684,1502.5 686.1,1502.8 688.2,1503.1 690.3,1503.4 692.4,1503.6 694.5,1503.9 696.5,1504.1 698.6,1504.3 700.7,1504.5 702.8,1504.7 704.9,1504.9 706.9,1505.1 709,1505.2 711.1,1505.4 713.2,1505.5 715.3,1505.7 717.3,1505.8 719.4,1505.9 721.5,1506 723.6,1506.1 725.7,1506.2 727.7,1506.2" stroke="#932a93" stroke-width="2.6"/>
<polyline points="145.2,1455.2 147.3,1456.6 149.4,1458 151.4,1459.4 153.5,1460.7 155.6,1462 157.7,1463.3 159.8,1464.6 161.8,1465.8 163.9,1466.4 166,1466.9 168.1,1467.4 170.2,1467.9 172.2,1468.5 174.3,1468.3 176.4,1467.8 178.5,1467.4 180.6,1466.9 182.6,1465.6 184.7,1463.9 186.8,1462.2 188.9,1460.6 191,1459.3 193.1,1458 195.1,1458 197.2,1458.4 199.3,1458.9 201.4,1458.6 203.5,1458.3 205.5,1458 207.6,1458.4 209.7,1459.1 211.8,1460.1 213.9,1465.9 215.9,1468.8 218,1470.4 220.1,1471.5 222.2,1472.5 224.3,1473.6 226.3,1474.6 228.4,1475.6 230.5,1476.3 232.6,1476.9 234.7,1477.6 236.7,1478.3 238.8,1479 240.9,1479.7 243,1480.4 245.1,1481 247.1,1481.5 249.2,1482.1 251.3,1482.7 253.4,1483.2 255.5,1483.8 257.5,1484.2 259.6,1484.6 261.7,1484.9 263.8,1485.2 265.9,1485.5 267.9,1485.8 270,1486.1 272.1,1486.1 274.2,1486.1 276.3,1486.1 278.4,1486.1 280.4,1486.1 282.5,1486.1 284.6,1486 286.7,1486 288.8,1486 290.8,1486.1 292.9,1486.1 295,1486.2 297.1,1486.3 299.2,1486.3 301.2,1486.2 303.3,1486.2 305.4,1486.2 307.5,1486.2 309.6,1486.2 311.6,1486.2 313.7,1486.2 315.8,1486.3 317.9,1486.3 320,1486.3 322,1486.4 324.1,1486.5 326.2,1486.6 328.3,1486.7 330.4,1486.9 332.4,1487 334.5,1487.2 336.6,1487.3 338.7,1487.5 340.8,1487.6 342.8,1487.8 344.9,1487.9 347,1488.1 349.1,1488.3 351.2,1488.4 353.2,1488.6 355.3,1488.8 357.4,1488.9 359.5,1489.1 361.6,1489.3 363.7,1489.4 365.7,1489.5 367.8,1489.6 369.9,1489.7 372,1489.7 374.1,1489.7 376.1,1489.5 378.2,1489.2 380.3,1488.7 382.4,1488 384.5,1487.2 386.5,1486.1 388.6,1484.7 390.7,1483.1 392.8,1481.3 394.9,1479.2 396.9,1477 399,1474.6 401.1,1472.1 403.2,1469.5 405.3,1466.9 407.3,1464.3 409.4,1461.8 411.5,1459.4 413.6,1457.1 415.7,1454.8 417.7,1452.5 419.8,1449.9 421.9,1447.1 424,1444 426.1,1440.5 428.1,1436.7 430.2,1432.4 432.3,1427.7 434.4,1422.5 436.5,1416.7 438.6,1410.3 440.6,1403.3 442.7,1395.7 444.8,1387.4 446.9,1378.6 449,1369.1 451,1359 453.1,1348.5 455.2,1337.4 457.3,1326 459.4,1314.3 461.4,1302.3 463.5,1290.2 465.6,1278 467.7,1266 469.8,1254.1 471.8,1242.6 473.9,1231.5 476,1220.9 478.1,1211 480.2,1201.8 482.2,1193.5 484.3,1186.1 486.4,1179.8 488.5,1174.6 490.6,1170.5 492.6,1167.7 494.7,1166.1 496.8,1165.8 498.9,1166.4 501,1167.9 503,1170.2 505.1,1173.3 507.2,1177.2 509.3,1181.9 511.4,1187.3 513.4,1193.3 515.5,1200 517.6,1207.3 519.7,1215.1 521.8,1223.3 523.9,1231.9 525.9,1240.9 528,1250.2 530.1,1259.7 532.2,1269.4 534.3,1279.1 536.3,1289 538.4,1298.8 540.5,1308.5 542.6,1318.2 544.7,1327.7 546.7,1337.1 548.8,1346.2 550.9,1355 553,1363.5 555.1,1371.8 557.1,1379.7 559.2,1387.3 561.3,1394.5 563.4,1401.4 565.5,1408 567.5,1414.1 569.6,1419.9 571.7,1425.4 573.8,1430.5 575.9,1435.3 577.9,1439.8 580,1443.9 582.1,1447.8 584.2,1451.4 586.3,1454.7 588.3,1457.7 590.4,1460.5 592.5,1463.1 594.6,1465.6 596.7,1467.8 598.7,1469.8 600.8,1471.7 602.9,1473.5 605,1475.1 607.1,1476.6 609.2,1478 611.2,1479.3 613.3,1480.6 615.4,1481.7 617.5,1482.8 619.6,1483.8 621.6,1484.8 623.7,1485.7 625.8,1486.6 627.9,1487.4 630,1488.2 632,1489 634.1,1489.8 636.2,1490.5 638.3,1491.2 640.4,1491.9 642.4,1492.6 644.5,1493.2 646.6,1493.8 648.7,1494.5 650.8,1495.1 652.8,1495.6 654.9,1496.2 657,1496.8 659.1,1497.3 661.2,1497.8 663.2,1498.3 665.3,1498.8 667.4,1499.2 669.5,1499.7 671.6,1500.1 673.6,1500.5 675.7,1500.9 677.8,1501.3 679.9,1501.7 682,1502 684,1502.3 686.1,1502.7 688.2,1503 690.3,1503.2 692.4,1503.5 694.5,1503.8 696.5,1504 698.6,1504.2 700.7,1504.4 702.8,1504.6 704.9,1504.8 706.9,1505 709,1505.2 711.1,1505.3 713.2,1505.5 715.3,1505.6 717.3,1505.7 719.4,1505.8 721.5,1505.9 723.6,1506 725.7,1506.1 727.7,1506.2" stroke="#8f2030" stroke-width="2.6"/>
<polyline points="145.2,1455.2 147.3,1456.6 149.4,1458 151.4,1459.4 153.5,1460.7 155.6,1462 157.7,1463.3 159.8,1464.6 161.8,1465.8 163.9,1466.4 166,1466.9 168.1,1467.4 170.2,1467.9 172.2,1468.5 174.3,1468.3 176.4,1467.8 178.5,1467.4 180.6,1466.9 182.6,1465.6 184.7,1463.9 186.8,1462.2 188.9,1460.6 191,1459.3 193.1,1458 195.1,1458 197.2,1458.4 199.3,1458.9 201.4,1458.6 203.5,1458.3 205.5,1458 207.6,1458.4 209.7,1459.1 211.8,1460.1 213.9,1465.9 215.9,1468.8 218,1470.4 220.1,1471.5 222.2,1472.5 224.3,1473.6 226.3,1474.6 228.4,1475.6 230.5,1476.3 232.6,1477 234.7,1477.7 236.7,1478.4 238.8,1479.1 240.9,1479.7 243,1480.4 245.1,1481 247.1,1481.6 249.2,1482.2 251.3,1482.7 253.4,1483.3 255.5,1483.9 257.5,1484.3 259.6,1484.7 261.7,1485.1 263.8,1485.4 265.9,1485.8 267.9,1486.1 270,1486.4 272.1,1486.5 274.2,1486.6 276.3,1486.7 278.4,1486.7 280.4,1486.8 282.5,1486.8 284.6,1486.9 286.7,1487 288.8,1487 290.8,1487.1 292.9,1487.2 295,1487.3 297.1,1487.5 299.2,1487.5 301.2,1487.5 303.3,1487.5 305.4,1487.6 307.5,1487.6 309.6,1487.6 311.6,1487.7 313.7,1487.7 315.8,1487.8 317.9,1487.8 320,1487.9 322,1488 324.1,1488.1 326.2,1488.2 328.3,1488.3 330.4,1488.4 332.4,1488.6 334.5,1488.7 336.6,1488.9 338.7,1489 340.8,1489.2 342.8,1489.3 344.9,1489.4 347,1489.6 349.1,1489.7 351.2,1489.9 353.2,1490 355.3,1490.2 357.4,1490.3 359.5,1490.5 361.6,1490.6 363.7,1490.7 365.7,1490.8 367.8,1490.9 369.9,1490.9 372,1491 374.1,1490.9 376.1,1490.7 378.2,1490.5 380.3,1490 382.4,1489.4 384.5,1488.6 386.5,1487.6 388.6,1486.4 390.7,1484.9 392.8,1483.2 394.9,1481.3 396.9,1479.3 399,1477.1 401.1,1474.8 403.2,1472.4 405.3,1470 407.3,1467.7 409.4,1465.4 411.5,1463.2 413.6,1461 415.7,1458.9 417.7,1456.7 419.8,1454.3 421.9,1451.7 424,1448.7 426.1,1445.4 428.1,1441.7 430.2,1437.7 432.3,1433.1 434.4,1428.1 436.5,1422.5 438.6,1416.3 440.6,1409.5 442.7,1402 444.8,1394 446.9,1385.2 449,1375.9 451,1366 453.1,1355.5 455.2,1344.5 457.3,1333.1 459.4,1321.3 461.4,1309.3 463.5,1297 465.6,1284.7 467.7,1272.4 469.8,1260.2 471.8,1248.3 473.9,1236.7 476,1225.6 478.1,1215.2 480.2,1205.3 482.2,1196.3 484.3,1188.1 486.4,1181 488.5,1175 490.6,1170.1 492.6,1166.4 494.7,1163.9 496.8,1162.8 498.9,1162.8 501,1163.6 503,1165.4 505.1,1168 507.2,1171.4 509.3,1175.5 511.4,1180.5 513.4,1186.1 515.5,1192.5 517.6,1199.4 519.7,1206.9 521.8,1214.9 523.9,1223.4 525.9,1232.2 528,1241.4 530.1,1250.8 532.2,1260.5 534.3,1270.3 536.3,1280.2 538.4,1290.1 540.5,1300 542.6,1309.8 544.7,1319.5 546.7,1329.1 548.8,1338.4 550.9,1347.5 553,1356.3 555.1,1364.9 557.1,1373.1 559.2,1381 561.3,1388.6 563.4,1395.8 565.5,1402.6 567.5,1409.1 569.6,1415.2 571.7,1421 573.8,1426.4 575.9,1431.4 577.9,1436.2 580,1440.6 582.1,1444.6 584.2,1448.4 586.3,1452 588.3,1455.2 590.4,1458.2 592.5,1461 594.6,1463.6 596.7,1465.9 598.7,1468.1 600.8,1470.1 602.9,1472 605,1473.7 607.1,1475.3 609.2,1476.8 611.2,1478.2 613.3,1479.5 615.4,1480.7 617.5,1481.9 619.6,1482.9 621.6,1483.9 623.7,1484.9 625.8,1485.8 627.9,1486.7 630,1487.5 632,1488.3 634.1,1489.1 636.2,1489.8 638.3,1490.6 640.4,1491.3 642.4,1492 644.5,1492.6 646.6,1493.3 648.7,1493.9 650.8,1494.5 652.8,1495.1 654.9,1495.7 657,1496.3 659.1,1496.8 661.2,1497.4 663.2,1497.9 665.3,1498.4 667.4,1498.8 669.5,1499.3 671.6,1499.8 673.6,1500.2 675.7,1500.6 677.8,1501 679.9,1501.4 682,1501.7 684,1502.1 686.1,1502.4 688.2,1502.7 690.3,1503 692.4,1503.3 694.5,1503.6 696.5,1503.8 698.6,1504 700.7,1504.3 702.8,1504.5 704.9,1504.7 706.9,1504.9 709,1505 711.1,1505.2 713.2,1505.3 715.3,1505.5 717.3,1505.6 719.4,1505.7 721.5,1505.8 723.6,1506 725.7,1506 727.7,1506.1" stroke="#90901a" stroke-width="2.6"/>
<polyline points="145.2,1455.2 147.3,1456.6 149.4,1458 151.4,1459.4 153.5,1460.7 155.6,1462 157.7,1463.3 159.8,1464.6 161.8,1465.8 163.9,1466.4 166,1466.9 168.1,1467.4 170.2,1467.9 172.2,1468.5 174.3,1468.3 176.4,1467.8 178.5,1467.4 180.6,1466.9 182.6,1465.6 184.7,1463.9 186.8,1462.2 188.9,1460.6 191,1459.3 193.1,1458 195.1,1458 197.2,1458.4 199.3,1458.9 201.4,1458.6 203.5,1458.3 205.5,1458 207.6,1458.4 209.7,1459.1 211.8,1460.1 213.9,1466 215.9,1468.8 218,1470.4 220.1,1471.5 222.2,1472.6 224.3,1473.6 226.3,1474.6 228.4,1475.6 230.5,1476.3 232.6,1477 234.7,1477.7 236.7,1478.4 238.8,1479.1 240.9,1479.8 243,1480.4 245.1,1481 247.1,1481.6 249.2,1482.2 251.3,1482.8 253.4,1483.4 255.5,1484 257.5,1484.4 259.6,1484.9 261.7,1485.3 263.8,1485.7 265.9,1486 267.9,1486.4 270,1486.8 272.1,1486.9 274.2,1487.1 276.3,1487.2 278.4,1487.4 280.4,1487.5 282.5,1487.6 284.6,1487.7 286.7,1487.9 288.8,1488 290.8,1488.2 292.9,1488.3 295,1488.5 297.1,1488.7 299.2,1488.8 301.2,1488.8 303.3,1488.9 305.4,1488.9 307.5,1489 309.6,1489.1 311.6,1489.1 313.7,1489.2 315.8,1489.3 317.9,1489.3 320,1489.4 322,1489.5 324.1,1489.6 326.2,1489.7 328.3,1489.9 330.4,1490 332.4,1490.1 334.5,1490.3 336.6,1490.4 338.7,1490.6 340.8,1490.7 342.8,1490.8 344.9,1490.9 347,1491.1 349.1,1491.2 351.2,1491.3 353.2,1491.4 355.3,1491.6 357.4,1491.7 359.5,1491.8 361.6,1491.9 363.7,1492 365.7,1492 367.8,1492.1 369.9,1492.2 372,1492.2 374.1,1492.1 376.1,1491.9 378.2,1491.6 380.3,1491.2 382.4,1490.6 384.5,1489.8 386.5,1488.8 388.6,1487.6 390.7,1486.1 392.8,1484.5 394.9,1482.7 396.9,1480.7 399,1478.6 401.1,1476.3 403.2,1474.1 405.3,1471.8 407.3,1469.5 409.4,1467.4 411.5,1465.3 413.6,1463.3 415.7,1461.3 417.7,1459.3 419.8,1457 421.9,1454.6 424,1451.9 426.1,1448.8 428.1,1445.3 430.2,1441.5 432.3,1437.2 434.4,1432.4 436.5,1427.1 438.6,1421.2 440.6,1414.6 442.7,1407.5 444.8,1399.6 446.9,1391.2 449,1382.1 451,1372.4 453.1,1362 455.2,1351.2 457.3,1339.9 459.4,1328.1 461.4,1316.1 463.5,1303.8 465.6,1291.3 467.7,1278.8 469.8,1266.4 471.8,1254.1 473.9,1242.2 476,1230.6 478.1,1219.6 480.2,1209.2 482.2,1199.5 484.3,1190.6 486.4,1182.8 488.5,1175.9 490.6,1170.2 492.6,1165.6 494.7,1162.3 496.8,1160.3 498.9,1159.5 501,1159.8 503,1161 505.1,1163 507.2,1165.9 509.3,1169.6 511.4,1174.1 513.4,1179.3 515.5,1185.2 517.6,1191.8 519.7,1199 521.8,1206.7 523.9,1215 525.9,1223.6 528,1232.7 530.1,1242 532.2,1251.6 534.3,1261.4 536.3,1271.3 538.4,1281.3 540.5,1291.4 542.6,1301.3 544.7,1311.2 546.7,1321 548.8,1330.5 550.9,1339.9 553,1349 555.1,1357.8 557.1,1366.3 559.2,1374.5 561.3,1382.4 563.4,1389.9 565.5,1397.1 567.5,1403.8 569.6,1410.3 571.7,1416.3 573.8,1422 575.9,1427.4 577.9,1432.4 580,1437 582.1,1441.3 584.2,1445.4 586.3,1449.1 588.3,1452.6 590.4,1455.8 592.5,1458.7 594.6,1461.5 596.7,1464 598.7,1466.3 600.8,1468.5 602.9,1470.4 605,1472.3 607.1,1474 609.2,1475.5 611.2,1477 613.3,1478.4 615.4,1479.7 617.5,1480.9 619.6,1482 621.6,1483 623.7,1484 625.8,1485 627.9,1485.9 630,1486.8 632,1487.6 634.1,1488.4 636.2,1489.2 638.3,1489.9 640.4,1490.7 642.4,1491.4 644.5,1492 646.6,1492.7 648.7,1493.4 650.8,1494 652.8,1494.6 654.9,1495.2 657,1495.8 659.1,1496.4 661.2,1496.9 663.2,1497.4 665.3,1497.9 667.4,1498.4 669.5,1498.9 671.6,1499.4 673.6,1499.8 675.7,1500.3 677.8,1500.7 679.9,1501.1 682,1501.4 684,1501.8 686.1,1502.1 688.2,1502.5 690.3,1502.8 692.4,1503.1 694.5,1503.3 696.5,1503.6 698.6,1503.9 700.7,1504.1 702.8,1504.3 704.9,1504.5 706.9,1504.7 709,1504.9 711.1,1505.1 713.2,1505.2 715.3,1505.4 717.3,1505.5 719.4,1505.6 721.5,1505.8 723.6,1505.9 725.7,1506 727.7,1506.1" stroke="#3f7fc0" stroke-width="2.6"/>
</g>
<line x1="155" y1="1093.5" x2="201" y2="1093.5" stroke="#000000" stroke-width="2.8" />
<text x="207" y="1100.8" font-size="20" text-anchor="start" fill="#000" font-family='"Liberation Sans",sans-serif' font-weight="bold" >2000:10:0</text>
<line x1="155" y1="1123.5" x2="201" y2="1123.5" stroke="#ff2a2a" stroke-width="3.2" />
<text x="207" y="1130.8" font-size="20" text-anchor="start" fill="#000" font-family='"Liberation Sans",sans-serif' font-weight="bold" >2000:10:1</text>
<line x1="155" y1="1153.4" x2="201" y2="1153.4" stroke="#2a2aff" stroke-width="3.2" />
<text x="207" y="1160.7" font-size="20" text-anchor="start" fill="#000" font-family='"Liberation Sans",sans-serif' font-weight="bold" >2000:10:2</text>
<line x1="155" y1="1183.3" x2="201" y2="1183.3" stroke="#ff22ff" stroke-width="3.2" />
<text x="207" y="1190.6" font-size="20" text-anchor="start" fill="#000" font-family='"Liberation Sans",sans-serif' font-weight="bold" >2000:10:3</text>
<line x1="155" y1="1213.3" x2="201" y2="1213.3" stroke="#0f8f1f" stroke-width="3.2" />
<text x="207" y="1220.6" font-size="20" text-anchor="start" fill="#000" font-family='"Liberation Sans",sans-serif' font-weight="bold" >2000:10:4</text>
<line x1="155" y1="1243.2" x2="201" y2="1243.2" stroke="#22228f" stroke-width="3.2" />
<text x="207" y="1250.5" font-size="20" text-anchor="start" fill="#000" font-family='"Liberation Sans",sans-serif' font-weight="bold" >2000:10:5</text>
<line x1="155" y1="1273.2" x2="201" y2="1273.2" stroke="#9030ff" stroke-width="3.2" />
<text x="207" y="1280.5" font-size="20" text-anchor="start" fill="#000" font-family='"Liberation Sans",sans-serif' font-weight="bold" >2000:10:6</text>
<line x1="155" y1="1303.2" x2="201" y2="1303.2" stroke="#932a93" stroke-width="3.2" />
<text x="207" y="1310.5" font-size="20" text-anchor="start" fill="#000" font-family='"Liberation Sans",sans-serif' font-weight="bold" >2000:10:7</text>
<line x1="155" y1="1333.1" x2="201" y2="1333.1" stroke="#8f2030" stroke-width="3.2" />
<text x="207" y="1340.4" font-size="20" text-anchor="start" fill="#000" font-family='"Liberation Sans",sans-serif' font-weight="bold" >2000:10:8</text>
<line x1="155" y1="1363" x2="201" y2="1363" stroke="#90901a" stroke-width="3.2" />
<text x="207" y="1370.3" font-size="20" text-anchor="start" fill="#000" font-family='"Liberation Sans",sans-serif' font-weight="bold" >2000:10:9</text>
<line x1="155" y1="1393" x2="201" y2="1393" stroke="#3f7fc0" stroke-width="3.2" />
<text x="207" y="1400.3" font-size="20" text-anchor="start" fill="#000" font-family='"Liberation Sans",sans-serif' font-weight="bold" >2000:10:10</text>
<text x="501" y="1113" font-size="19.5" text-anchor="middle" fill="#2b2b2b" font-family='"Liberation Sans",sans-serif' font-weight="bold" >Acceptor2</text>
<text x="495" y="1139" font-size="19.5" text-anchor="middle" fill="#2b2b2b" font-family='"Liberation Sans",sans-serif' font-weight="bold" >emission</text>
<text x="407" y="1195" font-size="19.5" text-anchor="middle" fill="#2b2b2b" font-family='"Liberation Sans",sans-serif' font-weight="bold" >Acceptor1</text>
<text x="402" y="1220" font-size="19.5" text-anchor="middle" fill="#2b2b2b" font-family='"Liberation Sans",sans-serif' font-weight="bold" >emission</text>
<text x="319" y="1421" font-size="19.5" text-anchor="middle" fill="#2b2b2b" font-family='"Liberation Sans",sans-serif' font-weight="bold" >Donor</text>
<text x="322" y="1446" font-size="19.5" text-anchor="middle" fill="#2b2b2b" font-family='"Liberation Sans",sans-serif' font-weight="bold" >emission</text>
<line x1="467" y1="1245" x2="467" y2="1155" stroke="#111" stroke-width="2" />
<polygon points="467,1149 463.4,1160 470.6,1160" fill="#111"/>
<line x1="381.5" y1="1258" x2="381.5" y2="1370" stroke="#111" stroke-width="2" />
<polygon points="381.5,1376 377.9,1365 385.1,1365" fill="#111"/>
<line x1="267" y1="1415" x2="267" y2="1451" stroke="#111" stroke-width="2" />
<polygon points="267,1457 263.4,1446 270.6,1446" fill="#111"/>
<text transform="translate(21.9,1093.6) scale(1,1)" font-size="54" fill="#000" font-family='"Liberation Sans",sans-serif' font-weight="bold">(g)</text>
<rect x="609.4" y="1090.4" width="89.4" height="168.4" fill="#000" stroke="none" stroke-width="0" />
<g clip-path="url(#vc5)">
<g filter="url(#vb)">
<rect x="623.3" y="1097.3" width="54.5" height="55.3" rx="7" fill="url(#vn5)"/>
<line x1="621.8" y1="1107.3" x2="679.3" y2="1107.3" stroke="#6cc4ff" stroke-width="2.4" stroke-opacity="0.55"/>
<line x1="621.8" y1="1119" x2="679.3" y2="1119" stroke="#6cc4ff" stroke-width="2.4" stroke-opacity="0.55"/>
<line x1="621.8" y1="1129.9" x2="679.3" y2="1129.9" stroke="#6cc4ff" stroke-width="2.4" stroke-opacity="0.55"/>
<line x1="633.1" y1="1100.3" x2="633.1" y2="1134.6" stroke="#6cc4ff" stroke-width="2.6" stroke-opacity="0.6"/>
<line x1="646.2" y1="1100.3" x2="646.2" y2="1134.6" stroke="#6cc4ff" stroke-width="2.6" stroke-opacity="0.6"/>
<line x1="656" y1="1100.3" x2="656" y2="1134.6" stroke="#6cc4ff" stroke-width="2.6" stroke-opacity="0.6"/>
<line x1="670.2" y1="1100.3" x2="670.2" y2="1134.6" stroke="#6cc4ff" stroke-width="2.6" stroke-opacity="0.6"/>
<path d="M621.3,1141.6 L679.8,1141.6 Q687.2,1142.9 687.2,1150 L687.2,1244.1 Q687.2,1255.1 676.2,1255.1 L627.6,1255.1 Q616.6,1255.1 616.6,1244.1 L616.6,1150 Q616.6,1142.9 621.3,1141.6 Z" fill="url(#vg5)"/>
<rect x="616.6" y="1150" width="70.6" height="94.1" fill="url(#vs5)"/>
<path d="M617.6,1190 Q651.9,1201 686.2,1190" fill="none" stroke="#a8fff0" stroke-width="4.5" stroke-linecap="round"/>
<path d="M619.6,1240.8 Q651.9,1246.7 684.2,1240.8" fill="none" stroke="#8ff4f4" stroke-width="3" stroke-linecap="round"/>
<ellipse cx="635.3" cy="1235.2" rx="2.6" ry="4.2" fill="#e8ffff"/>
<ellipse cx="645.2" cy="1159.4" rx="1.6" ry="2.6" fill="#bff4ff"/>
<ellipse cx="660.4" cy="1150.2" rx="1.5" ry="2.4" fill="#e0fbff"/>
</g>
<text transform="translate(609.9,1126.9) scale(0.96,1)" font-size="28.5" font-family='"DejaVu Sans",sans-serif' font-weight="bold" fill="#fff" stroke="#fff" stroke-width="0.7" filter="url(#tb)">donor</text>
</g>
<rect x="613" y="1270.9" width="88.2" height="170.4" fill="#000" stroke="none" stroke-width="0" />
<g clip-path="url(#vc6)">
<g filter="url(#vb)">
<rect x="635" y="1279.4" width="44.1" height="52.6" rx="7" fill="url(#vn6)"/>
<path d="M633,1322 L681.2,1322 Q684.3,1323 684.3,1328.8 L684.3,1421.8 Q684.3,1435.8 670.3,1435.8 L638.9,1435.8 Q624.9,1435.8 624.9,1421.8 L624.9,1328.8 Q624.9,1323 633,1322 Z" fill="url(#vg6)"/>
<rect x="624.9" y="1328.8" width="59.4" height="93" fill="url(#vs6)"/>
<ellipse cx="650.9" cy="1367.2" rx="1.3" ry="2.1" fill="#e8c8d0"/>
</g>
<text transform="translate(613,1309.3) scale(0.93,1)" font-size="28.8" font-family='"DejaVu Sans",sans-serif' font-weight="bold" fill="#fff" stroke="#fff" stroke-width="0.7" filter="url(#tb)">2000:</text>
<text transform="translate(613.8,1341.7) scale(0.93,1)" font-size="28.8" font-family='"DejaVu Sans",sans-serif' font-weight="bold" fill="#fff" stroke="#fff" stroke-width="0.7" filter="url(#tb)">10:10</text>
</g>
<rect x="155.1" y="1631.9" width="582" height="432.1" fill="none" stroke="#000" stroke-width="3.3" />
<line x1="169.4" y1="2064" x2="169.4" y2="2073" stroke="#000" stroke-width="2.4" />
<text x="169.4" y="2098.4" font-size="24" text-anchor="middle" fill="#000" font-family='"Liberation Sans",sans-serif' font-weight="bold" >400</text>
<line x1="204.9" y1="2064" x2="204.9" y2="2069" stroke="#000" stroke-width="2.4" />
<line x1="240.4" y1="2064" x2="240.4" y2="2073" stroke="#000" stroke-width="2.4" />
<text x="240.4" y="2098.4" font-size="24" text-anchor="middle" fill="#000" font-family='"Liberation Sans",sans-serif' font-weight="bold" >450</text>
<line x1="275.9" y1="2064" x2="275.9" y2="2069" stroke="#000" stroke-width="2.4" />
<line x1="311.4" y1="2064" x2="311.4" y2="2073" stroke="#000" stroke-width="2.4" />
<text x="311.4" y="2098.4" font-size="24" text-anchor="middle" fill="#000" font-family='"Liberation Sans",sans-serif' font-weight="bold" >500</text>
<line x1="346.9" y1="2064" x2="346.9" y2="2069" stroke="#000" stroke-width="2.4" />
<line x1="382.4" y1="2064" x2="382.4" y2="2073" stroke="#000" stroke-width="2.4" />
<text x="382.4" y="2098.4" font-size="24" text-anchor="middle" fill="#000" font-family='"Liberation Sans",sans-serif' font-weight="bold" >550</text>
<line x1="417.9" y1="2064" x2="417.9" y2="2069" stroke="#000" stroke-width="2.4" />
<line x1="453.4" y1="2064" x2="453.4" y2="2073" stroke="#000" stroke-width="2.4" />
<text x="453.4" y="2098.4" font-size="24" text-anchor="middle" fill="#000" font-family='"Liberation Sans",sans-serif' font-weight="bold" >600</text>
<line x1="488.9" y1="2064" x2="488.9" y2="2069" stroke="#000" stroke-width="2.4" />
<line x1="524.4" y1="2064" x2="524.4" y2="2073" stroke="#000" stroke-width="2.4" />
<text x="524.4" y="2098.4" font-size="24" text-anchor="middle" fill="#000" font-family='"Liberation Sans",sans-serif' font-weight="bold" >650</text>
<line x1="559.9" y1="2064" x2="559.9" y2="2069" stroke="#000" stroke-width="2.4" />
<line x1="595.4" y1="2064" x2="595.4" y2="2073" stroke="#000" stroke-width="2.4" />
<text x="595.4" y="2098.4" font-size="24" text-anchor="middle" fill="#000" font-family='"Liberation Sans",sans-serif' font-weight="bold" >700</text>
<line x1="630.9" y1="2064" x2="630.9" y2="2069" stroke="#000" stroke-width="2.4" />
<line x1="666.4" y1="2064" x2="666.4" y2="2073" stroke="#000" stroke-width="2.4" />
<text x="666.4" y="2098.4" font-size="24" text-anchor="middle" fill="#000" font-family='"Liberation Sans",sans-serif' font-weight="bold" >750</text>
<line x1="701.9" y1="2064" x2="701.9" y2="2069" stroke="#000" stroke-width="2.4" />
<line x1="737.4" y1="2064" x2="737.4" y2="2073" stroke="#000" stroke-width="2.4" />
<text x="737.4" y="2098.4" font-size="24" text-anchor="middle" fill="#000" font-family='"Liberation Sans",sans-serif' font-weight="bold" >800</text>
<text x="446" y="2144" font-size="25" text-anchor="middle" fill="#000" font-family='"Liberation Sans",sans-serif' font-weight="bold" >Wavelength/(nm)</text>
<text transform="translate(112,1848) rotate(-90)" font-size="25" text-anchor="middle" fill="#000" font-family='"Liberation Sans",sans-serif' font-weight="bold">Intensity</text>
<g clip-path="url(#clipj)" fill="none" stroke-linejoin="round" stroke-linecap="round">
<polyline points="155.1,2045.8 157.2,2044.2 159.4,2042.7 161.5,2041.1 163.6,2039.8 165.8,2038.7 167.9,2037.5 170,2036.6 172.1,2036.1 174.3,2035.6 176.4,2035.2 178.5,2035 180.7,2034.8 182.8,2040.2 184.9,2042.7 187.1,2043.2 189.2,2043.8 191.3,2044.4 193.4,2045 195.6,2045.6 197.7,2046.1 199.8,2046.7 202,2047.3 204.1,2047.8 206.2,2048.3 208.4,2048.8 210.5,2049.2 212.6,2049.5 214.7,2049.9 216.9,2050.3 219,2050.6 221.1,2050.8 223.3,2051.1 225.4,2051.2 227.5,2051.2 229.7,2051 231.8,2050.8 233.9,2050.4 236,2050 238.2,2049.5 240.3,2048.9 242.4,2048.1 244.6,2047.2 246.7,2046.2 248.8,2045 250.9,2043.7 253.1,2042.1 255.2,2040.4 257.3,2038.3 259.5,2036 261.6,2033.5 263.7,2030.8 265.9,2027.8 268,2024.6 270.1,2021.2 272.2,2017.5 274.4,2013.6 276.5,2009.5 278.6,2005.1 280.8,2000.5 282.9,1995.8 285,1990.8 287.2,1985.7 289.3,1980.5 291.4,1975.1 293.6,1969.6 295.7,1964.1 297.8,1958.6 299.9,1953 302.1,1947.4 304.2,1941.9 306.3,1936.5 308.5,1931.2 310.6,1926 312.7,1920.9 314.9,1916 317,1911.3 319.1,1906.8 321.2,1902.5 323.4,1898.4 325.5,1894.7 327.6,1891.2 329.8,1887.9 331.9,1884.9 334,1882.2 336.1,1879.8 338.3,1877.6 340.4,1875.7 342.5,1874 344.7,1872.6 346.8,1871.4 348.9,1870.4 351.1,1869.6 353.2,1869.1 355.3,1868.7 357.4,1868.6 359.6,1868.6 361.7,1868.8 363.8,1869.3 366,1869.8 368.1,1870.6 370.2,1871.6 372.4,1872.7 374.5,1873.9 376.6,1875.4 378.8,1877 380.9,1878.7 383,1880.6 385.1,1882.7 387.3,1884.8 389.4,1887.1 391.5,1889.6 393.7,1892.1 395.8,1894.7 397.9,1897.5 400.1,1900.3 402.2,1903.2 404.3,1906.1 406.4,1909.1 408.6,1912.2 410.7,1915.2 412.8,1918.2 415,1921.3 417.1,1924.3 419.2,1927.3 421.4,1930.3 423.5,1933.2 425.6,1936.1 427.7,1939 429.9,1941.7 432,1944.5 434.1,1947.1 436.3,1949.7 438.4,1952.3 440.5,1954.8 442.6,1957.2 444.8,1959.6 446.9,1961.9 449,1964.2 451.2,1966.4 453.3,1968.6 455.4,1970.8 457.6,1972.9 459.7,1975 461.8,1977.1 464,1979.1 466.1,1981.2 468.2,1983.2 470.3,1985.3 472.5,1987.3 474.6,1989.3 476.7,1991.3 478.9,1993.3 481,1995.3 483.1,1997.3 485.2,1999.3 487.4,2001.3 489.5,2003.3 491.6,2005.2 493.8,2007.1 495.9,2009.1 498,2010.9 500.2,2012.8 502.3,2014.7 504.4,2016.5 506.5,2018.3 508.7,2020 510.8,2021.7 512.9,2023.4 515.1,2025 517.2,2026.6 519.3,2028.1 521.5,2029.6 523.6,2031.1 525.7,2032.5 527.9,2033.8 530,2035.2 532.1,2036.4 534.2,2037.6 536.4,2038.8 538.5,2039.9 540.6,2041 542.8,2042 544.9,2043 547,2044 549.1,2044.9 551.3,2045.7 553.4,2046.5 555.5,2047.3 557.7,2048.1 559.8,2048.8 561.9,2049.5 564.1,2050.1 566.2,2050.7 568.3,2051.3 570.5,2051.9 572.6,2052.4 574.7,2052.9 576.8,2053.4 579,2053.8 581.1,2054.3 583.2,2054.7 585.4,2055.1 587.5,2055.5 589.6,2055.8 591.8,2056.2 593.9,2056.5 596,2056.8 598.1,2057.1 600.3,2057.4 602.4,2057.7 604.5,2057.9 606.7,2058.2 608.8,2058.4 610.9,2058.7 613,2058.9 615.2,2059.1 617.3,2059.3 619.4,2059.5 621.6,2059.7 623.7,2059.8 625.8,2060 628,2060.2 630.1,2060.3 632.2,2060.4 634.4,2060.6 636.5,2060.7 638.6,2060.8 640.7,2060.9 642.9,2061 645,2061.2 647.1,2061.2 649.3,2061.3 651.4,2061.4 653.5,2061.5 655.6,2061.6 657.8,2061.7 659.9,2061.7 662,2061.8 664.2,2061.8 666.3,2061.9 668.4,2061.9 670.6,2062 672.7,2062 674.8,2062.1 676.9,2062.1 679.1,2062.1 681.2,2062.2 683.3,2062.2 685.5,2062.2 687.6,2062.3 689.7,2062.3 691.9,2062.3 694,2062.3 696.1,2062.3 698.2,2062.4 700.4,2062.4 702.5,2062.4 704.6,2062.4 706.8,2062.4 708.9,2062.4 711,2062.4 713.2,2062.4 715.3,2062.4 717.4,2062.4 719.5,2062.5 721.7,2062.5 723.8,2062.5 725.9,2062.5 728.1,2062.5 730.2,2062.5 732.3,2062.5 734.5,2062.5 736.6,2062.5" stroke="#000000" stroke-width="2"/>
<polyline points="155.1,2045.8 157.2,2044.2 159.4,2042.7 161.5,2041.1 163.6,2039.8 165.8,2038.7 167.9,2037.5 170,2036.6 172.1,2036.1 174.3,2035.6 176.4,2035.2 178.5,2035 180.7,2034.8 182.8,2040.2 184.9,2042.7 187.1,2043.3 189.2,2043.8 191.3,2044.4 193.4,2045 195.6,2045.6 197.7,2046.1 199.8,2046.7 202,2047.3 204.1,2047.9 206.2,2048.4 208.4,2048.8 210.5,2049.2 212.6,2049.6 214.7,2050 216.9,2050.3 219,2050.7 221.1,2050.9 223.3,2051.2 225.4,2051.4 227.5,2051.4 229.7,2051.3 231.8,2051.1 233.9,2050.8 236,2050.4 238.2,2050 240.3,2049.5 242.4,2048.8 244.6,2048.1 246.7,2047.2 248.8,2046.2 250.9,2045.1 253.1,2043.8 255.2,2042.4 257.3,2040.7 259.5,2038.8 261.6,2036.8 263.7,2034.6 265.9,2032.2 268,2029.6 270.1,2026.8 272.2,2023.8 274.4,2020.7 276.5,2017.3 278.6,2013.8 280.8,2010.1 282.9,2006.2 285,2002.2 287.2,1998.1 289.3,1993.8 291.4,1989.4 293.6,1985 295.7,1980.4 297.8,1975.9 299.9,1971.3 302.1,1966.8 304.2,1962.3 306.3,1957.8 308.5,1953.4 310.6,1949.2 312.7,1945 314.9,1941 317,1937.1 319.1,1933.3 321.2,1929.8 323.4,1926.5 325.5,1923.4 327.6,1920.5 329.8,1917.8 331.9,1915.3 334,1913.1 336.1,1911 338.3,1909.2 340.4,1907.5 342.5,1906.1 344.7,1904.8 346.8,1903.7 348.9,1902.8 351.1,1902 353.2,1901.4 355.3,1900.9 357.4,1900.5 359.6,1900.2 361.7,1900.1 363.8,1899.9 366,1899.9 368.1,1899.9 370.2,1900 372.4,1900.1 374.5,1900.2 376.6,1900.3 378.8,1900.4 380.9,1900.4 383,1900.4 385.1,1900.4 387.3,1900.2 389.4,1900 391.5,1899.7 393.7,1899.3 395.8,1898.8 397.9,1898.1 400.1,1897.4 402.2,1896.5 404.3,1895.5 406.4,1894.3 408.6,1893.1 410.7,1891.7 412.8,1890.3 415,1888.9 417.1,1887.4 419.2,1885.8 421.4,1884.4 423.5,1882.9 425.6,1881.6 427.7,1880.4 429.9,1879.3 432,1878.4 434.1,1877.8 436.3,1877.4 438.4,1877.4 440.5,1877.6 442.6,1878.2 444.8,1879.1 446.9,1880.5 449,1882.1 451.2,1884 453.3,1886.1 455.4,1888.4 457.6,1890.9 459.7,1893.7 461.8,1896.6 464,1899.7 466.1,1903 468.2,1906.5 470.3,1910.2 472.5,1914 474.6,1918 476.7,1922 478.9,1926.2 481,1930.5 483.1,1934.8 485.2,1939.2 487.4,1943.6 489.5,1948 491.6,1952.5 493.8,1956.9 495.9,1961.3 498,1965.6 500.2,1969.8 502.3,1974 504.4,1978.1 506.5,1982.1 508.7,1986 510.8,1989.8 512.9,1993.4 515.1,1996.9 517.2,2000.3 519.3,2003.5 521.5,2006.7 523.6,2009.6 525.7,2012.4 527.9,2015.1 530,2017.7 532.1,2020.1 534.2,2022.4 536.4,2024.5 538.5,2026.5 540.6,2028.4 542.8,2030.2 544.9,2031.9 547,2033.5 549.1,2035 551.3,2036.4 553.4,2037.7 555.5,2038.9 557.7,2040.1 559.8,2041.2 561.9,2042.2 564.1,2043.2 566.2,2044.1 568.3,2044.9 570.5,2045.7 572.6,2046.5 574.7,2047.2 576.8,2047.9 579,2048.6 581.1,2049.2 583.2,2049.8 585.4,2050.3 587.5,2050.9 589.6,2051.4 591.8,2051.9 593.9,2052.4 596,2052.9 598.1,2053.3 600.3,2053.7 602.4,2054.2 604.5,2054.6 606.7,2054.9 608.8,2055.3 610.9,2055.7 613,2056 615.2,2056.4 617.3,2056.7 619.4,2057 621.6,2057.3 623.7,2057.6 625.8,2057.9 628,2058.1 630.1,2058.4 632.2,2058.6 634.4,2058.9 636.5,2059.1 638.6,2059.3 640.7,2059.5 642.9,2059.7 645,2059.9 647.1,2060.1 649.3,2060.2 651.4,2060.4 653.5,2060.6 655.6,2060.7 657.8,2060.8 659.9,2061 662,2061.1 664.2,2061.2 666.3,2061.3 668.4,2061.4 670.6,2061.5 672.7,2061.6 674.8,2061.6 676.9,2061.7 679.1,2061.8 681.2,2061.8 683.3,2061.9 685.5,2062 687.6,2062 689.7,2062.1 691.9,2062.1 694,2062.1 696.1,2062.2 698.2,2062.2 700.4,2062.2 702.5,2062.3 704.6,2062.3 706.8,2062.3 708.9,2062.3 711,2062.3 713.2,2062.4 715.3,2062.4 717.4,2062.4 719.5,2062.4 721.7,2062.4 723.8,2062.4 725.9,2062.4 728.1,2062.4 730.2,2062.4 732.3,2062.5 734.5,2062.5 736.6,2062.5" stroke="#ff2a2a" stroke-width="2.6"/>
<polyline points="155.1,2045.8 157.2,2044.2 159.4,2042.7 161.5,2041.1 163.6,2039.8 165.8,2038.7 167.9,2037.5 170,2036.6 172.1,2036.1 174.3,2035.6 176.4,2035.2 178.5,2035 180.7,2034.8 182.8,2040.2 184.9,2042.7 187.1,2043.3 189.2,2043.8 191.3,2044.4 193.4,2045 195.6,2045.6 197.7,2046.2 199.8,2046.7 202,2047.3 204.1,2047.9 206.2,2048.4 208.4,2048.8 210.5,2049.2 212.6,2049.6 214.7,2050 216.9,2050.4 219,2050.7 221.1,2051 223.3,2051.3 225.4,2051.5 227.5,2051.5 229.7,2051.4 231.8,2051.2 233.9,2051 236,2050.7 238.2,2050.3 240.3,2049.8 242.4,2049.3 244.6,2048.6 246.7,2047.9 248.8,2047 250.9,2046.1 253.1,2045 255.2,2043.7 257.3,2042.3 259.5,2040.7 261.6,2039 263.7,2037.1 265.9,2035.1 268,2033 270.1,2030.7 272.2,2028.2 274.4,2025.6 276.5,2022.8 278.6,2019.8 280.8,2016.8 282.9,2013.5 285,2010.1 287.2,2006.7 289.3,2003.1 291.4,1999.4 293.6,1995.6 295.7,1991.8 297.8,1988 299.9,1984.1 302.1,1980.3 304.2,1976.4 306.3,1972.7 308.5,1969 310.6,1965.4 312.7,1961.8 314.9,1958.4 317,1955.1 319.1,1951.9 321.2,1948.9 323.4,1946.1 325.5,1943.5 327.6,1941 329.8,1938.7 331.9,1936.6 334,1934.7 336.1,1933 338.3,1931.4 340.4,1930.1 342.5,1928.9 344.7,1927.8 346.8,1926.9 348.9,1926.1 351.1,1925.5 353.2,1924.9 355.3,1924.5 357.4,1924.2 359.6,1923.9 361.7,1923.8 363.8,1923.6 366,1923.6 368.1,1923.5 370.2,1923.5 372.4,1923.4 374.5,1923.3 376.6,1923.2 378.8,1923 380.9,1922.7 383,1922.3 385.1,1921.8 387.3,1921.1 389.4,1920.2 391.5,1919.1 393.7,1917.8 395.8,1916.3 397.9,1914.5 400.1,1912.4 402.2,1910.1 404.3,1907.4 406.4,1904.4 408.6,1901.2 410.7,1897.7 412.8,1893.9 415,1889.8 417.1,1885.6 419.2,1881.1 421.4,1876.5 423.5,1871.9 425.6,1867.1 427.7,1862.4 429.9,1857.7 432,1853.2 434.1,1848.8 436.3,1844.7 438.4,1840.9 440.5,1837.5 442.6,1834.6 444.8,1832.1 446.9,1830.2 449,1828.9 451.2,1828.2 453.3,1828.1 455.4,1828.8 457.6,1830 459.7,1831.7 461.8,1833.7 464,1836.2 466.1,1839 468.2,1842.3 470.3,1845.9 472.5,1849.8 474.6,1854.1 476.7,1858.6 478.9,1863.5 481,1868.6 483.1,1873.9 485.2,1879.5 487.4,1885.2 489.5,1891 491.6,1897 493.8,1903 495.9,1909.1 498,1915.2 500.2,1921.3 502.3,1927.4 504.4,1933.4 506.5,1939.4 508.7,1945.2 510.8,1950.9 512.9,1956.5 515.1,1961.9 517.2,1967.2 519.3,1972.3 521.5,1977.1 523.6,1981.8 525.7,1986.3 527.9,1990.6 530,1994.7 532.1,1998.6 534.2,2002.2 536.4,2005.7 538.5,2009 540.6,2012 542.8,2014.9 544.9,2017.6 547,2020.1 549.1,2022.5 551.3,2024.7 553.4,2026.8 555.5,2028.7 557.7,2030.5 559.8,2032.1 561.9,2033.7 564.1,2035.1 566.2,2036.5 568.3,2037.7 570.5,2038.9 572.6,2040 574.7,2041 576.8,2042 579,2042.9 581.1,2043.8 583.2,2044.6 585.4,2045.3 587.5,2046.1 589.6,2046.8 591.8,2047.4 593.9,2048.1 596,2048.7 598.1,2049.3 600.3,2049.8 602.4,2050.4 604.5,2050.9 606.7,2051.4 608.8,2051.9 610.9,2052.4 613,2052.9 615.2,2053.3 617.3,2053.8 619.4,2054.2 621.6,2054.6 623.7,2055 625.8,2055.4 628,2055.8 630.1,2056.1 632.2,2056.5 634.4,2056.8 636.5,2057.1 638.6,2057.4 640.7,2057.7 642.9,2058 645,2058.3 647.1,2058.6 649.3,2058.8 651.4,2059.1 653.5,2059.3 655.6,2059.5 657.8,2059.7 659.9,2059.9 662,2060.1 664.2,2060.3 666.3,2060.4 668.4,2060.6 670.6,2060.7 672.7,2060.9 674.8,2061 676.9,2061.1 679.1,2061.2 681.2,2061.3 683.3,2061.4 685.5,2061.5 687.6,2061.6 689.7,2061.7 691.9,2061.8 694,2061.8 696.1,2061.9 698.2,2061.9 700.4,2062 702.5,2062 704.6,2062.1 706.8,2062.1 708.9,2062.2 711,2062.2 713.2,2062.2 715.3,2062.3 717.4,2062.3 719.5,2062.3 721.7,2062.3 723.8,2062.3 725.9,2062.4 728.1,2062.4 730.2,2062.4 732.3,2062.4 734.5,2062.4 736.6,2062.4" stroke="#2a2aff" stroke-width="2.6"/>
<polyline points="155.1,2045.8 157.2,2044.2 159.4,2042.7 161.5,2041.1 163.6,2039.8 165.8,2038.7 167.9,2037.5 170,2036.6 172.1,2036.1 174.3,2035.6 176.4,2035.2 178.5,2035 180.7,2034.8 182.8,2040.2 184.9,2042.7 187.1,2043.3 189.2,2043.8 191.3,2044.4 193.4,2045 195.6,2045.6 197.7,2046.2 199.8,2046.7 202,2047.3 204.1,2047.9 206.2,2048.4 208.4,2048.8 210.5,2049.2 212.6,2049.7 214.7,2050 216.9,2050.4 219,2050.8 221.1,2051.1 223.3,2051.3 225.4,2051.6 227.5,2051.6 229.7,2051.5 231.8,2051.4 233.9,2051.2 236,2050.9 238.2,2050.6 240.3,2050.1 242.4,2049.6 244.6,2049 246.7,2048.4 248.8,2047.6 250.9,2046.8 253.1,2045.8 255.2,2044.7 257.3,2043.5 259.5,2042.1 261.6,2040.6 263.7,2039 265.9,2037.3 268,2035.5 270.1,2033.5 272.2,2031.4 274.4,2029.2 276.5,2026.8 278.6,2024.3 280.8,2021.7 282.9,2018.9 285,2016 287.2,2013 289.3,2009.9 291.4,2006.7 293.6,2003.5 295.7,2000.2 297.8,1996.9 299.9,1993.5 302.1,1990.2 304.2,1986.9 306.3,1983.7 308.5,1980.5 310.6,1977.3 312.7,1974.3 314.9,1971.3 317,1968.4 319.1,1965.6 321.2,1963 323.4,1960.6 325.5,1958.3 327.6,1956.1 329.8,1954.2 331.9,1952.3 334,1950.7 336.1,1949.2 338.3,1947.8 340.4,1946.6 342.5,1945.6 344.7,1944.7 346.8,1943.9 348.9,1943.2 351.1,1942.7 353.2,1942.2 355.3,1941.8 357.4,1941.5 359.6,1941.3 361.7,1941.1 363.8,1941 366,1940.9 368.1,1940.8 370.2,1940.7 372.4,1940.6 374.5,1940.4 376.6,1940.1 378.8,1939.8 380.9,1939.3 383,1938.7 385.1,1937.9 387.3,1936.9 389.4,1935.7 391.5,1934.2 393.7,1932.4 395.8,1930.4 397.9,1927.9 400.1,1925.2 402.2,1922 404.3,1918.5 406.4,1914.5 408.6,1910.1 410.7,1905.4 412.8,1900.2 415,1894.7 417.1,1888.7 419.2,1882.5 421.4,1876 423.5,1869.2 425.6,1862.3 427.7,1855.2 429.9,1848.1 432,1841.1 434.1,1834.1 436.3,1827.3 438.4,1820.8 440.5,1814.6 442.6,1808.9 444.8,1803.7 446.9,1799.1 449,1795.1 451.2,1791.9 453.3,1789.5 455.4,1787.9 457.6,1787.2 459.7,1787.4 461.8,1788.4 464,1789.9 466.1,1792 468.2,1794.6 470.3,1797.8 472.5,1801.4 474.6,1805.5 476.7,1810 478.9,1815 481,1820.4 483.1,1826.1 485.2,1832.2 487.4,1838.5 489.5,1845.1 491.6,1852 493.8,1859 495.9,1866.2 498,1873.5 500.2,1880.8 502.3,1888.2 504.4,1895.6 506.5,1902.9 508.7,1910.2 510.8,1917.3 512.9,1924.4 515.1,1931.3 517.2,1938 519.3,1944.6 521.5,1950.9 523.6,1957 525.7,1962.8 527.9,1968.5 530,1973.8 532.1,1979 534.2,1983.8 536.4,1988.5 538.5,1992.8 540.6,1996.9 542.8,2000.8 544.9,2004.4 547,2007.8 549.1,2011 551.3,2013.9 553.4,2016.7 555.5,2019.3 557.7,2021.7 559.8,2023.9 561.9,2025.9 564.1,2027.9 566.2,2029.6 568.3,2031.3 570.5,2032.8 572.6,2034.2 574.7,2035.6 576.8,2036.8 579,2038 581.1,2039.1 583.2,2040.1 585.4,2041 587.5,2041.9 589.6,2042.8 591.8,2043.6 593.9,2044.4 596,2045.2 598.1,2045.9 600.3,2046.6 602.4,2047.2 604.5,2047.9 606.7,2048.5 608.8,2049.1 610.9,2049.7 613,2050.2 615.2,2050.8 617.3,2051.3 619.4,2051.8 621.6,2052.3 623.7,2052.8 625.8,2053.3 628,2053.7 630.1,2054.2 632.2,2054.6 634.4,2055 636.5,2055.4 638.6,2055.8 640.7,2056.2 642.9,2056.5 645,2056.9 647.1,2057.2 649.3,2057.6 651.4,2057.9 653.5,2058.2 655.6,2058.4 657.8,2058.7 659.9,2059 662,2059.2 664.2,2059.4 666.3,2059.6 668.4,2059.9 670.6,2060 672.7,2060.2 674.8,2060.4 676.9,2060.6 679.1,2060.7 681.2,2060.9 683.3,2061 685.5,2061.1 687.6,2061.2 689.7,2061.3 691.9,2061.4 694,2061.5 696.1,2061.6 698.2,2061.7 700.4,2061.8 702.5,2061.8 704.6,2061.9 706.8,2062 708.9,2062 711,2062.1 713.2,2062.1 715.3,2062.1 717.4,2062.2 719.5,2062.2 721.7,2062.2 723.8,2062.3 725.9,2062.3 728.1,2062.3 730.2,2062.3 732.3,2062.4 734.5,2062.4 736.6,2062.4" stroke="#ff22ff" stroke-width="2.6"/>
<polyline points="155.1,2045.8 157.2,2044.2 159.4,2042.7 161.5,2041.1 163.6,2039.8 165.8,2038.7 167.9,2037.5 170,2036.6 172.1,2036.1 174.3,2035.6 176.4,2035.2 178.5,2035 180.7,2034.8 182.8,2040.2 184.9,2042.7 187.1,2043.3 189.2,2043.8 191.3,2044.4 193.4,2045 195.6,2045.6 197.7,2046.2 199.8,2046.8 202,2047.3 204.1,2047.9 206.2,2048.4 208.4,2048.8 210.5,2049.3 212.6,2049.7 214.7,2050.1 216.9,2050.5 219,2050.8 221.1,2051.1 223.3,2051.4 225.4,2051.7 227.5,2051.7 229.7,2051.7 231.8,2051.5 233.9,2051.4 236,2051.1 238.2,2050.8 240.3,2050.5 242.4,2050 244.6,2049.5 246.7,2048.9 248.8,2048.3 250.9,2047.5 253.1,2046.8 255.2,2045.9 257.3,2044.8 259.5,2043.6 261.6,2042.4 263.7,2041.1 265.9,2039.7 268,2038.3 270.1,2036.7 272.2,2035 274.4,2033.2 276.5,2031.3 278.6,2029.2 280.8,2027.1 282.9,2024.8 285,2022.5 287.2,2020 289.3,2017.5 291.4,2014.9 293.6,2012.2 295.7,2009.5 297.8,2006.7 299.9,2004 302.1,2001.2 304.2,1998.5 306.3,1995.8 308.5,1993.1 310.6,1990.5 312.7,1988 314.9,1985.5 317,1983.1 319.1,1980.8 321.2,1978.6 323.4,1976.6 325.5,1974.6 327.6,1972.8 329.8,1971.2 331.9,1969.7 334,1968.3 336.1,1967 338.3,1965.9 340.4,1964.9 342.5,1964 344.7,1963.3 346.8,1962.6 348.9,1962 351.1,1961.6 353.2,1961.2 355.3,1960.8 357.4,1960.6 359.6,1960.4 361.7,1960.2 363.8,1960 366,1959.8 368.1,1959.7 370.2,1959.5 372.4,1959.2 374.5,1958.9 376.6,1958.5 378.8,1958 380.9,1957.3 383,1956.4 385.1,1955.4 387.3,1954 389.4,1952.5 391.5,1950.6 393.7,1948.3 395.8,1945.7 397.9,1942.7 400.1,1939.3 402.2,1935.4 404.3,1931 406.4,1926.2 408.6,1920.8 410.7,1914.9 412.8,1908.6 415,1901.7 417.1,1894.3 419.2,1886.5 421.4,1878.3 423.5,1869.8 425.6,1860.9 427.7,1851.8 429.9,1842.5 432,1833.2 434.1,1823.9 436.3,1814.7 438.4,1805.7 440.5,1797 442.6,1788.7 444.8,1781 446.9,1773.8 449,1767.4 451.2,1761.8 453.3,1757.1 455.4,1753.3 457.6,1750.5 459.7,1748.8 461.8,1748.1 464,1748.6 466.1,1749.8 468.2,1751.7 470.3,1754.2 472.5,1757.4 474.6,1761.1 476.7,1765.5 478.9,1770.4 481,1775.8 483.1,1781.8 485.2,1788.2 487.4,1795 489.5,1802.2 491.6,1809.7 493.8,1817.5 495.9,1825.6 498,1833.8 500.2,1842.2 502.3,1850.7 504.4,1859.3 506.5,1867.8 508.7,1876.4 510.8,1884.8 512.9,1893.2 515.1,1901.4 517.2,1909.5 519.3,1917.4 521.5,1925.1 523.6,1932.5 525.7,1939.7 527.9,1946.5 530,1953.2 532.1,1959.5 534.2,1965.5 536.4,1971.2 538.5,1976.7 540.6,1981.8 542.8,1986.6 544.9,1991.2 547,1995.4 549.1,1999.4 551.3,2003.1 553.4,2006.6 555.5,2009.8 557.7,2012.8 559.8,2015.6 561.9,2018.2 564.1,2020.6 566.2,2022.8 568.3,2024.9 570.5,2026.8 572.6,2028.5 574.7,2030.2 576.8,2031.7 579,2033.1 581.1,2034.5 583.2,2035.7 585.4,2036.9 587.5,2037.9 589.6,2039 591.8,2039.9 593.9,2040.9 596,2041.8 598.1,2042.6 600.3,2043.4 602.4,2044.2 604.5,2044.9 606.7,2045.6 608.8,2046.3 610.9,2047 613,2047.7 615.2,2048.3 617.3,2048.9 619.4,2049.5 621.6,2050.1 623.7,2050.7 625.8,2051.2 628,2051.7 630.1,2052.3 632.2,2052.8 634.4,2053.3 636.5,2053.7 638.6,2054.2 640.7,2054.7 642.9,2055.1 645,2055.5 647.1,2055.9 649.3,2056.3 651.4,2056.7 653.5,2057 655.6,2057.4 657.8,2057.7 659.9,2058 662,2058.3 664.2,2058.6 666.3,2058.9 668.4,2059.1 670.6,2059.3 672.7,2059.6 674.8,2059.8 676.9,2060 679.1,2060.2 681.2,2060.4 683.3,2060.5 685.5,2060.7 687.6,2060.8 689.7,2061 691.9,2061.1 694,2061.2 696.1,2061.3 698.2,2061.4 700.4,2061.5 702.5,2061.6 704.6,2061.7 706.8,2061.8 708.9,2061.8 711,2061.9 713.2,2062 715.3,2062 717.4,2062.1 719.5,2062.1 721.7,2062.1 723.8,2062.2 725.9,2062.2 728.1,2062.2 730.2,2062.3 732.3,2062.3 734.5,2062.3 736.6,2062.3" stroke="#0f8f1f" stroke-width="2.6"/>
<polyline points="155.1,2045.8 157.2,2044.2 159.4,2042.7 161.5,2041.1 163.6,2039.8 165.8,2038.7 167.9,2037.5 170,2036.6 172.1,2036.1 174.3,2035.6 176.4,2035.2 178.5,2035 180.7,2034.8 182.8,2040.2 184.9,2042.7 187.1,2043.3 189.2,2043.8 191.3,2044.4 193.4,2045 195.6,2045.6 197.7,2046.2 199.8,2046.8 202,2047.3 204.1,2047.9 206.2,2048.4 208.4,2048.9 210.5,2049.3 212.6,2049.7 214.7,2050.1 216.9,2050.5 219,2050.8 221.1,2051.2 223.3,2051.5 225.4,2051.7 227.5,2051.8 229.7,2051.7 231.8,2051.6 233.9,2051.5 236,2051.3 238.2,2051 240.3,2050.7 242.4,2050.3 244.6,2049.8 246.7,2049.3 248.8,2048.7 250.9,2048.1 253.1,2047.4 255.2,2046.6 257.3,2045.7 259.5,2044.7 261.6,2043.7 263.7,2042.6 265.9,2041.5 268,2040.3 270.1,2038.9 272.2,2037.5 274.4,2036.1 276.5,2034.5 278.6,2032.8 280.8,2031 282.9,2029.1 285,2027.1 287.2,2025.1 289.3,2022.9 291.4,2020.7 293.6,2018.5 295.7,2016.2 297.8,2013.9 299.9,2011.5 302.1,2009.2 304.2,2006.8 306.3,2004.5 308.5,2002.3 310.6,2000.1 312.7,1997.9 314.9,1995.7 317,1993.7 319.1,1991.7 321.2,1989.9 323.4,1988.1 325.5,1986.5 327.6,1984.9 329.8,1983.5 331.9,1982.2 334,1981 336.1,1980 338.3,1979 340.4,1978.2 342.5,1977.4 344.7,1976.8 346.8,1976.2 348.9,1975.7 351.1,1975.3 353.2,1975 355.3,1974.7 357.4,1974.5 359.6,1974.4 361.7,1974.2 363.8,1974.1 366,1974 368.1,1973.8 370.2,1973.7 372.4,1973.5 374.5,1973.2 376.6,1972.8 378.8,1972.3 380.9,1971.7 383,1970.9 385.1,1969.9 387.3,1968.7 389.4,1967.2 391.5,1965.3 393.7,1963.2 395.8,1960.7 397.9,1957.8 400.1,1954.4 402.2,1950.6 404.3,1946.3 406.4,1941.4 408.6,1936 410.7,1930.1 412.8,1923.6 415,1916.6 417.1,1909 419.2,1900.9 421.4,1892.3 423.5,1883.3 425.6,1873.9 427.7,1864.1 429.9,1854 432,1843.8 434.1,1833.4 436.3,1823.1 438.4,1812.8 440.5,1802.7 442.6,1793 444.8,1783.6 446.9,1774.8 449,1766.6 451.2,1759.2 453.3,1752.6 455.4,1746.9 457.6,1742.3 459.7,1738.7 461.8,1736.2 464,1734.9 466.1,1734.8 468.2,1735.7 470.3,1737.3 472.5,1739.5 474.6,1742.5 476.7,1746.1 478.9,1750.4 481,1755.2 483.1,1760.7 485.2,1766.7 487.4,1773.2 489.5,1780.2 491.6,1787.6 493.8,1795.3 495.9,1803.4 498,1811.8 500.2,1820.3 502.3,1829.1 504.4,1838 506.5,1847 508.7,1856 510.8,1864.9 512.9,1873.9 515.1,1882.7 517.2,1891.4 519.3,1900 521.5,1908.3 523.6,1916.5 525.7,1924.3 527.9,1932 530,1939.3 532.1,1946.3 534.2,1953.1 536.4,1959.5 538.5,1965.6 540.6,1971.4 542.8,1976.9 544.9,1982.1 547,1986.9 549.1,1991.5 551.3,1995.7 553.4,1999.7 555.5,2003.4 557.7,2006.9 559.8,2010.1 561.9,2013 564.1,2015.8 566.2,2018.3 568.3,2020.7 570.5,2022.9 572.6,2024.9 574.7,2026.8 576.8,2028.5 579,2030.1 581.1,2031.6 583.2,2033 585.4,2034.3 587.5,2035.6 589.6,2036.7 591.8,2037.8 593.9,2038.8 596,2039.8 598.1,2040.7 600.3,2041.6 602.4,2042.4 604.5,2043.2 606.7,2044 608.8,2044.7 610.9,2045.4 613,2046.1 615.2,2046.8 617.3,2047.5 619.4,2048.1 621.6,2048.8 623.7,2049.4 625.8,2050 628,2050.5 630.1,2051.1 632.2,2051.6 634.4,2052.2 636.5,2052.7 638.6,2053.2 640.7,2053.7 642.9,2054.1 645,2054.6 647.1,2055 649.3,2055.5 651.4,2055.9 653.5,2056.3 655.6,2056.6 657.8,2057 659.9,2057.3 662,2057.7 664.2,2058 666.3,2058.3 668.4,2058.6 670.6,2058.9 672.7,2059.1 674.8,2059.4 676.9,2059.6 679.1,2059.8 681.2,2060 683.3,2060.2 685.5,2060.4 687.6,2060.5 689.7,2060.7 691.9,2060.8 694,2061 696.1,2061.1 698.2,2061.2 700.4,2061.3 702.5,2061.4 704.6,2061.5 706.8,2061.6 708.9,2061.7 711,2061.8 713.2,2061.8 715.3,2061.9 717.4,2062 719.5,2062 721.7,2062.1 723.8,2062.1 725.9,2062.2 728.1,2062.2 730.2,2062.2 732.3,2062.3 734.5,2062.3 736.6,2062.3" stroke="#22228f" stroke-width="2.6"/>
<polyline points="155.1,2045.8 157.2,2044.2 159.4,2042.7 161.5,2041.1 163.6,2039.8 165.8,2038.7 167.9,2037.5 170,2036.6 172.1,2036.1 174.3,2035.6 176.4,2035.2 178.5,2035 180.7,2034.8 182.8,2040.2 184.9,2042.7 187.1,2043.3 189.2,2043.8 191.3,2044.4 193.4,2045 195.6,2045.6 197.7,2046.2 199.8,2046.8 202,2047.3 204.1,2047.9 206.2,2048.4 208.4,2048.9 210.5,2049.3 212.6,2049.7 214.7,2050.1 216.9,2050.5 219,2050.9 221.1,2051.2 223.3,2051.5 225.4,2051.8 227.5,2051.9 229.7,2051.8 231.8,2051.7 233.9,2051.6 236,2051.4 238.2,2051.2 240.3,2050.9 242.4,2050.5 244.6,2050.1 246.7,2049.6 248.8,2049.1 250.9,2048.6 253.1,2048 255.2,2047.3 257.3,2046.5 259.5,2045.7 261.6,2044.8 263.7,2043.9 265.9,2042.9 268,2041.9 270.1,2040.8 272.2,2039.6 274.4,2038.4 276.5,2037 278.6,2035.6 280.8,2034.1 282.9,2032.5 285,2030.8 287.2,2029.1 289.3,2027.2 291.4,2025.4 293.6,2023.4 295.7,2021.4 297.8,2019.5 299.9,2017.4 302.1,2015.4 304.2,2013.4 306.3,2011.4 308.5,2009.5 310.6,2007.6 312.7,2005.7 314.9,2003.8 317,2002 319.1,2000.3 321.2,1998.7 323.4,1997.2 325.5,1995.7 327.6,1994.4 329.8,1993.2 331.9,1992 334,1991 336.1,1990.1 338.3,1989.2 340.4,1988.5 342.5,1987.8 344.7,1987.3 346.8,1986.8 348.9,1986.3 351.1,1986 353.2,1985.7 355.3,1985.4 357.4,1985.2 359.6,1985 361.7,1984.8 363.8,1984.6 366,1984.4 368.1,1984.2 370.2,1983.9 372.4,1983.6 374.5,1983.2 376.6,1982.7 378.8,1982 380.9,1981.2 383,1980.1 385.1,1978.9 387.3,1977.4 389.4,1975.5 391.5,1973.4 393.7,1970.9 395.8,1967.9 397.9,1964.6 400.1,1960.8 402.2,1956.4 404.3,1951.6 406.4,1946.1 408.6,1940.2 410.7,1933.6 412.8,1926.4 415,1918.7 417.1,1910.3 419.2,1901.4 421.4,1892 423.5,1882.2 425.6,1871.9 427.7,1861.2 429.9,1850.3 432,1839.1 434.1,1827.9 436.3,1816.6 438.4,1805.5 440.5,1794.5 442.6,1784 444.8,1773.8 446.9,1764.2 449,1755.3 451.2,1747.2 453.3,1740 455.4,1733.8 457.6,1728.7 459.7,1724.7 461.8,1721.9 464,1720.3 466.1,1720 468.2,1720.8 470.3,1722.3 472.5,1724.6 474.6,1727.5 476.7,1731.2 478.9,1735.6 481,1740.6 483.1,1746.3 485.2,1752.5 487.4,1759.3 489.5,1766.6 491.6,1774.3 493.8,1782.4 495.9,1790.8 498,1799.6 500.2,1808.6 502.3,1817.8 504.4,1827.1 506.5,1836.5 508.7,1845.9 510.8,1855.4 512.9,1864.8 515.1,1874 517.2,1883.2 519.3,1892.2 521.5,1900.9 523.6,1909.5 525.7,1917.8 527.9,1925.8 530,1933.5 532.1,1940.9 534.2,1948 536.4,1954.7 538.5,1961.1 540.6,1967.2 542.8,1973 544.9,1978.4 547,1983.5 549.1,1988.3 551.3,1992.7 553.4,1996.9 555.5,2000.8 557.7,2004.4 559.8,2007.8 561.9,2010.9 564.1,2013.8 566.2,2016.4 568.3,2018.9 570.5,2021.2 572.6,2023.3 574.7,2025.3 576.8,2027.1 579,2028.7 581.1,2030.3 583.2,2031.8 585.4,2033.1 587.5,2034.4 589.6,2035.6 591.8,2036.7 593.9,2037.7 596,2038.7 598.1,2039.7 600.3,2040.6 602.4,2041.5 604.5,2042.3 606.7,2043.1 608.8,2043.9 610.9,2044.6 613,2045.4 615.2,2046.1 617.3,2046.8 619.4,2047.4 621.6,2048.1 623.7,2048.7 625.8,2049.3 628,2049.9 630.1,2050.5 632.2,2051.1 634.4,2051.7 636.5,2052.2 638.6,2052.7 640.7,2053.2 642.9,2053.7 645,2054.2 647.1,2054.7 649.3,2055.1 651.4,2055.5 653.5,2055.9 655.6,2056.3 657.8,2056.7 659.9,2057.1 662,2057.4 664.2,2057.8 666.3,2058.1 668.4,2058.4 670.6,2058.7 672.7,2058.9 674.8,2059.2 676.9,2059.4 679.1,2059.7 681.2,2059.9 683.3,2060.1 685.5,2060.3 687.6,2060.4 689.7,2060.6 691.9,2060.8 694,2060.9 696.1,2061 698.2,2061.2 700.4,2061.3 702.5,2061.4 704.6,2061.5 706.8,2061.6 708.9,2061.7 711,2061.7 713.2,2061.8 715.3,2061.9 717.4,2061.9 719.5,2062 721.7,2062 723.8,2062.1 725.9,2062.1 728.1,2062.2 730.2,2062.2 732.3,2062.2 734.5,2062.3 736.6,2062.3" stroke="#9030ff" stroke-width="2.6"/>
<polyline points="155.1,2045.8 157.2,2044.2 159.4,2042.7 161.5,2041.1 163.6,2039.8 165.8,2038.7 167.9,2037.5 170,2036.6 172.1,2036.1 174.3,2035.6 176.4,2035.2 178.5,2035 180.7,2034.8 182.8,2040.2 184.9,2042.7 187.1,2043.3 189.2,2043.8 191.3,2044.4 193.4,2045 195.6,2045.6 197.7,2046.2 199.8,2046.8 202,2047.4 204.1,2047.9 206.2,2048.4 208.4,2048.9 210.5,2049.3 212.6,2049.7 214.7,2050.1 216.9,2050.5 219,2050.9 221.1,2051.2 223.3,2051.6 225.4,2051.8 227.5,2051.9 229.7,2051.9 231.8,2051.8 233.9,2051.7 236,2051.6 238.2,2051.3 240.3,2051.1 242.4,2050.8 244.6,2050.4 246.7,2050 248.8,2049.5 250.9,2049.1 253.1,2048.6 255.2,2048 257.3,2047.3 259.5,2046.6 261.6,2045.9 263.7,2045.1 265.9,2044.3 268,2043.5 270.1,2042.6 272.2,2041.7 274.4,2040.7 276.5,2039.6 278.6,2038.5 280.8,2037.2 282.9,2035.9 285,2034.6 287.2,2033.1 289.3,2031.6 291.4,2030 293.6,2028.4 295.7,2026.8 297.8,2025.1 299.9,2023.5 302.1,2021.8 304.2,2020.1 306.3,2018.4 308.5,2016.8 310.6,2015.2 312.7,2013.6 314.9,2012 317,2010.5 319.1,2009.1 321.2,2007.7 323.4,2006.4 325.5,2005.2 327.6,2004 329.8,2003 331.9,2002 334,2001.2 336.1,2000.4 338.3,1999.7 340.4,1999 342.5,1998.5 344.7,1998 346.8,1997.6 348.9,1997.2 351.1,1996.9 353.2,1996.6 355.3,1996.4 357.4,1996.2 359.6,1996 361.7,1995.8 363.8,1995.7 366,1995.5 368.1,1995.2 370.2,1994.9 372.4,1994.6 374.5,1994.1 376.6,1993.5 378.8,1992.8 380.9,1992 383,1990.9 385.1,1989.6 387.3,1988 389.4,1986.1 391.5,1983.9 393.7,1981.3 395.8,1978.3 397.9,1974.8 400.1,1970.8 402.2,1966.4 404.3,1961.3 406.4,1955.7 408.6,1949.5 410.7,1942.7 412.8,1935.3 415,1927.2 417.1,1918.5 419.2,1909.2 421.4,1899.3 423.5,1888.9 425.6,1878 427.7,1866.7 429.9,1855 432,1843.1 434.1,1831 436.3,1818.8 438.4,1806.7 440.5,1794.7 442.6,1783 444.8,1771.7 446.9,1760.9 449,1750.8 451.2,1741.4 453.3,1732.9 455.4,1725.4 457.6,1719 459.7,1713.8 461.8,1709.8 464,1707.1 466.1,1705.7 468.2,1705.7 470.3,1706.6 472.5,1708.3 474.6,1710.8 476.7,1714.1 478.9,1718.1 481,1722.8 483.1,1728.2 485.2,1734.3 487.4,1740.9 489.5,1748.2 491.6,1755.9 493.8,1764.1 495.9,1772.7 498,1781.6 500.2,1790.8 502.3,1800.3 504.4,1810 506.5,1819.8 508.7,1829.6 510.8,1839.5 512.9,1849.4 515.1,1859.2 517.2,1868.9 519.3,1878.4 521.5,1887.7 523.6,1896.8 525.7,1905.7 527.9,1914.3 530,1922.6 532.1,1930.5 534.2,1938.2 536.4,1945.5 538.5,1952.4 540.6,1959 542.8,1965.3 544.9,1971.2 547,1976.7 549.1,1982 551.3,1986.8 553.4,1991.4 555.5,1995.7 557.7,1999.6 559.8,2003.3 561.9,2006.7 564.1,2009.9 566.2,2012.8 568.3,2015.5 570.5,2018 572.6,2020.3 574.7,2022.5 576.8,2024.4 579,2026.3 581.1,2028 583.2,2029.6 585.4,2031 587.5,2032.4 589.6,2033.7 591.8,2034.9 593.9,2036 596,2037.1 598.1,2038.1 600.3,2039.1 602.4,2040 604.5,2040.9 606.7,2041.8 608.8,2042.6 610.9,2043.4 613,2044.1 615.2,2044.9 617.3,2045.6 619.4,2046.3 621.6,2047 623.7,2047.7 625.8,2048.3 628,2049 630.1,2049.6 632.2,2050.2 634.4,2050.8 636.5,2051.3 638.6,2051.9 640.7,2052.4 642.9,2053 645,2053.5 647.1,2054 649.3,2054.4 651.4,2054.9 653.5,2055.3 655.6,2055.8 657.8,2056.2 659.9,2056.6 662,2056.9 664.2,2057.3 666.3,2057.6 668.4,2058 670.6,2058.3 672.7,2058.6 674.8,2058.8 676.9,2059.1 679.1,2059.4 681.2,2059.6 683.3,2059.8 685.5,2060 687.6,2060.2 689.7,2060.4 691.9,2060.6 694,2060.7 696.1,2060.9 698.2,2061 700.4,2061.1 702.5,2061.3 704.6,2061.4 706.8,2061.5 708.9,2061.6 711,2061.6 713.2,2061.7 715.3,2061.8 717.4,2061.9 719.5,2061.9 721.7,2062 723.8,2062 725.9,2062.1 728.1,2062.1 730.2,2062.2 732.3,2062.2 734.5,2062.2 736.6,2062.3" stroke="#932a93" stroke-width="2.6"/>
<polyline points="155.1,2045.8 157.2,2044.2 159.4,2042.7 161.5,2041.1 163.6,2039.8 165.8,2038.7 167.9,2037.5 170,2036.6 172.1,2036.1 174.3,2035.6 176.4,2035.2 178.5,2035 180.7,2034.8 182.8,2040.2 184.9,2042.7 187.1,2043.3 189.2,2043.8 191.3,2044.4 193.4,2045 195.6,2045.6 197.7,2046.2 199.8,2046.8 202,2047.4 204.1,2047.9 206.2,2048.4 208.4,2048.9 210.5,2049.3 212.6,2049.7 214.7,2050.2 216.9,2050.5 219,2050.9 221.1,2051.3 223.3,2051.6 225.4,2051.9 227.5,2052 229.7,2051.9 231.8,2051.9 233.9,2051.8 236,2051.6 238.2,2051.4 240.3,2051.2 242.4,2050.9 244.6,2050.5 246.7,2050.1 248.8,2049.7 250.9,2049.3 253.1,2048.8 255.2,2048.3 257.3,2047.7 259.5,2047.1 261.6,2046.4 263.7,2045.8 265.9,2045.1 268,2044.4 270.1,2043.6 272.2,2042.8 274.4,2042 276.5,2041.1 278.6,2040.1 280.8,2039 282.9,2037.9 285,2036.7 287.2,2035.4 289.3,2034.1 291.4,2032.8 293.6,2031.3 295.7,2029.9 297.8,2028.4 299.9,2026.9 302.1,2025.4 304.2,2024 306.3,2022.5 308.5,2021 310.6,2019.6 312.7,2018.2 314.9,2016.8 317,2015.4 319.1,2014.1 321.2,2012.9 323.4,2011.7 325.5,2010.7 327.6,2009.6 329.8,2008.7 331.9,2007.9 334,2007.1 336.1,2006.4 338.3,2005.8 340.4,2005.2 342.5,2004.7 344.7,2004.3 346.8,2003.9 348.9,2003.6 351.1,2003.3 353.2,2003.1 355.3,2002.9 357.4,2002.8 359.6,2002.7 361.7,2002.5 363.8,2002.4 366,2002.3 368.1,2002.1 370.2,2001.9 372.4,2001.7 374.5,2001.3 376.6,2000.9 378.8,2000.4 380.9,1999.7 383,1998.8 385.1,1997.7 387.3,1996.4 389.4,1994.8 391.5,1992.9 393.7,1990.7 395.8,1988 397.9,1985 400.1,1981.4 402.2,1977.4 404.3,1972.9 406.4,1967.8 408.6,1962 410.7,1955.7 412.8,1948.7 415,1941.1 417.1,1932.8 419.2,1923.9 421.4,1914.4 423.5,1904.2 425.6,1893.5 427.7,1882.3 429.9,1870.6 432,1858.5 434.1,1846.1 436.3,1833.5 438.4,1820.8 440.5,1808.1 442.6,1795.5 444.8,1783.2 446.9,1771.3 449,1759.8 451.2,1749 453.3,1738.9 455.4,1729.8 457.6,1721.5 459.7,1714.4 461.8,1708.5 464,1703.9 466.1,1700.5 468.2,1698.6 470.3,1698 472.5,1698.6 474.6,1700 476.7,1702.3 478.9,1705.3 481,1709.1 483.1,1713.6 485.2,1718.9 487.4,1724.8 489.5,1731.4 491.6,1738.6 493.8,1746.3 495.9,1754.5 498,1763.2 500.2,1772.2 502.3,1781.6 504.4,1791.2 506.5,1801 508.7,1811 510.8,1821.1 512.9,1831.2 515.1,1841.3 517.2,1851.4 519.3,1861.3 521.5,1871.2 523.6,1880.8 525.7,1890.2 527.9,1899.4 530,1908.3 532.1,1916.9 534.2,1925.1 536.4,1933.1 538.5,1940.6 540.6,1947.9 542.8,1954.8 544.9,1961.3 547,1967.4 549.1,1973.2 551.3,1978.7 553.4,1983.8 555.5,1988.5 557.7,1993 559.8,1997.1 561.9,2001 564.1,2004.6 566.2,2007.9 568.3,2010.9 570.5,2013.8 572.6,2016.4 574.7,2018.8 576.8,2021.1 579,2023.1 581.1,2025 583.2,2026.8 585.4,2028.5 587.5,2030 589.6,2031.4 591.8,2032.7 593.9,2034 596,2035.2 598.1,2036.3 600.3,2037.3 602.4,2038.3 604.5,2039.3 606.7,2040.2 608.8,2041.1 610.9,2041.9 613,2042.7 615.2,2043.5 617.3,2044.3 619.4,2045 621.6,2045.8 623.7,2046.5 625.8,2047.1 628,2047.8 630.1,2048.5 632.2,2049.1 634.4,2049.7 636.5,2050.3 638.6,2050.9 640.7,2051.5 642.9,2052 645,2052.6 647.1,2053.1 649.3,2053.6 651.4,2054.1 653.5,2054.6 655.6,2055 657.8,2055.5 659.9,2055.9 662,2056.3 664.2,2056.7 666.3,2057.1 668.4,2057.4 670.6,2057.7 672.7,2058.1 674.8,2058.4 676.9,2058.7 679.1,2058.9 681.2,2059.2 683.3,2059.4 685.5,2059.7 687.6,2059.9 689.7,2060.1 691.9,2060.3 694,2060.5 696.1,2060.6 698.2,2060.8 700.4,2060.9 702.5,2061.1 704.6,2061.2 706.8,2061.3 708.9,2061.4 711,2061.5 713.2,2061.6 715.3,2061.7 717.4,2061.8 719.5,2061.8 721.7,2061.9 723.8,2062 725.9,2062 728.1,2062.1 730.2,2062.1 732.3,2062.1 734.5,2062.2 736.6,2062.2" stroke="#8f2030" stroke-width="2.6"/>
<polyline points="155.1,2045.8 157.2,2044.2 159.4,2042.7 161.5,2041.1 163.6,2039.8 165.8,2038.7 167.9,2037.5 170,2036.6 172.1,2036.1 174.3,2035.6 176.4,2035.2 178.5,2035 180.7,2034.8 182.8,2040.2 184.9,2042.7 187.1,2043.3 189.2,2043.8 191.3,2044.4 193.4,2045 195.6,2045.6 197.7,2046.2 199.8,2046.8 202,2047.4 204.1,2047.9 206.2,2048.4 208.4,2048.9 210.5,2049.3 212.6,2049.8 214.7,2050.2 216.9,2050.6 219,2050.9 221.1,2051.3 223.3,2051.6 225.4,2051.9 227.5,2052 229.7,2052 231.8,2051.9 233.9,2051.8 236,2051.7 238.2,2051.5 240.3,2051.3 242.4,2051 244.6,2050.7 246.7,2050.4 248.8,2050 250.9,2049.6 253.1,2049.2 255.2,2048.7 257.3,2048.2 259.5,2047.6 261.6,2047.1 263.7,2046.5 265.9,2046 268,2045.4 270.1,2044.7 272.2,2044.1 274.4,2043.4 276.5,2042.6 278.6,2041.8 280.8,2040.9 282.9,2039.9 285,2038.9 287.2,2037.8 289.3,2036.7 291.4,2035.5 293.6,2034.3 295.7,2033.1 297.8,2031.8 299.9,2030.5 302.1,2029.2 304.2,2027.9 306.3,2026.6 308.5,2025.3 310.6,2024.1 312.7,2022.8 314.9,2021.6 317,2020.4 319.1,2019.3 321.2,2018.2 323.4,2017.2 325.5,2016.2 327.6,2015.3 329.8,2014.5 331.9,2013.7 334,2013.1 336.1,2012.4 338.3,2011.9 340.4,2011.4 342.5,2011 344.7,2010.6 346.8,2010.3 348.9,2010 351.1,2009.7 353.2,2009.5 355.3,2009.4 357.4,2009.2 359.6,2009.1 361.7,2008.9 363.8,2008.8 366,2008.6 368.1,2008.4 370.2,2008.2 372.4,2007.9 374.5,2007.5 376.6,2007 378.8,2006.4 380.9,2005.6 383,2004.6 385.1,2003.4 387.3,2002 389.4,2000.2 391.5,1998.2 393.7,1995.8 395.8,1993 397.9,1989.8 400.1,1986.1 402.2,1981.9 404.3,1977.1 406.4,1971.8 408.6,1965.8 410.7,1959.2 412.8,1952 415,1944.1 417.1,1935.6 419.2,1926.4 421.4,1916.5 423.5,1906.1 425.6,1895 427.7,1883.5 429.9,1871.4 432,1859 434.1,1846.3 436.3,1833.4 438.4,1820.3 440.5,1807.3 442.6,1794.4 444.8,1781.7 446.9,1769.5 449,1757.7 451.2,1746.6 453.3,1736.3 455.4,1726.8 457.6,1718.4 459.7,1711.1 461.8,1704.9 464,1700.1 466.1,1696.7 468.2,1694.6 470.3,1693.9 472.5,1694.5 474.6,1695.8 476.7,1698 478.9,1701 481,1704.8 483.1,1709.4 485.2,1714.7 487.4,1720.7 489.5,1727.3 491.6,1734.6 493.8,1742.3 495.9,1750.6 498,1759.4 500.2,1768.5 502.3,1778 504.4,1787.7 506.5,1797.7 508.7,1807.8 510.8,1818 512.9,1828.2 515.1,1838.5 517.2,1848.7 519.3,1858.8 521.5,1868.7 523.6,1878.5 525.7,1888 527.9,1897.3 530,1906.3 532.1,1915 534.2,1923.4 536.4,1931.5 538.5,1939.2 540.6,1946.5 542.8,1953.5 544.9,1960.1 547,1966.3 549.1,1972.2 551.3,1977.7 553.4,1982.9 555.5,1987.7 557.7,1992.2 559.8,1996.4 561.9,2000.3 564.1,2003.9 566.2,2007.3 568.3,2010.4 570.5,2013.2 572.6,2015.9 574.7,2018.3 576.8,2020.6 579,2022.7 581.1,2024.6 583.2,2026.4 585.4,2028.1 587.5,2029.6 589.6,2031.1 591.8,2032.4 593.9,2033.7 596,2034.9 598.1,2036 600.3,2037 602.4,2038 604.5,2039 606.7,2039.9 608.8,2040.8 610.9,2041.7 613,2042.5 615.2,2043.3 617.3,2044.1 619.4,2044.8 621.6,2045.5 623.7,2046.2 625.8,2046.9 628,2047.6 630.1,2048.3 632.2,2048.9 634.4,2049.5 636.5,2050.2 638.6,2050.8 640.7,2051.3 642.9,2051.9 645,2052.4 647.1,2053 649.3,2053.5 651.4,2054 653.5,2054.5 655.6,2054.9 657.8,2055.4 659.9,2055.8 662,2056.2 664.2,2056.6 666.3,2057 668.4,2057.3 670.6,2057.7 672.7,2058 674.8,2058.3 676.9,2058.6 679.1,2058.9 681.2,2059.1 683.3,2059.4 685.5,2059.6 687.6,2059.8 689.7,2060 691.9,2060.2 694,2060.4 696.1,2060.6 698.2,2060.7 700.4,2060.9 702.5,2061 704.6,2061.2 706.8,2061.3 708.9,2061.4 711,2061.5 713.2,2061.6 715.3,2061.7 717.4,2061.7 719.5,2061.8 721.7,2061.9 723.8,2061.9 725.9,2062 728.1,2062 730.2,2062.1 732.3,2062.1 734.5,2062.2 736.6,2062.2" stroke="#90901a" stroke-width="2.6"/>
<polyline points="155.1,2045.8 157.2,2044.2 159.4,2042.7 161.5,2041.1 163.6,2039.8 165.8,2038.7 167.9,2037.5 170,2036.6 172.1,2036.1 174.3,2035.6 176.4,2035.2 178.5,2035 180.7,2034.8 182.8,2040.2 184.9,2042.7 187.1,2043.3 189.2,2043.8 191.3,2044.4 193.4,2045 195.6,2045.6 197.7,2046.2 199.8,2046.8 202,2047.4 204.1,2047.9 206.2,2048.4 208.4,2048.9 210.5,2049.3 212.6,2049.8 214.7,2050.2 216.9,2050.6 219,2051 221.1,2051.3 223.3,2051.6 225.4,2051.9 227.5,2052.1 229.7,2052 231.8,2052 233.9,2051.9 236,2051.8 238.2,2051.6 240.3,2051.4 242.4,2051.1 244.6,2050.9 246.7,2050.5 248.8,2050.2 250.9,2049.9 253.1,2049.5 255.2,2049.1 257.3,2048.6 259.5,2048.1 261.6,2047.7 263.7,2047.2 265.9,2046.7 268,2046.3 270.1,2045.8 272.2,2045.2 274.4,2044.7 276.5,2044 278.6,2043.4 280.8,2042.6 282.9,2041.8 285,2041 287.2,2040.1 289.3,2039.1 291.4,2038.1 293.6,2037.1 295.7,2036 297.8,2034.9 299.9,2033.8 302.1,2032.7 304.2,2031.6 306.3,2030.5 308.5,2029.4 310.6,2028.3 312.7,2027.2 314.9,2026.2 317,2025.1 319.1,2024.1 321.2,2023.2 323.4,2022.3 325.5,2021.5 327.6,2020.7 329.8,2020 331.9,2019.3 334,2018.7 336.1,2018.2 338.3,2017.7 340.4,2017.3 342.5,2016.9 344.7,2016.6 346.8,2016.3 348.9,2016 351.1,2015.8 353.2,2015.7 355.3,2015.5 357.4,2015.4 359.6,2015.3 361.7,2015.2 363.8,2015 366,2014.9 368.1,2014.7 370.2,2014.5 372.4,2014.2 374.5,2013.8 376.6,2013.4 378.8,2012.8 380.9,2012.1 383,2011.2 385.1,2010 387.3,2008.7 389.4,2007.1 391.5,2005.1 393.7,2002.9 395.8,2000.2 397.9,1997.1 400.1,1993.6 402.2,1989.6 404.3,1985 406.4,1979.9 408.6,1974.1 410.7,1967.8 412.8,1960.7 415,1953.1 417.1,1944.7 419.2,1935.7 421.4,1926 423.5,1915.6 425.6,1904.7 427.7,1893.2 429.9,1881.1 432,1868.7 434.1,1855.8 436.3,1842.7 438.4,1829.4 440.5,1816 442.6,1802.7 444.8,1789.6 446.9,1776.7 449,1764.4 451.2,1752.5 453.3,1741.4 455.4,1731.1 457.6,1721.7 459.7,1713.4 461.8,1706.3 464,1700.5 466.1,1695.9 468.2,1692.8 470.3,1691.1 472.5,1690.9 474.6,1691.6 476.7,1693.2 478.9,1695.6 481,1698.9 483.1,1703 485.2,1707.8 487.4,1713.3 489.5,1719.6 491.6,1726.5 493.8,1733.9 495.9,1742 498,1750.5 500.2,1759.5 502.3,1768.8 504.4,1778.4 506.5,1788.4 508.7,1798.5 510.8,1808.7 512.9,1819.1 515.1,1829.4 517.2,1839.8 519.3,1850 521.5,1860.2 523.6,1870.2 525.7,1880 527.9,1889.5 530,1898.8 532.1,1907.9 534.2,1916.5 536.4,1924.9 538.5,1932.9 540.6,1940.6 542.8,1947.9 544.9,1954.8 547,1961.3 549.1,1967.5 551.3,1973.3 553.4,1978.8 555.5,1983.9 557.7,1988.7 559.8,1993.1 561.9,1997.2 564.1,2001.1 566.2,2004.6 568.3,2007.9 570.5,2011 572.6,2013.8 574.7,2016.4 576.8,2018.8 579,2021 581.1,2023.1 583.2,2025 585.4,2026.7 587.5,2028.4 589.6,2029.9 591.8,2031.3 593.9,2032.6 596,2033.9 598.1,2035 600.3,2036.1 602.4,2037.2 604.5,2038.2 606.7,2039.1 608.8,2040 610.9,2040.9 613,2041.8 615.2,2042.6 617.3,2043.4 619.4,2044.1 621.6,2044.9 623.7,2045.6 625.8,2046.3 628,2047 630.1,2047.7 632.2,2048.4 634.4,2049 636.5,2049.6 638.6,2050.2 640.7,2050.8 642.9,2051.4 645,2052 647.1,2052.5 649.3,2053 651.4,2053.6 653.5,2054 655.6,2054.5 657.8,2055 659.9,2055.4 662,2055.9 664.2,2056.3 666.3,2056.7 668.4,2057 670.6,2057.4 672.7,2057.7 674.8,2058 676.9,2058.4 679.1,2058.6 681.2,2058.9 683.3,2059.2 685.5,2059.4 687.6,2059.7 689.7,2059.9 691.9,2060.1 694,2060.3 696.1,2060.5 698.2,2060.6 700.4,2060.8 702.5,2060.9 704.6,2061.1 706.8,2061.2 708.9,2061.3 711,2061.4 713.2,2061.5 715.3,2061.6 717.4,2061.7 719.5,2061.8 721.7,2061.8 723.8,2061.9 725.9,2062 728.1,2062 730.2,2062.1 732.3,2062.1 734.5,2062.1 736.6,2062.2" stroke="#3f7fc0" stroke-width="2.6"/>
</g>
<line x1="174" y1="1661" x2="221" y2="1661" stroke="#000000" stroke-width="2.8" />
<text x="227" y="1668.3" font-size="20" text-anchor="start" fill="#000" font-family='"Liberation Sans",sans-serif' font-weight="bold" >only donor</text>
<line x1="174" y1="1690.9" x2="221" y2="1690.9" stroke="#ff2a2a" stroke-width="3.2" />
<text x="227" y="1698.2" font-size="20" text-anchor="start" fill="#000" font-family='"Liberation Sans",sans-serif' font-weight="bold" >2000:1</text>
<line x1="174" y1="1720.8" x2="221" y2="1720.8" stroke="#2a2aff" stroke-width="3.2" />
<text x="227" y="1728.1" font-size="20" text-anchor="start" fill="#000" font-family='"Liberation Sans",sans-serif' font-weight="bold" >1000:1</text>
<line x1="174" y1="1750.7" x2="221" y2="1750.7" stroke="#ff22ff" stroke-width="3.2" />
<text x="227" y="1758" font-size="20" text-anchor="start" fill="#000" font-family='"Liberation Sans",sans-serif' font-weight="bold" >667:1</text>
<line x1="174" y1="1780.6" x2="221" y2="1780.6" stroke="#0f8f1f" stroke-width="3.2" />
<text x="227" y="1787.9" font-size="20" text-anchor="start" fill="#000" font-family='"Liberation Sans",sans-serif' font-weight="bold" >500:1</text>
<line x1="174" y1="1810.5" x2="221" y2="1810.5" stroke="#22228f" stroke-width="3.2" />
<text x="227" y="1817.8" font-size="20" text-anchor="start" fill="#000" font-family='"Liberation Sans",sans-serif' font-weight="bold" >400:1</text>
<line x1="174" y1="1840.4" x2="221" y2="1840.4" stroke="#9030ff" stroke-width="3.2" />
<text x="227" y="1847.7" font-size="20" text-anchor="start" fill="#000" font-family='"Liberation Sans",sans-serif' font-weight="bold" >334:1</text>
<line x1="174" y1="1870.3" x2="221" y2="1870.3" stroke="#932a93" stroke-width="3.2" />
<text x="227" y="1877.6" font-size="20" text-anchor="start" fill="#000" font-family='"Liberation Sans",sans-serif' font-weight="bold" >285:1</text>
<line x1="174" y1="1900.2" x2="221" y2="1900.2" stroke="#8f2030" stroke-width="3.2" />
<text x="227" y="1907.5" font-size="20" text-anchor="start" fill="#000" font-family='"Liberation Sans",sans-serif' font-weight="bold" >250:1</text>
<line x1="174" y1="1930.1" x2="221" y2="1930.1" stroke="#90901a" stroke-width="3.2" />
<text x="227" y="1937.4" font-size="20" text-anchor="start" fill="#000" font-family='"Liberation Sans",sans-serif' font-weight="bold" >222:1</text>
<line x1="174" y1="1960" x2="221" y2="1960" stroke="#3f7fc0" stroke-width="3.2" />
<text x="227" y="1967.3" font-size="20" text-anchor="start" fill="#000" font-family='"Liberation Sans",sans-serif' font-weight="bold" >200:1</text>
<text x="520" y="1659" font-size="19.5" text-anchor="middle" fill="#2b2b2b" font-family='"Liberation Sans",sans-serif' font-weight="bold" >Acceptor</text>
<text x="520" y="1684" font-size="19.5" text-anchor="middle" fill="#2b2b2b" font-family='"Liberation Sans",sans-serif' font-weight="bold" >emission</text>
<text x="368" y="1834" font-size="19.5" text-anchor="middle" fill="#2b2b2b" font-family='"Liberation Sans",sans-serif' font-weight="bold" >Donor</text>
<text x="371" y="1860" font-size="19.5" text-anchor="middle" fill="#2b2b2b" font-family='"Liberation Sans",sans-serif' font-weight="bold" >emission</text>
<line x1="421.5" y1="1777" x2="421.5" y2="1674" stroke="#111" stroke-width="2" />
<polygon points="421.5,1668 417.9,1679 425.1,1679" fill="#111"/>
<line x1="306" y1="1853" x2="306" y2="1903" stroke="#111" stroke-width="2" />
<polygon points="306,1909 302.4,1898 309.6,1898" fill="#111"/>
<text transform="translate(47.2,1640.9) scale(1,1)" font-size="54" fill="#000" font-family='"Liberation Sans",sans-serif' font-weight="bold">(j)</text>
<rect x="644.1" y="1669.9" width="82" height="168" fill="#02001c" stroke="none" stroke-width="0" />
<g clip-path="url(#vc7)">
<g filter="url(#vb)">
<rect x="658.4" y="1682.5" width="72.7" height="57.9" rx="7" fill="url(#vn7)"/>
<line x1="656.9" y1="1693" x2="732.5" y2="1693" stroke="#eef6ff" stroke-width="2.4" stroke-opacity="0.55"/>
<line x1="656.9" y1="1705.5" x2="732.5" y2="1705.5" stroke="#eef6ff" stroke-width="2.4" stroke-opacity="0.55"/>
<line x1="656.9" y1="1717" x2="732.5" y2="1717" stroke="#eef6ff" stroke-width="2.4" stroke-opacity="0.55"/>
<line x1="671.4" y1="1685.5" x2="671.4" y2="1722.4" stroke="#eef6ff" stroke-width="2.6" stroke-opacity="0.6"/>
<line x1="688.9" y1="1685.5" x2="688.9" y2="1722.4" stroke="#eef6ff" stroke-width="2.6" stroke-opacity="0.6"/>
<line x1="702" y1="1685.5" x2="702" y2="1722.4" stroke="#eef6ff" stroke-width="2.6" stroke-opacity="0.6"/>
<line x1="720.8" y1="1685.5" x2="720.8" y2="1722.4" stroke="#eef6ff" stroke-width="2.6" stroke-opacity="0.6"/>
<path d="M656.4,1727 L731,1727 Q731,1727.8 731,1732.1 L731,1827.4 Q731,1835.4 723,1835.4 L649.6,1835.4 Q641.6,1835.4 641.6,1827.4 L641.6,1732.1 Q641.6,1727.8 656.4,1727 Z" fill="url(#vg7)"/>
<rect x="641.6" y="1732.1" width="89.4" height="95.3" fill="url(#vs7)"/>
</g>
<text transform="translate(641.9,1727.1) scale(0.86,1)" font-size="30" font-family='"DejaVu Sans",sans-serif' font-weight="bold" fill="#fff" stroke="#fff" stroke-width="0.7" filter="url(#tb)">donor</text>
</g>
<rect x="644.1" y="1856.1" width="83.4" height="170.1" fill="#140a26" stroke="none" stroke-width="0" />
<g clip-path="url(#vc8)">
<g filter="url(#vb)">
<rect x="661.9" y="1862.9" width="59.7" height="52.5" rx="7" fill="url(#vn8)"/>
<path d="M659.9,1904.7 L723.7,1904.7 Q729.2,1905.5 729.2,1909.9 L729.2,2009.4 Q729.2,2021.4 717.2,2021.4 L665.7,2021.4 Q653.7,2021.4 653.7,2009.4 L653.7,1909.9 Q653.7,1905.5 659.9,1904.7 Z" fill="url(#vg8)"/>
<rect x="653.7" y="1909.9" width="75.5" height="99.6" fill="url(#vs8)"/>
</g>
<text transform="translate(644.6,1899.5) scale(0.9,1)" font-size="29" font-family='"DejaVu Sans",sans-serif' font-weight="bold" fill="#fff" stroke="#fff" stroke-width="0.7" filter="url(#tb)">200:1</text>
</g>
<g clip-path="url(#clipb)">
<polygon points="909.9,426.9 901.4,441.9 918.4,441.9" fill="#ff0000"/>
<polygon points="965.4,216.6 956.9,231.6 973.9,231.6" fill="#ff0000"/>
<polygon points="1020.5,157.4 1012,172.4 1029,172.4" fill="#ff0000"/>
<polygon points="1076,135.1 1067.5,150.1 1084.5,150.1" fill="#ff0000"/>
<polygon points="1131.2,110 1122.7,125 1139.7,125" fill="#ff0000"/>
<polygon points="1186.3,103.1 1177.8,118.1 1194.8,118.1" fill="#ff0000"/>
<polygon points="1241.4,94.6 1232.9,109.6 1249.9,109.6" fill="#ff0000"/>
<polygon points="1296.9,69.5 1288.4,84.5 1305.4,84.5" fill="#ff0000"/>
<polygon points="1351.6,67.5 1343.1,82.5 1360.1,82.5" fill="#ff0000"/>
<polygon points="1407.1,57.3 1398.6,72.3 1415.6,72.3" fill="#ff0000"/>
<polygon points="1462.2,54.1 1453.7,69.1 1470.7,69.1" fill="#ff0000"/>
<polygon points="965.4,339.1 967.4,344.9 973.5,345 968.7,348.7 970.4,354.5 965.4,351 960.4,354.5 962.2,348.7 957.3,345 963.4,344.9" fill="#000"/>
<polygon points="1020.5,354.1 1022.5,359.9 1028.6,360 1023.8,363.7 1025.5,369.5 1020.5,366 1015.5,369.5 1017.3,363.7 1012.5,360 1018.5,359.9" fill="#000"/>
<polygon points="1076,362.2 1078,368 1084.1,368.1 1079.3,371.8 1081,377.6 1076,374.1 1071,377.6 1072.8,371.8 1068,368.1 1074,368" fill="#000"/>
<polygon points="1131.2,372.8 1133.1,378.5 1139.2,378.7 1134.4,382.3 1136.1,388.2 1131.2,384.7 1126.2,388.2 1127.9,382.3 1123.1,378.7 1129.2,378.5" fill="#000"/>
<polygon points="1186.3,378.5 1188.3,384.2 1194.3,384.3 1189.5,388 1191.3,393.8 1186.3,390.4 1181.3,393.8 1183,388 1178.2,384.3 1184.3,384.2" fill="#000"/>
<polygon points="1241.4,382.1 1243.4,387.8 1249.4,388 1244.6,391.7 1246.4,397.5 1241.4,394 1236.4,397.5 1238.1,391.7 1233.3,388 1239.4,387.8" fill="#000"/>
<polygon points="1296.9,383.7 1298.9,389.5 1305,389.6 1300.1,393.3 1301.9,399.1 1296.9,395.6 1291.9,399.1 1293.6,393.3 1288.8,389.6 1294.9,389.5" fill="#000"/>
<polygon points="1351.6,387.8 1353.6,393.5 1359.7,393.6 1354.8,397.3 1356.6,403.1 1351.6,399.7 1346.6,403.1 1348.3,397.3 1343.5,393.6 1349.6,393.5" fill="#000"/>
<polygon points="1407.1,391 1409.1,396.8 1415.2,396.9 1410.3,400.6 1412.1,406.4 1407.1,402.9 1402.1,406.4 1403.8,400.6 1399,396.9 1405.1,396.8" fill="#000"/>
<polygon points="1462.2,394.7 1464.2,400.4 1470.3,400.5 1465.4,404.2 1467.2,410 1462.2,406.6 1457.2,410 1459,404.2 1454.1,400.5 1460.2,400.4" fill="#000"/>
</g>
<rect x="910.6" y="9" width="574.4" height="428" fill="none" stroke="#000" stroke-width="3.3" />
<line x1="910" y1="437" x2="910" y2="447" stroke="#000" stroke-width="2.6" />
<text x="910" y="470.5" font-size="24.5" text-anchor="middle" fill="#000" font-family='"Liberation Sans",sans-serif' font-weight="bold" >0</text>
<line x1="965.2" y1="437" x2="965.2" y2="442.5" stroke="#000" stroke-width="2.6" />
<line x1="1020.4" y1="437" x2="1020.4" y2="447" stroke="#000" stroke-width="2.6" />
<text x="1020.4" y="470.5" font-size="24.5" text-anchor="middle" fill="#000" font-family='"Liberation Sans",sans-serif' font-weight="bold" >10</text>
<line x1="1075.6" y1="437" x2="1075.6" y2="442.5" stroke="#000" stroke-width="2.6" />
<line x1="1130.8" y1="437" x2="1130.8" y2="447" stroke="#000" stroke-width="2.6" />
<text x="1130.8" y="470.5" font-size="24.5" text-anchor="middle" fill="#000" font-family='"Liberation Sans",sans-serif' font-weight="bold" >20</text>
<line x1="1186" y1="437" x2="1186" y2="442.5" stroke="#000" stroke-width="2.6" />
<line x1="1241.2" y1="437" x2="1241.2" y2="447" stroke="#000" stroke-width="2.6" />
<text x="1241.2" y="470.5" font-size="24.5" text-anchor="middle" fill="#000" font-family='"Liberation Sans",sans-serif' font-weight="bold" >30</text>
<line x1="1296.4" y1="437" x2="1296.4" y2="442.5" stroke="#000" stroke-width="2.6" />
<line x1="1351.6" y1="437" x2="1351.6" y2="447" stroke="#000" stroke-width="2.6" />
<text x="1351.6" y="470.5" font-size="24.5" text-anchor="middle" fill="#000" font-family='"Liberation Sans",sans-serif' font-weight="bold" >40</text>
<line x1="1406.8" y1="437" x2="1406.8" y2="442.5" stroke="#000" stroke-width="2.6" />
<line x1="1462" y1="437" x2="1462" y2="447" stroke="#000" stroke-width="2.6" />
<text x="1462" y="470.5" font-size="24.5" text-anchor="middle" fill="#000" font-family='"Liberation Sans",sans-serif' font-weight="bold" >50</text>
<text x="1197" y="508" font-size="25.3" text-anchor="middle" fill="#000" font-family='"Liberation Sans",sans-serif' font-weight="bold" >Concentration of EsY (<tspan font-family='"Liberation Serif",serif' font-weight="bold">μ</tspan>M)</text>
<text transform="translate(878,228) rotate(-90)" font-size="25.6" text-anchor="middle" fill="#000" font-family='"Liberation Sans",sans-serif' font-weight="bold">Emission Intensity</text>
<polygon points="943.1,30.4 945,35.8 950.7,35.9 946.1,39.4 947.8,44.9 943.1,41.6 938.4,44.9 940.1,39.4 935.5,35.9 941.2,35.8" fill="#000"/>
<text x="969" y="43.9" font-size="23.4" text-anchor="start" fill="#000" font-family='"Liberation Sans",sans-serif' font-weight="bold" >Emission at 495 nm</text>
<polygon points="943.4,58.6 934.9,73.6 951.9,73.6" fill="#ff0000"/>
<text x="971" y="73.7" font-size="23.4" text-anchor="start" fill="#000" font-family='"Liberation Sans",sans-serif' font-weight="bold" >Emission at 552 nm</text>
<text transform="translate(792.8,43.2) scale(1,1)" font-size="54" fill="#000" font-family='"Liberation Sans",sans-serif' font-weight="bold">(b)</text>
<g clip-path="url(#clipe)">
<rect x="905.7" y="955.7" width="12.5" height="12.5" fill="#0000ff"/>
<rect x="956.3" y="858.4" width="12.5" height="12.5" fill="#0000ff"/>
<rect x="1008.2" y="783.5" width="12.5" height="12.5" fill="#0000ff"/>
<rect x="1060.5" y="730.8" width="12.5" height="12.5" fill="#0000ff"/>
<rect x="1112.3" y="685.8" width="12.5" height="12.5" fill="#0000ff"/>
<rect x="1164.2" y="651.8" width="12.5" height="12.5" fill="#0000ff"/>
<rect x="1216.5" y="649.3" width="12.5" height="12.5" fill="#0000ff"/>
<rect x="1268.3" y="621" width="12.5" height="12.5" fill="#0000ff"/>
<rect x="1320.2" y="603.6" width="12.5" height="12.5" fill="#0000ff"/>
<rect x="1372.5" y="594.6" width="12.5" height="12.5" fill="#0000ff"/>
<rect x="1424.7" y="584.9" width="12.5" height="12.5" fill="#0000ff"/>
<polygon points="962.6,884.5 964.6,890.3 970.7,890.4 965.8,894.1 967.6,899.9 962.6,896.4 957.6,899.9 959.4,894.1 954.5,890.4 960.6,890.3" fill="#000"/>
<polygon points="1014.5,894.7 1016.5,900.4 1022.5,900.5 1017.7,904.2 1019.5,910 1014.5,906.6 1009.5,910 1011.2,904.2 1006.4,900.5 1012.5,900.4" fill="#000"/>
<polygon points="1066.7,893 1068.7,898.8 1074.8,898.9 1070,902.6 1071.7,908.4 1066.7,904.9 1061.7,908.4 1063.5,902.6 1058.6,898.9 1064.7,898.8" fill="#000"/>
<polygon points="1118.6,910.1 1120.6,915.8 1126.7,915.9 1121.8,919.6 1123.6,925.4 1118.6,922 1113.6,925.4 1115.4,919.6 1110.5,915.9 1116.6,915.8" fill="#000"/>
<polygon points="1170.5,915.3 1172.5,921.1 1178.5,921.2 1173.7,924.9 1175.4,930.7 1170.5,927.2 1165.5,930.7 1167.2,924.9 1162.4,921.2 1168.5,921.1" fill="#000"/>
<polygon points="1222.7,918.2 1224.7,923.9 1230.8,924 1226,927.7 1227.7,933.5 1222.7,930.1 1217.7,933.5 1219.5,927.7 1214.6,924 1220.7,923.9" fill="#000"/>
<polygon points="1274.6,926.3 1276.6,932 1282.7,932.1 1277.8,935.8 1279.6,941.6 1274.6,938.2 1269.6,941.6 1271.4,935.8 1266.5,932.1 1272.6,932" fill="#000"/>
<polygon points="1326.5,929.1 1328.4,934.9 1334.5,935 1329.7,938.7 1331.4,944.5 1326.5,941 1321.5,944.5 1323.2,938.7 1318.4,935 1324.5,934.9" fill="#000"/>
<polygon points="1378.7,930.7 1380.7,936.5 1386.8,936.6 1382,940.3 1383.7,946.1 1378.7,942.6 1373.7,946.1 1375.5,940.3 1370.6,936.6 1376.7,936.5" fill="#000"/>
<polygon points="1431,932.3 1433,938.1 1439.1,938.2 1434.2,941.9 1436,947.7 1431,944.2 1426,947.7 1427.8,941.9 1422.9,938.2 1429,938.1" fill="#000"/>
</g>
<rect x="910.8" y="542.4" width="572.2" height="425.6" fill="none" stroke="#000" stroke-width="3.3" />
<line x1="910" y1="968" x2="910" y2="978" stroke="#000" stroke-width="2.6" />
<text x="910" y="1001.5" font-size="24.5" text-anchor="middle" fill="#000" font-family='"Liberation Sans",sans-serif' font-weight="bold" >0</text>
<line x1="962.1" y1="968" x2="962.1" y2="973.5" stroke="#000" stroke-width="2.6" />
<line x1="1014.2" y1="968" x2="1014.2" y2="978" stroke="#000" stroke-width="2.6" />
<text x="1014.2" y="1001.5" font-size="24.5" text-anchor="middle" fill="#000" font-family='"Liberation Sans",sans-serif' font-weight="bold" >10</text>
<line x1="1066.3" y1="968" x2="1066.3" y2="973.5" stroke="#000" stroke-width="2.6" />
<line x1="1118.4" y1="968" x2="1118.4" y2="978" stroke="#000" stroke-width="2.6" />
<text x="1118.4" y="1001.5" font-size="24.5" text-anchor="middle" fill="#000" font-family='"Liberation Sans",sans-serif' font-weight="bold" >20</text>
<line x1="1170.5" y1="968" x2="1170.5" y2="973.5" stroke="#000" stroke-width="2.6" />
<line x1="1222.6" y1="968" x2="1222.6" y2="978" stroke="#000" stroke-width="2.6" />
<text x="1222.6" y="1001.5" font-size="24.5" text-anchor="middle" fill="#000" font-family='"Liberation Sans",sans-serif' font-weight="bold" >30</text>
<line x1="1274.7" y1="968" x2="1274.7" y2="973.5" stroke="#000" stroke-width="2.6" />
<line x1="1326.8" y1="968" x2="1326.8" y2="978" stroke="#000" stroke-width="2.6" />
<text x="1326.8" y="1001.5" font-size="24.5" text-anchor="middle" fill="#000" font-family='"Liberation Sans",sans-serif' font-weight="bold" >40</text>
<line x1="1378.9" y1="968" x2="1378.9" y2="973.5" stroke="#000" stroke-width="2.6" />
<line x1="1431" y1="968" x2="1431" y2="978" stroke="#000" stroke-width="2.6" />
<text x="1431" y="1001.5" font-size="24.5" text-anchor="middle" fill="#000" font-family='"Liberation Sans",sans-serif' font-weight="bold" >50</text>
<line x1="1483.1" y1="968" x2="1483.1" y2="973.5" stroke="#000" stroke-width="2.6" />
<text x="1197" y="1046" font-size="25.3" text-anchor="middle" fill="#000" font-family='"Liberation Sans",sans-serif' font-weight="bold" >Concentration of NiR (<tspan font-family='"Liberation Serif",serif' font-weight="bold">μ</tspan>M)</text>
<text transform="translate(873,736) rotate(-90)" font-size="25.6" text-anchor="middle" fill="#000" font-family='"Liberation Sans",sans-serif' font-weight="bold">Emission Intensity</text>
<polygon points="955.9,568.8 957.8,574.2 963.5,574.3 958.9,577.8 960.6,583.3 955.9,580 951.2,583.3 952.9,577.8 948.3,574.3 954,574.2" fill="#000"/>
<text x="981.8" y="582.4" font-size="23.4" text-anchor="start" fill="#000" font-family='"Liberation Sans",sans-serif' font-weight="bold" >Emission at 495 nm</text>
<rect x="949.5" y="600" width="12.5" height="12.5" fill="#0000ff"/>
<text x="981.8" y="612.5" font-size="23.4" text-anchor="start" fill="#000" font-family='"Liberation Sans",sans-serif' font-weight="bold" >Emission at 630 nm</text>
<text transform="translate(804.3,528) scale(1,1)" font-size="54" fill="#000" font-family='"Liberation Sans",sans-serif' font-weight="bold">(e)</text>
<g clip-path="url(#cliph)">
<polygon points="922.9,1445.5 924.9,1451.2 931,1451.3 926.1,1455 927.9,1460.8 922.9,1457.4 917.9,1460.8 919.7,1455 914.8,1451.3 920.9,1451.2" fill="#000"/>
<polygon points="977.6,1456.8 979.6,1462.6 985.7,1462.7 980.8,1466.4 982.6,1472.2 977.6,1468.7 972.6,1472.2 974.4,1466.4 969.5,1462.7 975.6,1462.6" fill="#000"/>
<polygon points="1031.9,1465.3 1033.9,1471.1 1040,1471.2 1035.1,1474.9 1036.9,1480.7 1031.9,1477.2 1026.9,1480.7 1028.6,1474.9 1023.8,1471.2 1029.9,1471.1" fill="#000"/>
<polygon points="1086.6,1470.2 1088.6,1475.9 1094.7,1476.1 1089.8,1479.7 1091.6,1485.6 1086.6,1482.1 1081.6,1485.6 1083.3,1479.7 1078.5,1476.1 1084.6,1475.9" fill="#000"/>
<polygon points="1140.9,1475.5 1142.9,1481.2 1149,1481.3 1144.1,1485 1145.9,1490.8 1140.9,1487.4 1135.9,1490.8 1137.6,1485 1132.8,1481.3 1138.9,1481.2" fill="#000"/>
<polygon points="1195.6,1478.3 1197.6,1484 1203.7,1484.2 1198.8,1487.8 1200.6,1493.7 1195.6,1490.2 1190.6,1493.7 1192.3,1487.8 1187.5,1484.2 1193.6,1484" fill="#000"/>
<polygon points="1249.9,1481.1 1251.9,1486.9 1258,1487 1253.1,1490.7 1254.9,1496.5 1249.9,1493 1244.9,1496.5 1246.6,1490.7 1241.8,1487 1247.9,1486.9" fill="#000"/>
<polygon points="1304.6,1483.2 1306.6,1488.9 1312.7,1489 1307.8,1492.7 1309.6,1498.5 1304.6,1495.1 1299.6,1498.5 1301.3,1492.7 1296.5,1489 1302.6,1488.9" fill="#000"/>
<polygon points="1358.9,1485.6 1360.9,1491.3 1366.9,1491.5 1362.1,1495.1 1363.9,1501 1358.9,1497.5 1353.9,1501 1355.6,1495.1 1350.8,1491.5 1356.9,1491.3" fill="#000"/>
<polygon points="1413.2,1487.2 1415.2,1493 1421.2,1493.1 1416.4,1496.8 1418.2,1502.6 1413.2,1499.1 1408.2,1502.6 1409.9,1496.8 1405.1,1493.1 1411.2,1493" fill="#000"/>
<polygon points="1467.9,1488.4 1469.9,1494.2 1475.9,1494.3 1471.1,1498 1472.9,1503.8 1467.9,1500.3 1462.9,1503.8 1464.6,1498 1459.8,1494.3 1465.9,1494.2" fill="#000"/>
<rect x="916.6" y="1461.9" width="12.5" height="12.5" fill="#0000ff"/>
<rect x="971.3" y="1331.4" width="12.5" height="12.5" fill="#0000ff"/>
<rect x="1025.6" y="1244.7" width="12.5" height="12.5" fill="#0000ff"/>
<rect x="1080.3" y="1212.7" width="12.5" height="12.5" fill="#0000ff"/>
<rect x="1134.6" y="1190.4" width="12.5" height="12.5" fill="#0000ff"/>
<rect x="1189.3" y="1179.9" width="12.5" height="12.5" fill="#0000ff"/>
<rect x="1243.6" y="1167.3" width="12.5" height="12.5" fill="#0000ff"/>
<rect x="1298.3" y="1164.1" width="12.5" height="12.5" fill="#0000ff"/>
<rect x="1352.6" y="1161.7" width="12.5" height="12.5" fill="#0000ff"/>
<rect x="1406.9" y="1159.6" width="12.5" height="12.5" fill="#0000ff"/>
<rect x="1461.6" y="1158" width="12.5" height="12.5" fill="#0000ff"/>
<polygon points="922.9,1230.1 914.4,1245.1 931.4,1245.1" fill="#ff0000"/>
<polygon points="977.6,1310.3 969.1,1325.3 986.1,1325.3" fill="#ff0000"/>
<polygon points="1031.9,1355.7 1023.4,1370.7 1040.4,1370.7" fill="#ff0000"/>
<polygon points="1086.6,1382.9 1078.1,1397.9 1095.1,1397.9" fill="#ff0000"/>
<polygon points="1140.9,1400.7 1132.4,1415.7 1149.4,1415.7" fill="#ff0000"/>
<polygon points="1195.6,1417.7 1187.1,1432.7 1204.1,1432.7" fill="#ff0000"/>
<polygon points="1249.9,1431.1 1241.4,1446.1 1258.4,1446.1" fill="#ff0000"/>
<polygon points="1304.6,1437.6 1296.1,1452.6 1313.1,1452.6" fill="#ff0000"/>
<polygon points="1358.9,1446.5 1350.4,1461.5 1367.4,1461.5" fill="#ff0000"/>
<polygon points="1413.2,1450.1 1404.7,1465.1 1421.7,1465.1" fill="#ff0000"/>
<polygon points="1467.9,1455 1459.4,1470 1476.4,1470" fill="#ff0000"/>
</g>
<rect x="912.4" y="1078.4" width="589.1" height="435.6" fill="none" stroke="#000" stroke-width="3.3" />
<line x1="922.9" y1="1514" x2="922.9" y2="1524" stroke="#000" stroke-width="2.6" />
<text x="922.9" y="1547.5" font-size="24.5" text-anchor="middle" fill="#000" font-family='"Liberation Sans",sans-serif' font-weight="bold" >0</text>
<line x1="977.4" y1="1514" x2="977.4" y2="1519.5" stroke="#000" stroke-width="2.6" />
<line x1="1031.9" y1="1514" x2="1031.9" y2="1524" stroke="#000" stroke-width="2.6" />
<text x="1031.9" y="1547.5" font-size="24.5" text-anchor="middle" fill="#000" font-family='"Liberation Sans",sans-serif' font-weight="bold" >10</text>
<line x1="1086.4" y1="1514" x2="1086.4" y2="1519.5" stroke="#000" stroke-width="2.6" />
<line x1="1140.9" y1="1514" x2="1140.9" y2="1524" stroke="#000" stroke-width="2.6" />
<text x="1140.9" y="1547.5" font-size="24.5" text-anchor="middle" fill="#000" font-family='"Liberation Sans",sans-serif' font-weight="bold" >20</text>
<line x1="1195.4" y1="1514" x2="1195.4" y2="1519.5" stroke="#000" stroke-width="2.6" />
<line x1="1249.9" y1="1514" x2="1249.9" y2="1524" stroke="#000" stroke-width="2.6" />
<text x="1249.9" y="1547.5" font-size="24.5" text-anchor="middle" fill="#000" font-family='"Liberation Sans",sans-serif' font-weight="bold" >30</text>
<line x1="1304.4" y1="1514" x2="1304.4" y2="1519.5" stroke="#000" stroke-width="2.6" />
<line x1="1358.9" y1="1514" x2="1358.9" y2="1524" stroke="#000" stroke-width="2.6" />
<text x="1358.9" y="1547.5" font-size="24.5" text-anchor="middle" fill="#000" font-family='"Liberation Sans",sans-serif' font-weight="bold" >40</text>
<line x1="1413.4" y1="1514" x2="1413.4" y2="1519.5" stroke="#000" stroke-width="2.6" />
<line x1="1467.9" y1="1514" x2="1467.9" y2="1524" stroke="#000" stroke-width="2.6" />
<text x="1467.9" y="1547.5" font-size="24.5" text-anchor="middle" fill="#000" font-family='"Liberation Sans",sans-serif' font-weight="bold" >50</text>
<text x="1206" y="1588" font-size="25.3" text-anchor="middle" fill="#000" font-family='"Liberation Sans",sans-serif' font-weight="bold" >Concentration of NiR (<tspan font-family='"Liberation Serif",serif' font-weight="bold">μ</tspan>M)</text>
<text transform="translate(878,1280) rotate(-90)" font-size="25.6" text-anchor="middle" fill="#000" font-family='"Liberation Sans",sans-serif' font-weight="bold">Emission Intensity</text>
<polygon points="945.2,1092.8 947.1,1098.2 952.8,1098.3 948.2,1101.8 949.9,1107.3 945.2,1104 940.5,1107.3 942.2,1101.8 937.6,1098.3 943.3,1098.2" fill="#000"/>
<text x="972.2" y="1106.5" font-size="23.4" text-anchor="start" fill="#000" font-family='"Liberation Sans",sans-serif' font-weight="bold" >Emission at 495 nm</text>
<polygon points="945.2,1121.9 936.7,1136.9 953.7,1136.9" fill="#ff0000"/>
<text x="972.2" y="1136.9" font-size="23.4" text-anchor="start" fill="#000" font-family='"Liberation Sans",sans-serif' font-weight="bold" >Emission at 552 nm</text>
<rect x="939" y="1155.7" width="12.5" height="12.5" fill="#0000ff"/>
<text x="972.2" y="1167.7" font-size="23.4" text-anchor="start" fill="#000" font-family='"Liberation Sans",sans-serif' font-weight="bold" >Emission at 612 nm</text>
<text transform="translate(815.5,1094.4) scale(1,1)" font-size="54" fill="#000" font-family='"Liberation Sans",sans-serif' font-weight="bold">(h)</text>
<g clip-path="url(#clipk)">
<polygon points="916.8,2008.5 925.8,2017.5 916.8,2026.5 907.8,2017.5" fill="#7f00ff"/>
<polygon points="958.5,1835.1 967.5,1844.1 958.5,1853.1 949.5,1844.1" fill="#7f00ff"/>
<polygon points="1003.1,1860.6 1012.1,1869.6 1003.1,1878.6 994.1,1869.6" fill="#7f00ff"/>
<polygon points="1047.7,1882.5 1056.7,1891.5 1047.7,1900.5 1038.7,1891.5" fill="#7f00ff"/>
<polygon points="1092.3,1897.9 1101.3,1906.9 1092.3,1915.9 1083.3,1906.9" fill="#7f00ff"/>
<polygon points="1136.8,1914.1 1145.8,1923.1 1136.8,1932.1 1127.8,1923.1" fill="#7f00ff"/>
<polygon points="1181.4,1927 1190.4,1936 1181.4,1945 1172.4,1936" fill="#7f00ff"/>
<polygon points="1226,1936.8 1235,1945.8 1226,1954.8 1217,1945.8" fill="#7f00ff"/>
<polygon points="1270.5,1947.3 1279.5,1956.3 1270.5,1965.3 1261.5,1956.3" fill="#7f00ff"/>
<polygon points="1315.1,1951.7 1324.1,1960.7 1315.1,1969.7 1306.1,1960.7" fill="#7f00ff"/>
<polygon points="1359.7,1960.7 1368.7,1969.7 1359.7,1978.7 1350.7,1969.7" fill="#7f00ff"/>
<polygon points="1448.8,1965.9 1457.8,1974.9 1448.8,1983.9 1439.8,1974.9" fill="#7f00ff"/>
<polygon points="922.3,2022.4 915.2,2026.5 908.1,2022.4 908.1,2014.2 915.2,2010.1 922.3,2014.2" fill="#ff8000"/>
<polygon points="965.6,1859.5 958.5,1863.6 951.4,1859.5 951.4,1851.3 958.5,1847.2 965.6,1851.3" fill="#ff8000"/>
<polygon points="1010.2,1811.3 1003.1,1815.4 996,1811.3 996,1803.1 1003.1,1799 1010.2,1803.1" fill="#ff8000"/>
<polygon points="1054.8,1772.4 1047.7,1776.5 1040.6,1772.4 1040.6,1764.2 1047.7,1760.1 1054.8,1764.2" fill="#ff8000"/>
<polygon points="1099.4,1737.5 1092.3,1741.6 1085.2,1737.5 1085.2,1729.3 1092.3,1725.2 1099.4,1729.3" fill="#ff8000"/>
<polygon points="1143.9,1724.2 1136.8,1728.3 1129.7,1724.2 1129.7,1716 1136.8,1711.9 1143.9,1716" fill="#ff8000"/>
<polygon points="1188.5,1711.2 1181.4,1715.3 1174.3,1711.2 1174.3,1703 1181.4,1698.9 1188.5,1703" fill="#ff8000"/>
<polygon points="1233.1,1697.8 1226,1701.9 1218.9,1697.8 1218.9,1689.6 1226,1685.5 1233.1,1689.6" fill="#ff8000"/>
<polygon points="1277.6,1692.6 1270.5,1696.7 1263.4,1692.6 1263.4,1684.4 1270.5,1680.3 1277.6,1684.4" fill="#ff8000"/>
<polygon points="1322.2,1689.7 1315.1,1693.8 1308,1689.7 1308,1681.5 1315.1,1677.4 1322.2,1681.5" fill="#ff8000"/>
<polygon points="1366.8,1685.7 1359.7,1689.8 1352.6,1685.7 1352.6,1677.5 1359.7,1673.4 1366.8,1677.5" fill="#ff8000"/>
<polygon points="1455.9,1684.1 1448.8,1688.2 1441.7,1684.1 1441.7,1675.9 1448.8,1671.8 1455.9,1675.9" fill="#ff8000"/>
</g>
<rect x="914.3" y="1625.5" width="579.2" height="430.5" fill="none" stroke="#000" stroke-width="3.3" />
<line x1="914" y1="2056" x2="914" y2="2066" stroke="#000" stroke-width="2.6" />
<text x="914" y="2089.5" font-size="24.5" text-anchor="middle" fill="#000" font-family='"Liberation Sans",sans-serif' font-weight="bold" >0</text>
<line x1="958.6" y1="2056" x2="958.6" y2="2061.5" stroke="#000" stroke-width="2.6" />
<line x1="1003.1" y1="2056" x2="1003.1" y2="2066" stroke="#000" stroke-width="2.6" />
<text x="1003.1" y="2089.5" font-size="24.5" text-anchor="middle" fill="#000" font-family='"Liberation Sans",sans-serif' font-weight="bold" >10</text>
<line x1="1047.7" y1="2056" x2="1047.7" y2="2061.5" stroke="#000" stroke-width="2.6" />
<line x1="1092.3" y1="2056" x2="1092.3" y2="2066" stroke="#000" stroke-width="2.6" />
<text x="1092.3" y="2089.5" font-size="24.5" text-anchor="middle" fill="#000" font-family='"Liberation Sans",sans-serif' font-weight="bold" >20</text>
<line x1="1136.8" y1="2056" x2="1136.8" y2="2061.5" stroke="#000" stroke-width="2.6" />
<line x1="1181.4" y1="2056" x2="1181.4" y2="2066" stroke="#000" stroke-width="2.6" />
<text x="1181.4" y="2089.5" font-size="24.5" text-anchor="middle" fill="#000" font-family='"Liberation Sans",sans-serif' font-weight="bold" >30</text>
<line x1="1226" y1="2056" x2="1226" y2="2061.5" stroke="#000" stroke-width="2.6" />
<line x1="1270.5" y1="2056" x2="1270.5" y2="2066" stroke="#000" stroke-width="2.6" />
<text x="1270.5" y="2089.5" font-size="24.5" text-anchor="middle" fill="#000" font-family='"Liberation Sans",sans-serif' font-weight="bold" >40</text>
<line x1="1315.1" y1="2056" x2="1315.1" y2="2061.5" stroke="#000" stroke-width="2.6" />
<line x1="1359.7" y1="2056" x2="1359.7" y2="2066" stroke="#000" stroke-width="2.6" />
<text x="1359.7" y="2089.5" font-size="24.5" text-anchor="middle" fill="#000" font-family='"Liberation Sans",sans-serif' font-weight="bold" >50</text>
<line x1="1404.2" y1="2056" x2="1404.2" y2="2061.5" stroke="#000" stroke-width="2.6" />
<line x1="1448.8" y1="2056" x2="1448.8" y2="2066" stroke="#000" stroke-width="2.6" />
<text x="1448.8" y="2089.5" font-size="24.5" text-anchor="middle" fill="#000" font-family='"Liberation Sans",sans-serif' font-weight="bold" >60</text>
<line x1="1493.3" y1="2056" x2="1493.3" y2="2061.5" stroke="#000" stroke-width="2.6" />
<text x="1203" y="2138" font-size="25.3" text-anchor="middle" fill="#000" font-family='"Liberation Sans",sans-serif' font-weight="bold" >Concentration of NiR (<tspan font-family='"Liberation Serif",serif' font-weight="bold">μ</tspan>M)</text>
<text transform="translate(878,1824) rotate(-90)" font-size="25.6" text-anchor="middle" fill="#000" font-family='"Liberation Sans",sans-serif' font-weight="bold">Emission Intensity</text>
<polygon points="948.2,1644.2 957.2,1653.2 948.2,1662.2 939.2,1653.2" fill="#7f00ff"/>
<text x="974.3" y="1659.7" font-size="23.4" text-anchor="start" fill="#000" font-family='"Liberation Sans",sans-serif' font-weight="bold" >Emission at 530 nm</text>
<polygon points="955.3,1687.3 948.2,1691.4 941.1,1687.3 941.1,1679.1 948.2,1675 955.3,1679.1" fill="#ff8000"/>
<text x="974.3" y="1690.1" font-size="23.4" text-anchor="start" fill="#000" font-family='"Liberation Sans",sans-serif' font-weight="bold" >Emission at 612 nm</text>
<text transform="translate(819.5,1646.8) scale(1,1)" font-size="54" fill="#000" font-family='"Liberation Sans",sans-serif' font-weight="bold">(k)</text>
<rect x="1652" y="8" width="381.6" height="417" fill="#000" stroke="none" stroke-width="0" />
<line x1="1711.3" y1="36.4" x2="1711.3" y2="385.3" stroke="#aaaaaa" stroke-width="1.9" />
<line x1="1747.9" y1="36.4" x2="1747.9" y2="385.3" stroke="#aaaaaa" stroke-width="1.9" />
<line x1="1784.5" y1="36.4" x2="1784.5" y2="385.3" stroke="#aaaaaa" stroke-width="1.9" />
<line x1="1821.1" y1="36.4" x2="1821.1" y2="385.3" stroke="#aaaaaa" stroke-width="1.9" />
<line x1="1857.7" y1="36.4" x2="1857.7" y2="385.3" stroke="#aaaaaa" stroke-width="1.9" />
<line x1="1894.3" y1="36.4" x2="1894.3" y2="385.3" stroke="#aaaaaa" stroke-width="1.9" />
<line x1="1930.9" y1="36.4" x2="1930.9" y2="385.3" stroke="#aaaaaa" stroke-width="1.9" />
<line x1="1967.5" y1="36.4" x2="1967.5" y2="385.3" stroke="#aaaaaa" stroke-width="1.9" />
<line x1="2004.1" y1="36.4" x2="2004.1" y2="385.3" stroke="#aaaaaa" stroke-width="1.9" />
<line x1="1694.8" y1="36.4" x2="1694.8" y2="385.3" stroke="#aaaaaa" stroke-width="1.9" />
<line x1="1694.8" y1="365.2" x2="2003.6" y2="365.2" stroke="#aaaaaa" stroke-width="1.9" />
<line x1="1694.8" y1="328.7" x2="2003.6" y2="328.7" stroke="#aaaaaa" stroke-width="1.9" />
<line x1="1694.8" y1="292.1" x2="2003.6" y2="292.1" stroke="#aaaaaa" stroke-width="1.9" />
<line x1="1694.8" y1="255.6" x2="2003.6" y2="255.6" stroke="#aaaaaa" stroke-width="1.9" />
<line x1="1694.8" y1="219.1" x2="2003.6" y2="219.1" stroke="#aaaaaa" stroke-width="1.9" />
<line x1="1694.8" y1="182.5" x2="2003.6" y2="182.5" stroke="#aaaaaa" stroke-width="1.9" />
<line x1="1694.8" y1="146" x2="2003.6" y2="146" stroke="#aaaaaa" stroke-width="1.9" />
<line x1="1694.8" y1="109.5" x2="2003.6" y2="109.5" stroke="#aaaaaa" stroke-width="1.9" />
<line x1="1694.8" y1="73" x2="2003.6" y2="73" stroke="#aaaaaa" stroke-width="1.9" />
<line x1="1694.8" y1="36.4" x2="2003.6" y2="36.4" stroke="#aaaaaa" stroke-width="1.9" />
<line x1="1694.8" y1="385.3" x2="2003.6" y2="385.3" stroke="#aaaaaa" stroke-width="1.9" />
<use href="#hs" transform="translate(1711.3,365.2) scale(1,0.998)"/>
<text x="1712.2" y="417.6" font-size="32" text-anchor="middle" fill="#fff" font-family='"Liberation Serif",serif' font-weight="bold" clip-path="url(#cbc)">0</text>
<text x="1787.7" y="417.7" font-size="32" text-anchor="middle" fill="#fff" font-family='"Liberation Serif",serif' font-weight="bold" clip-path="url(#cbc)">0.2</text>
<text x="1864.7" y="417.5" font-size="32" text-anchor="middle" fill="#fff" font-family='"Liberation Serif",serif' font-weight="bold" clip-path="url(#cbc)">0.4</text>
<text x="1937.5" y="415.2" font-size="32" text-anchor="middle" fill="#fff" font-family='"Liberation Serif",serif' font-weight="bold" clip-path="url(#cbc)">0.6</text>
<text x="2010.3" y="417" font-size="32" text-anchor="middle" fill="#fff" font-family='"Liberation Serif",serif' font-weight="bold" clip-path="url(#cbc)">0.8</text>
<text x="1675" y="78.2" font-size="32" text-anchor="middle" fill="#fff" font-family='"Liberation Serif",serif' font-weight="bold" clip-path="url(#cbc)">0.8</text>
<text x="1675" y="152.5" font-size="32" text-anchor="middle" fill="#fff" font-family='"Liberation Serif",serif' font-weight="bold" clip-path="url(#cbc)">0.6</text>
<text x="1675" y="224.5" font-size="32" text-anchor="middle" fill="#fff" font-family='"Liberation Serif",serif' font-weight="bold" clip-path="url(#cbc)">0.4</text>
<text x="1675.6" y="298.6" font-size="32" text-anchor="middle" fill="#fff" font-family='"Liberation Serif",serif' font-weight="bold" clip-path="url(#cbc)">0.2</text>
<text x="1683.4" y="378.6" font-size="32" text-anchor="middle" fill="#fff" font-family='"Liberation Serif",serif' font-weight="bold" clip-path="url(#cbc)">0</text>
<polyline points="1805.5,215.5 1807.4,206.5 1813.3,196.5 1823.7,186.4 1836.3,179.1 1850.3,174.1 1864.2,171.8 1878.2,173.2 1886.6,176" fill="none" stroke="#000" stroke-width="5.4" stroke-linejoin="round"/>
<text transform="translate(1542.4,43.2) scale(1,1)" font-size="54" fill="#000" font-family='"Liberation Sans",sans-serif' font-weight="bold">(c)</text>
<rect x="1657.8" y="538.4" width="383.2" height="426.9" fill="#000" stroke="none" stroke-width="0" />
<line x1="1717.4" y1="567.3" x2="1717.4" y2="915.3" stroke="#aaaaaa" stroke-width="1.9" />
<line x1="1753.9" y1="567.3" x2="1753.9" y2="915.3" stroke="#aaaaaa" stroke-width="1.9" />
<line x1="1790.4" y1="567.3" x2="1790.4" y2="915.3" stroke="#aaaaaa" stroke-width="1.9" />
<line x1="1826.9" y1="567.3" x2="1826.9" y2="915.3" stroke="#aaaaaa" stroke-width="1.9" />
<line x1="1863.4" y1="567.3" x2="1863.4" y2="915.3" stroke="#aaaaaa" stroke-width="1.9" />
<line x1="1899.9" y1="567.3" x2="1899.9" y2="915.3" stroke="#aaaaaa" stroke-width="1.9" />
<line x1="1936.4" y1="567.3" x2="1936.4" y2="915.3" stroke="#aaaaaa" stroke-width="1.9" />
<line x1="1972.9" y1="567.3" x2="1972.9" y2="915.3" stroke="#aaaaaa" stroke-width="1.9" />
<line x1="2009.4" y1="567.3" x2="2009.4" y2="915.3" stroke="#aaaaaa" stroke-width="1.9" />
<line x1="1697.6" y1="567.3" x2="1697.6" y2="915.3" stroke="#aaaaaa" stroke-width="1.9" />
<line x1="1697.6" y1="896.3" x2="2009" y2="896.3" stroke="#aaaaaa" stroke-width="1.9" />
<line x1="1697.6" y1="859.7" x2="2009" y2="859.7" stroke="#aaaaaa" stroke-width="1.9" />
<line x1="1697.6" y1="823.2" x2="2009" y2="823.2" stroke="#aaaaaa" stroke-width="1.9" />
<line x1="1697.6" y1="786.6" x2="2009" y2="786.6" stroke="#aaaaaa" stroke-width="1.9" />
<line x1="1697.6" y1="750.1" x2="2009" y2="750.1" stroke="#aaaaaa" stroke-width="1.9" />
<line x1="1697.6" y1="713.5" x2="2009" y2="713.5" stroke="#aaaaaa" stroke-width="1.9" />
<line x1="1697.6" y1="676.9" x2="2009" y2="676.9" stroke="#aaaaaa" stroke-width="1.9" />
<line x1="1697.6" y1="640.4" x2="2009" y2="640.4" stroke="#aaaaaa" stroke-width="1.9" />
<line x1="1697.6" y1="603.8" x2="2009" y2="603.8" stroke="#aaaaaa" stroke-width="1.9" />
<line x1="1697.6" y1="567.3" x2="2009" y2="567.3" stroke="#aaaaaa" stroke-width="1.9" />
<line x1="1697.6" y1="915.3" x2="2009" y2="915.3" stroke="#aaaaaa" stroke-width="1.9" />
<use href="#hs" transform="translate(1717.4,896.3) scale(0.997,0.999)"/>
<text x="1723.7" y="952.2" font-size="32" text-anchor="middle" fill="#fff" font-family='"Liberation Serif",serif' font-weight="bold" clip-path="url(#cbf)">0</text>
<text x="1797.4" y="952.3" font-size="32" text-anchor="middle" fill="#fff" font-family='"Liberation Serif",serif' font-weight="bold" clip-path="url(#cbf)">0.2</text>
<text x="1868.5" y="952.6" font-size="32" text-anchor="middle" fill="#fff" font-family='"Liberation Serif",serif' font-weight="bold" clip-path="url(#cbf)">0.4</text>
<text x="1937.4" y="950.2" font-size="32" text-anchor="middle" fill="#fff" font-family='"Liberation Serif",serif' font-weight="bold" clip-path="url(#cbf)">0.6</text>
<text x="2014.3" y="950.6" font-size="32" text-anchor="middle" fill="#fff" font-family='"Liberation Serif",serif' font-weight="bold" clip-path="url(#cbf)">0.8</text>
<text x="1676" y="613.6" font-size="32" text-anchor="middle" fill="#fff" font-family='"Liberation Serif",serif' font-weight="bold" clip-path="url(#cbf)">0.8</text>
<text x="1676" y="687.5" font-size="32" text-anchor="middle" fill="#fff" font-family='"Liberation Serif",serif' font-weight="bold" clip-path="url(#cbf)">0.6</text>
<text x="1676" y="758.5" font-size="32" text-anchor="middle" fill="#fff" font-family='"Liberation Serif",serif' font-weight="bold" clip-path="url(#cbf)">0.4</text>
<text x="1679" y="833" font-size="32" text-anchor="middle" fill="#fff" font-family='"Liberation Serif",serif' font-weight="bold" clip-path="url(#cbf)">0.2</text>
<text x="1686.8" y="913.2" font-size="32" text-anchor="middle" fill="#fff" font-family='"Liberation Serif",serif' font-weight="bold" clip-path="url(#cbf)">0</text>
<polyline points="1814,746.6 1943.9,772.2" fill="none" stroke="#000" stroke-width="4.8" stroke-linejoin="miter" stroke-linecap="butt"/>
<text transform="translate(1547.5,529.6) scale(1,1)" font-size="54" fill="#000" font-family='"Liberation Sans",sans-serif' font-weight="bold">(f)</text>
<rect x="1657.8" y="1075.6" width="384.9" height="427" fill="#000" stroke="none" stroke-width="0" />
<line x1="1717.4" y1="1103.4" x2="1717.4" y2="1452.6" stroke="#aaaaaa" stroke-width="1.9" />
<line x1="1754.1" y1="1103.4" x2="1754.1" y2="1452.6" stroke="#aaaaaa" stroke-width="1.9" />
<line x1="1790.8" y1="1103.4" x2="1790.8" y2="1452.6" stroke="#aaaaaa" stroke-width="1.9" />
<line x1="1827.5" y1="1103.4" x2="1827.5" y2="1452.6" stroke="#aaaaaa" stroke-width="1.9" />
<line x1="1864.2" y1="1103.4" x2="1864.2" y2="1452.6" stroke="#aaaaaa" stroke-width="1.9" />
<line x1="1900.9" y1="1103.4" x2="1900.9" y2="1452.6" stroke="#aaaaaa" stroke-width="1.9" />
<line x1="1937.6" y1="1103.4" x2="1937.6" y2="1452.6" stroke="#aaaaaa" stroke-width="1.9" />
<line x1="1974.3" y1="1103.4" x2="1974.3" y2="1452.6" stroke="#aaaaaa" stroke-width="1.9" />
<line x1="2011" y1="1103.4" x2="2011" y2="1452.6" stroke="#aaaaaa" stroke-width="1.9" />
<line x1="1698.4" y1="1103.4" x2="1698.4" y2="1452.6" stroke="#aaaaaa" stroke-width="1.9" />
<line x1="1698.4" y1="1434.1" x2="2010.9" y2="1434.1" stroke="#aaaaaa" stroke-width="1.9" />
<line x1="1698.4" y1="1397.4" x2="2010.9" y2="1397.4" stroke="#aaaaaa" stroke-width="1.9" />
<line x1="1698.4" y1="1360.6" x2="2010.9" y2="1360.6" stroke="#aaaaaa" stroke-width="1.9" />
<line x1="1698.4" y1="1323.9" x2="2010.9" y2="1323.9" stroke="#aaaaaa" stroke-width="1.9" />
<line x1="1698.4" y1="1287.1" x2="2010.9" y2="1287.1" stroke="#aaaaaa" stroke-width="1.9" />
<line x1="1698.4" y1="1250.4" x2="2010.9" y2="1250.4" stroke="#aaaaaa" stroke-width="1.9" />
<line x1="1698.4" y1="1213.7" x2="2010.9" y2="1213.7" stroke="#aaaaaa" stroke-width="1.9" />
<line x1="1698.4" y1="1176.9" x2="2010.9" y2="1176.9" stroke="#aaaaaa" stroke-width="1.9" />
<line x1="1698.4" y1="1140.2" x2="2010.9" y2="1140.2" stroke="#aaaaaa" stroke-width="1.9" />
<line x1="1698.4" y1="1103.4" x2="2010.9" y2="1103.4" stroke="#aaaaaa" stroke-width="1.9" />
<line x1="1698.4" y1="1452.6" x2="2010.9" y2="1452.6" stroke="#aaaaaa" stroke-width="1.9" />
<use href="#hs" transform="translate(1717.4,1434.1) scale(1.003,1.004)"/>
<text x="1716" y="1487.5" font-size="32" text-anchor="middle" fill="#fff" font-family='"Liberation Serif",serif' font-weight="bold" clip-path="url(#cbi)">0</text>
<text x="1791.9" y="1486" font-size="32" text-anchor="middle" fill="#fff" font-family='"Liberation Serif",serif' font-weight="bold" clip-path="url(#cbi)">0.2</text>
<text x="1864.6" y="1484" font-size="32" text-anchor="middle" fill="#fff" font-family='"Liberation Serif",serif' font-weight="bold" clip-path="url(#cbi)">0.4</text>
<text x="1934.2" y="1484" font-size="32" text-anchor="middle" fill="#fff" font-family='"Liberation Serif",serif' font-weight="bold" clip-path="url(#cbi)">0.6</text>
<text x="2006" y="1481.8" font-size="32" text-anchor="middle" fill="#fff" font-family='"Liberation Serif",serif' font-weight="bold" clip-path="url(#cbi)">0.8</text>
<text x="1679" y="1146.6" font-size="32" text-anchor="middle" fill="#fff" font-family='"Liberation Serif",serif' font-weight="bold" clip-path="url(#cbi)">0.8</text>
<text x="1679" y="1221.3" font-size="32" text-anchor="middle" fill="#fff" font-family='"Liberation Serif",serif' font-weight="bold" clip-path="url(#cbi)">0.6</text>
<text x="1676" y="1292" font-size="32" text-anchor="middle" fill="#fff" font-family='"Liberation Serif",serif' font-weight="bold" clip-path="url(#cbi)">0.4</text>
<text x="1679" y="1364.8" font-size="32" text-anchor="middle" fill="#fff" font-family='"Liberation Serif",serif' font-weight="bold" clip-path="url(#cbi)">0.2</text>
<text x="1684.8" y="1439.8" font-size="32" text-anchor="middle" fill="#fff" font-family='"Liberation Serif",serif' font-weight="bold" clip-path="url(#cbi)">0</text>
<polygon points="1794.1,1301.4 1841.9,1257.4 1926.3,1301.4" fill="none" stroke="#000" stroke-width="4.6" stroke-linejoin="miter"/>
<text transform="translate(1553.4,1106.8) scale(1,1)" font-size="54" fill="#000" font-family='"Liberation Sans",sans-serif' font-weight="bold">(i)</text>
<rect x="1657.9" y="1630.2" width="382.6" height="424.8" fill="#000" stroke="none" stroke-width="0" />
<line x1="1717.4" y1="1658" x2="1717.4" y2="2005.7" stroke="#aaaaaa" stroke-width="1.9" />
<line x1="1753.9" y1="1658" x2="1753.9" y2="2005.7" stroke="#aaaaaa" stroke-width="1.9" />
<line x1="1790.3" y1="1658" x2="1790.3" y2="2005.7" stroke="#aaaaaa" stroke-width="1.9" />
<line x1="1826.8" y1="1658" x2="1826.8" y2="2005.7" stroke="#aaaaaa" stroke-width="1.9" />
<line x1="1863.2" y1="1658" x2="1863.2" y2="2005.7" stroke="#aaaaaa" stroke-width="1.9" />
<line x1="1899.7" y1="1658" x2="1899.7" y2="2005.7" stroke="#aaaaaa" stroke-width="1.9" />
<line x1="1936.2" y1="1658" x2="1936.2" y2="2005.7" stroke="#aaaaaa" stroke-width="1.9" />
<line x1="1972.6" y1="1658" x2="1972.6" y2="2005.7" stroke="#aaaaaa" stroke-width="1.9" />
<line x1="2009.1" y1="1658" x2="2009.1" y2="2005.7" stroke="#aaaaaa" stroke-width="1.9" />
<line x1="1697.9" y1="1658" x2="1697.9" y2="2005.7" stroke="#aaaaaa" stroke-width="1.9" />
<line x1="1697.9" y1="1986.5" x2="2009.1" y2="1986.5" stroke="#aaaaaa" stroke-width="1.9" />
<line x1="1697.9" y1="1950" x2="2009.1" y2="1950" stroke="#aaaaaa" stroke-width="1.9" />
<line x1="1697.9" y1="1913.5" x2="2009.1" y2="1913.5" stroke="#aaaaaa" stroke-width="1.9" />
<line x1="1697.9" y1="1877" x2="2009.1" y2="1877" stroke="#aaaaaa" stroke-width="1.9" />
<line x1="1697.9" y1="1840.5" x2="2009.1" y2="1840.5" stroke="#aaaaaa" stroke-width="1.9" />
<line x1="1697.9" y1="1804" x2="2009.1" y2="1804" stroke="#aaaaaa" stroke-width="1.9" />
<line x1="1697.9" y1="1767.5" x2="2009.1" y2="1767.5" stroke="#aaaaaa" stroke-width="1.9" />
<line x1="1697.9" y1="1731" x2="2009.1" y2="1731" stroke="#aaaaaa" stroke-width="1.9" />
<line x1="1697.9" y1="1694.5" x2="2009.1" y2="1694.5" stroke="#aaaaaa" stroke-width="1.9" />
<line x1="1697.9" y1="1658" x2="2009.1" y2="1658" stroke="#aaaaaa" stroke-width="1.9" />
<line x1="1697.9" y1="2005.7" x2="2009.1" y2="2005.7" stroke="#aaaaaa" stroke-width="1.9" />
<use href="#hs" transform="translate(1717.4,1986.5) scale(0.996,0.997)"/>
<text x="1725.3" y="2043" font-size="32" text-anchor="middle" fill="#fff" font-family='"Liberation Serif",serif' font-weight="bold" clip-path="url(#cbl)">0</text>
<text x="1797.3" y="2044.5" font-size="32" text-anchor="middle" fill="#fff" font-family='"Liberation Serif",serif' font-weight="bold" clip-path="url(#cbl)">0.2</text>
<text x="1872.3" y="2042.6" font-size="32" text-anchor="middle" fill="#fff" font-family='"Liberation Serif",serif' font-weight="bold" clip-path="url(#cbl)">0.4</text>
<text x="1940.8" y="2046.5" font-size="32" text-anchor="middle" fill="#fff" font-family='"Liberation Serif",serif' font-weight="bold" clip-path="url(#cbl)">0.6</text>
<text x="2013.9" y="2044.5" font-size="32" text-anchor="middle" fill="#fff" font-family='"Liberation Serif",serif' font-weight="bold" clip-path="url(#cbl)">0.8</text>
<text x="1682.6" y="1699" font-size="32" text-anchor="middle" fill="#fff" font-family='"Liberation Serif",serif' font-weight="bold" clip-path="url(#cbl)">0.8</text>
<text x="1682.6" y="1772.7" font-size="32" text-anchor="middle" fill="#fff" font-family='"Liberation Serif",serif' font-weight="bold" clip-path="url(#cbl)">0.6</text>
<text x="1678.9" y="1847.7" font-size="32" text-anchor="middle" fill="#fff" font-family='"Liberation Serif",serif' font-weight="bold" clip-path="url(#cbl)">0.4</text>
<text x="1679" y="1918.5" font-size="32" text-anchor="middle" fill="#fff" font-family='"Liberation Serif",serif' font-weight="bold" clip-path="url(#cbl)">0.2</text>
<text x="1683.4" y="1997.3" font-size="32" text-anchor="middle" fill="#fff" font-family='"Liberation Serif",serif' font-weight="bold" clip-path="url(#cbl)">0</text>
<polyline points="1841.4,1792.5 1928.7,1848.3" fill="none" stroke="#000" stroke-width="4.8" stroke-linejoin="miter" stroke-linecap="butt"/>
<text transform="translate(1547.5,1650.5) scale(1,1)" font-size="54" fill="#000" font-family='"Liberation Sans",sans-serif' font-weight="bold">(l)</text></svg></body></html>
